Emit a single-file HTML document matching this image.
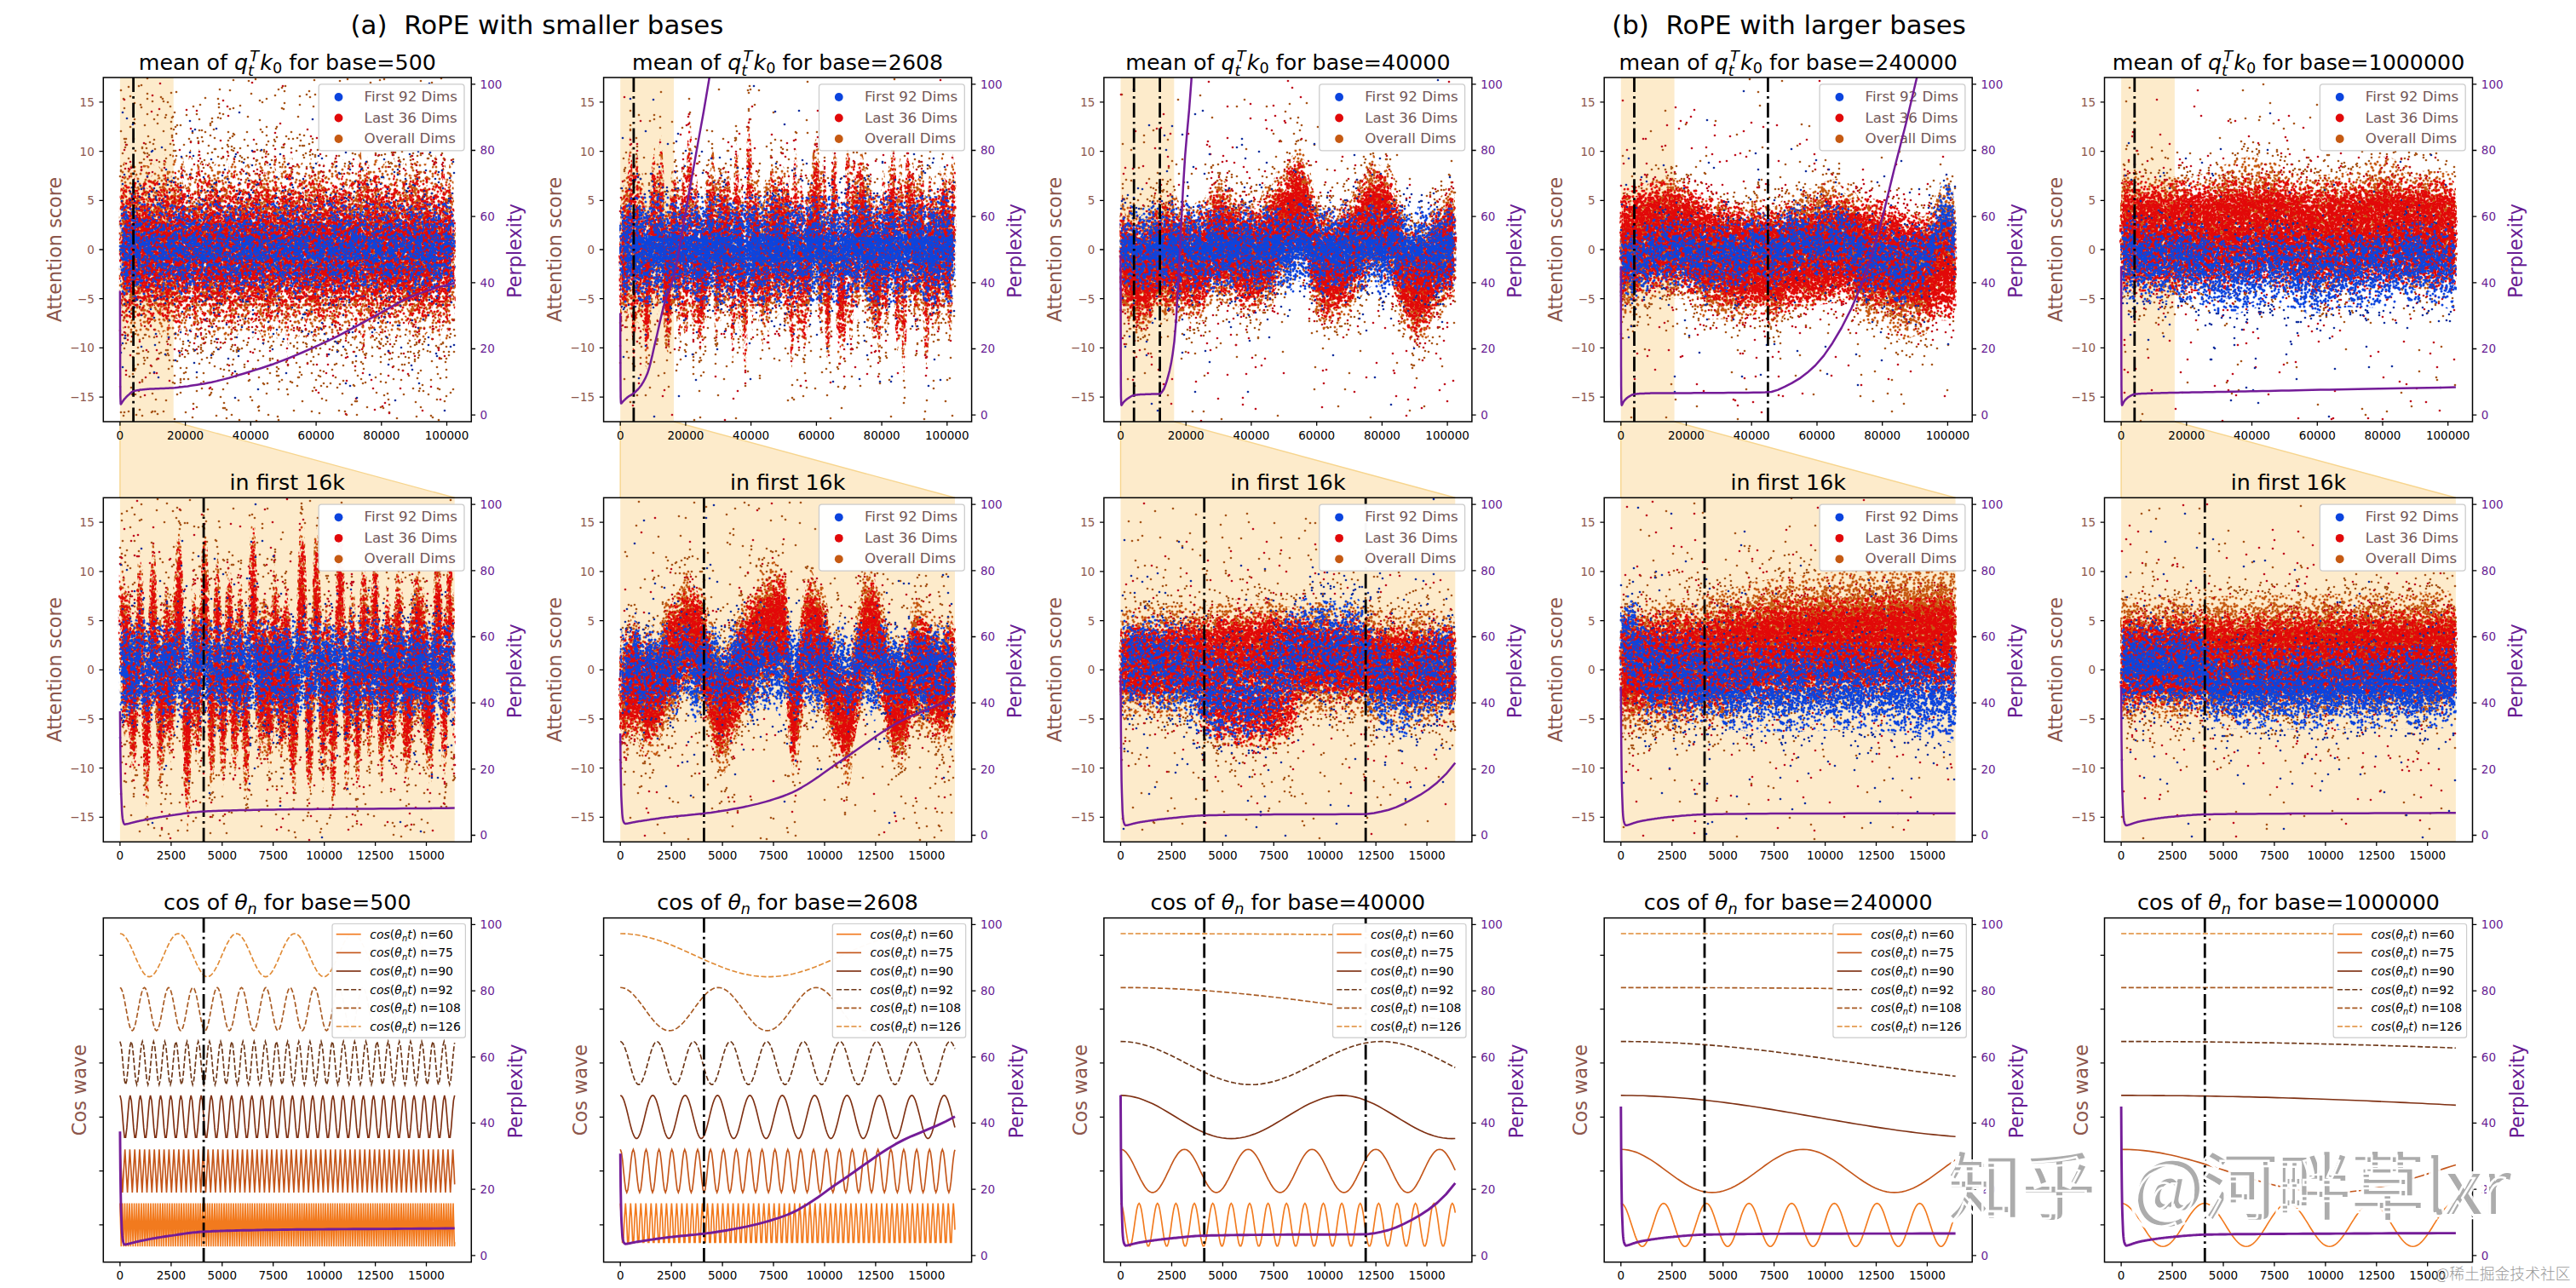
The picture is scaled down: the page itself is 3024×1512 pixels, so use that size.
<!DOCTYPE html><html><head><meta charset="utf-8"><style>html,body{margin:0;padding:0;background:#fff;}svg{display:block}</style></head><body><svg width="3024" height="1512" viewBox="0 0 3024 1512" font-family="'DejaVu Sans', 'Liberation Sans', sans-serif">
<rect width="3024" height="1512" fill="#fff"/>
<text x="630.5" y="40" font-size="30.85" fill="#000" text-anchor="middle" >(a)&#160; RoPE with smaller bases</text>
<text x="2100" y="40" font-size="30.85" fill="#000" text-anchor="middle" >(b)&#160; RoPE with larger bases</text>
<path d="M140.9 495L203.8 495L533.7 584.3L140.9 584.3Z" fill="#fdebcb"/>
<path d="M140.9 584.3L140.9 495M203.8 495L533.7 584.3" stroke="#f7d58e" stroke-width="1.4" fill="none"/>
<path d="M728.2 495L791.1 495L1121 584.3L728.2 584.3Z" fill="#fdebcb"/>
<path d="M728.2 584.3L728.2 495M791.1 495L1121 584.3" stroke="#f7d58e" stroke-width="1.4" fill="none"/>
<path d="M1315.5 495L1378.4 495L1708.3 584.3L1315.5 584.3Z" fill="#fdebcb"/>
<path d="M1315.5 584.3L1315.5 495M1378.4 495L1708.3 584.3" stroke="#f7d58e" stroke-width="1.4" fill="none"/>
<path d="M1902.8 495L1965.7 495L2295.6 584.3L1902.8 584.3Z" fill="#fdebcb"/>
<path d="M1902.8 584.3L1902.8 495M1965.7 495L2295.6 584.3" stroke="#f7d58e" stroke-width="1.4" fill="none"/>
<path d="M2490.1 495L2553 495L2882.9 584.3L2490.1 584.3Z" fill="#fdebcb"/>
<path d="M2490.1 584.3L2490.1 495M2553 495L2882.9 584.3" stroke="#f7d58e" stroke-width="1.4" fill="none"/>
<rect x="140.9" y="91" width="62.8" height="404" fill="#fdebcb"/>
<defs><pattern id="po0" patternUnits="userSpaceOnUse" width="59" height="61"><path d="M-2 29h0m0 20h0m2-40h0m1 29h0m0-7h0m1 22h0m1-21h0m1-2h0m1 21h0m0-41h0m0 40h0m0-29h0m0 8h0m0 14h0m1 4h0m1-5h0m1-43h0m0 61h0m1-37h0m0 10h0m1-32h0m0 61h0m0-53h0m0 17h0m0-26h0m0 61h0m1-62h0m0 61h0m0-23h0m0-24h0m0-10h0m0 55h0m1-44h0m0-12h0m0 61h0m0-8h0m1-8h0m0-5h0m0-13h0m0-12h0m1 20h0m1 1h0m0-15h0m0 14h0m0 3h0m0 14h0m0 0h0m0-21h0m0-24h0m1 1h0m0 36h0m0-23h0m0 4h0m1 31h0m0-5h0m0-14h0m1-10h0m0 4h0m0-26h0m1 34h0m0 6h0m1-28h0m0 31h0m0-51h0m0 61h0m0-1h0m0-58h0m0 61h0m0-36h0m0-5h0m1-10h0m1 40h0m0-32h0m0 11h0m1 11h0m1 9h0m1-3h0m0-18h0m1-10h0m0 34h0m0-53h0m0 61h0m1-23h0m0-28h0m1-3h0m0 39h0m0-40h0m0 35h0m0-15h0m1 21h0m0-16h0m0-6h0m1 15h0m0-36h0m2 23h0m0 30h0m1-39h0m2 35h0m0-9h0m0-12h0m1-19h0m0 8h0m0-19h0m0 22h0m1-14h0m0 0h0m2-3h0m0-4h0m1 15h0m0 29h0m0-34h0m1-13h0m0 61h0m1-39h0m1 32h0m0-1h0m1-26h0m0-24h0m1 36h0m1 16h0m0-22h0m1-12h0m1-5h0m1-13h0m1 42h0m1 9h0m0-42h0m0-14h0m0 61h0m1-17h0m0-11h0m0-19h0m0-6h0m1 22h0m0-24h0m1 16h0m1 23h0m0-32h0m0-12h0m0 61h0m1-7h0m0-40h0m0 8h0m1 25h0m0-17h0m0 20h0m2-40h0m1 29h0m0-7h0m1 22h0" stroke="#c65a12" stroke-width="3.0" stroke-linecap="round"/></pattern><pattern id="po1" patternUnits="userSpaceOnUse" width="53" height="59"><path d="M-1 52h0m0-34h0m0 11h0m3 1h0m0 26h0m1-13h0m1 11h0m0-38h0m2 6h0m0 19h0m1 3h0m0-34h0m1-2h0m1 35h0m0-33h0m1 37h0m1-19h0m0-18h0m2 47h0m0-26h0m1-28h0m1 22h0m2-5h0m0 5h0m1-18h0m1-3h0m0 13h0m1 4h0m0 27h0m0-31h0m1 29h0m2-23h0m0-16h0m0 22h0m1-20h0m0 40h0m0-25h0m2 8h0m0-28h0m1 9h0m2-10h0m3 39h0m2-3h0m2-32h0m0 33h0m2-17h0m1-19h0m0 17h0m1-8h0m2 28h0m1-38h0m0 14h0m3-13h0m0-5h0m0 59h0m1-60h0m0 59h0m1-47h0m0-10h0m0 59h0m1-60h0m0 59h0m1-5h0m0-10h0m0-4h0m1 7h0m1 6h0m0-34h0m0 11h0m3 1h0m0 26h0" stroke="#c65a12" stroke-width="3.0" stroke-linecap="round"/></pattern><pattern id="po2" patternUnits="userSpaceOnUse" width="47" height="53"><path d="M3 30h0m1-16h0m2 26h0m0-2h0m1-3h0m0-37h0m0 53h0m0-12h0m1 6h0m0-19h0m0-3h0m0 22h0m2-45h0m0 53h0m1-32h0m1-23h0m0 53h0m0-3h0m2-20h0m0-3h0m2 14h0m1-25h0m1 1h0m0 11h0m1-18h0m0 23h0m1-7h0m0 19h0m2-20h0m0-4h0m0 31h0m0-27h0m0-24h0m0 53h0m1-26h0m3-6h0m1-17h0m0 28h0m0-31h0m0 53h0m1-46h0m0 44h0m1-47h0m1 13h0m1-2h0m0 20h0m0-22h0m3 18h0m0-26h0m0 15h0m1-15h0m0 36h0m3 8h0m0-48h0m0 53h0m2-43h0m0 7h0m0 16h0m1 3h0m2 1h0m1-36h0m0 53h0m0-39h0m1 24h0" stroke="#c65a12" stroke-width="3.0" stroke-linecap="round"/></pattern><pattern id="po3" patternUnits="userSpaceOnUse" width="43" height="47"><path d="M0 35h0m0 0h0m0-9h0m1-12h0m0 13h0m2-15h0m3 8h0m1-6h0m2-1h0m2 14h0m0-17h0m0 14h0m1-10h0m1-11h0m0 5h0m1 0h0m2 2h0m0 34h0m0-18h0m1 9h0m0 0h0m0-13h0m1-11h0m0 24h0m1-21h0m0 13h0m0-24h0m1 5h0m1 27h0m3-18h0m0 9h0m1-21h0m0 14h0m0-4h0m1 6h0m0 15h0m1 7h0m0-29h0m1-1h0m0 13h0m0-6h0m1 11h0m2-24h0m0 37h0m1-41h0m0 39h0m1-40h0m0 3h0m2 24h0m1-30h0m0 47h0m1-40h0m0 7h0m2 28h0m0-13h0m0 1h0m4 6h0m0 0h0m0-9h0m1-12h0m0 13h0" stroke="#c65a12" stroke-width="3.0" stroke-linecap="round"/></pattern><pattern id="po4" patternUnits="userSpaceOnUse" width="41" height="43"><path d="M0 9h0m0 5h0m0 22h0m1-9h0m1-16h0m1 21h0m0-9h0m1 17h0m0-36h0m1 16h0m0-10h0m1 13h0m0 0h0m2-12h0m0-8h0m1 1h0m1-6h0m0 43h0m0-15h0m1-7h0m1 21h0m1-8h0m0-21h0m0 8h0m1 8h0m0-22h0m1-6h0m0 43h0m1-17h0m1-8h0m1 5h0m0 6h0m0-21h0m3 25h0m0-12h0m1-10h0m1 10h0m0 13h0m1-30h0m0 8h0m0 17h0m0-26h0m1 12h0m0-14h0m0 43h0m0-40h0m0 13h0m0-7h0m1 18h0m0-20h0m3 15h0m2 15h0m0-22h0m0 12h0m3-28h0m0 43h0m0-4h0m0-24h0m1 14h0m1-10h0m1 15h0m0 7h0m0-8h0m0-26h0m4 3h0m0 5h0m0 22h0m1-9h0m1-16h0" stroke="#c65a12" stroke-width="3.0" stroke-linecap="round"/></pattern><pattern id="po5" patternUnits="userSpaceOnUse" width="37" height="41"><path d="M-2 8h0m0 21h0m0-13h0m1 1h0m1 5h0m0-7h0m1-4h0m1-9h0m0 4h0m0 27h0m1-1h0m1-10h0m0 4h0m1-21h0m0 28h0m1-11h0m0 5h0m0-1h0m0 2h0m1-4h0m0 10h0m3-3h0m0-20h0m0 11h0m0-10h0m1 22h0m0-35h0m0 41h0m0-16h0m1 7h0m0-13h0m1 2h0m0 14h0m1-36h0m0 41h0m0-29h0m0 22h0m1-21h0m0 1h0m2 2h0m0 14h0m0-29h0m0 41h0m1-13h0m0-12h0m0-13h0m2 5h0m1 32h0m0-23h0m1-14h0m0 34h0m0-6h0m0 7h0m0-36h0m0 41h0m2-7h0m1-11h0m0 4h0m1-25h0m0 22h0m1-26h0m0 41h0m0-34h0m0 24h0m0-16h0m0-5h0m1 14h0m0-15h0m0 8h0m2 15h0m0-25h0m1 17h0m0 9h0m0-5h0m2-11h0m0 10h0m0 1h0m1-24h0m0 11h0m1-4h0m0-2h0m0 0h0m0 21h0m0-13h0m1 1h0m1 5h0m0-7h0m1-4h0m1-9h0m0 4h0" stroke="#c65a12" stroke-width="3.0" stroke-linecap="round"/></pattern><pattern id="po6" patternUnits="userSpaceOnUse" width="31" height="37"><path d="M-2 11h0m0 3h0m0 19h0m1-10h0m0-10h0m0-3h0m0-1h0m0-8h0m0 37h0m1-14h0m0-25h0m0 37h0m0-13h0m0 7h0m1 3h0m0-35h0m0 37h0m0-27h0m0 16h0m0 5h0m0-12h0m0 1h0m0-10h0m1 8h0m0 6h0m0-4h0m1 5h0m0-1h0m0 2h0m0-10h0m0-10h0m1 27h0m0 0h0m0-10h0m0-23h0m0 37h0m0-22h0m0 2h0m0 0h0m1-5h0m0 21h0m0-21h0m0 2h0m0 20h0m1-8h0m0-20h0m0 5h0m1 24h0m0-17h0m0-8h0m0 21h0m0-18h0m0 8h0m1-20h0m0 37h0m0-34h0m0 37h0m1-35h0m0 3h0m0 22h0m0-15h0m1 1h0m1-2h0m0-2h0m0 1h0m0-2h0m0 16h0m0-18h0m0 21h0m1-21h0m0-9h0m0 37h0m0-36h0m0 37h0m0-14h0m0-24h0m0 37h0m1-19h0m0 5h0m0-21h0m0 37h0m0-39h0m0 37h0m1-2h0m0-6h0m0-26h0m0 26h0m0-7h0m1-16h0m0 21h0m0-4h0m0 5h0m0-15h0m0-5h0m0 6h0m1 16h0m0-18h0m0 4h0m0 1h0m1-9h0m0 2h0m0 8h0m0 13h0m0-12h0m0-10h0m1 21h0m0-15h0m0 8h0m0-8h0m0-12h0m0 12h0m0 18h0m1-16h0m0-5h0m0-10h0m0 37h0m0-24h0m1-10h0m0 24h0m0-23h0m0 2h0m1 25h0m0-27h0m0 5h0m0 8h0m1 16h0m0-1h0m0 0h0m0-27h0m0 13h0m1-18h0m0 37h0m0-17h0m0-7h0m1-15h0m0 37h0m0-32h0m0 27h0m0-3h0m1-20h0m0 10h0m0-8h0m0 13h0m2-14h0m0 18h0m0-17h0m0-5h0m1 5h0m0 1h0m0 3h0m0 12h0m0-25h0m0 37h0m1-20h0m0 12h0m0-19h0m0 3h0m0 19h0m1-10h0m0-10h0m0-3h0m0-1h0m0-8h0m0 37h0m1-14h0m0-25h0m0 37h0m0-13h0m0 7h0m1 3h0m0-35h0m0 37h0m0-27h0m0 16h0m0 5h0m0-12h0m0 1h0m0-10h0m1 8h0m0 6h0m0-4h0" stroke="#c65a12" stroke-width="3.0" stroke-linecap="round"/></pattern><pattern id="pr0" patternUnits="userSpaceOnUse" width="61" height="67"><path d="M-1 60h0m0-45h0m0 1h0m1 42h0m0-52h0m0 37h0m1-30h0m0 45h0m1-47h0m0 0h0m0 4h0m1 9h0m1-21h0m0 29h0m0-25h0m0 55h0m1-5h0m0-8h0m0-47h0m0 67h0m1-47h0m0 25h0m1 2h0m1-14h0m0-2h0m1-11h0m0 14h0m0-21h0m1 8h0m0 32h0m0 5h0m0-33h0m1 22h0m0-14h0m0-30h0m1 3h0m0 28h0m1-26h0m0 2h0m0 27h0m0 14h0m1-47h0m0 2h0m0 28h0m0-4h0m0 18h0m1 1h0m0-45h0m0 59h0m1-44h0m0 34h0m0 8h0m0-16h0m1-41h0m1 24h0m0-17h0m0 46h0m2-38h0m1 31h0m0-16h0m1-5h0m1 11h0m0-40h0m1 41h0m1-26h0m1 13h0m0 28h0m0 4h0m0-64h0m0 67h0m0-23h0m0-18h0m1 11h0m0-16h0m0 42h0m0-7h0m1-2h0m0-9h0m0 0h0m1 18h0m0-42h0m0 29h0m0 8h0m1-33h0m0 13h0m0 22h0m0-51h0m1 37h0m0-7h0m0-32h0m0-4h0m0 67h0m2-19h0m0-22h0m0 6h0m0 30h0m0-56h0m1 51h0m0-31h0m0-23h0m1 1h0m0 46h0m0-42h0m1 28h0m0-21h0m0 42h0m0-52h0m1 8h0m0 9h0m2 31h0m0-31h0m1 12h0m0-28h0m4 51h0m0-13h0m1 1h0m1 15h0m0-35h0m1 7h0m0-18h0m0 2h0m0-17h0m0 67h0m1-65h0m1 62h0m0-49h0m0-12h0m1-2h0m0 67h0m0-15h0m1-49h0m0 36h0m1 5h0m0-35h0m0 29h0m1 25h0m0-10h0m0-42h0m0 39h0m1-8h0m0-20h0m0-5h0m0-17h0m0 67h0m0-13h0m1-22h0m0-28h0m0 7h0m1 48h0m0-20h0m0 21h0m1-12h0m0-14h0m0-35h0m0 67h0m0-45h0m1 11h0m0-20h0m2 47h0m0-45h0m0 1h0m1 42h0m0-52h0m0 37h0m1-30h0m0 45h0m1-47h0m0 0h0" stroke="#e20808" stroke-width="3.0" stroke-linecap="round"/></pattern><pattern id="pr1" patternUnits="userSpaceOnUse" width="59" height="61"><path d="M2 27h0m4-7h0m1-2h0m0 16h0m1-2h0m1 14h0m1 6h0m1-9h0m1 3h0m0-37h0m2 7h0m1 43h0m0-49h0m2 10h0m1 38h0m0-10h0m1-1h0m0-4h0m1 16h0m0-24h0m0 13h0m1 8h0m2-55h0m0 61h0m2-63h0m0 61h0m0-12h0m0-8h0m3 1h0m0-10h0m1 3h0m1-9h0m0-17h0m1 10h0m2 38h0m0-27h0m1 22h0m0-37h0m0 2h0m0-6h0m1-4h0m1 31h0m1 12h0m0 2h0m1-45h0m1 42h0m1-12h0m1 12h0m0-30h0m3 26h0m0-21h0m1-7h0m1-13h0m1 24h0m0 22h0m2 0h0m0-4h0m0 14h0m1-45h0m0-7h0m1 32h0m1 4h0m0-30h0m0-13h0m0 61h0m0-34h0m1-19h0m1 2h0m0 1h0m1 26h0m1-2h0m0 8h0m1-43h0m0 61h0m0-12h0m4-22h0" stroke="#e20808" stroke-width="3.0" stroke-linecap="round"/></pattern><pattern id="pr2" patternUnits="userSpaceOnUse" width="53" height="59"><path d="M-1 33h0m0-14h0m0 36h0m0-55h0m0 59h0m1-33h0m0-2h0m2 2h0m0 2h0m1 25h0m1-32h0m1 8h0m0 25h0m0-47h0m0 3h0m2 32h0m0-11h0m1-14h0m0 29h0m0-15h0m1-10h0m5 14h0m0 0h0m1-15h0m1 13h0m0-24h0m1 36h0m0-31h0m0 43h0m1-57h0m0 59h0m0-34h0m1 14h0m0 7h0m1-21h0m1-2h0m1 29h0m0-47h0m1 26h0m1-33h0m0 59h0m0-27h0m1-18h0m0 4h0m3 25h0m1-1h0m0 12h0m1 3h0m0-52h0m0 29h0m1 10h0m1-35h0m1 49h0m0-30h0m0-21h0m1 26h0m1 12h0m0-33h0m0 43h0m1 0h0m0-26h0m2 22h0m0 5h0m1-4h0m0-18h0m0-28h0m1 11h0m3 29h0m1-20h0m2-26h0m0 59h0m1-26h0m0-25h0m0 17h0m2 7h0m1 4h0m2-1h0m0-14h0m0 36h0m0-55h0m0 59h0m1-33h0m0-2h0m2 2h0" stroke="#e20808" stroke-width="3.0" stroke-linecap="round"/></pattern><pattern id="pr3" patternUnits="userSpaceOnUse" width="47" height="53"><path d="M-2 18h0m0-2h0m0 17h0m0-24h0m4 18h0m2-12h0m1-11h0m1-6h0m0 53h0m2-47h0m0 23h0m0-14h0m0 28h0m1-41h0m0 53h0m0-36h0m0 0h0m2 5h0m0 20h0m1-1h0m1-21h0m1 20h0m1-14h0m1-17h0m0-9h0m0 53h0m0-39h0m2-4h0m0 16h0m0-27h0m0 53h0m1-20h0m0-26h0m0 37h0m0-33h0m1 23h0m0-7h0m1 21h0m0-48h0m0 53h0m1-8h0m0-23h0m2 10h0m2-14h0m0-12h0m0 17h0m0-8h0m2 0h0m0-2h0m0 13h0m0-6h0m1 11h0m1 13h0m1-29h0m0-7h0m0 35h0m1-33h0m0 39h0m1-1h0m0-5h0m2-25h0m1-18h0m0 53h0m0-6h0m2-36h0m1 15h0m0-17h0m0-6h0m1 39h0m1-11h0m0-12h0m1-10h0m1 9h0m0 4h0m2-3h0m0-2h0m0 17h0m0-24h0" stroke="#e20808" stroke-width="3.0" stroke-linecap="round"/></pattern><pattern id="pr4" patternUnits="userSpaceOnUse" width="43" height="47"><path d="M-2 6h0m1 6h0m0-6h0m1 38h0m0-24h0m0 20h0m1-1h0m0-29h0m0-10h0m0 47h0m1-35h0m1 27h0m3-25h0m0 25h0m1-18h0m0 2h0m0 17h0m0-7h0m1-31h0m0 28h0m1-23h0m1 34h0m0-2h0m1-15h0m0 0h0m1-10h0m0 19h0m0-6h0m0 15h0m0-42h0m0 47h0m3-31h0m1 2h0m1 19h0m0-3h0m0-14h0m0-9h0m0 30h0m3-43h0m0 47h0m0-7h0m3-29h0m2 13h0m0 13h0m1 7h0m1-38h0m0-3h0m0 47h0m0-38h0m1 21h0m0-21h0m0 24h0m1-8h0m0-25h0m0 47h0m0-27h0m0 9h0m0-24h0m2 30h0m0-34h0m0 47h0m1-34h0m2 14h0m0-6h0m1-25h0m0 47h0m1-23h0m0 1h0m1 6h0m1 7h0m1-21h0m0 27h0m1 3h0m0-39h0m0 9h0m1-9h0m1 6h0m0-6h0m1 38h0m0-24h0m0 20h0m1-1h0m0-29h0m0-10h0m0 47h0m1-35h0" stroke="#e20808" stroke-width="3.0" stroke-linecap="round"/></pattern><pattern id="pr5" patternUnits="userSpaceOnUse" width="41" height="43"><path d="M-2 33h0m0-16h0m1-4h0m0 6h0m1 9h0m0 12h0m0-2h0m0-35h0m1 19h0m2-2h0m1 17h0m1-25h0m0 6h0m1-15h0m0 31h0m1 2h0m0-29h0m0-2h0m0 30h0m1-24h0m0 17h0m0-23h0m0 24h0m1 10h0m0-33h0m1 15h0m0-6h0m0 11h0m0 10h0m0-28h0m1 29h0m1-10h0m1-8h0m0-5h0m1 12h0m0 3h0m0 4h0m1-13h0m0 13h0m1 2h0m0 3h0m0-22h0m1-14h0m0 43h0m1-45h0m0 43h0m0-37h0m1 7h0m0 13h0m2 5h0m0-3h0m0-4h0m1 16h0m1-12h0m1-21h0m0 30h0m1-32h0m0-1h0m0 17h0m1-13h0m0-3h0m1 29h0m0-10h0m1 7h0m0-14h0m0 12h0m1 2h0m0-16h0m1-7h0m0 8h0m0 12h0m1-22h0m0 27h0m0-24h0m0-1h0m0-2h0m1 23h0m0 4h0m1-28h0m0 3h0m2 22h0m0-29h0m0 43h0m1-45h0m0 43h0m0-43h0m0 43h0m0-21h0m1 17h0m0-5h0m1-13h0m1 2h0m0 15h0m0-4h0m0-16h0m1-4h0m0 6h0m1 9h0m0 12h0m0-2h0m0-35h0m1 19h0" stroke="#e20808" stroke-width="3.0" stroke-linecap="round"/></pattern><pattern id="pr6" patternUnits="userSpaceOnUse" width="37" height="41"><path d="M-2 4h0m0-5h0m0 41h0m0-7h0m0-3h0m1-19h0m0 17h0m0-18h0m0 29h0m0-9h0m1-4h0m0-2h0m0 11h0m0-31h0m0 7h0m0-9h0m0 28h0m1 8h0m0-13h0m0-14h0m0-6h0m0 6h0m0 16h0m0-17h0m0 13h0m1 13h0m0-21h0m0-11h0m0-4h0m0 41h0m2-37h0m0 16h0m0-16h0m0 15h0m0-6h0m0 4h0m0 19h0m0-12h0m0-13h0m0 25h0m0-30h0m1 4h0m0 14h0m0-18h0m0 1h0m0-1h0m0-3h0m1 27h0m0 4h0m0-23h0m0-9h0m0 41h0m0-14h0m1-28h0m0 41h0m0-20h0m0 12h0m0-19h0m0-15h0m0 41h0m1-18h0m0 1h0m0-24h0m0 41h0m0-13h0m0 4h0m1-34h0m0 41h0m0-10h0m0-19h0m0-8h0m0 41h0m0-12h0m0-20h0m0 23h0m0-32h0m0 41h0m1-13h0m0-29h0m0 41h0m0-33h0m0 26h0m1-29h0m0 20h0m1-5h0m0 13h0m0-9h0m1-16h0m0-6h0m0 22h0m0 0h0m0 8h0m0-24h0m0 27h0m0-15h0m1 9h0m0-25h0m0 10h0m0-2h0m0 12h0m0-15h0m0 13h0m1 11h0m0-21h0m0 23h0m0-9h0m0 6h0m0 1h0m0 4h0m0-5h0m0 5h0m0-9h0m1-17h0m0 23h0m0-17h0m2 18h0m0-5h0m0-30h0m0 41h0m0-4h0m1-26h0m0-6h0m0 11h0m0-4h0m0 7h0m0 15h0m1-6h0m0-9h0m1-6h0m0-8h0m0 22h0m0 0h0m0-22h0m0 30h0m1-14h0m0 3h0m0-12h0m0-8h0m1 13h0m0 6h0m0-14h0m1-1h0m0 23h0m0 2h0m0-25h0m0 11h0m1 3h0m0 10h0m0-33h0m0 41h0m0-15h0m0-7h0m1-18h0m0 41h0m0-31h0m0 1h0m0 27h0m0-36h0m0 9h0m1 9h0m0-18h0m0 18h0m0-22h0m0 41h0m0-7h0m1 2h0m0-22h0m0 13h0m0 6h0m0-2h0m1-13h0m0-3h0m0 12h0m0 2h0m1 4h0m0-27h0m0 22h0m0-4h0m1-2h0m0-6h0m0 15h0m1 6h0m0-32h0m0 17h0m1-17h0m0-1h0m0 33h0m1-6h0m0-16h0m0-12h0m0 41h0m0-11h0m0-19h0m0-4h0m0 29h0m0-25h0m0-13h0m0 41h0m0-2h0m1-35h0m0 8h0m0-8h0m0-5h0m0 41h0m0-7h0m0-3h0m1-19h0m0 17h0m0-18h0m0 29h0m0-9h0m1-4h0m0-2h0m0 11h0m0-31h0m0 7h0m0-9h0m0 28h0m1 8h0m0-13h0m0-14h0m0-6h0m0 6h0m0 16h0m0-17h0m0 13h0m1 13h0m0-21h0" stroke="#e20808" stroke-width="3.0" stroke-linecap="round"/></pattern><pattern id="pb0" patternUnits="userSpaceOnUse" width="67" height="71"><path d="M-2 46h0m1-17h0m0 16h0m1-39h0m1 22h0m0 26h0m1 0h0m0-22h0m0 23h0m1-17h0m1-18h0m0 9h0m2-24h0m1 4h0m0 37h0m1 6h0m1-14h0m0-19h0m0 14h0m0-24h0m1 49h0m0-53h0m1 15h0m0-11h0m1-4h0m0 56h0m0-30h0m0 29h0m1-16h0m0-30h0m0 52h0m1-60h0m0 23h0m0 10h0m0-3h0m0 4h0m0-26h0m0 54h0m1-14h0m0 13h0m1-49h0m0-20h0m0 71h0m1-11h0m0 10h0m1-19h0m0 5h0m1-42h0m0 20h0m1-27h0m0 14h0m1-17h0m0 36h0m0-14h0m0 43h0m1-2h0m0-19h0m1 4h0m1-14h0m0-34h0m0 71h0m1-32h0m0 23h0m0 3h0m0-62h0m1 5h0m0 22h0m0-33h0m0 71h0m0-4h0m0-48h0m1-5h0m0 37h0m0-32h0m0 29h0m2-15h0m0-8h0m1 1h0m1 26h0m1-47h0m1 23h0m0 18h0m2-38h0m0 54h0m0-42h0m0 2h0m1 13h0m0-17h0m0 10h0m1-25h0m1 5h0m0 46h0m0-8h0m1-28h0m0 50h0m0-45h0m1 31h0m0-41h0m0-10h0m1 30h0m0-33h0m0 71h0m0-31h0m0-16h0m0-15h0m0 42h0m2-37h0m0-4h0m1 49h0m0 11h0m1-6h0m1-35h0m0 16h0m0-17h0m0-27h0m0 71h0m1-52h0m4 8h0m2-24h0m0 23h0m0 26h0m1-43h0m0 56h0m0-37h0m0 9h0m2-7h0m0 8h0m1-25h0m0 12h0m0 32h0m0 8h0m1-58h0m0 2h0m0 43h0m0-41h0m0 44h0m1 9h0m0-33h0m2 5h0m1 4h0m1 12h0m1-53h0m0 71h0m1-65h0m0 41h0m1-17h0m0 16h0m1-39h0m1 22h0m0 26h0m1 0h0m0-22h0" stroke="#0b44de" stroke-width="3.0" stroke-linecap="round"/></pattern><pattern id="pb1" patternUnits="userSpaceOnUse" width="61" height="67"><path d="M-2 51h0m1-44h0m1-7h0m0 67h0m0-4h0m1-5h0m1-48h0m0 25h0m2 19h0m1-52h0m2 35h0m1 14h0m1-53h0m0 67h0m1-31h0m2-15h0m1 0h0m1 13h0m0 30h0m0-41h0m1 2h0m0-20h0m3 6h0m1 22h0m0 14h0m1-24h0m0 8h0m1 26h0m1-35h0m0 16h0m1-22h0m0 34h0m1 6h0m1-46h0m0 57h0m2-13h0m0 1h0m1 2h0m1-29h0m1-4h0m1 5h0m0-12h0m1 28h0m1 4h0m2-29h0m1 13h0m0-31h0m0 67h0m0-22h0m1-21h0m0-10h0m2-16h0m0 67h0m1-25h0m0-3h0m1 26h0m2-2h0m1 1h0m0-44h0m0-11h0m2 9h0m0 3h0m1-7h0m2 15h0m0-9h0m1-8h0m2-5h0m2 43h0m2-24h0m1 30h0m0-40h0m1 20h0m1 17h0m1-44h0m1-7h0m0 67h0m0-4h0m1-5h0" stroke="#0b44de" stroke-width="3.0" stroke-linecap="round"/></pattern><pattern id="pb2" patternUnits="userSpaceOnUse" width="59" height="61"><path d="M-2 19h0m0 24h0m1-28h0m0 36h0m1-6h0m1-10h0m0 20h0m1-29h0m1 22h0m0-12h0m1-37h0m0 61h0m1-35h0m1 24h0m3-43h0m1 25h0m0-10h0m0 34h0m4-1h0m1 5h0m0-39h0m1 4h0m1-19h0m1 47h0m1 4h0m1-18h0m0-33h0m0 38h0m1 2h0m1-34h0m3 14h0m1 7h0m1-32h0m0 61h0m0-19h0m1-43h0m0 61h0m0-25h0m1-14h0m0 24h0m1-45h0m0 61h0m0-62h0m0 61h0m2-48h0m0-11h0m0 61h0m1-15h0m3-21h0m0 26h0m1-38h0m0 7h0m1-13h0m2 7h0m0 15h0m0-8h0m3-9h0m1 6h0m0 16h0m1-29h0m0 2h0m1 51h0m0-38h0m0-2h0m5 12h0m0 4h0m0-19h0m0 15h0m1 10h0m0-26h0m0 28h0m0-14h0m1 21h0m4-31h0m0 24h0m1-28h0m0 36h0m1-6h0m1-10h0m0 20h0" stroke="#0b44de" stroke-width="3.0" stroke-linecap="round"/></pattern><pattern id="pb3" patternUnits="userSpaceOnUse" width="53" height="59"><path d="M-1 19h0m1 8h0m3 17h0m0 5h0m1-5h0m0-32h0m0 31h0m1-37h0m0-2h0m3 42h0m1-25h0m0-4h0m2 32h0m0 4h0m2-6h0m1 0h0m0-22h0m0-13h0m1 41h0m0-33h0m1 29h0m1 7h0m1-52h0m0 41h0m1-10h0m1-33h0m1-4h0m0 59h0m0-7h0m1 5h0m3-46h0m1 9h0m0 28h0m0-29h0m0-5h0m0 19h0m1-23h0m2 19h0m0-19h0m0-4h0m1 48h0m1-34h0m0 15h0m1 17h0m1-42h0m0 2h0m0-9h0m0 59h0m0-44h0m1-1h0m0-13h0m0 59h0m1-5h0m0-39h0m1 3h0m0-13h0m1 9h0m1 7h0m2 24h0m0-38h0m0 44h0m2-30h0m0 3h0m1 27h0m1-14h0m1 8h0m2-8h0m1-33h0m0 35h0m1 2h0m0-24h0m3 0h0m1 8h0" stroke="#0b44de" stroke-width="3.0" stroke-linecap="round"/></pattern><pattern id="pb4" patternUnits="userSpaceOnUse" width="47" height="53"><path d="M-1 1h0m0 53h0m0-42h0m2 26h0m1-14h0m0 6h0m1 15h0m0-22h0m1 7h0m1-26h0m0 27h0m3 7h0m1-17h0m1-7h0m1 17h0m0-10h0m0 8h0m0-3h0m1-7h0m1-2h0m0-4h0m0 23h0m1-13h0m0-6h0m2 26h0m1-35h0m1 26h0m0-9h0m0 5h0m1-23h0m0-6h0m0 53h0m1-38h0m0 12h0m0 2h0m2 2h0m0-25h0m1 22h0m0-11h0m0 4h0m0 1h0m1 3h0m1-26h0m0 53h0m0-5h0m0-37h0m1 29h0m5-9h0m1-9h0m0 27h0m0-11h0m0 7h0m2-37h0m0 42h0m0-18h0m2-27h0m0 22h0m1-11h0m0-4h0m1 25h0m2-26h0m1 3h0m0 27h0m0-5h0m0-9h0m1-13h0m1 36h0m0-28h0m0 1h0m1 16h0m2-38h0m0 53h0m0-42h0m2 26h0m1-14h0" stroke="#0b44de" stroke-width="3.0" stroke-linecap="round"/></pattern><pattern id="pb5" patternUnits="userSpaceOnUse" width="43" height="47"><path d="M-2 12h0m1 29h0m0-6h0m1-37h0m0 47h0m0-19h0m0-27h0m0 47h0m1-8h0m0-22h0m1-3h0m0-2h0m1-2h0m0-8h0m0 47h0m1-17h0m0-7h0m0 13h0m1-16h0m1-4h0m0 8h0m0 13h0m0-2h0m1 7h0m2-6h0m0-19h0m0 9h0m0-25h0m0 47h0m1-20h0m0-29h0m0 47h0m2-5h0m0-23h0m3-6h0m0-12h0m0 47h0m0-38h0m0 18h0m1 3h0m0 5h0m1 0h0m0-18h0m0-7h0m1 21h0m0 1h0m1-3h0m0-10h0m1-3h0m0 10h0m3-9h0m0 3h0m0-6h0m2 24h0m0-12h0m0-4h0m0 21h0m1-23h0m0-18h0m0 18h0m0-17h0m1 37h0m1-33h0m0 9h0m3 19h0m0-35h0m0 47h0m0-46h0m0 47h0m0-33h0m0-17h0m0 47h0m1-1h0m0-31h0m0-2h0m0 6h0m1 9h0m0 0h0m1-9h0m0 11h0m1-22h0m0 12h0m0-7h0m1-3h0m1 26h0m1-11h0m2 19h0m0-6h0m1 5h0m0-30h0m1 29h0m0-6h0m1-37h0m0 47h0m0-19h0m0-27h0m0 47h0m1-8h0m0-22h0m1-3h0m0-2h0" stroke="#0b44de" stroke-width="3.0" stroke-linecap="round"/></pattern><pattern id="pb6" patternUnits="userSpaceOnUse" width="41" height="43"><path d="M-2 3h0m1 0h0m0 34h0m0-2h0m1-5h0m0-32h0m0 43h0m1-39h0m0 43h0m0-34h0m0 29h0m1-7h0m0-32h0m0 43h0m0-12h0m0-22h0m0 15h0m1-25h0m0 43h0m0-6h0m0-14h0m0-12h0m0-3h0m1 15h0m0 1h0m0-5h0m1 8h0m0 7h0m0-10h0m0 0h0m0 5h0m1-7h0m0-14h0m0 22h0m0 4h0m0-23h0m0 19h0m0-8h0m0-19h0m1 35h0m0-20h0m0 6h0m0-15h0m0-2h0m0 7h0m1 13h0m0 0h0m0-10h0m0 18h0m0-12h0m0-22h0m0 43h0m0-15h0m0-30h0m0 43h0m0-13h0m1 0h0m0-12h0m0 16h0m0-29h0m0 18h0m0 2h0m0-21h0m1 14h0m0 10h0m0 14h0m0-43h0m0 43h0m0-35h0m0 30h0m0-12h0m1 11h0m1 0h0m0 6h0m0-8h0m0-27h0m0 7h0m0 4h0m0 7h0m1 2h0m0-26h0m0 43h0m0-12h0m0-23h0m0 11h0m2 6h0m0-1h0m1-8h0m0 11h0m0-5h0m0 14h0m1-31h0m0 27h0m0 4h0m1-3h0m0-7h0m0-24h0m0 43h0m0-4h0m1-11h0m0 7h0m0-19h0m0 15h0m0-7h0m0-15h0m1 16h0m0 1h0m0-25h0m0 12h0m0 24h0m1-7h0m0-20h0m0 11h0m0 10h0m0 6h0m1-40h0m0 43h0m0-30h0m0 14h0m0-1h0m1-26h0m0 43h0m0-6h0m0-20h0m0-10h0m0 35h0m1-23h0m0-3h0m0-9h0m0 3h0m0 9h0m0 19h0m0-1h0m0-33h0m0 33h0m1-15h0m0 16h0m0-15h0m0-12h0m0-4h0m0 8h0m1 24h0m0-18h0m0 6h0m0-13h0m0-4h0m0 11h0m0 18h0m1-16h0m0 10h0m0 8h0m1-20h0m0 17h0m0-28h0m0 23h0m0-10h0m0 16h0m1-35h0m0 17h0m0-6h0m0-13h0m0 43h0m0-10h0m0-31h0m0 24h0m0-14h0m0-7h0m1-1h0m0 18h0m0-21h0m0 43h0m0-28h0m1 3h0m0-21h0m0 43h0m1-41h0m0 43h0m0-34h0m0-5h0m0 23h0m1-18h0m0 11h0m0 4h0m1-1h0m0-23h0m0 43h0m0-22h0m0 7h0m0 0h0m0-27h0m0 7h0m1 3h0m0-9h0m0-3h0m0 43h0m0-36h0m0 9h0m0 2h0m0-18h0m0 43h0m0-43h0m0 43h0m1-20h0m0 9h0m1-29h0m0 10h0m0-2h0m0 12h0m0-17h0m1 4h0m0-7h0m0 31h0m0-16h0m0-8h0m0 25h0m1-11h0m0 8h0m0-29h0m1 0h0m0 34h0m0-2h0m1-5h0m0-32h0m0 43h0m1-39h0m0 43h0m0-34h0m0 29h0m1-7h0m0-32h0m0 43h0m0-12h0" stroke="#0b44de" stroke-width="3.0" stroke-linecap="round"/></pattern></defs><path d="M529.8 179.5l-3 18-2 3-2-6-1-11-2-4-4 21-2-3-1-12-2-5-4 17-4-7-4 2-3-5-2 0-2 3-2-2-3 2-3-5-4 13-2-2-2-11-1 0-2 8-6 1-2-2-2-8-4 15-3-3-2-8-6 7-3-7-4-2-2 2-3 11-2-3-3-14-2 4-1 9-1 1-2-2-1-17-2-6-3 27-2 2-4-13-2 0-4 11-4-11-1 0-3 9-2-2-2-13-4 11-3-1-5 4-4-4-2 0-3-4-4 9-2-3-1-6-2-2-3 12-2 3-2-3-2-9-4 6-3-3-1 3-2 1-3-12-2-1-1 6-2 3-2-2-2-10-2 5-2 16-2 3-2-3-1-17-2-9-3 24-2 4-2-3-3-24-2 6-1 13-2 2-3-8-2 0-5 7-5-4-3 0-3 6-4-4-4 3-2-4-2-13-3 14-2-2-2-19-3 23-2 2-2-3-3-2-2 1-2-2-5 5-5-9-5 11-2-3-3-21-2 9-1 16-2 5-2-4-1-18-2-10-2 9-1 18-2 3-2-4-2-15-1-1-1 1-1 8-2 4-2-3-1-6-4-6-3 11 0 5-2 3-2-5-2-14-3 16-2 2-3-5-3 2-2-1-2-8-4 8-6-1-2-2-8-1-4 4-2-4-4 3-2-3-2 0-3 13-1 39-1 1 0 93 1 1 0 21 1 1 1 20 6 20 3-6 3 2 2-4 2-1 5 12 5-14 4 3 2 6 2-1 2-4 3 2 2-5 2-1 4 9 2-8 2-1 2 4 0 6 2 7 2-11 2-3 2 3 1 6 4 3 1 3 2-7 1-14 2-1 3 18 2 4 2-16 2-5 2 2 1 12 2 6 4-17 2 2 2 13 1 0 4-14 2-1 5 9 2-1 3-6 5 0 4 4 1 3 3-4 4 11 2-8 2-2 3 1 4-7 3 2 1 4 5-4 4 3 2 4 5-8 2-1 2 4 2 11 2 2 3-17 2 2 1 11 2 6 4-21 1-1 1 1 1 11 2 6 3-12 3-6 2 4 1 21 2 9 2-25 2-7 2 1 2 10 3-3 2 1 3-9 2-1 4 13 4-10 5 9 5-6 2 2 3-2 3 3 4-5 2 0 4 8 3-2 3 3 4-13 2 3 2 15 3-15 3-4 2 3 3 17 2-4 1-10 2-3 1 1 3 28 1 0 2-27 2-8 3 6 1 13 2 6 3-16 2-1 3 3 3 10 5-18 2 1 3 15 3-11 2-2 3 7 5 1 4-9 2 2 3 11 2-9 2-2 3 10 8-6 3 7 2-8 3-3 2 2 1 7 2 2 3-12 2 2 1 12 2 6 3-22 2-1 4 22 4-21 1-1 2 2 1-3 1-30 1-1 0-91-1-1-2-69z" fill="url(#po0)" fill-rule="evenodd"/><path d="M529.8 198.5l-2 6-1 11-2 3-2-5-1-13-2-4-2 17-2 6-2-3-1-14-2-5-2 14-2 4-2-2-2-7-4 3-4-5-3 4-2-2-3 3-3-7-4 13-2-1-2-11-2 2-2 6-3-1-2 2-4-11-4 15-2-1-3-11-2 1-2 6-2 1-3-7-4-2-2 2-1 8-2 3-2-3-2-13-2-2-2 17-2 1-4-27-2 21-2 7-2-1-3-13-2 1-4 11-2-3-2-9-1 0-2 9-1 1-2-1-2-11-2 7-2 2-1-2-4 0-4 4-3-4-3 0-2-4-2 7-2 2-2-2-1-6-2-3-2 4-1 8-2 2-2-3-2-9-4 7-3-3-1 3-2 1-4-14-4 12-2-2-2-12-2 5-3 18-2 1-2-7 0-10-2-11-3 24-2 4-2-3-3-25-4 22-2-1-3-9-6 7-8-4-3 6-4-4-4 3-2-2-2-10-2 13-2 1-3-19-2 15-2 4-5-5-4 0-2-2-4 6-5-9-5 11-3-6-2-16-2 8-1 17-2 4-2-4-3-27-3 27-2 2-5-22-2 11-2 4-2-2 0-3-5-10-1 1-2 15-2 2-2-4-2-14-4 17-2-1-2-6-4 4-3-8-4 7-6-3-8 0-2-2-4 5-3-5-3 4-4-4-2 6-1 26-1 1 0 98 1 1 1 25 5 16 2 2 2-5 4 2 1-4 2-1 5 10 2-7 3-4 4 3 2 5 4-5 3 3 2-5 2-1 4 8 2-8 2-2 2 4 2 13 2-11 2-4 2 2 1 7 3 2 2 5 2-9 0-8 2-6 2 3 3 21 2-3 1-15 2-5 2 4 3 19 4-19 2 1 1 11 2 4 3-11 3-4 5 10 5-8 5 1 4 4 1 3 3-5 2 2 2 9 4-11 4 2 3-6 2 1 2 5 5-5 4 3 2 4 4-6 3-2 3 6 2 10 4-20 2 3 3 19 3-21 2-2 1 1 3 18 5-18 2-1 4 30 2-24 2-5 2 2 2 11 3-3 3 1 1-6 3-4 4 13 4-11 2 2 3 9 4-7 3 2 3-2 3 4 3-5 3 0 4 7 3-3 3 4 4-13 2 2 2 14 4-15 2-2 2 2 3 18 2-4 1-12 2-5 2 5 2 26 2-8 1-21 2-5 2 3 2 15 2 5 2-13 2-2 4 3 2 9 1 1 1-1 1-8 3-8 2 1 3 15 3-11 2-2 4 8 4 0 4-8 2 2 3 10 2-9 2-3 4 11 7-7 3 7 2-7 3-3 2 3 2 9 4-15 2 2 1 13 2 7 4-25 2 2 3 21 2-6 1-12 2-4 2 2 1-4 0-13 1-1 0-95-1-1-1-42z" fill="url(#po1)" fill-rule="evenodd"/><path d="M529.8 212.5l-2 6-1 11-2 3-2-5-2-18-1 0-2 19-2 5-2-2-1-15-2-6-2 15-2 3-2-2-2-8-5 4-3-5-3 5-2-2-3 3-3-8-2 10-3 3-4-12-2 6-6 3-2-2-2-8-3 12-2 2-4-14-6 11-3-7-5-3-2 11-2 2-2-3-3-16-2 6-1 14-2 2-4-28-2 21-2 6-2-1-2-12-2-3-5 12-2-2-2-10-2 3-1 7-2 2-3-10-3 7-3-4-2 0-5 5-3-4-3 0-2-3-4 9-2-2-3-10-5 14-2-3-2-10-4 8-3-2-3 3-4-14-4 15-2-2-2-15-5 23-2 1-2-5-2-21-3 22-2 4-2-2-3-25-2 17-2 5-2-1-3-10-6 7-7-5-4 6-4-4-4 4-2-2-2-7-2 12-2 2-2-5-1-12-2 11-2 3-4-5-6-2-5 5-5-8-4 10-2 1-2-4-2-17-3 24-2 4-2-3-3-26-3 26-2 2-2-5 0-6-3-13-3 17-1 1-2-2-1-7-4-7-2 5-1 10-2 3-2-4-2-14-2 12-2 3-2-1-2-6-4 5-3-7-3 6-2 0-1-2-4-2-5 2-5-3-4 5-2-4-4 3-4-4-3 18-1 71 1 1 1 40 5 17 2 1 2-5 2 1 1 3 2-5 2-1 5 8 2-5 4-3 6 7 3-6 3 4 2-4 2-1 4 8 2-9 2-2 2 4 2 12 3-14 2-1 2 7 3 3 2 6 2-18 2-4 2 2 2 19 2 3 2-20 2-4 2 4 3 21 3-21 2-2 3 18 2-1 3-11 2-2 5 10 4-7 8 2 3 5 3-6 2 2 2 10 2-9 2-3 3 4 5-6 4 6 2-5 2-1 4 3 1 3 2 0 3-5 3-2 2 3 3 12 4-22 2 4 1 14 2 7 3-22 2-3 4 22 2-4 3-16 1-1 2 1 3 25 2-21 2-4 2 2 2 12 3-3 2 2 3-9 2-1 2 3 2 10 4-12 3 3 2 8 5-8 2 3 4-1 2 3 5-5 3 2 2 5 3-4 3 5 4-13 2 1 1 9 2 4 2-10 3-4 2 2 2 13 2 3 2-18 2-5 2 4 2 27 2-9 1-18 2-4 3 7 2 14 1 0 1-9 2-5 5 3 3 10 2-4 1-8 2-3 3 3 2 12 2-4 1-8 2-2 3 8 4 2 5-9 2 2 3 10 2-10 2-2 2 3 1 7 3-3 2 1 3-4 3 5 2-5 3-2 4 11 4-17 2 2 1 14 2 8 2-20 2-6 2 2 3 22 3-19 2-3 2 0 1-36 1-1-1-66-1-1 0-20z" fill="url(#po2)" fill-rule="evenodd"/><path d="M529.8 225.5l-2 6-1 11-2 2-2-4-2-19-1 0-2 20-2 5-2-2-2-21-2 4-1 11-2 2-2-3-1-6-2-2-4 6-3-6-3 6-2-1-3 3-3-10-2 10-2 3-2-1-3-11-4 8-1-1-4 1-3-9-3 12-2 1-2-3-2-11-1 0-3 10-2 2-2-2-1-5-5-3-2 11-2 2-2-4-3-16-2 8-1 16-2 2-2-7 0-11-2-11-2 20-2 5-2-1-1-8-3-8-5 13-2-1-1-8-2-4-1 7-3 6-3-7-4 4-3-5-3 1-2 4-4-4-3 1-3-2-3 8-2-2-3-10-3 11-2 2-2-3-2-10-3 8-2 1-2-2-3 3-4-14-4 19-2-3-1-13-2-4-3 18-3 5-2-4-2-21-3 22-2 3-2-2-3-23-2 18-2 4-2-2-3-11-6 7-5-5-3 0-3 5-3-2-1-3-4 5-4-6-2 11-2 3-2-5-1-10-2 8-2 2-4-6-2-1-2 1-2-2-5 6-5-9-6 12-2-3-2-16-2 8-1 14-2 4-2-3-3-24-2 20-2 6-2-1-2-17-2-6-2 16-2 4-2-2-1-7-4-8-2 5-1 10-2 2-2-3-2-14-2 11-2 3-4-8-4 5-3-6-2 5-2 1-5-5-3 0-2 3-2 0-5-4-3 6-2-4-4 4-4-6-2 9 0 17-1 1 0 62 1 1 1 23 5 12 3-5 2 1 1 3 4-6 5 6 5-5 6 6 3-6 2 1 2 4 2-4 2-1 4 8 2-11 2-2 2 4 2 13 2-12 2-4 2 1 6 14 2-17 2-3 2 3 2 18 2 3 2-22 2-3 2 4 1 14 2 8 3-23 2-2 4 20 3-9 3-4 2 1 3 9 4-7 3 1 2-1 4 3 2 4 2-7 2-2 3 14 2-10 2-3 3 6 4-5 5 5 3-6 2 0 5 6 6-8 3 3 3 11 2-19 2-4 2 4 1 15 2 8 3-24 2-2 2 5 2 19 2-4 2-14 2-5 2 1 3 21 1-12 3-8 2 2 2 12 3-3 3 2 2-8 2-1 2 3 2 10 4-13 3 2 2 9 5-9 2 4 3-1 3 4 3-4 3-1 4 6 3-5 3 6 2-9 2-3 2 1 3 12 3-12 2-2 2 2 2 12 2 4 2-20 2-6 2 3 2 28 3-25 2-3 2 3 3 17 4-14 6 5 2 8 3-10 3-4 2 4 2 11 1 0 2-11 2-3 4 10 4 0 3-7 2-1 4 12 2-11 2-2 2 3 1 6 3-3 2 2 2-4 5 4 1-3 3-2 2 2 2 8 4-18 2 2 3 22 2-20 2-5 2 2 3 21 3-19 4-6 0-12 1-1 0-52-1-1 0-25-1-1z" fill="url(#po3)" fill-rule="evenodd"/><path d="M529.8 239.5l-1 0-2 16-2 2-2-4-2-19-1 0-2 21-2 4-2-2-1-14-2-7-2 15-2 2-4-12-2 1-3 6-3-6-3 6-2-1-3 3-3-10-2 9-2 3-2-2-3-10-4 8-2-1-3 1-3-9-3 12-2 1-2-3-1-9-2-3-3 12-2 2-2-2-2-7-3-2-2 4-1 9-2 1-2-4-3-17-2 10-1 18-2 2-2-6-2-24-2 18-2 5-2-2-2-12-2-4-5 14-2-1-2-13-1 0-1 7-3 6-3-5-3 3-4-6-2 0-4 5-3-4-3 2-2-3-4 8-6-11-1 6-3 6-2-3-2-10-1 0-2 8-2 1-2-2-3 4-4-14-4 25-2-3-2-23-1 0-4 20-2 2-2-3-2-19-1 1-1 13-3 9-3-7-2-16-2 18-2 3-2-3-3-12-6 7-7-6-4 6-2-1-2-5-4 5-4-3-2 11-2 2-2-3-1-9-4 6-3-6-8-2-1 3-3 2-5-8-4 11-2 2-3-6-1-11-2 7-1 13-2 3-2-3-3-22-2 19-2 5-2-1-4-23-2 18-2 4-6-12-1-5-2 4-1 10-2 2-2-3-2-13-2 9-2 3-2-2-2-7-4 5-2-1-1-3-3 5-6-6-2 0-3 5-7-5-3 6-3-4-2 5-2-1-3-6-2 14 1 74 5 12 3-5 3 5 2-4 2-1 5 3 3-2 5 1 3 4 2-6 2-1 3 6 4-4 3 7 2-2 1-10 2-2 2 4 2 13 4-17 2 1 6 14 2-16 2-2 2 3 3 21 2-8 1-16 2-3 2 4 3 24 3-25 2-3 2 5 2 18 4-11 2-2 2 1 3 9 4-7 6 1 5 6 2-11 2-2 2 6 1 11 2-11 2-3 3 8 4-4 5 4 3-5 3 0 3 4 2 0 6-7 2 3 2 9 1 0 2-20 2-3 2 4 1 16 2 8 3-24 2-3 2 5 2 21 3-8 2-15 2-2 2 4 2 14 2-12 2-3 2 3 2 11 1 1 2-3 3 2 1-5 3-4 2 3 2 10 3-12 2-2 2 2 3 10 3-9 4 4 2-1 3 4 4-4 3 0 3 4 1-5 2-2 3 9 4-12 2 1 3 11 2-8 4-4 2 4 2 12 1 0 2-22 2-6 2 2 2 27 4-22 3 3 3 15 2-10 2-3 6 4 2 8 1 0 2-9 3-3 2 3 2 11 1 0 2-12 2-2 4 10 5-1 3-8 2 2 3 11 2-11 2-2 2 2 1 5 3-2 2 2 3-4 4 4 4-4 4 10 2-15 2-4 2 2 3 22 2-20 2-5 3 6 2 17 3-18 3-6 1-7 0-52-1-1z" fill="url(#po4)" fill-rule="evenodd"/><path d="M529.8 257.5l-1-2-2 16-2 2-2-4-1-14-2-6-2 22-2 4-2-2-3-21-2 14-2 1-2-3-2-9-5 10-3-7-1 3-4 2-2 3-2-1-2-10-2 8-3 3-4-12-4 8-5 0-3-8-3 11-2 1-2-3-1-9-2-3-3 14-2 3-2-2-2-9-2-1-2 1-1 10-2 5-2-2-4-23-3 35-2 2-2-5-2-27-2 15-2 4-3-5-1-10-2-5-5 17-2-1-1-3 0-6-2-6-2 11-2 3-3-3-3 1-5-8-5 6-3-4-2 2-4-1-1 4-3 2-5-11-1 6-3 6-2-3-2-11-1 0-2 9-2 2-2-2-3 3-2-3-2-10-2 16 0 14-2 8-2-4-1-25-2-10-3 15-3 6-2-1-2-18-2 7 0 6-3 7-2-2-3-17-1 14-2 6-2-1-4-17-2 1-4 7-7-7-5 5-4-6-4 6-3 0-2 10-2 3-2-1-2-9-3 1-2-5-3-3-5-1-3 6-2 1-5-9-4 11-3 4-2-3-2-12-1 12-3 7-2-2-3-19-2 18-2 4-3-6-1-13-2-6-2 20-2 3-3-6-3-2-2-8-2 12-2 3-1-1-3-16-2 8-2 2-2-2-2-7-4 6-3-3-3 5-2-1-2-5-4-2-2 7-2 2-4-7-2-1-1 4-2 2-3-3-3 6-4-8-1 6 1 57 4 6 4-3 2 5 3-5 3 1 4-1 10 5 2-6 2-1 3 8 4-4 4 7 2-14 2-3 2 4 2 13 3-16 2-2 2 1 5 14 1-10 3-6 3 8 2 16 3-27 2-3 2 4 3 27 3-27 2-4 2 4 2 21 1 0 5-11 2 1 3 9 4-7 2 2 4 0 5 4 2-17 2-5 2 5 1 18 2-11 2-4 4 14 3-4 5 4 3-6 8 4 6-7 3 5 1 5 2-7 1-16 2-2 2 5 3 26 3-26 2-3 2 3 1 19 2 7 4-24 2-3 2 2 2 8 1-4 2-2 2 1 3 14 3-3 3 3 4-8 2 3 2 9 2-9 3-6 2 1 3 11 2-8 2-2 2 4 3 1 3 4 6-4 3 2 4-11 2 5 1 9 2-7 3-4 2 3 2 9 3-10 2-2 3 4 2 11 2-7 2-24 2-2 2 6 1 21 1 0 1-11 2-4 3 4 3 14 2-11 2-2 6 4 2 7 4-8 2-1 3 6 1 7 2-4 1-8 2-3 4 11 2-2 2 2 3-8 2-1 4 12 2-10 2-3 3 6 2-2 3 2 3-3 2 1 1 3 5-2 4 8 2-16 2-4 3 6 2 17 2-19 2-4 3 6 2 17 6-31z" fill="url(#po5)" fill-rule="evenodd"/><path d="M141 207h0m0 247h0m1-348h0m0 48h0m0 41h0m0 5h0m0 1h0m0 204h0m0 79h0m1-91h0m1-213h0m1-64h0m0 372h0m1-361h0m0 36h0m0 234h0m0 12h0m0 75h0m1-317h0m0 6h0m1-10h0m0 240h0m1-233h0m2-68h0m0 84h0m0 297h0m1-41h0m1-329h0m0 36h0m1 252h0m0 54h0m1 8h0m1-44h0m0 20h0m1-276h0m0 266h0m1-308h0m0 19h0m0 5h0m0 290h0m1-258h0m0 215h0m0 41h0m0 30h0m1 24h0m1-72h0m1-7h0m0 20h0m1-327h0m0 314h0m0 44h0m1-268h0m0 290h0m1-358h0m0 343h0m1-366h0m0 26h0m0 65h0m1-18h0m0 1h0m0 272h0m0 2h0m0 40h0m1-91h0m0 15h0m1-233h0m0 8h0m0 233h0m0 7h0m1-280h0m0 33h0m0 213h0m0 30h0m1-254h0m0 224h0m1-219h0m1-82h0m0 18h0m0 6h0m0 18h0m0 46h0m0 240h0m1-260h0m0 253h0m1-231h0m1-15h0m0 21h0m0 250h0m2-8h0m0 54h0m1-365h0m0 343h0m0 21h0m1-314h0m1-29h0m0 24h0m0 232h0m1-221h0m0 308h0m1-14h0m1-47h0m1-287h0m0 10h0m0 341h0m2-296h0m0 212h0m0 13h0m2-301h0m0 300h0m2-298h0m1 3h0m0 35h0m0 329h0m2-345h0m0 38h0m1-41h0m0 51h0m0 225h0m0 6h0m0 53h0m1-69h0m1-281h0m0 291h0m0 4h0m1 2h0m0 16h0m1-10h0m1-298h0m0 44h0m0 13h0m0 223h0m1-296h0m0 34h0m0 8h0m1-13h0m0 21h0m0 2h0m0 269h0m1-293h0m0 312h0m1-297h0m0 18h0m0 7h0m0 246h0m1-291h0m0 309h0m0 9h0m0 42h0m1-343h0m0 28h0m1-69h0m0 49h0m0 26h0m1-36h0m0 277h0m0 39h0m3-46h0m0 1h0m0 36h0m1-307h0m0 285h0m0 13h0m0 1h0m0 3h0m0 12h0m1-49h0m1-3h0m1-8h0m0 3h0m1-234h0m0 268h0m0 7h0m1-26h0m1 18h0m0 47h0m1-349h0m0 48h0m0 249h0m1-20h0m1 3h0m0 30h0m1-282h0m0 243h0m1-4h0m1-236h0m2-10h0m0 334h0m1-365h0m0 285h0m0 64h0m1-62h0m3-278h0m0 309h0m0 16h0m0 19h0m1-316h0m0 253h0m1-249h0m0 241h0m1-267h0m0 13h0m0 274h0m1-304h0m1 282h0m0 3h0m0 2h0m0 4h0m0 36h0m1-297h0m0 8h0m0 29h0m0 232h0m0 34h0m1-290h0m0 246h0m1-215h0m0 206h0m0 35h0m0 10h0m1-260h0m1-73h0m0 40h0m0 247h0m1-10h0m0 4h0m1 24h0m1-240h0m1-9h0m1 255h0m0 38h0m1-319h0m0 2h0m0 12h0m0 304h0m1-63h0m0 3h0m0 17h0m0 41h0m1-322h0m0 4h0m0 36h0m0 236h0m0 42h0m1-266h0m0 225h0m1-264h0m0 261h0m1-251h0m0 13h0m0 226h0m0 29h0m1-255h0m1 233h0m0 80h0m2-372h0m0 22h0m0 46h0m1-62h0m0 4h0m0 284h0m1-305h0m0 28h0m1 6h0m0 294h0m0 33h0m1-280h0m1-12h0m1-40h0m0 51h0m0 218h0m0 39h0m0 15h0m0 22h0m1-285h0m0 240h0m0 39h0m1 6h0m1-81h0m1 83h0m0 10h0m1-321h0m0 258h0m0 22h0m1-295h0m0 10h0m0 7h0m1 263h0m1-329h0m0 22h0m0 34h0m1 248h0m1-238h0m0 4h0m0 231h0m0 33h0m0 47h0m1-327h0m0 245h0m0 23h0m1-334h0m0 33h0m0 30h0m0 20h0m0 235h0m0 10h0m1-264h0m0 16h0m1 222h0m1 46h0m1-31h0m0 2h0m0 26h0m1-31h0m0 2h0m1 60h0m1-281h0m0 221h0m0 83h0m1-369h0m0 50h0m0 9h0m2 2h0m0 5h0m0 219h0m2-9h0m1-236h0m0 23h0m0 241h0m0 3h0m3-276h0m0 250h0m1-268h0m0 34h0m0 14h0m0 217h0m1-307h0m0 352h0m1-1h0m1 20h0m1-356h0m1 360h0m1-37h0m0 1h0m2-24h0m1-317h0m0 340h0m1-264h0m0 19h0m0 1h0m0 305h0m1-318h0m0 12h0m1 235h0m0 55h0m1-35h0m0 34h0m0 5h0m1-364h0m0 23h0m0 271h0m1-260h0m0 25h0m2-57h0m0 35h0m0 30h0m1 233h0m0 32h0m1-274h0m0 2h0m0 273h0m3-335h0m0 33h0m0 10h0m0 11h0m0 292h0m1-29h0m0 17h0m1-284h0m0 15h0m0 220h0m0 86h0m2-79h0m0 13h0m0 2h0m0 15h0m1-241h0m1-9h0m0 218h0m1 15h0m1-250h0m0 230h0m1-237h0m1-52h0m0 54h0m1-15h0m1-2h0m0 12h0m0 265h0m0 5h0m0 5h0m0 5h0m1 48h0m1-384h0m0 328h0m0 8h0m0 16h0m0 36h0m1-302h0m0 257h0m1-252h0m1 209h0m1-302h0m0 24h0m0 46h0m0 273h0m1-45h0m1-273h0m0 45h0m1-66h0m0 14h0m0 48h0m1-68h0m1 59h0m0 265h0m1 32h0m1-28h0m0 34h0m1-300h0m2 240h0m0 45h0m1-293h0m0 19h0m1 275h0m1-286h0m1 243h0m0 1h0m0 75h0m3-305h0m0 249h0m1-264h0m0 240h0m0 7h0m0 5h0m0 39h0m1-316h0m0 306h0m1 0h0m1-330h0m0 10h0m0 35h0m0 13h0m0 260h0m0 6h0m1-272h0m1 223h0m0 2h0m0 50h0m1-269h0m0 300h0m1-289h0m0 220h0m1-243h0m0 12h0m0 14h0m0 210h0m2-215h0m0 223h0m1-292h0m0 85h0m0 208h0m0 3h0m0 9h0m1 10h0m2-319h0m0 62h0m1-55h0m0 64h0m0 4h0m1 242h0m1-17h0m0 4h0m0 2h0m0 25h0m0 45h0m1-320h0m0 4h0m0 14h0m0 278h0m1-334h0m0 274h0m0 20h0m0 9h0m1-334h0m0 361h0m1-344h0m0 71h0m0 2h0m0 216h0m1 9h0m0 37h0m2-270h0m1 240h0m0 25h0m1 44h0m1-86h0m0 10h0m0 26h0m0 7h0m1 11h0m1-50h0m0 65h0m2-68h0m0 36h0m0 14h0m2-46h0m1-221h0m0 287h0m1-16h0m4-4h0m2-39h0m0 23h0m1-27h0m2-6h0m0 27h0m1 15h0m1-16h0m1-25h0m0 9h0m0 44h0m1-54h0m0 11h0m1-229h0m0 299h0m1-387h0m0 306h0m0 50h0m1-52h0m1 18h0m1 45h0m1-33h0m0 18h0m2-255h0m0 218h0m0 73h0m1-72h0m1 4h0m0 72h0m1-394h0m1 309h0m1-212h0m2 215h0m1 70h0m1-295h0m0 216h0m0 29h0m0 1h0m1 26h0m1-39h0m0 40h0m1-272h0m0 254h0m0 36h0m1-47h0m1-16h0m0 63h0m0 16h0m1-46h0m2-30h0m1-9h0m1 23h0m0 20h0m2-18h0m0 23h0m1-17h0m1-17h0m1 1h0m0 32h0m1-34h0m1 63h0m4-381h0m2 311h0m0 10h0m3-19h0m1-219h0m0 263h0m1-46h0m0 64h0m1-54h0m1-224h0m1 218h0m0 8h0m1-315h0m0 309h0m1 0h0m0 1h0m0 15h0m0 6h0m0 14h0m0 9h0m0 30h0m1-296h0m2 224h0m0 73h0m1-386h0m0 371h0m1-283h0m0 235h0m1-21h0m0 9h0m0 45h0m2-52h0m0 4h0m0 61h0m1-272h0m0 279h0m1-277h0m0 222h0m0 8h0m0 53h0m0 9h0m1-288h0m1-5h0m1-12h0m0 13h0m0 229h0m1-240h0m0 226h0m0 7h0m1-232h0m0 248h0m0 15h0m1-41h0m1-225h0m1 221h0m1 91h0m2-306h0m0 4h0m0 230h0m0 15h0m1-246h0m1 2h0m1 225h0m0 31h0m1-268h0m0 250h0m1 7h0m1-248h0m0 276h0m1-35h0m1-35h0m0 26h0m3-16h0m0 10h0m1 7h0m0 6h0m0 15h0m1-41h0m1-216h0m0 4h0m0 219h0m0 6h0m1-230h0m2-3h0m0 276h0m1-41h0m1-10h0m0 17h0m0 2h0m1 48h0m1-70h0m0 2h0m0 85h0m1-306h0m0 261h0m1-30h0m0 6h0m0 18h0m1-36h0m0 10h0m0 5h0m0 42h0m1-60h0m0 57h0m1-361h0m0 85h0m0 2h0m0 253h0m0 43h0m2-74h0m0 48h0m1-42h0m0 49h0m1-58h0m1-3h0m3-212h0m0 226h0m1-226h0m0 277h0m1-282h0m1 232h0m1-230h0m0 263h0m0 42h0m1-391h0m0 327h0m1 66h0m4-84h0m1 25h0m0 38h0m1-61h0m0 31h0m0 17h0m1-48h0m0 85h0m1-73h0m0 37h0m1-13h0m1-352h0m0 312h0m0 17h0m1-241h0m1 222h0m0 1h0m1 10h0m1-225h0m0 283h0m1-46h0m1-18h0m0 14h0m0 13h0m0 9h0m0 22h0m3-52h0m0 4h0m1-21h0m1-4h0m0 69h0m3-274h0m0 270h0m1-82h0m0 1h0m0 11h0m0 26h0m1-19h0" stroke="#a8561a" stroke-width="2.7" stroke-linecap="round"/><path d="M142.8 210.5l-3 28 0 101 3 26 4 8 2 9 2-5 2-2 1 2 2 0 1-4 2-1 5 14 2-5 1-9 2-3 3 2 3 10 4-7 3 1 3-6 2 1 3 8 4-8 4 18 2-12 2-4 2 4 1 8 3 1 2 5 2-7 1-17 2-1 3 19 2 5 4-21 2 3 1 11 2 5 2-11 2-4 2 2 2 11 2-3 2-9 3-3 6 10 4-9 6 1 4 7 3-3 4 10 3-8 3-1 4-7 2-1 3 6 5-4 4 4 1 4 3-2 2-5 3-2 2 4 3 15 2-4 0-6 2-7 2 2 1 11 2 4 2-6 1-12 2-2 1 1 1 10 2 5 6-20 2 3 1 27 2 11 2-30 2-7 2 2 2 9 3-3 3 0 2-9 2-1 4 14 2-8 2-2 5 10 5-6 2 2 3-3 3 3 2-4 4-2 2 3 1 6 1 1 2-2 4 3 4-14 2 3 2 14 2-5 1-9 3-4 2 3 3 18 2-3 1-10 2-3 1 1 3 28 1 0 2-17 0-14 2-7 2 2 4 26 3-18 2-1 3 3 2 11 1 0 5-20 2 1 3 16 3-11 2-2 3 7 5 1 4-8 2 2 3 10 2-9 2-2 3 11 5-3 3-4 3 9 3-13 2-1 5 14 3-13 2 2 1 13 2 4 3-22 2-1 2 7 2 16 1-1 2-18 2-2 3 4 2-17 0-99-1-1-2-51-2-9-3 19-2 2-2-5-2-16-2 2-1 13-2 6-2-4-1-12-2-4-4 18-2-1-2-5-4 0-4-5-3 3-2-2-3 2-3-4-4 13-2-2-2-11-3 9-2 1-1-2-3 1-2-2-2-8-3 14-2 2-4-12-6 6-3-6-2 0-3-3-4 12-2-2-3-13-2 3-2 10-2-2-2-24-1 0-3 28-2 3-4-13-2 0-2 9-2 2-4-11-2 2-1 5-2 1-3-17-3 13-9 4-4-4-2 0-3-5-4 9-2-2-1-7-2-2-3 13-2 3-4-11-4 5-3-3-3 3-4-12-2 1-2 6-2-2-2-9-2 5-2 18-2 3-2-3-1-21-2-8-3 26-2 5-2-4-1-17-2-9-2 6-1 14-2 3-3-7-2-1-4 6-2 0-3-3-3 0-4 7-4-4-4 3-2-3-2-18-2 14-1 1-2-1-2-21-2 22-2 6-5-4-4 0-2-2-4 5-3-8-2-1-2 7-3 4-2-2-3-24-2 9-1 19-2 5-2-5-1-19-2-10-2 10-1 18-2 4-5-22-4 11-2-2-1-6-3-5-2 2-2 15-2 2-2-4-2-15-2 6-1 12-2 2-3-6-3 3-2-1-2-9-4 8-2-1-4 1-4-4-2 1-5-1-3 4-3-5-2 3-4-3z" fill="url(#pr0)" fill-rule="evenodd"/><path d="M529.8 207.5l-3 19-2 2-5-22-2 17-2 6-2-3-2-19-2 2-1 12-2 5-5-9-4 1-3-4-3 4-2-2-3 2-3-6-4 14-2-2-2-10-4 8-2-1-3 1-2-2-2-8-2 10-3 5-4-12-6 6-3-6-3 0-1-2-2 1-1 8-2 3-2-2-3-15-2 4-1 12-2 2-2-9-1-18-2 4-2 23-2 2-4-14-2 1-2 8-2 2-2-2-2-10-2 3-1 6-2 2-2-5-1-9-2 9-2 2-3-2-6 3-3-3-2 0-3-5-4 10-2-3-2-9-1 0-3 13-2 2-4-11-4 6-3-3-1 3-2 1-4-14-2 2-2 7-2-2-2-10-5 25-2 1-2-8 0-11-2-12-3 26-2 4-2-3-3-27-4 23-2-1-3-8-5 6-2 0-3-3-3 0-5 7-3-5-4 4-2-2-2-13-2 14-2 2-2-7-1-14-2 17-2 4-5-5-4 0-2-2-2 4-2 1-5-9-5 12-3-6-2-19-2 10-1 18-2 4-2-4-3-27-3 27-2 2-5-23-4 15-2-2-1-8-2-4-2-1-3 16-2 2-2-4-2-14-4 18-2-1-2-5-3 3-2-1-2-8-4 7-3-1-2 1-3-3-5 1-4-2-3 5-3-5-3 3-4-4-2 4-2 16-1 82 1 1 1 31 7 21 3-6 3 3 2-4 2-1 3 4 2 7 3-11 2-2 3 2 3 8 4-7 3 2 1-3 3-2 4 9 2-8 2-2 2 4 2 13 2-13 2-3 2 3 1 8 3 2 2 5 2-10 0-9 2-6 2 2 2 18 2 5 2-18 2-4 2 3 1 13 2 5 4-18 2 1 2 14 4-11 3-4 5 10 2-1 0-3 3-4 6 1 4 7 3-3 2 2 2 8 2-7 3-3 1 1 5-7 3 2 1 3 5-4 6 7 4-6 3-2 2 3 2 12 2 2 1-13 2-6 2 2 1 13 2 6 3-21 2-2 1 1 1 12 2 6 5-20 2-1 2 8 0 13 2 14 2-28 2-5 2 3 2 10 3-3 3 1 2-9 2-1 4 14 4-11 2 2 3 9 2-1 3-6 2 2 3-3 3 4 4-6 3 1 3 8 3-1 3 2 3-13 2-1 3 16 4-15 2-1 2 2 3 18 2-3 2-15 1-1 1 1 3 28 1 0 2-31 2-5 2 3 4 23 3-16 1-1 4 4 3 10 4-18 2-1 2 4 2 13 3-11 2-2 3 8 5 1 4-8 2 2 3 10 2-10 2-3 2 4 1 8 3-3 2 0 3-5 3 8 2-8 3-3 2 2 3 11 2-14 2-1 3 21 1 0 2-18 2-6 2 2 3 22 2-7 1-13 2-3 3 5 1-31 1-1-1-77-1-1-1-33z" fill="url(#pr1)" fill-rule="evenodd"/><path d="M529.8 216.5l-3 19-2 2-2-4-1-14-2-4-2 18-2 6-2-3-2-21-2 3-1 13-2 4-4-10-5 1-3-4-3 5-2-2-3 3-3-8-4 14-2-1-2-11-1 0-3 8-3-1-2 2-4-11-2 10-3 5-5-14-5 9-3-7-2 0-3-3-2 10-2 3-2-2-2-13-2-2-2 19-2 3-2-8 0-12-2-10-2 22-2 6-2-1-3-14-2 1-4 11-2-2-2-11-2 3-1 7-2 2-2-3-1-7-3 8-3-3-4 0-3 3-3-4-2 1-3-4-2 7-2 2-2-2-3-10-3 13-2 2-2-3-2-9-4 7-2-2-3 3-2-1-3-14-2 3-2 9-2-2-2-11-4 20-3 5-2-5-2-24-3 24-2 4-2-2-3-27-2 18-2 5-2-1-3-10-6 7-4-4-3 0-5 7-3-5-3 4-2 0-3-10-2 14-2 2-2-6-1-13-2 12-2 3-3-4-3-2-2 1-2-2-2 0 0 2-3 3-5-9-3 9-3 3-2-4-2-19-3 27-2 4-2-4-3-26-3 26-2 2-2-5-1-13-2-7-2 6-1 11-1 1-2-2-1-7-4-8-3 16-2 3-2-4-2-13-2 12-2 4-4-8-4 5-3-8-4 7-7-4-6 1-3-3-4 6-3-5-3 3-4-4-2 4-1 22-1 1 0 77 3 23 5 11 3-6 3 4 2-5 2-1 5 9 1 0 1-6 2-3 2 0 3 3 2 6 4-7 3 3 1-3 3-2 4 8 4-11 2 4 2 13 2-12 2-4 2 2 1 7 3 3 2 6 2-21 2-4 2 3 3 23 1 0 2-20 2-4 2 4 1 13 2 7 3-20 2-2 3 17 2-1 3-11 2-2 2 2 3 9 4-8 7 1 4 6 3-4 2 2 2 10 4-11 3 1 4-6 3 2 1 3 5-5 6 7 4-6 3-2 3 6 2 10 4-22 2 4 1 14 2 6 2-8 1-14 2-2 1 1 1 13 2 7 5-20 2-2 2 6 2 22 2-22 2-4 2 3 2 11 3-3 2 2 3-9 2-2 4 14 4-11 3 4 2 7 2-1 1-5 2-2 2 2 3-1 3 3 3-5 3 0 2 2 2 7 3-3 3 3 4-15 2 2 2 14 3-11 3-4 3 5 1 11 2 3 2-17 2-5 2 5 2 26 2-10 1-21 2-3 2 3 4 21 2-14 2-1 4 3 3 10 5-17 2 1 3 15 3-11 2-2 4 9 4 0 4-8 2 2 3 10 2-11 2-2 2 3 1 8 5-2 3-5 3 5 3-7 2-1 2 3 2 10 4-18 2 2 2 22 2-4 1-16 2-5 2 2 3 22 3-20 2-3 2 4 1-2 0-11 1-1 0-71-1-1 0-18-1-1 0-15z" fill="url(#pr2)" fill-rule="evenodd"/><path d="M529.8 225.5l-2 6-1 12-2 3-2-5-2-18-1 0-2 20-2 5-2-2-2-23-2 4-1 12-2 3-4-11-5 3-3-4-1 4-2 2-2-1-3 3-3-11-2 11-2 4-2-2-2-10-4 7-5 1-2-2-2-8-3 12-2 2-4-14-2 1-1 5-3 4-3-7-5-3-2 11-2 2-2-3-3-16-2 7-1 17-2 3-2-7 0-12-2-12-2 21-2 5-2-1-3-15-2 1-4 11-2-1-2-12-2 3-1 8-2 2-2-2-1-6-3 6-4-5-6 4-3-4-3 1-2-3-4 9-2-2-3-10-2 4-1 8-2 2-2-3-2-10-1 0-3 9-2-2-3 3-2-1-3-15-4 15-2-2-2-13-4 19-3 5-2-3-2-23-3 22-2 4-3-8-2-20-2 19-2 4-2-2-3-10-6 6-4-4-4 0-3 6-3-2-1-3-5 5-3-6-2 12-2 2-2-5-1-11-2 8-2 2-4-5-2-1-2 1-2-2-5 5-5-9-3 9-3 4-2-3-2-18-3 25-2 3-2-3-3-25-2 20-2 6-2-1-4-24-2 8 0 8-2 5-2-2-1-7-4-9-2 5-1 10-2 3-2-4-2-12-2 11-2 3-4-8-2 1-2 4-2-2-1-5-3 6-6-4-3 0-3 2-6-3-3 6-3-5-3 3-4-5-2 5-1 9 0 29-1 1 1 56 2 12 5 10 3-5 3 5 2-5 2-1 5 7 5-7 3 2 3 6 4-7 3 4 2-4 2-1 4 9 2-10 2-3 2 4 2 12 3-14 2-1 7 17 2-20 2-4 2 3 2 19 2 4 2-21 2-3 2 4 1 14 2 7 3-22 2-2 4 19 6-14 3 4 2 7 4-8 6 1 5 6 3-5 2 2 2 11 2-9 2-3 4 2 1-3 3-2 4 5 1-4 3-2 6 6 6-7 3 3 3 12 2-10 0-10 2-5 2 5 1 16 2 7 3-24 2-2 2 6 2 18 3-9 2-13 2-2 2 5 2 18 2-17 2-3 2 2 2 12 3-3 3 1 2-8 2-1 2 3 2 10 4-11 3 3 2 8 5-9 2 3 4-1 2 3 4-5 2 0 4 8 3-3 3 4 2-11 2-4 2 2 3 13 3-12 2-2 3 4 1 10 2 4 2-20 2-5 2 4 2 28 2-12 0-11 1-6 2-2 2 3 3 18 1 0 1-9 2-5 6 5 2 9 5-16 2 1 3 15 2-4 1-8 2-2 4 10 4 0 4-8 2 2 3 10 2-12 2-2 2 3 1 7 3-2 2 1 3-5 4 4 1-3 3-2 2 2 2 9 4-19 2 2 1 15 2 8 2-20 2-5 2 2 3 22 3-20 2-3 2 2 1-4 1-47-1-1 0-30-1-1 0-16z" fill="url(#pr3)" fill-rule="evenodd"/><path d="M529.8 234.5l-2 6-1 11-2 3-2-5-1-13-2-6-2 21-2 6-2-2-1-16-2-8-2 16-2 3-4-12-2 0-3 4-3-4-3 7-2-1-2 3-2-2-2-10-2 11-2 3-2-2-2-10-5 7-4 1-3-4-1-5-3 11-2 2-2-3-2-12-6 12-2-2-1-5-5-4-2 13-2 1-2-4-3-16-2 8-1 19-2 3-2-7-2-24-2 19-2 5-2-1-2-13-2-4-5 14-2-1-1-9-2-4-2 11-2 2-3-5-3 4-4-6-3 0-1 3-2 1-3-4-3 2-2-3-4 8-2-2-3-10-2 4-1 8-2 2-2-3-2-10-1 0-2 8-2 1-2-2-3 3-2-4-2-11-4 20-2-3-2-17-5 21-2 2-2-3-2-21-3 21-2 3-3-7-2-18-2 19-2 3-3-6-1-7-2-1-2 4-3 2-4-4-4 0-3 6-4-6-4 5-4-3-2 11-2 2-2-4-1-10-1 0-1 6-2 1-3-5-6-1-2-2-2 5-2 1-4-8-2 1-5 12-3-7-1-12-3 22-2 3-3-8-2-18-2 19-2 6-2-1-2-17-2-7-2 18-2 4-2-2-5-17-2 5-1 10-2 2-2-3-2-12-2 10-2 3-2-2-2-7-4 5-2-1-1-4-4 6-5-6-2 0-3 4-7-4-3 6-3-5-3 4-4-6-2 7 0 13-1 1 0 61 2 16 5 9 3-4 2 1 1 3 4-6 5 5 3-3 2 0 6 6 4-7 3 6 2-4 2-1 4 8 2-12 2-2 2 4 2 13 2-12 3-5 5 10 1 6 1 0 1-13 3-8 3 8 2 18 2-7 1-16 2-3 2 5 1 14 2 8 3-25 2-2 4 21 6-13 3 4 2 7 4-8 3 2 4 0 4 6 2-7 2-1 3 14 2-10 2-3 3 5 5-6 3 5 4-5 2 0 5 5 6-7 3 2 3 11 2-22 2-4 2 5 1 17 2 8 3-25 2-3 2 6 2 21 4-13 1-9 2-2 2 3 2 15 2-13 2-3 2 2 1 9 2 4 2-4 3 2 1-5 3-4 2 3 2 10 2-8 3-4 5 12 2-9 2-2 2 4 4 0 2 3 3-4 4 0 3 6 1-3 2-1 3 6 2-11 2-3 2 1 3 12 2-8 3-5 3 4 1 9 2 4 2-22 2-6 2 3 2 30 3-26 2-2 2 3 3 17 4-14 6 5 2 9 5-14 3 3 1 8 2 3 2-11 2-3 4 11 4 0 3-7 2-1 4 12 2-12 2-3 2 3 1 6 3-2 2 2 3-5 4 4 4-4 4 11 2-8 1-11 2-1 4 25 2-21 2-4 2 2 3 22 4-23 3-2 1-9 0-48-1-1 0-18z" fill="url(#pr4)" fill-rule="evenodd"/><path d="M529.8 244.5l-1 0-2 16-2 2-2-4-2-19-1 0-2 21-2 5-2-2-3-23-1 11-2 6-3-3-2-9-2 1-3 6-3-5-1 4-4 2-2 3-2-2-2-10-2 10-2 3-2-2-3-11-2 5-5 3-3-1-2-7-3 11-2 2-2-3-1-10-2-3-2 9-3 6-2-2-1-6-5-4-1 10-2 5-2-2-4-20-2 11-1 20-2 2-2-6-2-25-2 17-2 4-2-1-2-13-2-4-2 3-2 10-2 2-4-16-2 12-2 2-2-1-1-3-3 3-4-7-3 0-3 5-3-4-3 2-2-2-4 7-6-11-2 10-2 3-2-3-2-11-1 0-2 9-2 1-2-2-3 3-2-3-2-12-4 28-2-3-2-25-5 20-2 2-2-2-2-18-3 18-2 2-2-2-3-19-2 18-2 2-2-3-3-12-7 7-2-4-3-2-2 0-3 5-5-5-3 5-4-1-2 10-2 2-2-2-2-10-3 5-3-6-8-2-1 3-3 2-5-8-4 11-3 3-2-5-1-11-3 19-2 3-2-3-3-22-2 19-2 5-3-5-1-13-2-7-2 20-2 4-6-12-1-7-2 4-1 10-2 2-2-3-2-12-2 9-2 2-2-2-2-8-4 6-3-3-3 5-6-7-2 0-4 6-6-5-3 6-3-5-1 3-2 1-4-6-2 10 0 65 1 7 5 9 3-4 2 1 1 3 2-4 2-1 5 3 1-1 6 1 4 4 2-6 2-1 3 7 4-4 4 7 2-14 2-2 2 4 2 13 3-15 2-2 5 8 2 7 1-12 3-6 2 3 3 21 2-8 1-15 2-4 2 5 3 24 3-27 2-3 2 5 2 19 6-12 2 1 3 9 4-8 3 3 2-1 2 1 4 5 2-5 0-5 2-3 2 6 1 12 2-12 2-3 3 8 4-4 5 4 3-5 8 4 6-6 2 2 3 9 2-24 2-2 2 4 1 18 2 9 3-26 2-3 2 4 2 24 3-8 2-14 2-3 2 3 2 13 1-7 3-6 2 2 2 12 3-3 3 2 4-8 2 3 2 9 2-8 3-4 2 2 3 10 2-10 2-2 2 4 6 4 3-3 4-1 3 5 1-5 2-2 3 9 2-9 3-4 4 13 3-10 2-2 2 1 3 14 1 0 2-24 2-6 2 2 2 30 2-18 2-5 3 3 3 16 2-11 2-3 6 5 2 8 3-9 3-3 2 3 2 11 1 0 2-12 2-3 4 11 2-1 3 1 1-5 3-3 3 11 1 0 2-11 2-2 2 2 1 5 3-3 2 3 3-4 3 4 5-3 2 2 2 7 2-16 2-4 3 6 2 18 2-19 2-4 2 1 3 22 3-19 4-10 0-50-1-1z" fill="url(#pr5)" fill-rule="evenodd"/><path d="M529.8 259.5l-1-2-1 12-3 6-2-4-2-19-1 0-2 21-2 4-3-6-2-16-1 10-2 4-2-1-3-13-2 2-1 8-2 2-2-2-1-5-1 3-6 5-2-1-2-10-2 9-2 2-2-2-3-11-2 5-6 3-2-1-2-6-3 11-2 2-2-3-1-10-2-4-3 15-2 3-2-1-2-10-3-2-1 1-1 13-2 5-2-3-1-12-3-12-3 37-2 2-2-4-2-28-2 13-3 3-2-4-1-10-2-5-2 3-2 13-2 2-4-18-2 11-2 3-3-3-3 2-2-2-2-7-2 0-4 6-3-4-2 2-3-1-4 6-5-10-2 2-1 7-2 2-2-2-2-11-1 0-2 8-2 2-2-2-3 3-2-3-2-9-2 18 0 16-2 7-2-4-1-28-2-10-4 17-2 3-2-1-2-15-1 0-2 14-2 3-2-2-3-15-1 14-2 5-2-1-4-18-6 8-7-7-5 5-2-5-2-1-2 4-5 3-2 9-2 3-2-1-2-10-2 2-6-8-3 1-3-1-1 3-3 2-5-7-3 5-1 6-3 4-2-2-2-11-1 10-3 6-3-5-2-16-1 13-3 8-3-5-1-12-2-6-2 21-2 3-2-4-4-2-2-12-2 13-2 3-2-3-2-14-2 7-2 2-2-2-2-8-4 6-3-1-3 5-6-10-2 1-1 5-3 4-5-7-4 6-3-3-3 4-4-7-1 26-1 1 1 30 4 9 2 0 2-3 3 4 3-4 2 1 5-1 4 4 3 0 3 2 4-8 3 9 4-3 3 6 2-5 1-11 2-2 2 3 2 15 4-17 2-1 3 3 3 9 2-12 2-1 2 3 3 20 3-28 2-3 2 4 1 19 2 10 2-23 3-10 2 4 2 23 1 0 3-9 2-2 2 1 3 9 4-7 2 2 4 0 5 5 2-12 0-10 2-7 2 6 1 23 2-14 2-3 2 4 0 6 2 6 3-4 5 4 3-5 8 3 5-6 3 2 2 6 2-10 0-9 1-5 2-2 2 4 3 28 2-20 3-10 2 3 1 18 2 9 3-18 3-7 3 4 1 6 3-6 3 2 3 11 2-4 3 3 4-6 4 11 5-13 3 3 2 8 2-9 2-2 3 6 2 0 3 3 6-3 3 1 2-5 0-5 2-3 2 5 1 11 1 0 3-10 3 3 2 9 3-9 3-2 2 3 2 9 1 0 3-31 2-2 2 3 1 24 1 0 1-10 3-3 3 7 2 11 1-8 3-5 6 4 2 7 3-6 3-2 2 2 2 10 3-13 2-3 4 11 3-1 1 2 2-3 1-6 2-1 2 4 1 8 1 0 1-7 3-6 3 5 2-2 3 2 3-2 3 4 5-1 4 7 2-17 2-3 3 6 2 15 2-17 2-4 3 5 2 18 3-19 3-10z" fill="url(#pr6)" fill-rule="evenodd"/><path d="M141 388h0m2-18h0m1-162h0m0 185h0m2-276h0m0 59h0m0 197h0m0 17h0m1-192h0m0 186h0m1-214h0m0 22h0m0 243h0m0 5h0m2-46h0m0 5h0m1-201h0m1 1h0m0 8h0m1-17h0m0 227h0m1-220h0m1 198h0m1-199h0m8 205h0m0 48h0m2-253h0m0 4h0m3-32h0m1 215h0m0 81h0m1-21h0m1-32h0m1-227h0m0 24h0m2-5h0m2 179h0m0 1h0m0 46h0m1-298h0m0 57h0m1-76h0m0 90h0m2 185h0m0 51h0m3-250h0m0 207h0m0 16h0m0 27h0m1-17h0m1 0h0m1-293h0m1-30h0m5 91h0m0 8h0m4 207h0m1-6h0m1 49h0m4-282h0m2 245h0m5 2h0m1-236h0m2 22h0m1 218h0m1-216h0m3 192h0m0 19h0m1-282h0m4 55h0m1-33h0m0 16h0m0 222h0m2-180h0m1 271h0m1-287h0m0 210h0m2-11h0m1-262h0m0 77h0m0 203h0m1-29h0m1-213h0m0 21h0m1-11h0m0 4h0m1 4h0m0 200h0m1-1h0m0 6h0m0 2h0m1-192h0m1-8h0m1 205h0m1-188h0m0 193h0m1-27h0m2-2h0m0 3h0m1-183h0m1 189h0m1-6h0m0 6h0m0 7h0m0 66h0m1-1h0m4-75h0m3 3h0m1 19h0m1-4h0m3-233h0m0 237h0m0 6h0m2-31h0m1-259h0m0 66h0m0 19h0m2 199h0m2-23h0m1-254h0m0 53h0m1-42h0m0 47h0m1 246h0m2-37h0m1 6h0m1 40h0m1-53h0m1-198h0m1 200h0m0 18h0m3-226h0m0 198h0m1 4h0m2-179h0m0 174h0m1-165h0m1-12h0m2 2h0m1 179h0m4 44h0m1-50h0m0 10h0m0 13h0m0 42h0m1-233h0m1 207h0m2-316h0m0 287h0m1-206h0m0 212h0m0 24h0m1-250h0m0 22h0m0 15h0m1-23h0m1 213h0m1-17h0m0 9h0m1-184h0m0 5h0m0 180h0m1 14h0m1-26h0m0 4h0m1-171h0m1-4h0m1 187h0m1-185h0m1 196h0m3-215h0m0 6h0m1-12h0m1 13h0m3 221h0m6-256h0m0 19h0m0 9h0m0 4h0m3 235h0m3-278h0m2 224h0m1-268h0m1 69h0m0 13h0m4 226h0m0 14h0m1 5h0m1-236h0m1 5h0m1 180h0m1-198h0m0 18h0m1 5h0m1-7h0m1 190h0m0 3h0m0 32h0m4-227h0m0 191h0m2 4h0m1-3h0m6-178h0m0 175h0m1 4h0m0 1h0m1-189h0m1-46h0m0 242h0m0 33h0m4-267h0m0 16h0m2 26h0m1 0h0m1 191h0m1-188h0m0 182h0m1 71h0m1-296h0m0 222h0m0 44h0m2 33h0m1-267h0m1-13h0m1 20h0m1 186h0m1-185h0m0 5h0m0 173h0m1-185h0m0 11h0m0 177h0m2 0h0m1 55h0m1-22h0m0 2h0m1 10h0m2-228h0m0 210h0m3-218h0m1 203h0m0 46h0m2-59h0m1-196h0m0 197h0m1-200h0m0 7h0m2 201h0m0 12h0m1-200h0m1 178h0m0 4h0m0 2h0m5-183h0m2 188h0m0 8h0m0 20h0m0 66h0m1-39h0m1-28h0m1-221h0m0 193h0m1-9h0m4-187h0m0 8h0m1-16h0m0 226h0m2-24h0m0 41h0m1 38h0m4-78h0m3 20h0m1 28h0m1-33h0m0 1h0m2-214h0m0 228h0m3-223h0m4 249h0m1-52h0m1 62h0m1-79h0m1 104h0m1-299h0m4 0h0m0 16h0m1 211h0m1-19h0m2 87h0m3-105h0m0 17h0m0 84h0m4-277h0m0 216h0m0 1h0m0 28h0m1 44h0m1-81h0m0 11h0m3-233h0m0 249h0m1-252h0m1 193h0m2 24h0m3-207h0m1 5h0m0 7h0m1 255h0m3-21h0m1-237h0m0 181h0m0 36h0m2-215h0m3 239h0m3-63h0m2-193h0m0 10h0m1-6h0m0 196h0m0 11h0m1-13h0m1 37h0m1-34h0m1-190h0m0 6h0m1 2h0m0 3h0m0 185h0m2-1h0m0 11h0m0 1h0m4-221h0m0 302h0m2-96h0m1-183h0m7 251h0m2-265h0m0 194h0m0 3h0m0 12h0m1-12h0m1-195h0m0 2h0m2-6h0m0 4h0m3 218h0m0 2h0m1 10h0m1 48h0m1-287h0m1 11h0m1-2h0m0 4h0m0 183h0m1-1h0m1-190h0m0 231h0m5-31h0m1-1h0m2-198h0m2 188h0" stroke="#c0101e" stroke-width="2.7" stroke-linecap="round"/><path d="M142.8 241.5l-3 26 0 52 3 25 5 5 3-1 15 1 4-2 10 2 3-1 33 0 2 1 7-2 12 2 2-1 14 1 4-2 2 1 48 0 2-1 1 1 21 0 1 1 6-2 4 1 18-1 6 2 2-1 26 0 1-1 9 2 6-2 3 1 43 0 1 1 2-1 42 0 2 1 6-2 10 2 6-2 5 1 2-4 3-25 0-51-1-1-1-21-3-9-63 0-3 1-5-2-3 1-17-1-4 2-4-1-18 0-1 1-8-2-6 2-9-2-8 2-1-1-45 0-2-1-1 1-33 0-2 1-7-2-2 1-33 0-3-1-8 2-6-2-1 1-25 1-1-1-44 0-2-1-1 1-18 0z" fill="url(#pb0)" fill-rule="evenodd"/><path d="M142.8 251.5l-2 16 0 51 3 18 5 3 2-1 15 1 5-2 9 2 2-1 34 0 1 1 1-1 33 0 1 1 1-1 78 0 3 1 5-2 2 1 175 0 3 1 6-2 5 1 2-4 2-15 0-51-1-1 0-10-3-10-71 0-1-1-2 1-15 0-1-1-6 2-2-1-25 0-1-1-2 1-12 0-1-1-2 1-134 0-1-1-3 1-105 0z" fill="url(#pb1)" fill-rule="evenodd"/><path d="M142.8 260.5l-1 58 2 10 3 3 5-1 10 1 6-1 10 1 8-1 10 1 4-1 14 0 1 1 5-1 10 1 2-1 3 1 5-1 10 1 4-1 9 1 6-1 28 0 1 1 6-1 9 1 8-1 10 1 5-1 10 1 9-1 10 1 5-1 10 1 1-1 4 1 2-1 12 0 1 1 8-1 7 1 3-1 10 1 3-1 3 1 5-1 16 0 1 1 3-1 9 1 4-1 9 1 33-1 6 1 10-1 2-5 1-57-2-11-3-3-1 1-19 0-1-1-7 1-6-1-3 1-14 0-1-1-7 1-9-1-5 1-9-1-9 1-10-1-18 1-1-1-5 1-10-1-7 1-9-1-2 1-17 0-1-1-3 1-10-1-3 1-5-1-4 1-8-1-1 1-12 0-1-1-9 1-9-1-5 1-10-1-6 1-14 0-1-1-6 1-9-1-6 1-11 0-1-1-6 1-9-1-4 1-4-1-2 1-23 0-1-1-2 1-5-1-15 1-1-1-6 1z" fill="url(#pb2)" fill-rule="evenodd"/><path d="M142.8 269.5l0 11-1 1 1 35 1 5 4 3 3-1 10 0 1 1 16-1 1 1 6-1 11 0 1 1 3-1 14 0 1 1 4-1 10 0 1 1 2-1 18 0 1 1 1-1 10 0 1 1 5-1 29 0 1 1 4-1 10 0 1 1 17-1 1 1 4-1 10 0 1 1 19-1 1 1 3-1 10 0 1 1 3-1 15 0 1 1 5-1 10 0 1 1 2-1 11 0 1 1 2-1 1 1 5-1 11 0 1 1 2-1 16 0 1 1 3-1 10 0 1 1 32-1 5 1 1-1 10 0 2-6 1-35-1-1 0-12-4-8-3 1-16 0-1-1-3 1-10 0-1-1-3 1-14 0-1-1-16 1-1-1-3 1-10 0-1-1-17 1-1-1-5 1-28 0-1-1-5 1-29 0-1-1-3 1-11 0-1-1-2 1-30 0-1-1-18 1-1-1-4 1-10-1-5 1-15 0-1-1-4 1-10 0-1-1-3 1-10 0-1-1-2 1-1-1-48 1-4-1-1 1-25 0-2 2z" fill="url(#pb3)" fill-rule="evenodd"/><path d="M142.8 281.5l0 23 1 8 2 4 244 0 1-1 1 1 136 0 2-1 2-11 0-23-1-8-2-4-10 0-1 1-1-1-334 0-1 1-2-1-33 0-2 1z" fill="url(#pb4)" fill-rule="evenodd"/><path d="M144.8 283.5l0 19 1 2 16 1 1-1 5 1 10 0 1-1 3 1 14 0 1-1 5 1 3-1 3 1 9-1 18 1 1-1 6 1 9-1 5 1 14 0 1-1 7 1 10-1 5 1 9-1 5 1 10 0 1-1 1 1 12 0 1-1 5 1 6-1 2 1 9-1 3 1 8-1 5 1 6-1 2 1 7-1 8 1 10-1 16 1 1-1 9 1 9-1 79 1 4-1 6 1 2-1 1-3 0-17-2-4-7 1-7-1-10 1-5-1-10 0-1 1-8-1-8 1-4-1-8 1-5-1-13 0-1 1-5-1-7 1-2-1-5 1-3-1-2 1-3-1-7 1-7-1-10 1-7-1-13 0-1 1-5-1-10 1-10-1-8 1-6-1-10 1-8-1-8 1-5-1-8 1-4-1-15 0-1 1-3-1-2 1-4-1-8 1-5-1-9 1-6-1-4 1-1-1-8 1-69-1-6 1z" fill="url(#pb5)" fill-rule="evenodd"/><path d="M142 414h0m1-178h0m1-104h0m0 84h0m0 187h0m0 28h0m2-226h0m0 152h0m1 37h0m0 3h0m2-258h0m1 216h0m2 11h0m1-141h0m0 10h0m2-15h0m0 10h0m0 1h0m1-85h0m1 82h0m1 8h0m0 117h0m0 8h0m2-10h0m1 1h0m1-139h0m2 18h0m1-13h0m0 135h0m0 4h0m1-135h0m0 148h0m0 37h0m3-186h0m4-14h0m2 21h0m0 3h0m2 132h0m1-185h0m0 47h0m1-48h0m2 44h0m0 132h0m0 20h0m0 64h0m1-32h0m1-174h0m0 2h0m0 119h0m0 40h0m1-168h0m0 11h0m1 115h0m1 93h0m1-227h0m2 133h0m1-176h0m0 62h0m4-4h0m0 125h0m0 60h0m1-217h0m1 152h0m1-140h0m0 6h0m1 179h0m1-170h0m0 150h0m2-163h0m2 136h0m1-140h0m0 5h0m1 143h0m1 35h0m0 31h0m5-9h0m1-196h0m0 5h0m0 167h0m1-206h0m0 49h0m1-27h0m0 160h0m6-136h0m1 0h0m0 170h0m1-164h0m1-94h0m0 37h0m0 26h0m0 145h0m0 12h0m0 11h0m0 15h0m3-234h0m0 206h0m1-177h0m1 243h0m1-274h0m0 259h0m2 26h0m1-42h0m2-163h0m0 122h0m2-130h0m2 10h0m0 120h0m1-146h0m2 27h0m0 118h0m0 22h0m2-24h0m1-127h0m4-37h0m0 162h0m0 68h0m1-198h0m0 4h0m0 161h0m1-160h0m1 138h0m0 5h0m1-152h0m1 21h0m1-85h0m0 63h0m0 184h0m1-42h0m1-126h0m0 180h0m1-41h0m1-144h0m0 131h0m2 1h0m1-151h0m3-7h0m2 182h0m1-171h0m0 140h0m1 71h0m1-207h0m7-30h0m0 252h0m0 31h0m1-286h0m1 43h0m0 172h0m1-162h0m1-2h0m0 140h0m0 40h0m0 6h0m1-286h0m0 83h0m0 13h0m1-2h0m0 126h0m2-118h0m0 150h0m1-32h0m0 2h0m1-163h0m2 183h0m1-170h0m0 150h0m2 0h0m1-142h0m0 16h0m1 2h0m0 1h0m0 1h0m2-9h0m1-46h0m0 17h0m1 32h0m0 138h0m0 5h0m0 21h0m4-173h0m2-1h0m0 241h0m2-246h0m0 24h0m2-59h0m2 227h0m3-52h0m3 9h0m0 18h0m2-185h0m1 235h0m2-18h0m1-18h0m2-159h0m1-6h0m1-19h0m0 24h0m0 127h0m0 28h0m1-19h0m2-16h0m1-171h0m3 43h0m1 174h0m1-165h0m1-10h0m1 215h0m1-228h0m1-17h0m1 35h0m1 8h0m1-8h0m2-19h0m0 8h0m0 144h0m1-141h0m2 130h0m5 2h0m2-125h0m1 7h0m1 139h0m0 16h0m1-179h0m0 159h0m1-148h0m1 148h0m1-134h0m1 129h0m2 28h0m4-26h0m0 24h0m1-250h0m1 57h0m2 38h0m1-43h0m1 40h0m2-49h0m2 167h0m1 36h0m1-200h0m0 193h0m2-21h0m1 34h0m2-166h0m1 10h0m1 162h0m1-162h0m0 113h0m0 9h0m0 58h0m1-60h0m1-127h0m2 152h0m1-23h0m1-125h0m2-5h0m0 173h0m1-206h0m0 163h0m1 45h0m0 10h0m2-210h0m1 1h0m0 147h0m2-129h0m0 13h0m0 116h0m2-132h0m0 151h0m0 37h0m1-49h0m1-126h0m0 119h0m1-172h0m0 271h0m1-217h0m2 2h0m1-6h0m0 123h0m0 3h0m0 35h0m1-198h0m0 7h0m0 254h0m3-63h0m1-158h0m0 151h0m1-158h0m1-12h0m1 205h0m1 49h0m3-250h0m0 4h0m2-22h0m1-1h0m2 37h0m3-45h0m0 47h0m1-21h0m1 1h0m1 143h0m1 80h0m1-229h0m2 179h0m3-39h0m0 36h0m2-168h0m0 12h0m0 135h0m2-138h0m0 151h0m1-6h0m2-157h0m1-8h0m0 143h0m2-143h0m1-21h0m0 175h0m0 10h0m3-142h0m0 120h0m0 46h0m1-174h0m0 156h0m1-151h0m0 141h0m0 44h0m0 16h0m1-76h0m2-3h0m4-147h0m1 268h0m1-235h0m2-36h0m0 6h0m0 150h0m0 27h0m2-189h0m0 189h0m1-32h0m0 9h0m1 49h0m4-172h0m1-26h0m1 6h0m0 8h0m1 1h0m1-4h0m1 132h0m1-172h0m2 46h0m0 202h0m1-53h0m0 58h0m1-217h0m2 1h0m1 134h0m2-142h0m1-32h0m0 207h0m1-33h0m0 98h0m4-216h0m1 141h0m1-151h0m0 7h0m1-3h0m1-28h0m3 170h0m0 26h0m0 9h0m1-307h0m0 254h0m1-173h0m2 48h0m0 127h0m2-122h0m2-22h0m1 147h0m0 58h0m1-65h0m0 68h0m2-216h0m0 12h0m4-14h0m1 21h0m0 137h0m2 124h0m5-249h0m0 3h0m1-27h0m1 24h0m0 174h0m1-52h0m1-128h0m1-37h0m1 13h0m0 202h0" stroke="#12309e" stroke-width="2.7" stroke-linecap="round"/>
<path d="M156.6 91V495" stroke="#000" stroke-width="2.8" stroke-dasharray="17.1 5 2.7 5"/>
<rect x="374.2" y="98.8" width="170.8" height="78" rx="3.3" fill="#fff" fill-opacity="0.97" stroke="#ccc" stroke-width="1.3"/>
<circle cx="397.5" cy="114" r="4.9" fill="#0b44de"/>
<text x="427.6" y="119.1" font-size="16.7" fill="#725757" text-anchor="start" >First 92 Dims</text>
<circle cx="397.5" cy="138.5" r="4.9" fill="#e20808"/>
<text x="427.6" y="143.6" font-size="16.7" fill="#725757" text-anchor="start" >Last 36 Dims</text>
<circle cx="397.5" cy="163" r="4.9" fill="#c65a12"/>
<text x="427.6" y="168.1" font-size="16.7" fill="#725757" text-anchor="start" >Overall Dims</text>
<clipPath id="cp00"><rect x="121.3" y="91" width="432" height="404"/></clipPath>
<path d="M140.9 341.6 L141 385.9 L141.1 413.4 L141.1 430.4 L141.2 441.6 L141.2 451 L141.3 458.5 L141.3 463.8 L141.4 467.4 L141.5 469.8 L141.5 471.2 L141.6 472.4 L141.6 473.3 L141.7 474 L141.8 474.3 L141.8 474.4 L141.9 474.4 L141.9 474.3 L142 474.3 L142.1 474.2 L142.1 474.1 L142.2 474 L142.2 474 L142.3 473.9 L142.4 473.8 L142.4 473.7 L142.5 473.6 L142.5 473.6 L142.6 473.5 L142.6 473.4 L142.7 473.3 L142.8 473.2 L142.8 473.1 L142.9 473 L142.9 472.9 L143 472.8 L143.1 472.7 L143.1 472.6 L143.2 472.5 L143.2 472.4 L143.3 472.3 L143.4 472.1 L143.6 471.9 L143.7 471.7 L143.8 471.5 L143.9 471.3 L144.1 471.1 L144.2 470.9 L144.3 470.7 L144.5 470.5 L144.6 470.3 L144.8 470.1 L145 469.9 L145.1 469.7 L145.3 469.4 L145.5 469.2 L145.7 468.9 L145.9 468.7 L146.2 468.4 L146.4 468.1 L146.6 467.8 L146.9 467.6 L147.2 467.3 L147.4 467 L147.7 466.6 L148 466.3 L148.3 466 L148.6 465.7 L149 465.3 L149.3 465 L149.7 464.6 L150.1 464.3 L150.5 463.9 L150.9 463.6 L151.4 463.2 L151.8 462.7 L152.3 462.3 L152.8 461.8 L153.3 461.3 L153.9 460.9 L154.5 460.4 L155.1 460 L155.7 459.7 L156.3 459.4 L157 459.1 L157.7 458.9 L158.5 458.7 L159.2 458.6 L160 458.4 L160.9 458.2 L161.8 458.1 L162.7 457.9 L163.6 457.8 L164.6 457.6 L165.7 457.5 L166.8 457.4 L167.9 457.3 L169.1 457.2 L170.4 457 L171.7 456.9 L173 456.8 L174.4 456.7 L175.9 456.6 L177.4 456.5 L179.1 456.5 L180.7 456.4 L182.5 456.3 L184.3 456.2 L186.2 456.2 L188.2 456.1 L190.3 456 L192.5 455.9 L194.8 455.8 L197.2 455.7 L199.7 455.5 L202.2 455.4 L205 455.2 L207.8 454.9 L210.7 454.6 L213.8 454.2 L217 453.8 L220.4 453.4 L223.9 452.8 L227.5 452.3 L231.4 451.7 L235.4 451 L239.5 450.4 L243.9 449.6 L248.4 448.7 L253.2 447.6 L258.1 446.4 L263.3 445.1 L268.7 443.7 L274.3 442.1 L280.2 440.3 L286.4 438.5 L292.8 436.5 L299.5 434.4 L306.5 432.2 L313.8 429.8 L321.4 427.2 L329.4 424.2 L337.7 421 L346.4 417.4 L355.5 413.5 L364.9 409.3 L374.8 404.9 L385.1 400.1 L395.9 394.8 L407.2 388.9 L418.9 382.6 L431.2 375.9 L444 368.9 L457.4 361.3 L471.4 353.4 L485.9 347 L501.2 341.3 L517.1 336.4 L533.7 332.6" stroke="#741c98" stroke-width="2.5" fill="none" stroke-linejoin="round" clip-path="url(#cp00)"/>
<rect x="121.3" y="91" width="432" height="404" fill="none" stroke="#000" stroke-width="1.5"/>
<path d="M140.9 495v4.8M217.6 495v4.8M294.3 495v4.8M371.1 495v4.8M447.8 495v4.8M524.5 495v4.8M121.3 466.1h-4.8M121.3 408.4h-4.8M121.3 350.7h-4.8M121.3 293h-4.8M121.3 235.3h-4.8M121.3 177.6h-4.8M121.3 119.9h-4.8M553.3 487.2h4.8M553.3 409.5h4.8M553.3 331.8h4.8M553.3 254.2h4.8M553.3 176.5h4.8M553.3 98.8h4.8" stroke="#000" stroke-width="1.3" fill="none"/>
<text x="140.9" y="515.6" font-size="13.5" fill="#000" text-anchor="middle" >0</text>
<text x="217.6" y="515.6" font-size="13.5" fill="#000" text-anchor="middle" >20000</text>
<text x="294.3" y="515.6" font-size="13.5" fill="#000" text-anchor="middle" >40000</text>
<text x="371.1" y="515.6" font-size="13.5" fill="#000" text-anchor="middle" >60000</text>
<text x="447.8" y="515.6" font-size="13.5" fill="#000" text-anchor="middle" >80000</text>
<text x="524.5" y="515.6" font-size="13.5" fill="#000" text-anchor="middle" >100000</text>
<text x="110.8" y="471" font-size="13.5" fill="#8c564b" text-anchor="end" >−15</text>
<text x="110.8" y="413.3" font-size="13.5" fill="#8c564b" text-anchor="end" >−10</text>
<text x="110.8" y="355.6" font-size="13.5" fill="#8c564b" text-anchor="end" >−5</text>
<text x="110.8" y="297.9" font-size="13.5" fill="#8c564b" text-anchor="end" >0</text>
<text x="110.8" y="240.2" font-size="13.5" fill="#8c564b" text-anchor="end" >5</text>
<text x="110.8" y="182.5" font-size="13.5" fill="#8c564b" text-anchor="end" >10</text>
<text x="110.8" y="124.8" font-size="13.5" fill="#8c564b" text-anchor="end" >15</text>
<text x="563.6" y="492.1" font-size="13.5" fill="#681c94" text-anchor="start" >0</text>
<text x="563.6" y="414.4" font-size="13.5" fill="#681c94" text-anchor="start" >20</text>
<text x="563.6" y="336.7" font-size="13.5" fill="#681c94" text-anchor="start" >40</text>
<text x="563.6" y="259.1" font-size="13.5" fill="#681c94" text-anchor="start" >60</text>
<text x="563.6" y="181.4" font-size="13.5" fill="#681c94" text-anchor="start" >80</text>
<text x="563.6" y="103.7" font-size="13.5" fill="#681c94" text-anchor="start" >100</text>
<text x="337.3" y="81.6" font-size="25.3" fill="#000" text-anchor="middle" >mean of <tspan font-style="italic">q</tspan><tspan font-style="italic" font-size="17.7" dy="7.1">t</tspan><tspan font-style="italic" font-size="17.7" dx="-4.7" dy="-16.5">T</tspan><tspan font-style="italic" dy="9.4" dx="1.2">k</tspan><tspan font-size="17.7" dy="4.5">0</tspan><tspan dy="-4.5"> for base=500</tspan></text>
<text transform="translate(71.8,293) rotate(-90)" font-size="22.4" fill="#8c564b" text-anchor="middle">Attention score</text>
<text transform="translate(611.8,294.5) rotate(-90)" font-size="22.4" fill="#681c94" text-anchor="middle">Perplexity</text>
<rect x="140.9" y="584.3" width="392.8" height="404" fill="#fdebcb"/>
<path d="M528.8 615.8l-2 6 0 10-1 1-3 80-1 1-2-4-3-64-2-13-1 0-4 29-2 53-2 17-1 1-2-3-4-33-8-38-2 3-3 24-3 11-4 35-1 1-2-3-5-62-3-10-2 9-4 41-2 4-2-3-2-19-2-4-2 10-2 30-2 2-1-1-3-70-3-19-3 15-3 46-1 1-2-5-3-37-1-2-2 4-3 31-1 32-2 8-2-4-1-23-3-22-2 3-3 41-1 1-2-1-2-88-1-1-1-33-2-8-2 9-1 26-1 1-3 106-2 9-2-7-1-23-3-18-2 5-2 23-1 1-2-2-3-82-3-26-3 15-3 91-1 1 0 13-2 4-2-12-3-106-2-18-1-2-1 1-3 29 0 18-1 1-2 71-1 1 0 14-2 7-2-2-6-60-1-2-1 2-3 24-2 2-1-1-5-46-1-1-2 8-3 43-2 2-5-15-5 8-2-3-2-20-2-62-3-20-3 22-4 112-1 1-1-1-1-6-1-32-3-22-2 3-4 41-1 1-2-2-2-43-3-21-3 18-2 47-1 6-1 1-1-1-2-47-3-28-3 16-3 60-1 1-2-2-3-86-3-23-2 5-1 20-1 1-3 61-1 1-2-1-3-25-1-1-2 10-3 74-2 4-2-12-4-106-3-25-1-1-3 15-2 38-3 27-1 1-2-3-1-10-2-4-2 7-3 28-2 6-2-1-5-82-2-7-1 2-3 29-2 70-2 3-2-14-2-60-3-21-3 13-3 56-2 7-2-4-4-35-5-6-2-15-2-3-1 20-1 1 0 108 1 1 0 24 1 1 1 28 3 21 5 6 3 33 3 14 3-17 3-55 2-2 1 1 3 76 3 30 1 0 2-14 2-74 1-1 1-27 1-1 2 6 3 67 3 13 2-5 5-36 1-1 2 3 2 14 1 1 1-2 3-24 3-49 2-5 2 5 0 12 1 1 3 92 1 1 1 32 2 12 1 0 2-14 3-78 2-3 1 1 2 18 2 5 4-33 1-36 1-1 0-10 2-2 2 14 2 74 3 22 2-6 2-19 2-42 1-1 2 1 2 49 3 16 3-19 2-44 2-5 2 8 1 28 3 21 1 0 2-9 3-33 1-1 2 3 2 49 3 20 3-23 3-103 2-10 2 7 2 54 3 25 2 2 3-8 2-1 2 3 3 14 1 1 1-1 2-12 2-31 1-1 1 1 5 36 2 1 4-22 1-1 2 4 3 40 4 18 2-6 1-20 1-1 3-88 1-1 0-14 2-4 2 12 3 106 3 20 2-7 1-21 1-1 3-85 2-4 2 13 1 48 1 1 0 19 1 1 1 20 1 3 1-1 3-31 2-3 1 1 4 55 1 3 1-1 2-18 0-18 1-1 2-91 1-1 0-17 2-5 2 13 2 96 3 27 2-7 2-41 2-10 2 1 4 50 1 1 1-2 5-77 2-2 1 1 2 32 3 18 3-20 2-42 2-3 2 10 2 61 3 20 3-15 2-29 2-2 1 1 3 20 2-2 3-16 2-26 2-6 2 2 4 50 4 22 3-13 3-34 2-6 2-17 3-6 2 4 5 24 5 41 2 8 1 0 3-25 3-68 2-6 2 5 3 66 3 16 3-21 2-61 2-4 1 1 3 57 2-20-1-150-1-1-1-67z" fill="url(#po0)" fill-rule="evenodd"/><path d="M528.8 628.8l-2 8 0 13-1 1-2 71-2 8-2-4-3-66-3-15-3 19-3 69-2 12-1 1-2-3-4-34-8-38-2 3-3 24-3 11-3 33-2 4-1-1-3-19-4-52-2-4-6 51-2 3-2-3-2-18-2-5-4 42-2 3-2-8-2-62-3-23-3 17-3 47-1 1-2-5-3-40-2-2-3 24-3 54-1 1-2-4-2-36-2-13-1 0-3 24-1 26-2 3-2-13-2-99-3-26-3 23-3 107-1 1 0 18-2 6-2-7-1-26-3-20-2 6-2 25-1 1-2-1-3-80-3-31-3 19-3 93-1 1 0 10-2 4-2-8 0-19-1-1-2-89-1-1-1-21-1-3-1 2-2 17 0 16-1 1-3 91-1 1 0 10-2 5-2-2-6-61-1-2-1 2-3 24-2 2-1-1-2-9-2-30-2-8-2 11-1 26-2 15-1 1-2-1-4-14-2 1-1 5-2 2-2-2-2-16 0-17-1-1-1-44-3-24-3 27-2 84-1 1-1 27-1 1-2-6-1-34-3-27-1 0-2 12-3 34-1 1-2-2-2-41-3-24-3 22-2 46-2 6-1-1-2-20-1-41-2-16-3 19-3 59-1 1-2-1-3-84-3-29-3 16-2 53-2 20-1 1-2-2-3-26-1-1-1 4-1 23-1 1 0 23-1 1 0 25-1 1 0 13-2 2-2-10-3-90-1-1 0-18-3-29-1-1-1 2-2 15-4 60-2 4-2-2-1-10-2-5-2 7-3 29-3 6-2-5 0-11-1-1-3-66-2-8-1 2-2 18 0 18-1 1-1 56-1 1 0 13-2 2-2-12-2-65-3-25-3 15-3 58-2 5-2-4-3-33-2-6-4-4-3-17-2 10-1 59 1 1 0 52 1 1 2 44 3 15 4 3 4 40 2 7 3-20 3-55 2-2 1 1 1 23 1 1 2 67 2 17 1 0 2-18 2-80 2-20 1-1 2 5 3 68 3 16 3-11 4-30 1-1 2 2 2 15 1 1 4-29 3-48 2-4 2 3 5 121 3 31 1 0 2-18 3-77 1-1 2 1 2 20 2 5 1-3 2-34 1-1 2-46 2-2 2 10 2 76 3 27 3-15 3-57 1-1 2 1 2 51 3 19 3-21 2-45 2-5 2 6 1 31 3 24 2-3 4-41 1-1 2 2 2 47 3 24 3-29 3-104 2-8 2 6 2 57 3 29 2 3 3-8 2-1 3 6 2 10 1 1 1-1 4-45 1-1 1 1 4 34 2 6 2-3 2-19 2-3 2 4 3 40 2 14 2 5 2-7 1-23 1-1 3-91 1-1 0-11 2-4 2 8 0 18 1 1 2 90 3 25 2-8 1-26 1-1 3-86 2-3 2 11 1 46 1 1 0 23 1 1 1 25 2 3 3-33 2-2 1 1 2 16 1 29 2 13 1-2 1-20 1-1 0-25 1-1 2-89 1-1 0-13 2-5 2 8 2 98 1 1 0 19 2 15 2-9 2-42 2-9 2 2 3 45 2 8 1-3 5-78 2-2 2 6 3 44 1 2 1-3 4-61 2-3 2 7 2 62 3 24 2-7 3-38 1-1 2 1 2 18 2 4 4-20 2-26 2-6 2 1 5 60 3 14 3-15 2-27 3-11 2-17 3-6 2 4 1 10 4 14 5 41 2 8 1-1 3-29 2-55 1-1 0-10 2-5 2 4 3 65 3 19 3-25 2-65 2-4 1 1 3 54 1-7-1-150-1-1-1-57z" fill="url(#po1)" fill-rule="evenodd"/><path d="M528.8 640.8l-2 9 0 17-1 1-2 68-2 6-2-4-3-65-3-18-3 21-2 54-3 26-1 1-2-4-4-34-8-38-2 3-2 18-4 17-2 27-2 9-1 1-3-9-4-54-3-13-6 50-2 4-2-3-2-18-2-5-4 44-2 2-1-1-2-19-2-62-2-12-2 8-4 58-1 1-2-4-2-35-2-11-1 1-3 27-2 48-2 5-2-3-3-46-1-5-1 0-2 14-2 39-2 4-2-8-2-100-1-1 0-20-2-13-2 12-1 37-1 1-2 91-1 1 0 12-2 4-2-6-1-27-3-23-2 6-2 26-2 2-1-1-1-7-2-68-1-1 0-19-2-17-2 8 0 14-1 1-3 93-1 9-2 3-1-1-2-19-2-93-3-31-3 22-5 117-2 4-2-2-6-61-1-2-1 2-3 24-1 1-2-1-2-8-2-28-2-9-5 51-1 1-2-2-4-14-5 9-2-2-2-13-2-59-3-30-2 14 0 19-1 1-1 60-1 1 0 26-1 1-1 20-1 1-2-5-2-50-2-15-1 0-2 13-2 29-2 5-2-2-2-19-1-33-2-12-2 10-3 59-2 5-1-1-2-14-1-43-2-20-3 23-3 55-2 2-1-1-1-22-1-1-2-76-2-15-3 18-3 66-2 5-2-2-3-25-1-1-1 4-4 89-2 2-2-8 0-15-1-1-2-72-1-1 0-20-1-1 0-16-2-17-1-1-2 8-5 69-2 5-1-1-4-18-5 37-3 7-2-4-4-78-2-10-1 2-1 21-1 1 0 23-1 1-1 55-2 12-2-1-1-9-2-66-3-30-3 17-3 57-2 5-2-3-4-40-5-6-3-14-2 19 0 68 1 1 0 28 1 1 1 27 2 13 2 5 3 2 2 8 2 30 2 8 3-23 3-53 2-2 1 1 2 19 1 46 1 1 0 21 2 20 1 0 1-6 0-15 1-1 1-59 1-1 1-32 2-4 2 4 3 67 3 20 3-12 3-28 2-3 2 2 2 15 1 1 4-31 3-47 2-4 2 3 1 8 5 127 1 1 0 11 1 5 1 0 1-21 1-1 2-67 1-6 1-1 2 1 3 25 1 1 1-3 5-83 2-2 2 7 2 74 1 1 0 18 2 15 3-17 3-58 2-2 1 1 1 9 1 41 3 24 3-24 2-45 2-4 2 5 1 30 3 28 2-3 4-42 1-1 2 2 3 59 2 12 2-15 0-19 1-1 2-87 1-1 0-14 2-6 2 5 3 73 3 20 1 1 3-8 2-1 3 6 2 10 1 1 1-2 4-47 1-1 1 1 2 10 1 19 3 14 2-4 2-19 2-3 2 3 3 40 4 21 2-9 1-28 1-1 4-99 2-4 2 6 0 12 1 1 2 94 3 30 2-8 1-30 1-1 2-74 1-10 2-3 2 9 0 16 1 1 3 82 1 5 1-1 3-33 2-2 1 1 2 14 2 40 1 4 1-2 1-27 1-1 0-29 1-1 1-64 1-1 1-29 2-5 2 5 0 14 1 1 1 77 1 1 0 26 2 19 2-10 2-43 2-7 2 2 4 51 1 2 1-3 5-77 2-2 2 5 3 44 1 2 1-3 4-61 2-3 2 5 2 59 3 30 2-8 3-37 1-1 2 1 2 18 2 4 3-13 3-34 2-5 2 1 5 59 3 15 2-7 3-35 3-11 2-17 3-6 2 4 0 5 6 25 4 35 2 8 1-1 2-16 4-80 2-5 2 3 3 64 3 22 3-31 2-65 2-3 1 1 3 42 0-100-1-1-1-71-1-1z" fill="url(#po2)" fill-rule="evenodd"/><path d="M528.8 651.8l-2 11-2 73-1 1 0 11-2 4-2-3-3-63-1-1 0-13-2-8-3 24-1 37-1 1 0 18-2 20-2 2-2-4-4-34-8-38-2 3-2 18-3 11-4 40-2 3-1-1-3-16-4-54-2-5-6 50-2 3-2-2-3-22-1 0-4 44-2 2-1-1-2-14-2-65-2-14-2 9-3 54-2 4-2-3-3-44-2-3-3 31-2 46-2 4-2-3-4-51-1 0-2 15-2 40-2 4-2-5 0-11-1-1-1-81-1-1 0-27-2-17-3 31-3 116-1 9-2 2-2-6-1-26-3-26-2 8-2 26-2 2-2-6-3-87-1-1-1-20-2 10 0 18-1 1-3 89-2 9-1 1-2-4-1-29-1-1-1-71-1-1 0-22-2-16-3 26-3 93-2 19-2 4-2-2-2-12-4-48-1-3-4 25-2 2-3-8-2-28-2-9-2 14-1 26-2 10-1 1-2-2-4-15-2 2-1 5-2 2-2-2-3-22-2-62-2-15-2 17 0 23-1 1-2 86-2 15-1 1-2-4-2-49-2-18-2 4-4 41-1 1-2-1-5-64-2 12-3 58-2 4-1-1-2-11-3-65-2 10-3 61-1 6-2 3-1-1-2-17-2-79-1-1 0-13-1-5-1 0-5 84-2 5-2-2-3-26-1-1-1 6-2 64-1 1 0 17-2 9-2-1-2-19-3-94-1-1 0-18-2-19-1-2-2 10-5 68-2 4-2-2-3-17-5 37-3 7-2-3-4-77-2-11-1 2-1 26-1 1-2 80-2 8-2-1-1-7-2-65-1-1 0-18-2-16-3 19-3 55-2 4-2-3-4-40-5-6-3-12-1 6 0 83 1 1 0 19 1 1 1 22 2 9 5 6 5 43 3-26 2-45 1-6 2-2 2 5 5 103 2-9 2-81 1-1 1-23 2-4 1 1 2 11 2 55 3 25 3-12 3-28 2-3 2 2 2 15 1 1 1-3 6-76 2-3 2 2 2 19 4 113 1 1 0 13 1 6 1-1 4-90 2-6 2 2 3 26 1 1 1-4 5-84 2-2 2 6 0 11 1 1 2 80 2 18 3-19 3-58 2-2 1 1 1 7 2 58 2 11 3-27 2-43 2-4 2 5 2 44 2 16 1 0 2-11 2-30 2-5 2 1 2 18 1 38 2 14 2-18 0-23 1-1 2-86 1-1 0-10 2-4 2 4 0 10 1 1 2 62 3 23 1 1 2-6 3-3 6 17 2-10 2-36 2-5 1 1 2 9 2 28 2 7 2-4 1-14 3-9 2 4 4 48 3 13 3-24 3-93 1-1 1-21 2-3 2 4 1 9 4 127 1 4 2-10 4-108 1-8 2-2 2 7 0 12 1 1 3 88 1 6 1-1 3-32 2-3 1 1 5 57 2-14 0-22 1-1 2-94 1-1 1-23 2-4 2 3 1 9 2 106 1 1 1 24 2-11 2-42 2-5 2 1 4 51 1 3 1-4 3-62 2-15 2-1 2 4 2 34 2 12 2-13 3-51 2-3 2 4 0 10 1 1 2 64 2 15 2-8 3-37 1-1 2 1 2 18 2 5 3-13 3-35 2-5 3 6 6 68 1 2 2-8 2-27 4-18 3-21 2-1 2 3 1 10 5 20 6 43 3-21 1-39 1-1 0-17 2-20 2-4 2 2 4 76 2 10 2-16 3-83 2-3 1 1 2 21 0-84-1-1 0-35-1-1z" fill="url(#po3)" fill-rule="evenodd"/><path d="M528.8 663.8l-2 15-1 55-1 1-1 24-2 3-2-2-1-7-2-53-3-27-3 28-2 57-2 15-2 2-3-9-3-29-8-39-2 5-2 17-3 12-3 34-3 8-3-8-6-67-1 0-6 49-2 3-2-2-3-21-1 0-4 44-2 2-2-4-1-8-2-64-2-18-2 10-1 31-3 26-1 1-2-4-3-44-1-4-1 1-5 78-2 3-2-3-3-45-2-7-4 57-2 4-2-4 0 74 1 1 1 33 2-13 2-38 2-5 2 1 4 50 1 3 1-4 2-49 3-26 2-2 2 4 4 46 5-64 2-3 3 11 2 63 2 20 2-9 0-11 3-25 1-1 2 2 2 18 2 6 4-23 3-30 2-1 3 13 3 45 3 18 2-9 2-27 4-17 3-21 2-1 2 3 1 10 5 20 6 43 3-26 2-55 2-18 2-4 3 8 3 67 2 13 1-20 1-1 2-73 2-9 1-1 2 5 0-70-1-1zM399.8 640.8l-2 16 0 20-1 1-2 103-1 1 0 11-2 6-2-1-1-4-2-40-2-14-2 8-2 26-2 2-2-4-5-108-2 12-3 95-2 16-2 3-2-3-2-16-1-74-1-1 0-29-1-1-1-20-3 31-3 92-2 15-2 3-2-3-2-10-4-49-1-2-1 2-3 22-2 2-1-1-3-14-1-19-2-10-4 47-2 3-2-2-4-15-5 9-2-2-3-19-2-60-2-18-1 21-1 1-2 96-1 1-1 21-2 3-2-3-4-69-1-1-4 42-2 4-2-1-2-13-1-32-2-18-2 15 0 17-1 1 0 17-2 20-2 4-2-2-4-73-2 11-3 59-3 8-1-1-3-30-1-61-1-1-1-23-2 9-4 75-2 4-2-2-3-25-1 0-1 7-2 70-1 1 0 12-2 7-2-1-2-15-4-114-3-26-2 11-2 39-3 28-2 4-2-2-3-16-5 36-3 7-3-8-3-70-2-13-2 15 0 22-1 1-1 64-1 1 0 11-2 6-2-2-2-18-1-48-1-1 0-21-2-20-2 8-4 67-2 3-2-3-4-41-1-3-3-2-3-10-1 0-1 52 1 1 0 31 1 1 1 25 2 10 4 4 2 6 2 28 2 10 2-14 3-58 1-5 2-2 1 1 3 27 3 78 2-12 1-61 1-1 0-23 2-16 2-2 1 1 2 9 3 69 2 13 2-6 3-29 3-9 2 3 3 16 1-4 5-69 3-10 2 3 2 15 4 111 1 1 1 23 1-1 4-90 2-5 2 2 2 21 2 6 2-16 2-55 2-17 2-2 2 4 1 9 2 79 1 1 1 23 2-8 4-70 2-2 2 6 2 57 2 15 2-14 3-57 2-4 2 5 2 42 2 19 1 1 4-42 2-5 2 1 1 4 4 65 1-22 1-1 2-96 1-1 1-20 2-3 2 3 3 71 3 29 2-1 2-6 2-1 6 16 2-12 2-36 2-4 2 3 3 35 2 8 1 0 3-24 2-3 2 3 4 48 3 14 3-29 3-94 2-17 2-3 2 2 2 17 1 74 1 1 0 29 2 20 3-28 2-80 1-1 0-12 1-5 2-2 2 5 0 10 1 1 3 91 1 7 1-1 3-31 2-2 1 1 2 10 3 45 2-18 3-119 3-21 1-1 2 2 1 6-1-90-1-1z" fill="url(#po4)" fill-rule="evenodd"/><path d="M366.8 779.8l-2 19-2 2-2-1 0 56 1 1 1 28 2-14 0-20 1-1zM255.8 712.8l-2 12 0 17-1 1-2 38-3 7-2-2 0-3-1 2 3 87 2-9 3-64 1-5 2-2 2 4 1 9 1 45 2 20 2-17 2-48 1-6 2-3 3 11 3 55 1 1 4-41 3-6 2 4 4 63 1-30 1-1 0-51-1 2-2-1-2-9-3-63-1-1-4 41-2 4-2-1-2-10-3-50-5 69-2 3-2-2-2-14zM164.8 700.8l-2 9-1 33-3 31-2 3-2-2-4-42-1-3-4-4-2-6-1 53 1 1 0 20 3 25 5 5 5 41 6-77 2-2 2 4 2 15 0 18 1 1 2 65 2-17 1-59-1-2-1 1-2-2-2-12-2-72-1-1zM528.8 679.8l-2 20 0 34-1 1-1 33-3 6-3-8-3-68-2-14-2 16 0 15-1 1-2 56-3 13-3-3-5-41-7-33-2 5-1 12-4 17-4 40-2 2-2-2-6-66-2-7-6 49-2 3-2-2-3-21-1 1-3 38-3 8-2-3-2-17-1-49-1-1-1-24-2 13-2 44-2 10-1 1-2-3-4-49-1 1-5 78-2 3-2-2-4-52-1 0-3 51-1 7-3 7 1 73 2-13 1-27 2-10 2-1 3 13 1 25 2 14 3-56 3-21 2-2 2 4 4 44 3-49 2-14 2-3 2 3 2 16 1 48 1 1 1 25 2-10 2-30 2-4 2 1 4 25 3-15 3-35 1-3 2-1 3 12 3 44 3 20 3-29 5-24 1-13 2-8 2-1 2 3 1 10 5 20 6 42 2-13 3-71 2-14 2-4 2 2 2 12 2 56 2 15 1-27 1-1 1-65 2-9 3-4zM371.8 676.8l-2 17-2 83 0-10 2-9 2-1 2 4 2 16 1 61 1 1 1 32 2-8 2-22 2-2 1 1 3 19 2 33 1-26 1-1 0-52-3-3-1-4-4-55-2 9-2 25-2 3-3-8zM240.8 672.8l-2 11-1 38-1 1 0 16-2 17-2 3-2-2-3-24-1 1-3 86-3 11-2-1-3-21-2-79-1-1 0-24-1-1-1-27-1-3-1 3-3 49-3 26-2 3-2-2-3-16-5 36-3 7-2-2-2-13-2-58-2-16-1 5-2 86 3-5 3 8 4 80 1 4 1-1 6-41 1-1 2 2 2 15 1 1 1-4 5-69 3-9 2 2 4 36 1 54 1 1 0 27 1 1 1 29 2-17 2-69 3-8 2 3 3 26 1 0 5-83 1-5 2-2 2 4 1-1zM296.8 661.8l-1 28-1 1 0 54 1-3 2 1 2 8 2 61 1 1 0 17 2 17 1 1 2-6 3-2 2 2 2 10 2 3 2-15 2-35 2-3 2 3 2 26 3 18 1 0 3-24 2-3 2 3 4 47 3 14 2-15 0-20 1-1 2-82 3-23 2-3 2 2 0-56-1-1-1-28-2 15 0 20-1 1-2 79-2 17-3 6-3-6-5-55-1-3-4 24-1 1-2-1-3-12-1-18-2-10-2 31-3 16-1 1-2-3-4-15-5 9-3-3-3-24-1-44-1-1zM399.8 653.8l-2 19 0 27-1 1 0 43 5-16 0-38-1-1z" fill="url(#po5)" fill-rule="evenodd"/><path d="M219.8 851.8l-1 5 1 29 1-5zM171.8 835.8l0 22 1-6zM287.8 825.8l1 30 0-30zM363.8 818.8l-2 11 1 33 1-23 1-1zM249.8 801.8l-2 5 0 13-1 1 1 2 0 26 1 1 1-34 1-1 0-12zM263.8 799.8l-3 6 1 43 1-23 1-1zM520.8 791.8l-1 18 1 1 1 23 1-34zM384.8 769.8l-3 29-3 9-1 10 1 29 1 2 1-16 2-9 2-2 2 2 2 10 2 32 0-33-3-10zM412.8 754.8l-2 51-4 19 0 16 1 4 1-31 2-8 3-2 3 9 3 40 2-43-3-3-2-5-3-47zM227.8 752.8l-2 37 1 9 3 9 2 21 2-10 1-42-4-3zM281.8 748.8l-4 38-3 5-2-2 1 40 2 15 3-35 2-10 3-4 0-28zM254.8 739.8l0 17-1 1 0 12 1 1 1-3 0-27zM144.8 739.8l-1 23 1 1 1 33 1 6 6 8 4 35 3-56-3 5-2-3-4-42-2-6zM322.8 736.8l-2 34-2 8-2 2-6-18-5 9-3-2 0 34 1 1 1 25 1 2 3-7 2-1 3 5 1 7 2 2 3-48 3-6 3 8 2 30 2 11 4-25 2-3 2 3 3 21 2 33 2 7 1-26 1-1 0-27-4-4-2-9-5-51-3 19-2 4-2-1-3-10zM268.8 735.8l-2 41 4 0zM467.8 726.8l-3 31-3 16-2 3-3-4-2-17-1 1-2 32-2 11-3 7 1 42 1 0 1-22 3-17 1-1 2 1 3 23 1 2 1-2 4-43 3-9 3 4 5 61 2 10 3-29 4-17 3-24 3-3 2 3 2 15 5 20 5 35 1-21 1-1 0-30-3-3-2-8-4-35-6-30-2-3-6 34-2 29-2 10-2 2-2-2-2-10-4-53zM427.8 724.8l-2 12-1 45 3-3 3 6 3 37 3-51-3 6-2-2zM164.8 720.8l-2 13-1 40 1-4 3-3zM440.8 712.8l-2 15-1 38 1-5 3-4zM179.8 711.8l-1 44 2 4 1-1 0-22-1-1zM513.8 702.8l-1 20-1 1 0 35 1-3 3-2 0-28-1-1zM371.8 702.8l-1 5 0 25 1 2zM240.8 696.8l-1 0 0 14-1 1 0 28 2-3zM209.8 691.8l-7 77-2 2-2-1-3-16-5 35-2 7-3 4 2 51 2-4 4-34 2-3 2 2 2 14 1 1 5-68 2-11 2-3 2 0 0-32-1-1zM296.8 688.8l0 30 1-2zM354.8 681.8l-1 25-1 1 1 16 2-10zM399.8 680.8l-1 31 1-1z" fill="url(#po6)" fill-rule="evenodd"/><path d="M141 643h0m0 11h0m1 278h0m1-329h0m0 8h0m0 39h0m0 5h0m0 240h0m1-260h0m0 218h0m1 35h0m1-14h0m0 43h0m0 30h0m1-295h0m0 8h0m0 214h0m1 44h0m1-318h0m0 46h0m0 224h0m1-206h0m1 224h0m2-269h0m0 48h0m0 31h0m1 259h0m1-361h0m0 321h0m1-231h0m0 230h0m1 16h0m0 3h0m1-331h0m0 31h0m0 49h0m0 28h0m0 213h0m1-15h0m1-6h0m1 6h0m2-263h0m0 213h0m1-249h0m0 253h0m0 112h0m2-384h0m0 18h0m0 279h0m3 33h0m2 39h0m1 1h0m1-3h0m0 4h0m1 5h0m4-331h0m2 241h0m1 94h0m3-373h0m1-13h0m1 330h0m1 6h0m1-266h0m0 325h0m1-57h0m0 20h0m1-236h0m0 223h0m0 43h0m1-314h0m0 249h0m2-296h0m0 72h0m1 253h0m1-266h0m0 260h0m1-341h0m0 331h0m0 39h0m2-283h0m0 301h0m1-23h0m1-258h0m0 234h0m1-29h0m0 40h0m1-278h0m1-65h0m1 42h0m0 21h0m3-55h0m1-12h0m0 270h0m1 109h0m1-363h0m0 214h0m1-212h0m0 7h0m0 249h0m0 72h0m1-343h0m0 17h0m1 240h0m0 107h0m1-50h0m3-299h0m1 88h0m2-88h0m0 361h0m1-224h0m2-164h0m3 70h0m0 262h0m1-270h0m0 315h0m1-346h0m0 51h0m2 6h0m0 218h0m0 67h0m3-341h0m1 46h0m0 240h0m1-240h0m0 235h0m0 42h0m2-52h0m1-272h0m1-13h0m0 11h0m0 272h0m0 78h0m1-351h0m2-3h0m1 24h0m1-38h0m1 324h0m1-235h0m0 250h0m1-4h0m0 45h0m1-299h0m1 252h0m0 8h0m0 20h0m1-29h0m0 27h0m1-286h0m0 243h0m1 22h0m1-302h0m1 1h0m0 275h0m1-268h0m1 8h0m1-38h0m0 298h0m1-291h0m1 49h0m2 267h0m1-278h0m0 301h0m1-300h0m0 309h0m2-295h0m1 306h0m1-321h0m2-9h0m0 305h0m1-57h0m0 12h0m1-8h0m1-237h0m0 291h0m1-302h0m0 11h0m1-66h0m0 66h0m2 47h0m3-32h0m1-19h0m2 9h0m0 253h0m1-263h0m0 3h0m4 276h0m1-229h0m0 243h0m0 1h0m1-257h0m0 250h0m0 4h0m1-5h0m1-6h0m0 10h0m2-343h0m0 323h0m2 5h0m1-329h0m0 249h0m0 13h0m0 45h0m2-86h0m0 24h0m1-241h0m1 263h0m1-2h0m1-232h0m1 37h0m0 226h0m1 52h0m1-301h0m2 319h0m1-355h0m0 5h0m1 57h0m1-14h0m0 228h0m1-227h0m2 276h0m1-343h0m0 59h0m0 254h0m0 36h0m1-273h0m1 233h0m0 7h0m0 3h0m1-225h0m0 223h0m2-257h0m0 28h0m0 223h0m1 15h0m2-269h0m0 6h0m1-15h0m0 3h0m0 9h0m1 220h0m0 29h0m0 50h0m1-83h0m0 50h0m4 14h0m0 4h0m1-308h0m0 268h0m0 13h0m1-237h0m0 246h0m1-298h0m0 276h0m1 7h0m1-223h0m0 208h0m1-220h0m0 8h0m1-10h0m1 220h0m2 65h0m0 19h0m1-25h0m1-300h0m1-2h0m0 56h0m2 245h0m1-10h0m1 38h0m1-46h0m0 52h0m6-381h0m1-11h0m0 4h0m0 2h0m0 6h0m0 205h0m1-210h0m0 219h0m1 146h0m2-349h0m3 325h0m0 7h0m0 12h0m1-231h0m0 227h0m1-261h0m0 16h0m0 241h0m1-362h0m0 138h0m1 206h0m7-315h0m0 238h0m0 109h0m1-356h0m1 274h0m1 13h0m1 9h0m0 73h0m1-4h0m2-257h0m0 213h0m2-231h0m2-22h0m0 223h0m1-220h0m0 288h0m1-291h0m0 227h0m1-220h0m1 266h0m0 11h0m1-261h0m0 258h0m6-282h0m3 245h0m1-68h0m1 36h0m2-298h0m0 264h0m3 72h0m3 23h0m0 10h0m1-269h0m3 242h0m2-255h0m0 237h0m1 56h0m2-70h0m1 57h0m1-19h0m0 1h0m1 8h0m0 20h0m1-29h0m0 14h0m7-93h0m0 12h0m0 3h0m0 58h0m2-63h0m0 75h0m2-39h0m1 51h0m1-266h0m0 210h0m1-218h0m0 221h0m0 4h0m0 15h0m2-28h0m0 2h0m2-14h0m1-17h0m0 93h0m1-117h0m5 67h0m3 22h0m3-227h0m1 266h0m2-297h0m2 7h0m3 250h0m2 37h0m1-64h0m0 78h0m1-10h0m1-290h0m2 208h0m1-25h0m2-2h0m1 78h0m1-55h0m0 98h0m2-310h0m3 6h0m1 51h0m0 217h0m1-24h0m0 7h0m0 40h0m2-48h0m0 23h0m1-269h0m0 35h0m1 264h0m1-293h0m1 222h0m2-33h0m0 98h0m1-71h0m1-15h0m0 40h0m7-51h0m0 91h0m2-283h0m0 206h0m0 16h0m1 3h0m0 27h0m0 46h0m1-294h0m1 225h0m2-192h0m0 1h0m0 249h0m2-25h0m10-91h0m2 82h0m1-33h0m1 48h0m3-272h0m1 261h0m0 1h0m0 7h0m1-20h0m0 6h0m1-10h0m0 2h0m0 25h0m5-360h0m1 296h0m0 7h0m1 13h0m1-12h0m0 25h0m1-30h0m0 4h0m0 21h0m0 4h0m1-2h0" stroke="#a8561a" stroke-width="2.7" stroke-linecap="round"/><path d="M528.8 628.8l-3 14-2 65-2 14-2-3-3-66-2-10-1-1-1 2-3 27-2 57-2 16-1 1-2-2-7-51-5-14-3 4-2 8-7 55-1 1-3-9-3-51-2-13-2-3-3 14-3 39-1 1-2-2-3-18-2-1-2 9-2 25-1 1-2-2-3-66-3-18-1 0-2 9-2 41-2 10-2-3-3-41-1-4-2 2-3 30-1 39-2 9-2-6-1-28-3-17-1 0-2 9-2 35-1 1-2-2-3-110-1-1-1-20-2-3-3 26-3 124-2 6-5-45-1-1-2 6-2 21-1 1-2-3-3-85-3-21-2 4-2 19-3 94-2 2-1-1-3-97-1-1-1-25-2-8-2 4-2 17-3 91-1 1 0 19-2 10-2-3-2-35-3-21-1-2-2 3-3 18-1 1-2-1-2-22-3-14-2 1-5 42-1 1-2-1-3-15-2 1-3 9-2-3-3-73-1-1-1-22-2-5-2 6-1 24-1 1-3 98-1 1-2-5-2-45-3-12-3 14-2 33-1 1-1-1-3-49-3-14-3 13-3 53-1 1-1-1-2-45-3-23-2 2-2 16-2 51-1 1-2-2-3-89-2-17-2-2-3 23-2 59-1 6-1 1-1-1-3-19-1-1-2 4-2 17 0 16-1 1-1 36-2 8-2-9-4-117-3-19-1-1-3 15-4 65-2 4-2-2-2-9-2-1-1 2-5 35-2-1-4-78-2-11-1-1-1 1-3 29-2 68-2 6-2-13-1-49-1-1 0-16-3-20-1 1-2 9-3 64-2 7-2-5-3-31-1-3-5-5-2-21-2-7-2 10 0 24-1 1 0 49 1 1 0 37 1 1 2 48 3 17 5 4 3 35 3 13 2-4 2-18 2-48 1-1 2 1 3 81 3 18 2-5 1-20 1-1 3-81 1-1 2 5 3 64 2 12 2 2 3-16 2-25 2-3 5 13 3-8 4-60 2-8 2 5 0 15 1 1 3 103 1 1 1 20 2 6 2-6 1-20 1-1 2-55 1-6 1-1 1 1 3 19 2 1 3-22 0-15 1-1 1-36 2-3 2 16 2 75 3 21 2-3 2-19 2-51 1-1 2 4 2 48 3 15 3-12 2-48 2-8 2 8 3 51 2 4 3-15 2-32 1-1 1 1 3 55 2 12 1 1 1-2 2-15 0-16 1-1 2-86 2-11 2 7 2 56 3 23 1 2 1-1 2-9 2-3 2 2 2 13 2 3 1-1 3-17 2-24 1-1 2 2 2 22 3 12 2-2 3-18 1-1 2 2 3 45 2 15 2 4 2-6 2-20 3-91 1-1 0-14 2-2 2 14 3 102 3 21 2-4 2-18 2-76 1-1 0-17 2-2 2 16 1 48 1 1 0 15 3 19 2-3 2-23 2-4 1 1 3 45 2 8 2-3 1-20 1-1 0-22 1-1 2-93 2-3 1 1 0 19 1 1 2 83 3 21 3-11 2-38 2-3 2 11 2 35 2 5 2-5 4-73 1-1 2 1 2 34 3 11 3-16 1-29 2-13 2 1 3 64 3 16 1 0 2-9 3-31 1-1 2 3 3 18 1 1 4-22 1-23 2-7 2 2 3 47 4 22 2-2 2-8 5-47 4-14 3 2 6 33 2 22 2 11 2 3 2-4 2-14 3-65 2-9 2 5 3 70 3 12 3-19 3-64 1-1 1 1 2 62 1 6 1 0 1-8-1-168-1-1-1-60z" fill="url(#pr0)" fill-rule="evenodd"/><path d="M528.8 637.8l-2 6 0 10-1 1-3 81-1 1-2-3-3-71-3-13-3 19-2 56-3 28-1 1-2-2-7-52-2-9-3-6-3 4-2 9-6 52-2 4-2-2-2-15-2-41-3-18-2 2-5 52-1 1-2-2-3-20-1-1-1 1-2 10-2 26-2 1-2-9-4-76-2-3-2 11-3 52-1 1-2-3-3-45-1-4-2 3-2 18-2 57-2 6-2-5-1-29-3-21-1 0-2 11-2 39-1 1-2-1-3-109-1-1-1-27-2-3-2 14 0 20-1 1-2 106-1 1 0 16-2 3-2-9 0-14-3-28-1-1-2 6-2 24-1 1-2-1-3-84-3-27-2 4-1 9-3 99-1 1 0 12-2 1-2-13-3-104-3-22-2 4-1 21-1 1 0 21-1 1-2 74-1 1 0 14-2 7-2-2-2-35-3-24-1-2-2 2-2 16-2 4-2-1-3-29-2-8-2 2-5 43-1 1-2-2-2-13-2-3-4 11-2-2-1-20-1-1-2-64-3-17-3 19-2 85-1 1-1 31-1 1-2-4-2-50-3-16-3 18-1 28-2 7-2-4-2-47-3-17-3 16-1 37-2 18-1 1-1-1-1-7-3-61-2-5-3 23-2 53-1 1-2-1-3-92-3-24-2 5-4 81-2 5-1-1-3-21-1-1-2 5-4 76-2 5-2-6-4-119-3-24-1-1-1 2-2 15-4 64-2 3-2-2-3-11-2 3-3 30-2 7-2-1-1-6-4-81-2-6-3 20 0 19-1 1-2 67-2 4-2-10-2-70-3-25-2 4-3 62-1 1 0 12-2 4-2-5-4-37-5-4-2-19-2-7-2 16 0 75 1 1 0 26 1 1 2 41 3 12 3 1 2 5 2 29 3 16 3-14 3-63 1-1 2 1 3 82 3 23 3-15 4-97 1-1 2 4 3 68 3 17 3-10 3-32 2-3 5 14 2-4 3-27 2-42 2-6 2 3 0 10 1 1 3 105 1 1 1 26 2 7 3-17 3-69 2-5 1 1 3 21 1 2 2-5 1-22 1-1 0-19 1-1 0-21 1-1 0-12 2-2 2 11 2 80 3 27 1 0 2-12 3-67 1-1 2 3 2 51 3 19 3-15 2-52 2-5 2 6 1 33 3 27 1 1 2-8 2-38 2-6 2 5 2 51 3 17 3-22 2-86 1-1 0-21 2-8 2 6 2 59 3 28 2 2 2-10 2-3 2 2 1 9 3 8 3-12 3-32 1-1 2 2 2 22 3 14 1 0 2-7 2-14 1-1 2 1 4 54 3 11 2-7 1-24 1-1 3-94 1-1 0-11 2-2 2 11 0 21 1 1 2 83 3 26 2-3 1-9 3-97 1-1 0-13 2-2 2 13 1 49 1 1 0 21 2 20 2 3 4-32 1-1 1 1 4 53 2 3 2-14 0-17 1-1 2-103 1-1 0-16 2-2 2 16 2 93 3 27 3-13 2-41 2-2 2 9 2 40 2 7 1-2 2-16 3-66 1-1 2 2 2 36 3 13 3-19 2-42 2-2 2 10 2 57 3 19 2-3 4-38 1-1 2 3 2 17 2 3 1-2 3-23 1-22 2-7 2 2 3 46 3 23 2 3 2-6 6-53 2-9 3-3 2 2 3 12 7 53 2 4 2-5 2-16 3-69 2-7 2 3 4 83 2 5 3-24 1-48 1-1 1-21 1-1 1 1 0 10 1 1 2 61 1-1 0-23 1-1-2-148-1-1-1-49z" fill="url(#pr1)" fill-rule="evenodd"/><path d="M528.8 644.8l-2 8 0 13-1 1-1 53-1 1 0 18-2 8-2-2 0-10-1-1-1-43-1-1 0-17-2-16-1-1-2 10-3 71-2 20-2 3-3-6-7-53-4-10-2 1-3 12-6 53-2 3-2-2-2-12-3-52-2-10-1 0-2 9-3 42-2 4-2-1-3-21-1-1-1 1-4 38-1 1-2-1-2-20-2-57-2-12-2 5-4 60-1 1-2-2-3-47-2-5-3 27-2 55-2 5-2-5-2-41-2-12-2 5-3 49-2 2-2-9 0-23-1-1-2-95-1-1 0-11-1-5-1 0-2 19 0 27-1 1-2 104-1 1 0 10-2 2-2-8-1-30-2-16-1-2-1 2-3 30-1 1-2-1-1-7-2-71-1-1 0-18-2-15-1 0-1 5 0 10-1 1-3 103-1 9-2 2-2-10 0-20-1-1-3-101-1-8-2-3-2 15 0 16-1 1-3 96-1 1 0 11-2 5-2-2-2-33-3-28-1-2-2 2-3 20-1 1-2-1-5-38-2 2-3 34-2 9-1 1-2-2-3-16-2 1-2 9-1 1-2-1-2-16-2-64-3-23-3 26-2 91-1 1-1 22-1 1-2-4-2-50-2-18-1-1-2 9-2 40-2 6-2-3-2-46-3-22-3 21-2 50-2 4-2-6-2-54-1-1 0-10-1-5-1 0-3 28-1 42-1 9-2 2-1-1-5-117-2-3-2 17-3 71-2 3-1-1-3-21-1-2-1 1-3 31-2 53-2 4-2-4 0-12-1-1-3-105-3-30-1-1-2 9-2 42-3 30-2 3-2-2-2-9-2-2-3 16-2 24-2 2-2-6 0-11-1-1-3-70-1-6-1-1-1 2-1 22-1 1 0 22-1 1-1 51-1 1 0 11-2 3-2-7-2-70-3-31-1 0-2 15-3 65-2 4-2-4-3-36-2-6-2 0-3-5-3-21-1 6 0 90 1 1 2 48 2 11 6 7 3 38 2 7 3-16 3-63 2-2 1 1 1 27 1 1 1 52 3 28 3-19 2-75 1-1 1-20 1-1 2 4 3 68 3 21 3-12 3-31 2-2 5 14 2-5 5-71 2-5 2 2 1 9 4 123 3 21 3-21 3-68 2-3 1 1 3 21 1 2 1-1 2-15 0-16 1-1 2-52 2-3 2 9 2 78 1 1 0 19 2 15 1 0 2-15 1-42 1-1 1-23 1-1 2 2 2 50 3 24 3-20 2-51 2-4 2 5 2 48 2 16 1 1 2-10 2-40 2-5 2 4 2 51 3 20 3-28 2-91 1-1 0-15 2-6 2 5 0 12 1 1 1 44 1 1 0 17 2 17 2 2 2-10 2-3 2 2 2 13 2 4 3-13 2-28 2-4 2 1 2 22 3 15 1 0 2-7 2-15 1-1 2 1 3 27 1 26 3 13 3-20 5-121 2-2 2 8 0 16 1 1 2 85 1 1 0 19 2 15 1 0 1-5 0-10 1-1 3-102 1-10 2-1 2 9 2 72 1 1 1 25 2 3 4-33 1-1 1 1 2 14 2 40 2 3 2-17 0-24 1-1 2-105 2-13 2 1 1 10 2 95 1 1 0 21 2 14 2-5 0-10 1-1 2-40 2-2 2 8 3 48 1 2 1-2 5-84 1-1 2 2 2 37 2 14 1 0 3-23 2-40 2-2 2 8 2 57 3 24 2-4 2-28 2-9 1-1 2 2 2 17 2 4 1-2 4-47 2-6 2 2 1 5 2 39 3 26 2 3 2-6 6-53 2-9 3-3 3 5 3 14 5 43 3 9 2-5 2-20 3-69 2-6 1 1 2 12 2 62 1 1 0 11 2 6 3-30 2-66 2-4 2 7 1 43 1 1 0 12 1-7-1-120-1-1-1-63z" fill="url(#pr2)" fill-rule="evenodd"/><path d="M528.8 651.8l-2 10 0 18-1 1-2 68-2 6-2-2-1-8-2-62-2-20-1-1-2 12-4 83-1 6-2 3-3-6-8-58-3-6-2 1-3 13-6 52-2 3-2-1-3-22-2-41-3-12-2 10-3 42-2 4-2-2-4-22-3 15-2 26-1 1-2-1-2-16-2-59-2-15-2 6-2 45-2 15-1 1-2-2-3-47-2-6-2 14-3 70-2 4-2-4-2-40-2-15-2 6 0 11-1 1-2 38-2 2-2-6 0-15-1-1-2-101-1-1 0-16-1-6-1 0-1 25-1 1 0 33-1 1-1 79-1 1-1 23-2 2-2-7-3-49-1-2-1 2-3 31-2 2-1-1-1-6-3-89-2-18-1 0-1 6 0 14-1 1-3 102-1 7-1 1-2-1-1-21-1-1-2-87-1-1 0-19-2-15-1 0-2 18-5 123-2 4-2-2-5-61-2-3-3 19-2 4-2-1-5-37-1-1-2 9-2 29-3 8-2-2-2-12-2-4-3 11-2 1-2-4-4-89-2-10-2 12-3 113-2 16-1 1-2-3-3-63-2-9-2 11-2 40-2 5-2-3-3-58-2-11-2 10-3 63-2 4-2-5-2-52-1-1 0-13-2-7-2 15-2 59-1 8-1 1-2-1-1-23-1-1-2-82-2-16-2 7-4 82-2 3-1-1-4-25-1 2-2 18-3 68-2 4-2-4-1-9-3-104-1-1 0-19-2-17-1-1-2 11-2 44-3 26-2 3-4-12-1-2-1 1-3 17-2 23-2 2-2-5-4-81-2-9-1 3-1 27-1 1-2 74-1 9-2 2-2-5 0-13-1-1-1-52-1-1 0-21-2-17-2 6 0 11-1 1-2 56-1 7-2 3-2-3-4-42-6-6-3-18-1 69 1 1 0 28 1 1 2 38 2 7 3 1 2 4 3 36 2 9 3-20 2-55 1-7 2-2 1 1 1 21 1 1 2 73 2 15 2-9 0-15 1-1 2-76 2-15 1-1 2 3 3 67 3 24 2-5 2-27 2-10 2-2 5 14 2-5 5-73 2-5 2 2 2 20 3 107 3 27 2-11 4-79 2-3 1 1 4 25 1-2 2-18 2-60 1-8 2-3 2 7 0 13 1 1 1 58 1 1 0 24 2 20 2-6 2-58 2-19 1-1 2 2 3 64 2 12 2-9 3-64 2-4 2 4 2 47 3 21 2-12 2-40 2-4 2 3 3 63 2 10 2-14 0-22 1-1 2-91 1-1 0-10 2-4 2 4 0 10 1 1 1 42 1 1 0 20 1 1 1 20 1 3 1-1 1-6 3-6 3 5 1 9 2 5 3-15 2-27 2-4 2 1 5 38 2-3 3-19 2-1 2 4 4 57 2 5 3-24 4-112 1-7 2-2 2 6 0 12 1 1 2 84 1 1 0 23 2 19 1 0 1-6 0-13 1-1 3-102 1-8 2-1 2 8 0 15 1 1 0 26 1 1 2 58 2 4 3-31 2-4 1 1 2 11 1 32 2 15 2-7 0-16 1-1 2-112 1-1 0-18 2-9 2 1 1 7 3 119 2 18 1 0 1-6 2-44 1-6 2-2 2 6 3 51 1 2 1-2 3-67 2-18 1-1 2 2 4 52 1 0 2-12 2-46 1-6 2-2 2 7 2 54 3 29 2-4 2-30 3-8 2 3 3 20 1 1 1-3 3-40 3-13 3 6 3 50 3 19 1 1 3-13 5-47 2-8 3-3 3 5 3 13 5 43 3 10 3-15 3-71 1-1 0-10 2-5 2 2 1 8 2 61 1 1 0 14 2 8 2-16 3-84 2-4 2 5 2 36-1-114-1-1 0-31z" fill="url(#pr3)" fill-rule="evenodd"/><path d="M528.8 658.8l-2 14-2 74-1 1 0 10-2 4-2-2-1-6-2-60-3-26-2 15-3 72-3 15-1 1-2-2-7-52-2-10-3-7-3 5-2 11-5 47-3 8-2-2-3-19-2-41-2-14-2 3-4 49-2 4-2-2-3-21-1-1-1 1-4 40-1 1-2-1-3-29-2-55-1-5-1 0-4 62-2 4-2-2-1-5-3-47-1 0-2 17 0 21-1 1 0 21-1 1-1 23-2 4-2-4-4-55-1 0-4 57-2 1-2-4-1-9-2-102-1-1 0-21-1-8-1 0-1 34-1 1 0 37-1 1 0 56-1 1-1 28-1 5-2 1-2-6 0-10-1-1-2-40-1-2-1 2-3 32-2 1-2-5-1-30-1-1 0-27-1-1 0-26-1-1-1-22-1 0-1 8 0 18-1 1-2 86-2 17-2 1-2-5 0-11-1-1-2-85-1-1 0-24-2-19-2 8 0 14-1 1-3 98-1 1-1 20-2 3-2-2-3-41-3-24-2 3-2 17-3 4-1-1-5-38-2 3-2 27-3 15-1 1-2-2-2-13-2-4-3 11-2 2-2-4-2-20 0-20-1-1-1-44-2-14-2 17-2 96-1 1-1 26-2 3-1-1-2-9-2-54-2-12-2 13-2 39-2 4-2-2-2-19-1-37-2-13-2 12-1 39-1 1-1 21-2 3-2-4-3-64-2-10-2 20-2 57-1 6-1 1-2-1-2-16-2-85-1-1-1-20-2 9-3 73-1 6-2 2-1-1-4-24-1 2-5 87-2 3-2-3-1-20-1-1-2-85-1-1 0-23-1-1-1-20-1-1-2 13-4 63-3 7-2-3-3-11-1 1-2 10-2 27-3 6-2-4-4-80-2-11-2 17-3 92-1 6-2 3-2-5-1-10-2-74-1-1 0-15-1-6-1 0-5 81-2 2-2-3-4-42-1-3-2 0-3-4-2-13-1 1 0 74 1 1 2 45 1 6 5 5 2 6 4 40 3-25 2-53 1-5 2-2 1 1 2 16 2 75 2 19 2-11 2-75 1-1 1-26 2-4 1 1 2 9 4 82 2 3 5-41 2-2 5 14 2-6 5-74 2-4 2 2 2 15 3 105 1 1 0 19 2 13 2-13 3-70 1-6 2-2 1 1 4 24 1-2 5-88 2-2 2 5 1 10 2 83 1 1 1 25 1 0 1-8 2-60 2-15 1-1 2 2 1 6 2 55 2 15 2-11 3-62 2-3 2 3 4 67 1 1 1-3 3-49 2-4 2 3 1 21 1 1 1 39 2 12 2-19 3-114 1-7 2-3 2 3 5 97 2 3 2-10 2-2 3 5 1 9 2 5 2-8 3-35 2-3 2 1 5 38 2-3 3-20 2-1 2 4 4 56 2 7 3-31 3-97 2-16 2-2 2 5 1 26 1 1 1 61 1 1 0 27 1 1 1 23 1 0 1-7 0-17 1-1 2-88 2-17 2-1 2 6 0 11 1 1 3 90 1 6 1 0 3-32 2-3 2 3 4 55 2-10 0-21 1-1 2-118 1-10 3-6 2 6 0 10 1 1 1 73 1 1 0 31 1 1 1 25 2-8 2-44 2-6 2 1 1 4 3 51 1 3 1-3 3-70 2-14 1-1 2 1 3 45 2 8 2-15 1-34 1-1 0-10 2-6 2 1 2 14 2 59 2 16 1 0 2-25 3-16 1-1 2 3 3 21 2-2 3-42 2-10 2-1 3 13 2 40 3 22 1 1 2-8 3-32 4-25 2-4 2-1 4 7 4 22 3 30 3 11 3-19 3-71 2-12 1-1 2 2 2 19 2 62 2 10 1-20 1-1 2-73 1-8 2-3 3 8 0-51-1-1 0-38-1-1z" fill="url(#pr4)" fill-rule="evenodd"/><path d="M528.8 668.8l-2 17-1 54-1 1-1 25-2 3-2-2-1-5-3-74-2-13-2 19-3 69-2 11-2 2-2-2-2-8-4-37-5-23-2-1-3 11-5 47-3 12-1 1-2-2-2-8-5-65-2 4-4 48-2 3-2-2-4-22-2 9-2 29-3 5-3-11-4-78-1 0-3 54-3 11-3-6-2-38-2-9-5 84-2 3-3-9-3-49-1 0-3 52-3 6-3-7 1 69 1 1 1 33 1 0 3-50 3-6 3 13 2 42 1 4 1-4 2-57 3-26 1-1 2 2 1 4 2 39 2 10 3-52 2-13 2-2 3 13 2 57 1 1 1 20 1 0 1-16 3-23 2-2 2 2 2 17 2 5 2-12 2-34 2-9 2-1 3 11 2 39 3 26 2-2 6-53 2-9 3-5 3 2 3 9 7 53 2 5 3-22 3-71 2-9 1-1 2 1 2 15 0 17 1 1 1 44 2 13 4-96 1-6 4-3 0-53-1-1zM354.8 651.8l-2 10 0 19-1 1-3 96-2 15-2 3-2-2-2-12-1-26-3-27-2 3-3 19-1 1-2-1-3-15-2-22-1-1-3 32-3 13-1 1-2-2-4-17-3 11-2 2-2-3-2-16-2-63-2-18-1 22-1 1 0 30-1 1-1 73-2 13-2 2-2-2-1-7-2-52-2-15-4 52-2 3-3-6-2-47-2-17-2 16-1 40-2 17-2 3-1-1-2-10-2-54-2-12-4 78-2 5-2-1-2-10 0-17-1-1 0-34-1-1 0-30-1-1-1-27-2 12-3 70-1 4-2 2-3-8-1-14-1-3-1 3-3 68-2 19-2 3-2-3-2-14-3-110-3-29-6 76-3 6-2-2-3-12-1 1-3 31-3 12-3-3-1-6-3-69-2-14-1 20-1 1-2 78-1 1 0 10-3 6-2-3-1-7-4-100-2 10-2 55-2 15-2 2-2-3-4-43-1-3-2 0-3-3-2-10-1 47 1 1 0 27 1 1 0 17 3 22 4 2 2 6 4 39 2-12 2-57 2-14 1-1 2 1 3 28 1 55 1 1 1 24 2-15 2-79 2-18 2-3 2 2 1 6 3 71 2 16 2-6 1-19 3-16 1-1 2 1 4 12 1-1 2-16 3-57 3-10 3 5 2 19 2 88 1 1 0 24 2 17 2-16 3-67 1-5 2-2 3 8 1 14 1 3 1-3 3-72 2-16 2-2 3 10 0 14 1 1 0 33 1 1 0 30 1 1 1 32 1 0 4-77 1-3 2-1 2 6 4 71 2-15 2-52 1-6 2-3 2 3 3 56 2 12 4-52 2-3 2 2 5 72 1-25 1-1 0-31 1-1 0-53 1-1 1-23 1-5 2-2 2 3 1 6 3 79 2 17 1 0 2-10 2-2 3 4 1 9 2 5 2-9 3-34 2-3 2 1 5 38 2-3 2-17 2-3 3 3 3 28 1 26 2 8 2-16 0-20 1-1 3-95 2-12 2-2 2 4 2 17 2 92 1 1 1 30 1 0 1-10 0-22 1-1 2-85 2-11 2-1 2 4 1 9 2 74 1 1 1 26 1 0 3-31 2-3 1 1 3 18 2 37 1-1 1-41 1-1 0-58-2 5-2-1-1-4-2-41-2-14-4 34-2 1-2-4-1-21-1-1-1-55-1-1-1-29-1 0 0 10-1 1-3 108-2 10-2 1-2-4-2-20-1-68-1-1 0-27-1-1zM399.8 641.8l-2 15-1 81 3-3 2 3 0 3 0-58-1-1z" fill="url(#pr5)" fill-rule="evenodd"/><path d="M360.8 804.8l1 61 1 1 0 13 1 0 2-74-3 1zM174.8 804.8l-2 4-3-2 0-2-1 1 3 78 1-21 1-1zM384.8 754.8l-3 28-3 5-2-5-1 1 2 70 1 1 0 12 1 0 2-24 3-7 2 3 2 12 2 36 1-23 1-1 0-49-3-3-2-9zM254.8 715.8l-3 68-2 10-2 2-2-1 2 73 1 0 0-12 1-1 1-43 2-17 2-3 3 5 4 69 3-56 2-14 2-2 3 7 4 61 3-44 3-8 3 6 4 63 1-37 1-1 0-36-4-3-1-5-3-62-1-4-1 5-1 29-2 15-2 3-2-2-2-11-3-54-3 57-2 13-2 2-3-7-2-49zM164.8 702.8l-2 13-2 52-2 10-2 2-3-7-4-42-5-4-1-4-1 3 0 39 1 1 1 38 2 14 5 4 5 41 2-19 2-53 2-10 2-2 2 5 0-42-1-1zM513.8 686.8l-4 77-2 14-3 5-2-2-2-7-5-43-3-15-2-4-3 6-5 46-4 18-1 1-2-1-2-7-5-65-1 0-3 40-2 11-2 2-2-1-4-22-3 32-2 9-2 2-2-3-2-14-3-69-2 12-2 42-3 8-2-1-2-11-1-26-2-12-4 78-3 6-2-2-4-53-2 13-2 38-2 5-2 1-1 6 1 50 2 17 2-39 2-11 2-1 3 10 3 45 3-65 3-18 1-1 3 5 4 47 3-53 2-10 2-1 2 4 2 16 3 69 1 0 2-27 2-9 2-2 2 2 3 20 1 0 4-47 2-6 2-1 2 3 2 14 4 58 1 1 7-56 4-12 2-1 3 4 2 7 5 30 2 22 2 6 3-31 2-57 2-14 2-3 2 2 2 9 2 58 2 18 1-37 1-1 0-40-2 3-2-2-2-10-2-62zM528.8 685.8l-1 22-1 1-1 46 4-6zM371.8 681.8l-2 17-1 56 1 1 2-1 2 4 0-37-1-1zM240.8 676.8l-2 17-1 42-2 20-2 4-3-3-3-20-2 18 0 20-1 1 0 21-1 1-1 23-3 7-3-4 1 57 1 1 1 24 5-81 3-5 2 3 3 20 2-19 2-60 2-11 1-1 3 1 0-36-1-1zM209.8 673.8l-5 69-2 8-2 2-2-2-2-10-1-1-1 1-3 33-2 8-2 2-2-3-2-11-3-70-1-4-1 8-2 74 1-3 2-2 1 1 3 13 4 81 2-7 1-18 3-14 2-1 2 2 2 10 1 1 1-3 5-73 3-8 2 1 1 4 0-47-1-1 0-24zM296.8 665.8l-1 34-1 1 0 40 2 0 2 3 2 12 2 66 1 1 1 23 1 1 2-9 3-2 5 17 4-38 3-7 2 1 3 15 2 22 2-4 2-15 3-4 2 3 3 23 1 27 2 11 1-24 1-1 2-67-1-1 0 4-3 6-3-5-5-62-2 4-2 15-2 3-2-1-2-6-3-30-1 0-5 42-2 2-3-4-3-15-3 12-2 2-3-6-2-19-1-46-1-1zM354.8 663.8l-2 15-2 71 3-8 3 3 0-45-1-1zM399.8 659.8l-1 1 0 21-1 1 0 39 1 2 2 0z" fill="url(#pr6)" fill-rule="evenodd"/><path d="M141 662h0m1-8h0m0 191h0m0 27h0m1-217h0m0 221h0m2-198h0m0 173h0m1-230h0m0 65h0m1 222h0m1-11h0m3-202h0m2 5h0m0 184h0m0 16h0m1-265h0m1 59h0m0 6h0m1 11h0m0 9h0m1-91h0m0 287h0m1-264h0m0 52h0m3-116h0m0 65h0m1-25h0m1 25h0m0 245h0m1-58h0m5 93h0m3-192h0m4-80h0m2 213h0m2-255h0m0 19h0m0 10h0m1 1h0m6-1h0m1 271h0m1-209h0m0 6h0m1 202h0m0 35h0m0 19h0m2-262h0m3-20h0m0 5h0m4-38h0m0 220h0m1-221h0m0 328h0m1-279h0m0 176h0m2-1h0m1 9h0m6-55h0m1-236h0m0 214h0m1 16h0m2 105h0m3-241h0m4 57h0m0 209h0m1-230h0m5-58h0m0 10h0m0 6h0m0 188h0m0 67h0m1-313h0m1 53h0m0 4h0m1 255h0m2-261h0m3 202h0m1 12h0m1-289h0m2 304h0m1-293h0m1 221h0m5-156h0m1 279h0m1-17h0m4-262h0m3-15h0m3 298h0m4-49h0m1-4h0m0 4h0m1 42h0m3-296h0m1 7h0m3-52h0m1 65h0m1 21h0m1-1h0m0 214h0m0 1h0m2-5h0m4-235h0m0 9h0m1 218h0m1-284h0m0 60h0m0 247h0m1-249h0m9-11h0m0 246h0m0 16h0m10-37h0m1-201h0m1 196h0m3 11h0m3-189h0m1-109h0m0 99h0m0 194h0m2-228h0m1 51h0m0 177h0m0 36h0m2-207h0m1 195h0m1-272h0m0 27h0m2-57h0m1 63h0m1-24h0m0 6h0m0 18h0m1 6h0m1 173h0m1 72h0m0 47h0m1-293h0m2 19h0m1 241h0m1-224h0m0 171h0m0 83h0m2-288h0m0 278h0m3-271h0m1 7h0m0 1h0m0 166h0m1-278h0m0 345h0m1-239h0m3-33h0m4 271h0m0 1h0m7-316h0m0 7h0m0 270h0m1-3h0m3-279h0m1 236h0m6 97h0m0 43h0m2-28h0m4-36h0m4 27h0m2-57h0m0 10h0m4 12h0m4-202h0m2-9h0m0 198h0m1-207h0m0 12h0m1 5h0m1 9h0m0 1h0m2-4h0m0 232h0m1-215h0m0 211h0m14-20h0m2-240h0m0 236h0m2 53h0m3-289h0m1-11h0m0 9h0m0 4h0m1-3h0m0 272h0m1-273h0m0 238h0m4-3h0m0 46h0m2-252h0m1 211h0m2-31h0m0 76h0m3-44h0m7-37h0m10 11h0m2-181h0m2 192h0m0 1h0m1 5h0m6-224h0m0 8h0m0 266h0m4-39h0m1-29h0m1-8h0m2 10h0m0 28h0m2-26h0m0 7h0m6-16h0m1-209h0m3 30h0m0 205h0m1-5h0m0 57h0m2-229h0m3 153h0m0 61h0m2 13h0m1-294h0m0 10h0m3-2h0m0 168h0m0 14h0m1 84h0m2-105h0m1 5h0m0 10h0m1 1h0m0 39h0m1 10h0m1-40h0m7-186h0m0 23h0m0 8h0m1-16h0m0 230h0m2-206h0m0 9h0m1 201h0m1-220h0m0 238h0m1-38h0m1-12h0m0 76h0m7-126h0m2 12h0m3 53h0m1-10h0m0 39h0m1-25h0m0 2h0m1-220h0m4 129h0m6 59h0m0 1h0m0 9h0m0 10h0m1-10h0" stroke="#c0101e" stroke-width="2.7" stroke-linecap="round"/><path d="M142.8 732.8l-3 25 0 64 3 20 6 3 3-1 4 1 4-2 4 4 5-5 4 7 5-7 6 4 6-3 3 5 2-4 2-1 4 5 4-6 5 5 2 0 2-4 3-2 5 10 4-11 4 8 2 0 4-6 4 3 6 0 3-2 3 5 2-1 2-4 3 3 4-2 6 0 3 3 5-5 4 7 4-7 4 4 7-3 4 3 2 0 2-3 6 3 4-4 5 9 4-10 4 7 8-6 4 7 2-1 2-6 2-1 4 5 3 0 3-4 2 0 3 6 2-1 2-4 4 3 5-3 6 3 4-4 4 4 4 0 3-4 5 8 4-8 4 6 3-5 4 2 9-2 2 4 2 1 3-6 5 5 8-5 5 6 3-6 2-1 5 9 4-8 4 4 9-3 3 4 5-4 3 5 2-1 2-5 2 1 2 5 6-6 4 3 1 3 5-6 4 4 5-3 2 0 3 3 4-3 3 1 1-2 3-23 0-64-2-18-5-10-4 3-2-2-4 0-4 2-4-5-2 4-3 2-4-5-6 5-5-7-4 7-3-6-4 5-4-4-5 4-3 0-5-6-4 8-5-8-3 6-3 2-4-7-6 6-3-1-2-5-2 0-3 6-4-4-7 3-6-3-3 4-3-6-2-1-2 6-2 1-4-7-5 7-6-5-4 4-4-2-7 2-4-4-2 4-2 1-4-6-5 6-2 0-5-6-3 6-2 1-3-7-2 0-5 6-2 0-4-9-4 9-2-1-2-5-6 6-3-4-2 0-3 3-4-3-5 3-3 0-4-5-4 7-5-7-3 5-4-2-6 0-3 2-3-4-4 4-2-1-1-3-2 0-3 4-4 0-5-4-5 6-5-10-4 10-3-2-1-5-2-1-4 7-2 0-4-5-2 0-3 5-4-6-4 5-3-4-4 4-5-1-4-3-2 4-2 1-5-6-4 6-4-4-4 2-11-1z" fill="url(#pb0)" fill-rule="evenodd"/><path d="M142.8 741.8l-2 16 0 63 2 12 5 3 9 0 2-2 4 4 2 0 2-4 2-1 3 6 2 1 3-6 2 0 3 3 4 0 3-3 4 5 2-4 2-1 2 4 2 1 4-6 6 6 6-7 5 10 2-8 2-2 2 1 1 5 2 2 5-7 4 4 5 0 4-3 3 5 5-5 3 4 4-3 4 0 3 3 2 0 1-3 3-2 3 7 2-1 3-6 5 5 7-4 4 4 4-4 5 4 4-5 5 9 2-8 2-2 4 7 8-6 4 7 2-1 3-6 5 5 2 0 5-5 4 6 2-1 2-4 5 4 3-3 3 0 4 3 3-4 8 4 4-5 5 8 3-8 2 1 2 5 5-5 3 3 8-3 5 5 4-6 4 5 4-1 4-4 3 6 2 1 2-5 3-3 5 9 4-8 4 4 5 0 4-3 3 4 5-4 3 6 4-7 2 1 2 5 5-5 3 0 4 6 4-7 5 5 4-3 6 2 2-2 4 0 3-16 0-63-2-14-3-6-4 2-6-2-5 3-4-5-4 6-4-5-2 0-5 5-4-7-4 6-3-2-1-3-5 5-3-4-4 3-5 0-4-5-4 8-4-8-2 0-3 7-2 1-4-7-5 5-3 0-4-6-5 7-3-4-9 2-3-3-5 4-3-7-4 8-2-1-2-6-5 6-4-1-2-3-2 0-3 4-4-3-3 0-3 3-4-5-4 6-4-6-5 5-3 0-5-6-4 8-3-3-2-5-4 5-4 2-4-9-4 10-5-8-4 6-5-4-4 4-3-3-3 0-5 3-5-5-2 4-3 2-4-7-4 6-7-3-5 2-3-4-5 5-3-5-4 4-5 0-3-3-2 0-4 6-5-10-4 10-3-2-1-5-2-1-4 7-7-6-4 5-2-1-2-4-4 5-3-4-2 0-2 3-4 0-5-4-2 5-2 1-3-6-2 0-4 6-5-5-4 3-1-1-4 1-4-2z" fill="url(#pb1)" fill-rule="evenodd"/><path d="M142.8 749.8l-1 23-1 1 1 46 2 7 6 3 1-1 5 1 4-2 4 4 5-6 4 7 4-6 8 4 4-4 4 5 2-4 2-1 4 5 2-4 3-1 6 5 3-6 2-1 4 10 5-11 5 9 4-6 2 0 3 3 6 0 3-3 4 5 3-5 4 4 4-3 9 3 1-3 3-2 4 7 4-7 5 5 5-3 3 0 3 3 3-3 2 0 4 3 4-5 5 8 2-7 2-2 4 7 8-6 4 7 2-1 3-6 5 5 3 0 4-5 4 6 2-1 2-4 4 4 4-3 3 0 4 3 3-4 8 4 5-5 4 8 3-8 3 2 1 4 5-5 3 3 9-2 4 4 3-6 6 6 7-6 3 6 2 1 2-5 3-3 5 9 4-8 4 4 5 0 4-3 4 5 1-3 3-2 3 6 4-7 2 1 2 5 2 0 4-5 2 0 4 6 4-7 5 5 4-3 4 2 4-2 4 0 1-3 1-21 1-1 0-32-1-1-1-20-3-7-4 2-6-2-4 3-5-5-4 6-4-5-3 0-4 5-5-7-2 6-2 1-3-6-5 5-3-4-4 3-5 0-4-5-4 8-4-8-2 0-4 7-3-2-2-4-6 5-2 0-4-6-5 7-4-5-6 3-6-3-4 4-2-5-2-1-2 7-2 1-3-8-5 6-2 0-4-4-2 0-3 4-4-3-7 2-3-4-4 6-2-1-2-5-6 5-2 0-5-6-3 7-2 1-4-8-8 7-4-9-4 10-2-1-3-7-4 6-5-4-3 3-6-3-6 4-5-5-4 6-2-1-3-6-4 6-4-3-5 0-3 2-3-4-4 5-2-1-2-4-4 4-4 0-5-4-5 7-5-10-2 7-3 4-3-8-2-1-5 7-6-6-4 5-3-2-1-3-4 5-3-4-2 0-2 3-4 0-5-4-3 6-3-2-1-4-2 0-3 5-2 0-3-4-3 2-11-1z" fill="url(#pb2)" fill-rule="evenodd"/><path d="M142.8 756.8l-1 53 1 8 5 5 9 0 3-2 3 4 2 0 1-3 3-2 5 6 2-5 2-1 4 4 4 0 4-3 3 4 4-5 4 6 4-6 6 6 3-5 3-2 5 9 2-8 2-2 5 9 5-7 5 4 4 0 4-4 4 6 3-5 4 3 3-2 5 0 4 3 5-5 4 7 4-7 5 5 6-4 5 4 4-4 5 4 2-4 3-1 4 8 2-8 2-2 4 8 8-7 4 8 5-8 5 6 2 0 6-5 3 6 5-6 3 4 7-2 4 3 3-4 2 0 6 4 4-6 5 8 3-8 2 1 3 6 4-5 3 3 8-3 5 5 4-7 4 6 2 0 6-5 4 7 4-7 3-1 4 8 4-8 4 5 5 0 4-3 3 4 5-5 3 6 4-7 2 1 3 6 6-6 5 6 4-6 5 5 4-3 4 2 7-2 2-4 1-52-1-9-3-8-4 2-6-2-5 3-4-5-2 4-3 2-2-4-3-1-6 5-4-6-2 5-2 1-3-5-5 4-3-4-4 3-5 0-4-4-4 8-5-9-5 8-3-2-2-5-7 6-5-6-4 6-4-4-9 2-3-3-4 5-3-3-1-4-4 9-4-8-5 5-4-1-3-3-4 4-4-3-3 0-4 3-4-4-3 5-5-6-4 5-3 0-5-5-2 5-3 2-4-7-8 6-4-8-4 10-2-1-2-7-5 5-4-3-2 0-3 3-3-3-3 0-5 3-5-5-4 7-4-7-2 1-2 4-8-3-5 3-4-4-3 5-4-5-3 3-6 0-3-3-2 0-4 6-5-9-4 10-3-2-2-7-5 7-6-5-2 0-3 5-2-1-2-4-3 4-2 0-2-4-5 4-8-4-4 6-3-6-2-1-4 6-4-4-4 2-2-1-4 1-4-2z" fill="url(#pb3)" fill-rule="evenodd"/><path d="M142.8 765.8l0 43 2 6 4 2 4-1 3 1 4-2 4 4 5-6 4 7 4-6 7 4 5-4 4 4 4-4 3 5 2-1 2-4 2 0 4 5 2 0 3-6 2-1 5 9 2-8 2-2 5 9 5-6 6 4 8-4 3 5 3-5 4 4 3-2 6 0 4 2 3-5 2 1 3 6 4-7 4 5 9-3 2 3 4-3 6 3 5-5 4 7 2-8 2-1 4 8 2 0 6-6 4 7 2-1 3-6 6 6 6-6 5 6 3-5 4 4 5-3 6 3 4-4 4 4 3 0 4-6 4 8 4-8 2 1 3 6 3-4 2 0 3 3 8-3 4 4 3-6 6 6 7-6 3 6 2 1 2-5 3-3 5 9 4-8 5 5 3 0 4-4 5 4 4-4 4 5 3-7 2 1 2 6 2 0 4-5 2 0 4 5 4-6 4 5 6-3 4 3 7-4 1-5 0-43-1-6-3-5-3 3-5-3-6 3-4-4-2 4-3 2-2-4-3-2-6 6-2-5-2-1-2 5-2 1-4-6-1 3-3 2-3-4-2 0-3 3-4 0-4-5-4 9-3-4-1-5-2 0-4 7-3-2-2-4-6 5-2 0-4-6-4 7-5-5-7 3-5-3-3 5-4-7-3 8-2 1-4-9-3 5-4 0-3-3-2 0-2 3-3 0-3-3-6 3-3-4-4 6-2-1-2-5-7 5-6-6-2 6-3 2-4-8-8 7-4-8-2 7-3 3-3-8-2 0-4 5-4-4-3 3-2 0-3-3-5 3-3 0-4-4-4 7-4-7-5 5-3-3-6 0-4 2-3-3-3 5-4-6-4 4-4 0-5-4-3 5-3 1-4-8-2 7-3 3-2-2-2-7-5 6-2 0-5-5-4 6-4-5-4 4-3-4-6 3-6-4-5 6-4-7-4 6-2 0-3-4-4 2-10-1z" fill="url(#pb4)" fill-rule="evenodd"/><path d="M143.8 769.8l0 33 1 3 5 3 1-1 4 1 4-3 4 4 2 0 4-6 4 7 4-6 5 4 4 0 3-4 4 4 4-4 3 5 5-5 6 6 6-8 5 9 1-6 3-4 5 10 4-6 2 0 3 3 5 0 4-4 4 5 2-4 2-1 3 4 3-2 3 0 6 3 4-6 2 1 2 6 5-6 5 5 7-4 3 3 2 0 3-3 5 4 4-6 2 1 3 6 2-8 2-2 5 10 7-7 4 7 2-1 3-6 5 6 3 0 4-5 3 2 1 3 2-1 2-4 4 4 7-2 4 3 3-4 2 0 4 4 2 0 2-4 3-2 4 7 3-8 2 1 3 6 3-4 4 3 3 0 5-3 5 4 3-6 3 2 2 4 3 0 5-5 5 6 4-7 3 1 3 7 4-8 2 1 2 4 5 0 4-3 4 4 1-3 3-2 4 5 1-4 3-2 4 7 5-5 2 0 4 5 3-6 2 0 4 5 4-3 6 2 4-2 2-4 0-32-3-7-3 2-6-2-5 3-4-4-4 6-4-6-3 0-3 5-2 0-2-4-2-1-2 5-2 1-3-6-5 5-3-5-4 3-5 0-4-4-4 9-5-10-5 8-3-2-2-5-6 5-2 0-4-5-4 6-5-5-6 3-2 0-3-3-5 5-3-6-3 8-2 1-4-9-4 5-2 0-4-4-2 0-3 4-4-3-3 0-4 3-3-4-4 6-2-1-3-6-5 5-2 0-5-5-4 8-2-1-3-7-7 6-3-1-2-5-2 7-3 2-4-9-4 5-5-4-4 4-3-3-3 0-5 3-5-5-4 7-2-1-3-6-3 5-2 0-3-3-4 0-4 3-4-3-3 5-4-6-4 3-5 0-3-3-2 0-1 3-4 3-4-8-2 7-3 3-5-10-4 7-7-6-4 6-3-2-1-3-4 5-4-5-2 3-5 0-5-3-2 5-2 1-3-6-2-1-4 6-5-5-2 2-11-1z" fill="url(#pb5)" fill-rule="evenodd"/><path d="M141 733h0m0 133h0m1-203h0m1 180h0m1-128h0m0 133h0m1-2h0m4-177h0m4 57h0m2-15h0m0 138h0m1-3h0m1 7h0m1-159h0m0 14h0m3 143h0m3-134h0m0 3h0m2-76h0m0 50h0m2 10h0m0 11h0m1-13h0m6 145h0m2-128h0m1 126h0m1 121h0m6-240h0m1 122h0m1 11h0m1-177h0m0 18h0m0 147h0m2 31h0m2-26h0m0 7h0m1 44h0m2-4h0m1-193h0m0 2h0m0 6h0m9 149h0m3-10h0m1-147h0m0 13h0m0 128h0m4-183h0m1-29h0m2 59h0m1 19h0m2-25h0m0 37h0m1 124h0m0 1h0m2 67h0m1-200h0m1 136h0m4-134h0m0 132h0m2 28h0m3-226h0m2 193h0m0 7h0m2-158h0m3 164h0m1-11h0m1-138h0m4 221h0m2-228h0m4-47h0m0 60h0m0 138h0m0 9h0m5-168h0m0 19h0m0 144h0m1-142h0m0 141h0m4-183h0m0 48h0m0 135h0m3-12h0m1 5h0m1-148h0m0 178h0m1-155h0m3 0h0m2 135h0m2-174h0m2 30h0m5 142h0m1-134h0m0 131h0m1-137h0m0 5h0m5-12h0m0 142h0m1-174h0m2 168h0m1-168h0m0 32h0m0 138h0m0 71h0m1-54h0m0 7h0m0 2h0m1-239h0m0 216h0m1-151h0m2 17h0m1-30h0m0 214h0m1-310h0m0 62h0m0 201h0m2-170h0m1 195h0m2-162h0m3-83h0m1 216h0m0 7h0m2-11h0m0 5h0m1-140h0m1 148h0m2-9h0m1 10h0m3-2h0m2-206h0m0 65h0m0 154h0m4-9h0m1 9h0m1-22h0m1 15h0m1-140h0m0 221h0m1-249h0m0 169h0m1 48h0m1-67h0m2 12h0m3-11h0m2 5h0m1 10h0m1 40h0m1-182h0m2 3h0m0 127h0m1-6h0m3 16h0m3-131h0m5-6h0m1-13h0m0 12h0m1-9h0m0 7h0m1 135h0m1 25h0m1-2h0m1-31h0m0 10h0m2-149h0m5 7h0m0 130h0m2-122h0m0 134h0m1-133h0m2 141h0m3-142h0m0 149h0m0 16h0m1 8h0m0 86h0m1-134h0m1 24h0m2-164h0m6 17h0m1-17h0m0 150h0m1-146h0m0 138h0m0 42h0m1-46h0m5-150h0m0 154h0m0 36h0m1-27h0m0 4h0m2-2h0m6 0h0m1-2h0m0 7h0m1-14h0m1 8h0m0 65h0m4-234h0m0 22h0m0 9h0m0 123h0m2 5h0m0 19h0m1-151h0m2 130h0m1 3h0m3-129h0m0 126h0m0 7h0m6 1h0m4-141h0m1-2h0m0 5h0m1-26h0m0 160h0m6-125h0m2-39h0m0 30h0m1 124h0m1-132h0m2 16h0m3 126h0m2-145h0m0 20h0m0 118h0m1-126h0m6 133h0m0 10h0m0 30h0m3-41h0m1-129h0m1 133h0m7-137h0m1 246h0m1-246h0m2 4h0m2 3h0m4-1h0m3-4h0m1-17h0m1 10h0m0 139h0m0 15h0m2 16h0m1-186h0m0 12h0m0 176h0m2-167h0m0 175h0m5 82h0m2-127h0m5-138h0m1 146h0m4 17h0m1 35h0m0 4h0m2-193h0m2 134h0m1-134h0m0 3h0m1-11h0m1 201h0m1-196h0m1 164h0m2-161h0m1-22h0m3 25h0m0 158h0m1-186h0m0 169h0m3 13h0m3-31h0m1 1h0m0 28h0m1-24h0m1-119h0m0 112h0m0 1h0" stroke="#12309e" stroke-width="2.7" stroke-linecap="round"/>
<path d="M239.1 584.3V988.3" stroke="#000" stroke-width="2.8" stroke-dasharray="17.1 5 2.7 5"/>
<rect x="374.2" y="592.1" width="170.8" height="78" rx="3.3" fill="#fff" fill-opacity="0.97" stroke="#ccc" stroke-width="1.3"/>
<circle cx="397.5" cy="607.3" r="4.9" fill="#0b44de"/>
<text x="427.6" y="612.4" font-size="16.7" fill="#725757" text-anchor="start" >First 92 Dims</text>
<circle cx="397.5" cy="631.8" r="4.9" fill="#e20808"/>
<text x="427.6" y="636.9" font-size="16.7" fill="#725757" text-anchor="start" >Last 36 Dims</text>
<circle cx="397.5" cy="656.3" r="4.9" fill="#c65a12"/>
<text x="427.6" y="661.4" font-size="16.7" fill="#725757" text-anchor="start" >Overall Dims</text>
<path d="M140.9 834.9 L141.3 879.2 L141.7 906.7 L142 923.7 L142.4 934.9 L142.8 944.3 L143.1 951.8 L143.5 957.1 L143.9 960.7 L144.3 963.1 L144.6 964.5 L145 965.7 L145.4 966.6 L145.7 967.3 L146.1 967.6 L146.5 967.7 L146.8 967.7 L147.2 967.6 L147.6 967.6 L147.9 967.5 L148.3 967.4 L148.7 967.3 L149 967.3 L149.4 967.2 L149.8 967.1 L150.2 967 L150.5 966.9 L150.9 966.9 L151.3 966.8 L151.6 966.7 L152 966.6 L152.4 966.5 L152.7 966.4 L153.1 966.3 L153.5 966.2 L153.8 966.1 L154.2 966 L154.6 965.9 L155 965.8 L155.3 965.7 L155.7 965.6 L156.1 965.5 L156.6 965.4 L157 965.3 L157.5 965.2 L157.9 965.1 L158.4 964.9 L158.9 964.8 L159.4 964.7 L159.9 964.6 L160.5 964.4 L161 964.3 L161.6 964.2 L162.2 964 L162.8 963.9 L163.4 963.8 L164 963.6 L164.7 963.5 L165.3 963.4 L166 963.2 L166.7 963.1 L167.4 962.9 L168.2 962.8 L169 962.6 L169.7 962.5 L170.6 962.3 L171.4 962.1 L172.3 962 L173.1 961.8 L174 961.6 L175 961.4 L175.9 961.3 L176.9 961.1 L177.9 960.9 L179 960.7 L180.1 960.5 L181.2 960.3 L182.3 960.1 L183.5 959.9 L184.7 959.7 L185.9 959.5 L187.1 959.3 L188.5 959.1 L189.8 958.9 L191.2 958.6 L192.6 958.4 L194 958.2 L195.5 958 L197.1 957.8 L198.7 957.5 L200.3 957.3 L202 957.1 L203.7 956.8 L205.4 956.6 L207.3 956.3 L209.1 956 L211.1 955.7 L213 955.4 L215.1 955.1 L217.1 954.8 L219.3 954.5 L221.5 954.2 L223.8 953.9 L226.1 953.6 L228.5 953.4 L231 953.2 L233.5 952.9 L236.1 952.7 L238.8 952.6 L241.6 952.4 L244.4 952.3 L247.3 952.2 L250.3 952 L253.4 951.9 L256.6 951.8 L259.8 951.7 L263.2 951.6 L266.6 951.5 L270.2 951.4 L273.8 951.3 L277.5 951.2 L281.4 951.1 L285.4 951 L289.4 950.9 L293.6 950.9 L297.9 950.8 L302.3 950.7 L306.9 950.6 L311.6 950.5 L316.4 950.5 L321.3 950.4 L326.4 950.3 L331.6 950.2 L337 950.2 L342.5 950.1 L348.2 950 L354 950 L360 949.9 L366.2 949.9 L372.6 949.8 L379.1 949.8 L385.8 949.7 L392.7 949.7 L399.8 949.6 L407.1 949.6 L414.6 949.5 L422.3 949.5 L430.2 949.4 L438.4 949.4 L446.8 949.3 L455.4 949.3 L464.3 949.2 L473.4 949.1 L482.7 949.1 L492.4 949 L502.3 948.9 L512.5 948.8 L522.9 948.7 L533.7 948.6" stroke="#741c98" stroke-width="2.5" fill="none" stroke-linejoin="round"/>
<rect x="121.3" y="584.3" width="432" height="404" fill="none" stroke="#000" stroke-width="1.5"/>
<path d="M140.9 988.3v4.8M200.9 988.3v4.8M260.8 988.3v4.8M320.7 988.3v4.8M380.7 988.3v4.8M440.6 988.3v4.8M500.5 988.3v4.8M121.3 959.4h-4.8M121.3 901.7h-4.8M121.3 844h-4.8M121.3 786.3h-4.8M121.3 728.6h-4.8M121.3 670.9h-4.8M121.3 613.2h-4.8M553.3 980.5h4.8M553.3 902.8h4.8M553.3 825.1h4.8M553.3 747.5h4.8M553.3 669.8h4.8M553.3 592.1h4.8" stroke="#000" stroke-width="1.3" fill="none"/>
<text x="140.9" y="1008.9" font-size="13.5" fill="#000" text-anchor="middle" >0</text>
<text x="200.9" y="1008.9" font-size="13.5" fill="#000" text-anchor="middle" >2500</text>
<text x="260.8" y="1008.9" font-size="13.5" fill="#000" text-anchor="middle" >5000</text>
<text x="320.7" y="1008.9" font-size="13.5" fill="#000" text-anchor="middle" >7500</text>
<text x="380.7" y="1008.9" font-size="13.5" fill="#000" text-anchor="middle" >10000</text>
<text x="440.6" y="1008.9" font-size="13.5" fill="#000" text-anchor="middle" >12500</text>
<text x="500.5" y="1008.9" font-size="13.5" fill="#000" text-anchor="middle" >15000</text>
<text x="110.8" y="964.3" font-size="13.5" fill="#8c564b" text-anchor="end" >−15</text>
<text x="110.8" y="906.6" font-size="13.5" fill="#8c564b" text-anchor="end" >−10</text>
<text x="110.8" y="848.9" font-size="13.5" fill="#8c564b" text-anchor="end" >−5</text>
<text x="110.8" y="791.2" font-size="13.5" fill="#8c564b" text-anchor="end" >0</text>
<text x="110.8" y="733.5" font-size="13.5" fill="#8c564b" text-anchor="end" >5</text>
<text x="110.8" y="675.8" font-size="13.5" fill="#8c564b" text-anchor="end" >10</text>
<text x="110.8" y="618.1" font-size="13.5" fill="#8c564b" text-anchor="end" >15</text>
<text x="563.6" y="985.4" font-size="13.5" fill="#681c94" text-anchor="start" >0</text>
<text x="563.6" y="907.7" font-size="13.5" fill="#681c94" text-anchor="start" >20</text>
<text x="563.6" y="830" font-size="13.5" fill="#681c94" text-anchor="start" >40</text>
<text x="563.6" y="752.4" font-size="13.5" fill="#681c94" text-anchor="start" >60</text>
<text x="563.6" y="674.7" font-size="13.5" fill="#681c94" text-anchor="start" >80</text>
<text x="563.6" y="597" font-size="13.5" fill="#681c94" text-anchor="start" >100</text>
<text x="337.3" y="575" font-size="25.3" fill="#000" text-anchor="middle" >in first 16k</text>
<text transform="translate(71.8,786.3) rotate(-90)" font-size="22.4" fill="#8c564b" text-anchor="middle">Attention score</text>
<text transform="translate(611.8,787.8) rotate(-90)" font-size="22.4" fill="#681c94" text-anchor="middle">Perplexity</text>
<path d="M140.9 1412.6l.7 25.3 .7 25.3 .7-25.3 .7-25.3 .7 25.3 .7 25.3 .7-25.3 .7-25.3 .7 25.3 .7 25.3 .7-25.3 .7-25.3 .7 25.3 .6 25.3 .7-25.3 .7-25.3 .7 25.3 .7 25.3 .7-25.3 .7-25.3 .7 25.3 .7 25.3 .7-25.3 .7-25.3 .7 25.3 .7 25.3 .7-25.3 .7-25.3 .6 25.3 .7 25.3 .7-25.3 .7-25.3 .7 25.3 .7 25.3 .7-25.3 .7-25.3 .7 25.3 .7 25.3 .7-25.3 .7-25.3 .7 25.3 .7 25.3 .7-25.3 .6-25.3 .7 25.3 .7 25.3 .7-25.3 .7-25.3 .7 25.3 .7 25.3 .7-25.3 .7-25.3 .7 25.3 .7 25.3 .7-25.3 .7-25.3 .7 25.3 .7 25.3 .6-25.3 .7-25.3 .7 25.3 .7 25.3 .7-25.3 .7-25.3 .7 25.3 .7 25.3 .7-25.3 .7-25.3 .7 25.3 .7 25.3 .7-25.3 .7-25.3 .7 25.3 .6 25.3 .7-25.3 .7-25.3 .7 25.3 .7 25.3 .7-25.3 .7-25.3 .7 25.3 .7 25.3 .7-25.3 .7-25.3 .7 25.3 .7 25.3 .7-25.3 .7-25.3 .6 25.3 .7 25.3 .7-25.3 .7-25.3 .7 25.3 .7 25.3 .7-25.3 .7-25.3 .7 25.3 .7 25.3 .7-25.3 .7-25.3 .7 25.3 .7 25.3 .7-25.3 .6-25.3 .7 25.3 .7 25.3 .7-25.3 .7-25.3 .7 25.3 .7 25.3 .7-25.3 .7-25.3 .7 25.3 .7 25.3 .7-25.3 .7-25.3 .7 25.3 .7 25.3 .6-25.3 .7-25.3 .7 25.3 .7 25.3 .7-25.3 .7-25.3 .7 25.3 .7 25.3 .7-25.3 .7-25.3 .7 25.3 .7 25.3 .7-25.3 .7-25.3 .7 25.3 .6 25.3 .7-25.3 .7-25.3 .7 25.3 .7 25.3 .7-25.3 .7-25.3 .7 25.3 .7 25.3 .7-25.3 .7-25.3 .7 25.3 .7 25.3 .7-25.3 .7-25.3 .6 25.3 .7 25.3 .7-25.3 .7-25.3 .7 25.3 .7 25.3 .7-25.3 .7-25.3 .7 25.3 .7 25.3 .7-25.3 .7-25.3 .7 25.3 .7 25.3 .7-25.3 .6-25.3 .7 25.3 .7 25.3 .7-25.3 .7-25.3 .7 25.3 .7 25.3 .7-25.3 .7-25.3 .7 25.3 .7 25.3 .7-25.3 .7-25.3 .7 25.3 .7 25.3 .6-25.3 .7-25.3 .7 25.3 .7 25.3 .7-25.3 .7-25.3 .7 25.3 .7 25.3 .7-25.3 .7-25.3 .7 25.3 .7 25.3 .7-25.3 .7-25.3 .7 25.3 .6 25.3 .7-25.3 .7-25.3 .7 25.3 .7 25.3 .7-25.3 .7-25.3 .7 25.3 .7 25.3 .7-25.3 .7-25.3 .7 25.3 .7 25.3 .7-25.3 .7-25.3 .6 25.3 .7 25.3 .7-25.3 .7-25.3 .7 25.3 .7 25.3 .7-25.3 .7-25.3 .7 25.3 .7 25.3 .7-25.3 .7-25.3 .7 25.3 .7 25.3 .7-25.3 .6-25.3 .7 25.3 .7 25.3 .7-25.3 .7-25.3 .7 25.3 .7 25.3 .7-25.3 .7-25.3 .7 25.3 .7 25.3 .7-25.3 .7-25.3 .7 25.3 .7 25.3 .6-25.3 .7-25.3 .7 25.3 .7 25.3 .7-25.3 .7-25.3 .7 25.3 .7 25.3 .7-25.3 .7-25.3 .7 25.3 .7 25.3 .7-25.3 .7-25.3 .7 25.3 .7 25.3 .6-25.3 .7-25.3 .7 25.3 .7 25.3 .7-25.3 .7-25.3 .7 25.3 .7 25.3 .7-25.3 .7-25.3 .7 25.3 .7 25.3 .7-25.3 .7-25.3 .7 25.3 .6 25.3 .7-25.3 .7-25.3 .7 25.3 .7 25.3 .7-25.3 .7-25.3 .7 25.3 .7 25.3 .7-25.3 .7-25.3 .7 25.3 .7 25.3 .7-25.3 .7-25.3 .6 25.3 .7 25.3 .7-25.3 .7-25.3 .7 25.3 .7 25.3 .7-25.3 .7-25.3 .7 25.3 .7 25.3 .7-25.3 .7-25.3 .7 25.3 .7 25.3 .7-25.3 .6-25.3 .7 25.3 .7 25.3 .7-25.3 .7-25.3 .7 25.3 .7 25.3 .7-25.3 .7-25.3 .7 25.3 .7 25.3 .7-25.3 .7-25.3 .7 25.3 .7 25.3 .6-25.3 .7-25.3 .7 25.3 .7 25.3 .7-25.3 .7-25.3 .7 25.3 .7 25.3 .7-25.3 .7-25.3 .7 25.3 .7 25.3 .7-25.3 .7-25.3 .7 25.3 .6 25.3 .7-25.3 .7-25.3 .7 25.3 .7 25.3 .7-25.3 .7-25.3 .7 25.3 .7 25.3 .7-25.3 .7-25.3 .7 25.3 .7 25.3 .7-25.3 .7-25.3 .6 25.3 .7 25.3 .7-25.3 .7-25.3 .7 25.3 .7 25.3 .7-25.3 .7-25.3 .7 25.3 .7 25.3 .7-25.3 .7-25.3 .7 25.3 .7 25.3 .7-25.3 .6-25.3 .7 25.3 .7 25.3 .7-25.3 .7-25.3 .7 25.3 .7 25.3 .7-25.3 .7-25.3 .7 25.3 .7 25.3 .7-25.3 .7-25.3 .7 25.3 .7 25.3 .6-25.3 .7-25.3 .7 25.3 .7 25.3 .7-25.3 .7-25.3 .7 25.3 .7 25.3 .7-25.3 .7-25.3 .7 25.3 .7 25.3 .7-25.3 .7-25.3 .7 25.3 .6 25.3 .7-25.3 .7-25.3 .7 25.3 .7 25.3 .7-25.3 .7-25.3 .7 25.3 .7 25.3 .7-25.3 .7-25.3 .7 25.3 .7 25.3 .7-25.3 .7-25.3 .6 25.3 .7 25.3 .7-25.3 .7-25.3 .7 25.3 .7 25.3 .7-25.3 .7-25.3 .7 25.3 .7 25.3 .7-25.3 .7-25.3 .7 25.3 .7 25.3 .7-25.3 .6-25.3 .7 25.3 .7 25.3 .7-25.3 .7-25.3 .7 25.3 .7 25.3 .7-25.3 .7-25.3 .7 25.3 .7 25.3 .7-25.3 .7-25.3 .7 25.3 .7 25.3 .6-25.3 .7-25.3 .7 25.3 .7 25.3 .7-25.3 .7-25.3 .7 25.3 .7 25.3 .7-25.3 .7-25.3 .7 25.3 .7 25.3 .7-25.3 .7-25.3 .7 25.3 .6 25.3 .7-25.3 .7-25.3 .7 25.3 .7 25.3 .7-25.3 .7-25.3 .7 25.3 .7 25.3 .7-25.3 .7-25.3 .7 25.3 .7 25.3 .7-25.3 .7-25.3 .6 25.3 .7 25.3 .7-25.3 .7-25.3 .7 25.3 .7 25.3 .7-25.3 .7-25.3 .7 25.3 .7 25.3 .7-25.3 .7-25.3 .7 25.3 .7 25.3 .7-25.3 .6-25.3 .7 25.3 .7 25.3 .7-25.3 .7-25.3 .7 25.3 .7 25.3 .7-25.3 .7-25.3 .7 25.3 .7 25.3 .7-25.3 .7-25.3 .7 25.3 .7 25.3 .7-25.3 .6-25.3 .7 25.3 .7 25.3 .7-25.3 .7-25.3 .7 25.3 .7 25.3 .7-25.3 .7-25.3 .7 25.3 .7 25.3 .7-25.3 .7-25.3 .7 25.3 .7 25.3 .6-25.3 .7-25.3 .7 25.3 .7 25.3 .7-25.3 .7-25.3 .7 25.3 .7 25.3 .7-25.3 .7-25.3 .7 25.3 .7 25.3 .7-25.3 .7-25.3 .7 25.3 .6 25.3 .7-25.3 .7-25.3 .7 25.3 .7 25.3 .7-25.3 .7-25.3 .7 25.3 .7 25.3 .7-25.3 .7-25.3 .7 25.3 .7 25.3 .7-25.3 .7-25.3 .6 25.3 .7 25.3 .7-25.3 .7-25.3 .7 25.3 .7 25.3 .7-25.3 .7-25.3 .7 25.3 .7 25.3 .7-25.3 .7-25.3 .7 25.3 .7 25.3 .7-25.3 .6-25.3 .7 25.3 .7 25.3 .7-25.3 .7-25.3 .7 25.3 .7 25.3 .7-25.3 .7-25.3 .7 25.3 .7 25.3 .3-5.1" stroke="#f27a1e" stroke-width="1.65" fill="none"/>
<path d="M140.9 1349.3l1.5 25.3 1.4 25.3 1.4-25.3 1.5-25.3 1.4 25.3 1.5 25.3 1.4-25.3 1.4-25.3 1.5 25.3 1.4 25.3 1.4-25.3 1.5-25.3 1.4 25.3 1.4 25.3 1.5-25.3 1.4-25.3 1.5 25.3 1.4 25.3 1.4-25.3 1.5-25.3 1.4 25.3 1.4 25.3 1.5-25.3 1.4-25.3 1.4 25.3 1.5 25.3 1.4-25.3 1.5-25.3 1.4 25.3 1.4 25.3 1.5-25.3 1.4-25.3 1.4 25.3 1.5 25.3 1.4-25.3 1.4-25.3 1.5 25.3 1.4 25.3 1.5-25.3 1.4-25.3 1.4 25.3 1.5 25.3 1.4-25.3 1.4-25.3 1.5 25.3 1.4 25.3 1.4-25.3 1.5-25.3 1.4 25.3 1.5 25.3 1.4-25.3 1.4-25.3 1.5 25.3 1.4 25.3 1.4-25.3 1.5-25.3 1.4 25.3 1.4 25.3 1.5-25.3 1.4-25.3 1.5 25.3 1.4 25.3 1.4-25.3 1.5-25.3 1.4 25.3 1.4 25.3 1.5-25.3 1.4-25.3 1.4 25.3 1.5 25.3 1.4-25.3 1.4-25.3 1.5 25.3 1.4 25.3 1.5-25.3 1.4-25.3 1.4 25.3 1.5 25.3 1.4-25.3 1.4-25.3 1.5 25.3 1.4 25.3 1.4-25.3 1.5-25.3 1.4 25.3 1.5 25.3 1.4-25.3 1.4-25.3 1.5 25.3 1.4 25.3 1.4-25.3 1.5-25.3 1.4 25.3 1.4 25.3 1.5-25.3 1.4-25.3 1.5 25.3 1.4 25.3 1.4-25.3 1.5-25.3 1.4 25.3 1.4 25.3 1.5-25.3 1.4-25.3 1.4 25.3 1.5 25.3 1.4-25.3 1.5-25.3 1.4 25.3 1.4 25.3 1.5-25.3 1.4-25.3 1.4 25.3 1.5 25.3 1.4-25.3 1.4-25.3 1.5 25.3 1.4 25.3 1.5-25.3 1.4-25.3 1.4 25.3 1.5 25.3 1.4-25.3 1.4-25.3 1.5 25.3 1.4 25.3 1.4-25.3 1.5-25.3 1.4 25.3 1.5 25.3 1.4-25.3 1.4-25.3 1.5 25.3 1.4 25.3 1.4-25.3 1.5-25.3 1.4 25.3 1.4 25.3 1.5-25.3 1.4-25.3 1.5 25.3 1.4 25.3 1.4-25.3 1.5-25.3 1.4 25.3 1.4 25.3 1.5-25.3 1.4-25.3 1.4 25.3 1.5 25.3 1.4-25.3 1.5-25.3 1.4 25.3 1.4 25.3 1.5-25.3 1.4-25.3 1.4 25.3 1.5 25.3 1.4-25.3 1.4-25.3 1.5 25.3 1.4 25.3 1.5-25.3 1.4-25.3 1.4 25.3 1.5 25.3 1.4-25.3 1.4-25.3 1.5 25.3 1.4 25.3 1.4-25.3 1.5-25.3 1.4 25.3 1.5 25.3 1.4-25.3 1.4-25.3 1.5 25.3 1.4 25.3 1.4-25.3 1.5-25.3 1.4 25.3 1.4 25.3 1.5-25.3 1.4-25.3 1.5 25.3 1.4 25.3 1.4-25.3 1.5-25.3 1.4 25.3 1.4 25.3 1.5-25.3 1.4-25.3 1.4 25.3 1.5 25.3 1.4-25.3 1.5-25.3 1.4 25.3 1.4 25.3 1.5-25.3 1.4-25.3 1.4 25.3 1.5 25.3 1.4-25.3 1.4-25.3 1.5 25.3 1.4 25.3 1.5-25.3 1.4-25.3 1.4 25.3 1.5 25.3 1.4-25.3 1.4-25.3 1.5 25.3 1.4 25.3 1.4-25.3 1.5-25.3 1.4 25.3 1.4 25.3 1.5-25.3 1.4-25.3 1.5 25.3 1.4 25.3 1.4-25.3 1.5-25.3 1.4 25.3 1.4 25.3 1.5-25.3 1.4-25.3 1.4 25.3 1.5 25.3 1.4-25.3 1.5-25.3 1.4 25.3 1.4 25.3 1.5-25.3 1.4-25.3 1.4 25.3 1.5 25.3 1.4-25.3 1.4-25.3 1.5 25.3 1.4 25.3 1.5-25.3 1.4-25.3 1.4 25.3 1.5 25.3 1.4-25.3 1.4-25.3 1.5 25.3 1.4 25.3 1.4-25.3 1.5-25.3 1.4 25.3 1.5 25.3 1.4-25.3 1.4-25.3 1.5 25.3 1.4 25.3 1.4-25.3 1.5-25.3 1.4 25.3 1.4 25.3 1.5-25.3 1.4-25.3 1.5 25.3 1.4 25.3 1.4-25.3 1.5-25.3 1.4 25.3 1.4 25.3 1.5-25.3 1.4-25.3 1.4 25.3 .7 15.8" stroke="#c4561a" stroke-width="1.65" fill="none"/>
<path d="M140.9 1285.9l1.4 6 1.3 15 1.3 17 1.3 11.2 1.3 0 1.4-11.2 1.3-17 1.3-15 1.3-6 1.4 6 1.3 15 1.3 17 1.3 11.2 1.3 0 1.4-11.2 1.3-17 1.3-15 1.3-6 1.4 6 1.3 15 1.3 17 1.3 11.2 1.4 0 1.3-11.2 1.3-17 1.3-15 1.3-6 1.4 6 1.3 15 1.3 17 1.3 11.2 1.4 0 1.3-11.2 1.3-17 1.3-15 1.3-6 1.4 6 1.3 15 1.3 17 1.3 11.2 1.4 0 1.3-11.2 1.3-17 1.3-15 1.3-6 1.4 6 1.3 15 1.3 17 1.3 11.2 1.4 0 1.3-11.2 1.3-17 1.3-15 1.3-6 1.4 6 1.3 15 1.3 17 1.3 11.2 1.4 0 1.3-11.2 1.3-17 1.3-15 1.3-6 1.4 6 1.3 15 1.3 17 1.3 11.2 1.4 0 1.3-11.2 1.3-17 1.3-15 1.3-6 1.4 6 1.3 15 1.3 17 1.3 11.2 1.4 0 1.3-11.2 1.3-17 1.3-15 1.3-6 1.4 6 1.3 15 1.3 17 1.3 11.2 1.4 0 1.3-11.2 1.3-17 1.3-15 1.3-6 1.4 6 1.3 15 1.3 17 1.3 11.2 1.4 0 1.3-11.2 1.3-17 1.3-15 1.3-6 1.4 6 1.3 15 1.3 17 1.3 11.2 1.4 0 1.3-11.2 1.3-17 1.3-15 1.4-6 1.3 6 1.3 15 1.3 17 1.3 11.2 1.4 0 1.3-11.2 1.3-17 1.3-15 1.4-6 1.3 6 1.3 15 1.3 17 1.3 11.2 1.4 0 1.3-11.2 1.3-17 1.3-15 1.4-6 1.3 6 1.3 15 1.3 17 1.3 11.2 1.4 0 1.3-11.2 1.3-17 1.3-15 1.4-6 1.3 6 1.3 15 1.3 17 1.3 11.2 1.4 0 1.3-11.2 1.3-17 1.3-15 1.4-6 1.3 6 1.3 15 1.3 17 1.3 11.2 1.4 0 1.3-11.2 1.3-17 1.3-15 1.4-6 1.3 6 1.3 15 1.3 17 1.3 11.2 1.4 0 1.3-11.2 1.3-17 1.3-15 1.4-6 1.3 6 1.3 15 1.3 17 1.3 11.2 1.4 0 1.3-11.2 1.3-17 1.3-15 1.4-6 1.3 6 1.3 15 1.3 17 1.3 11.2 1.4 0 1.3-11.2 1.3-17 1.3-15 1.4-6 1.3 6 1.3 15 1.3 17 1.3 11.2 1.4 0 1.3-11.2 1.3-17 1.3-15 1.4-6 1.3 6 1.3 15 1.3 17 1.4 11.2 1.3 0 1.3-11.2 1.3-17 1.3-15 1.4-6 1.3 6 1.3 15 1.3 17 1.4 11.2 1.3 0 1.3-11.2 1.3-17 1.3-15 1.4-6 1.3 6 1.3 15 1.3 17 1.4 11.2 1.3 0 1.3-11.2 1.3-17 1.3-15 1.4-6 1.3 6 1.3 15 1.3 17 1.4 11.2 1.3 0 1.3-11.2 1.3-17 1.3-15 1.4-6 1.3 6 1.3 15 1.3 17 1.4 11.2 1.3 0 1.3-11.2 1.3-17 1.3-15 1.4-6 1.3 6 1.3 15 1.3 17 1.4 11.2 1.3 0 1.3-11.2 1.3-17 1.3-15 1.4-6 1.3 6 1.3 15 1.3 17 1.4 11.2 1.3 0 1.3-11.2 1.3-17 1.3-15 1.4-6 1.3 6 1.3 15 1.3 17 1.4 11.2 1.3 0 1.3-11.2 1.3-17 1.3-15 1.4-6 1.3 6 1.3 15 1.3 17 1.4 11.2 1.3 0 1.3-11.2 1.3-17 1.4-15 1.3-6 1.3 6 1.3 15 1.3 17 1.4 11.2 1.3 0 1.3-11.2 1.3-17 1.4-15 1.3-6 1.3 6 1.3 15 1.3 17 1.4 11.2 1.3 0 1.3-11.2 1.3-17 1.4-15 1.3-6 1.3 6 1.3 15 1.3 17 1.4 11.2 1.3 0 1.3-11.2 1.3-17 1.4-15 1.3-6" stroke="#7f3012" stroke-width="1.65" fill="none"/>
<path d="M140.9 1222.6l1.3 4.8 1.4 12.7 1.3 15.7 1.3 12.6 1.3 4.9 1.3-4.9 1.3-12.6 1.3-15.7 1.3-12.7 1.4-4.8 1.3 4.8 1.3 12.7 1.3 15.7 1.3 12.6 1.3 4.9 1.3-4.9 1.3-12.6 1.3-15.7 1.4-12.7 1.3-4.8 1.3 4.8 1.3 12.7 1.3 15.7 1.3 12.6 1.3 4.9 1.3-4.9 1.3-12.6 1.4-15.7 1.3-12.7 1.3-4.8 1.3 4.8 1.3 12.7 1.3 15.7 1.3 12.6 1.3 4.9 1.3-4.9 1.4-12.6 1.3-15.7 1.3-12.7 1.3-4.8 1.3 4.8 1.3 12.7 1.3 15.7 1.3 12.6 1.4 4.9 1.3-4.9 1.3-12.6 1.3-15.7 1.3-12.7 1.3-4.8 1.3 4.8 1.3 12.7 1.3 15.7 1.4 12.6 1.3 4.9 1.3-4.9 1.3-12.6 1.3-15.7 1.3-12.7 1.3-4.8 1.3 4.8 1.3 12.7 1.4 15.7 1.3 12.6 1.3 4.9 1.3-4.9 1.3-12.6 1.3-15.7 1.3-12.7 1.3-4.8 1.4 4.8 1.3 12.7 1.3 15.7 1.3 12.6 1.3 4.9 1.3-4.9 1.3-12.6 1.3-15.7 1.3-12.7 1.4-4.8 1.3 4.8 1.3 12.7 1.3 15.7 1.3 12.6 1.3 4.9 1.3-4.9 1.3-12.6 1.3-15.7 1.4-12.7 1.3-4.8 1.3 4.8 1.3 12.7 1.3 15.7 1.3 12.6 1.3 4.9 1.3-4.9 1.4-12.6 1.3-15.7 1.3-12.7 1.3-4.8 1.3 4.8 1.3 12.7 1.3 15.7 1.3 12.6 1.3 4.9 1.4-4.9 1.3-12.6 1.3-15.7 1.3-12.7 1.3-4.8 1.3 4.8 1.3 12.7 1.3 15.7 1.3 12.6 1.4 4.9 1.3-4.9 1.3-12.6 1.3-15.7 1.3-12.7 1.3-4.8 1.3 4.8 1.3 12.7 1.3 15.7 1.4 12.6 1.3 4.9 1.3-4.9 1.3-12.6 1.3-15.7 1.3-12.7 1.3-4.8 1.3 4.8 1.4 12.7 1.3 15.7 1.3 12.6 1.3 4.9 1.3-4.9 1.3-12.6 1.3-15.7 1.3-12.7 1.3-4.8 1.4 4.8 1.3 12.7 1.3 15.7 1.3 12.6 1.3 4.9 1.3-4.9 1.3-12.6 1.3-15.7 1.3-12.7 1.4-4.8 1.3 4.8 1.3 12.7 1.3 15.7 1.3 12.6 1.3 4.9 1.3-4.9 1.3-12.6 1.4-15.7 1.3-12.7 1.3-4.8 1.3 4.8 1.3 12.7 1.3 15.7 1.3 12.6 1.3 4.9 1.3-4.9 1.4-12.6 1.3-15.7 1.3-12.7 1.3-4.8 1.3 4.8 1.3 12.7 1.3 15.7 1.3 12.6 1.3 4.9 1.4-4.9 1.3-12.6 1.3-15.7 1.3-12.7 1.3-4.8 1.3 4.8 1.3 12.7 1.3 15.7 1.3 12.6 1.4 4.9 1.3-4.9 1.3-12.6 1.3-15.7 1.3-12.7 1.3-4.8 1.3 4.8 1.3 12.7 1.4 15.7 1.3 12.6 1.3 4.9 1.3-4.9 1.3-12.6 1.3-15.7 1.3-12.7 1.3-4.8 1.3 4.8 1.4 12.7 1.3 15.7 1.3 12.6 1.3 4.9 1.3-4.9 1.3-12.6 1.3-15.7 1.3-12.7 1.3-4.8 1.4 4.8 1.3 12.7 1.3 15.7 1.3 12.6 1.3 4.9 1.3-4.9 1.3-12.6 1.3-15.7 1.4-12.7 1.3-4.8 1.3 4.8 1.3 12.7 1.3 15.7 1.3 12.6 1.3 4.9 1.3-4.9 1.3-12.6 1.4-15.7 1.3-12.7 1.3-4.8 1.3 4.8 1.3 12.7 1.3 15.7 1.3 12.6 1.3 4.9 1.3-4.9 1.4-12.6 1.3-15.7 1.3-12.7 1.3-4.8 1.3 4.8 1.3 12.7 1.3 15.7 1.3 12.6 1.3 4.9 1.4-4.9 1.3-12.6 1.3-15.7 1.3-12.7 1.3-4.8 1.3 4.8 1.3 12.7 1.3 15.7 1.4 12.6 1.3 4.9 1.3-4.9 1.3-12.6 1.3-15.7 1.3-12.7 1.3-4.8 1.3 4.8 1.3 12.7 1.4 15.7 1.3 12.6 1.3 4.9 1.3-4.9 1.3-12.6 1.3-15.7 1.3-12.7 1.3-4.8 1.3 4.8 1.4 12.7 1.3 15.7 1.3 12.6 1.3 4.9 1.3-4.9 1.3-12.6 1.3-15.7 1.3-12.7 1.4-4.8 1.3 4.8 1.3 12.7 1.3 15.7 1.3 12.6 1.3 4.9 1.3-4.9 1.3-12.6 1.3-15.7 1.4-12.7 1.3-4.8 1.3 4.8 1.3 12.7 1.3 15.7 1.3 12.6 1.3 4.9 1.3-4.9 1.3-12.6 1.4-15.7 1.3-12.7 .6-3.3" stroke="#6e3616" stroke-width="1.65" fill="none" stroke-dasharray="6.1 2.6"/>
<path d="M140.9 1159.3l1.3 1 1.3 3 1.3 4.7 1.3 6.1 1.3 6.9 1.3 7.2 1.3 6.9 1.3 6.1 1.3 4.7 1.3 3 1.3 1 1.3-1 1.3-3 1.3-4.7 1.3-6.1 1.3-6.9 1.3-7.2 1.3-6.9 1.3-6.1 1.3-4.7 1.3-3 1.3-1 1.3 1 1.2 3 1.3 4.7 1.3 6.1 1.3 6.9 1.3 7.2 1.3 6.9 1.3 6.1 1.3 4.7 1.3 3 1.3 1 1.3-1 1.3-3 1.3-4.7 1.3-6.1 1.3-6.9 1.3-7.2 1.3-6.9 1.3-6.1 1.3-4.7 1.3-3 1.3-1 1.3 1 1.3 3 1.3 4.7 1.3 6.1 1.3 6.9 1.3 7.2 1.2 6.9 1.3 6.1 1.3 4.7 1.3 3 1.3 1 1.3-1 1.3-3 1.3-4.7 1.3-6.1 1.3-6.9 1.3-7.2 1.3-6.9 1.3-6.1 1.3-4.7 1.3-3 1.3-1 1.3 1 1.3 3 1.3 4.7 1.3 6.1 1.3 6.9 1.3 7.2 1.3 6.9 1.3 6.1 1.3 4.7 1.3 3 1.3 1 1.2-1 1.3-3 1.3-4.7 1.3-6.1 1.3-6.9 1.3-7.2 1.3-6.9 1.3-6.1 1.3-4.7 1.3-3 1.3-1 1.3 1 1.3 3 1.3 4.7 1.3 6.1 1.3 6.9 1.3 7.2 1.3 6.9 1.3 6.1 1.3 4.7 1.3 3 1.3 1 1.3-1 1.3-3 1.3-4.7 1.3-6.1 1.3-6.9 1.2-7.2 1.3-6.9 1.3-6.1 1.3-4.7 1.3-3 1.3-1 1.3 1 1.3 3 1.3 4.7 1.3 6.1 1.3 6.9 1.3 7.2 1.3 6.9 1.3 6.1 1.3 4.7 1.3 3 1.3 1 1.3-1 1.3-3 1.3-4.7 1.3-6.1 1.3-6.9 1.3-7.2 1.3-6.9 1.3-6.1 1.3-4.7 1.3-3 1.3-1 1.2 1 1.3 3 1.3 4.7 1.3 6.1 1.3 6.9 1.3 7.2 1.3 6.9 1.3 6.1 1.3 4.7 1.3 3 1.3 1 1.3-1 1.3-3 1.3-4.7 1.3-6.1 1.3-6.9 1.3-7.2 1.3-6.9 1.3-6.1 1.3-4.7 1.3-3 1.3-1 1.3 1 1.3 3 1.3 4.7 1.3 6.1 1.3 6.9 1.2 7.2 1.3 6.9 1.3 6.1 1.3 4.7 1.3 3 1.3 1 1.3-1 1.3-3 1.3-4.7 1.3-6.1 1.3-6.9 1.3-7.2 1.3-6.9 1.3-6.1 1.3-4.7 1.3-3 1.3-1 1.3 1 1.3 3 1.3 4.7 1.3 6.1 1.3 6.9 1.3 7.2 1.3 6.9 1.3 6.1 1.3 4.7 1.3 3 1.2 1 1.3-1 1.3-3 1.3-4.7 1.3-6.1 1.3-6.9 1.3-7.2 1.3-6.9 1.3-6.1 1.3-4.7 1.3-3 1.3-1 1.3 1 1.3 3 1.3 4.7 1.3 6.1 1.3 6.9 1.3 7.2 1.3 6.9 1.3 6.1 1.3 4.7 1.3 3 1.3 1 1.3-1 1.3-3 1.3-4.7 1.3-6.1 1.2-6.9 1.3-7.2 1.3-6.9 1.3-6.1 1.3-4.7 1.3-3 1.3-1 1.3 1 1.3 3 1.3 4.7 1.3 6.1 1.3 6.9 1.3 7.2 1.3 6.9 1.3 6.1 1.3 4.7 1.3 3 1.3 1 1.3-1 1.3-3 1.3-4.7 1.3-6.1 1.3-6.9 1.3-7.2 1.3-6.9 1.3-6.1 1.3-4.7 1.2-3 1.3-1 1.3 1 1.3 3 1.3 4.7 1.3 6.1 1.3 6.9 1.3 7.2 1.3 6.9 1.3 6.1 1.3 4.7 1.3 3 1.3 1 1.3-1 1.3-3 1.3-4.7 1.3-6.1 1.3-6.9 1.3-7.2 1.3-6.9 1.3-6.1 1.3-4.7 1.3-3 1.3-1 1.3 1 1.3 3 1.3 4.7 1.2 6.1 1.3 6.9 1.3 7.2 1.3 6.9 1.3 6.1 1.3 4.7 1.3 3 1.3 1 1.3-1 1.3-3 1.3-4.7 1.3-6.1 1.3-6.9 1.3-7.2 1.3-6.9 1.3-6.1 1.3-4.7 1.3-3 1.3-1 1.3 1 1.3 3 1.3 4.7 1.3 6.1 1.3 6.9 1.3 7.2 1.3 6.9 1.3 6.1 1.2 4.7 1.3 3 1.3 1 1.3-1 1.3-3 1.3-4.7 1.3-6.1 1.3-6.9 1.3-6.9" stroke="#a85a22" stroke-width="1.65" fill="none" stroke-dasharray="6.1 2.6"/>
<path d="M140.9 1096l1.5 .2 1.4 .6 1.4 1.1 1.4 1.5 1.5 1.8 1.4 2.2 1.4 2.5 1.4 2.7 1.5 3 1.4 3.1 1.4 3.3 1.4 3.3 1.4 3.3 1.5 3.2 1.4 3.2 1.4 3 1.4 2.7 1.5 2.5 1.4 2.2 1.4 1.8 1.4 1.5 1.5 1.1 1.4 .6 1.4 .2 1.4-.2 1.5-.6 1.4-1.1 1.4-1.5 1.4-1.8 1.4-2.2 1.5-2.5 1.4-2.7 1.4-3 1.4-3.2 1.5-3.2 1.4-3.3 1.4-3.3 1.4-3.3 1.5-3.1 1.4-3 1.4-2.7 1.4-2.5 1.5-2.2 1.4-1.8 1.4-1.5 1.4-1.1 1.5-.6 1.4-.2 1.4 .2 1.4 .6 1.4 1.1 1.5 1.5 1.4 1.8 1.4 2.2 1.4 2.5 1.5 2.7 1.4 3 1.4 3.1 1.4 3.3 1.5 3.3 1.4 3.3 1.4 3.2 1.4 3.2 1.5 3 1.4 2.7 1.4 2.5 1.4 2.2 1.5 1.8 1.4 1.5 1.4 1.1 1.4 .6 1.4 .2 1.5-.2 1.4-.6 1.4-1.1 1.4-1.5 1.5-1.8 1.4-2.2 1.4-2.5 1.4-2.7 1.5-3 1.4-3.2 1.4-3.2 1.4-3.3 1.5-3.3 1.4-3.3 1.4-3.1 1.4-3 1.5-2.7 1.4-2.5 1.4-2.2 1.4-1.8 1.4-1.5 1.5-1.1 1.4-.6 1.4-.2 1.4 .2 1.5 .6 1.4 1.1 1.4 1.5 1.4 1.8 1.5 2.2 1.4 2.5 1.4 2.7 1.4 3 1.5 3.1 1.4 3.3 1.4 3.3 1.4 3.3 1.4 3.2 1.5 3.2 1.4 3 1.4 2.7 1.4 2.5 1.5 2.2 1.4 1.8 1.4 1.5 1.4 1.1 1.5 .6 1.4 .2 1.4-.2 1.4-.6 1.5-1.1 1.4-1.5 1.4-1.8 1.4-2.2 1.5-2.5 1.4-2.7 1.4-3 1.4-3.2 1.4-3.2 1.5-3.3 1.4-3.3 1.4-3.3 1.4-3.1 1.5-3 1.4-2.7 1.4-2.5 1.4-2.2 1.5-1.8 1.4-1.5 1.4-1.1 1.4-.6 1.5-.2 1.4 .2 1.4 .6 1.4 1.1 1.5 1.5 1.4 1.8 1.4 2.2 1.4 2.5 1.4 2.7 1.5 3 1.4 3.1 1.4 3.3 1.4 3.3 1.5 3.3 1.4 3.2 1.4 3.2 1.4 3 1.5 2.7 1.4 2.5 1.4 2.2 1.4 1.8 1.5 1.5 1.4 1.1 1.4 .6 1.4 .2 1.5-.2 1.4-.6 1.4-1.1 1.4-1.5 1.4-1.8 1.5-2.2 1.4-2.5 1.4-2.7 1.4-3 1.5-3.2 1.4-3.2 1.4-3.3 1.4-3.3 1.5-3.3 1.4-3.1 1.4-3 1.4-2.7 1.5-2.5 1.4-2.2 1.4-1.8 1.4-1.5 1.4-1.1 1.5-.6 1.4-.2 1.4 .2 1.4 .6 1.5 1.1 1.4 1.5 1.4 1.8 1.4 2.2 1.5 2.5 1.4 2.7 1.4 3 1.4 3.1 1.5 3.3 1.4 3.3 1.4 3.3 1.4 3.2 1.5 3.2 1.4 3 1.4 2.7 1.4 2.5 1.4 2.2 1.5 1.8 1.4 1.5 1.4 1.1 1.4 .6 1.5 .2 1.4-.2 1.4-.6 1.4-1.1 1.5-1.5 1.4-1.8 1.4-2.2 1.4-2.5 1.5-2.7 1.4-3 1.4-3.2 1.4-3.2 1.5-3.3 1.4-3.3 1.4-3.3 1.4-3.1 1.4-3 1.5-2.7 1.4-2.5 1.4-2.2 1.4-1.8 1.5-1.5 1.4-1.1 1.4-.6 1.4-.2 1.5 .2 1.4 .6 1.4 1.1 1.4 1.5 1.5 1.8 1.4 2.2 1.4 2.5 1.4 2.7 1.5 3 1.4 3.1 1.4 3.3 1.4 3.3 1.4 3.3 1.5 3.2 1.4 3.2 1.4 3 1.4 2.7 1.5 2.5 1.4 2.2 1.4 1.8 1.4 1.5 1.5 1.1 1.4 .6 1.4 .2 1.4-.2 1.5-.6 1.4-1.1 1.4-1.5 1.4-1.8 1.4-2.2 1.5-2.5 1.4-2.7 1.4-3 1.4-3.2 1.5-3.2 1.2-2.8" stroke="#e08a34" stroke-width="1.65" fill="none" stroke-dasharray="6.1 2.6"/>
<path d="M239.1 1077.6V1481.6" stroke="#000" stroke-width="2.8" stroke-dasharray="17.1 5 2.7 5"/>
<rect x="390" y="1084.5" width="156.4" height="133.7" rx="2.7" fill="#fff" fill-opacity="0.97" stroke="#ccc" stroke-width="1.2"/>
<path d="M394.7 1096.7h29" stroke="#f27a1e" stroke-width="1.65"/>
<text x="434.3" y="1101.7" font-size="14.0" fill="#000" text-anchor="start" ><tspan font-style="italic">cos</tspan>(<tspan font-style="italic">θ</tspan><tspan font-style="italic" font-size="9.8" dy="3.1">n</tspan><tspan font-style="italic" dy="-3.1">t</tspan>) n=60</text>
<path d="M394.7 1118.4h29" stroke="#c4561a" stroke-width="1.65"/>
<text x="434.3" y="1123.4" font-size="14.0" fill="#000" text-anchor="start" ><tspan font-style="italic">cos</tspan>(<tspan font-style="italic">θ</tspan><tspan font-style="italic" font-size="9.8" dy="3.1">n</tspan><tspan font-style="italic" dy="-3.1">t</tspan>) n=75</text>
<path d="M394.7 1140h29" stroke="#7f3012" stroke-width="1.65"/>
<text x="434.3" y="1145" font-size="14.0" fill="#000" text-anchor="start" ><tspan font-style="italic">cos</tspan>(<tspan font-style="italic">θ</tspan><tspan font-style="italic" font-size="9.8" dy="3.1">n</tspan><tspan font-style="italic" dy="-3.1">t</tspan>) n=90</text>
<path d="M394.7 1161.7h29" stroke="#6e3616" stroke-width="1.65" stroke-dasharray="6.1 2.6"/>
<text x="434.3" y="1166.7" font-size="14.0" fill="#000" text-anchor="start" ><tspan font-style="italic">cos</tspan>(<tspan font-style="italic">θ</tspan><tspan font-style="italic" font-size="9.8" dy="3.1">n</tspan><tspan font-style="italic" dy="-3.1">t</tspan>) n=92</text>
<path d="M394.7 1183.3h29" stroke="#a85a22" stroke-width="1.65" stroke-dasharray="6.1 2.6"/>
<text x="434.3" y="1188.3" font-size="14.0" fill="#000" text-anchor="start" ><tspan font-style="italic">cos</tspan>(<tspan font-style="italic">θ</tspan><tspan font-style="italic" font-size="9.8" dy="3.1">n</tspan><tspan font-style="italic" dy="-3.1">t</tspan>) n=108</text>
<path d="M394.7 1205h29" stroke="#e08a34" stroke-width="1.65" stroke-dasharray="6.1 2.6"/>
<text x="434.3" y="1210" font-size="14.0" fill="#000" text-anchor="start" ><tspan font-style="italic">cos</tspan>(<tspan font-style="italic">θ</tspan><tspan font-style="italic" font-size="9.8" dy="3.1">n</tspan><tspan font-style="italic" dy="-3.1">t</tspan>) n=126</text>
<path d="M140.9 1328.2 L141.3 1372.5 L141.7 1400 L142 1417 L142.4 1428.2 L142.8 1437.6 L143.1 1445.1 L143.5 1450.4 L143.9 1454 L144.3 1456.4 L144.6 1457.8 L145 1459 L145.4 1459.9 L145.7 1460.6 L146.1 1460.9 L146.5 1461 L146.8 1461 L147.2 1460.9 L147.6 1460.9 L147.9 1460.8 L148.3 1460.7 L148.7 1460.6 L149 1460.6 L149.4 1460.5 L149.8 1460.4 L150.2 1460.3 L150.5 1460.2 L150.9 1460.2 L151.3 1460.1 L151.6 1460 L152 1459.9 L152.4 1459.8 L152.7 1459.7 L153.1 1459.6 L153.5 1459.5 L153.8 1459.4 L154.2 1459.3 L154.6 1459.2 L155 1459.1 L155.3 1459 L155.7 1458.9 L156.1 1458.8 L156.6 1458.7 L157 1458.6 L157.5 1458.5 L157.9 1458.4 L158.4 1458.2 L158.9 1458.1 L159.4 1458 L159.9 1457.9 L160.5 1457.7 L161 1457.6 L161.6 1457.5 L162.2 1457.3 L162.8 1457.2 L163.4 1457.1 L164 1456.9 L164.7 1456.8 L165.3 1456.7 L166 1456.5 L166.7 1456.4 L167.4 1456.2 L168.2 1456.1 L169 1455.9 L169.7 1455.8 L170.6 1455.6 L171.4 1455.4 L172.3 1455.3 L173.1 1455.1 L174 1454.9 L175 1454.7 L175.9 1454.6 L176.9 1454.4 L177.9 1454.2 L179 1454 L180.1 1453.8 L181.2 1453.6 L182.3 1453.4 L183.5 1453.2 L184.7 1453 L185.9 1452.8 L187.1 1452.6 L188.5 1452.4 L189.8 1452.2 L191.2 1451.9 L192.6 1451.7 L194 1451.5 L195.5 1451.3 L197.1 1451.1 L198.7 1450.8 L200.3 1450.6 L202 1450.4 L203.7 1450.1 L205.4 1449.9 L207.3 1449.6 L209.1 1449.3 L211.1 1449 L213 1448.7 L215.1 1448.4 L217.1 1448.1 L219.3 1447.8 L221.5 1447.5 L223.8 1447.2 L226.1 1446.9 L228.5 1446.7 L231 1446.5 L233.5 1446.2 L236.1 1446 L238.8 1445.9 L241.6 1445.7 L244.4 1445.6 L247.3 1445.5 L250.3 1445.3 L253.4 1445.2 L256.6 1445.1 L259.8 1445 L263.2 1444.9 L266.6 1444.8 L270.2 1444.7 L273.8 1444.6 L277.5 1444.5 L281.4 1444.4 L285.4 1444.3 L289.4 1444.2 L293.6 1444.2 L297.9 1444.1 L302.3 1444 L306.9 1443.9 L311.6 1443.8 L316.4 1443.8 L321.3 1443.7 L326.4 1443.6 L331.6 1443.5 L337 1443.5 L342.5 1443.4 L348.2 1443.3 L354 1443.3 L360 1443.2 L366.2 1443.2 L372.6 1443.1 L379.1 1443.1 L385.8 1443 L392.7 1443 L399.8 1442.9 L407.1 1442.9 L414.6 1442.8 L422.3 1442.8 L430.2 1442.7 L438.4 1442.7 L446.8 1442.6 L455.4 1442.6 L464.3 1442.5 L473.4 1442.4 L482.7 1442.4 L492.4 1442.3 L502.3 1442.2 L512.5 1442.1 L522.9 1442 L533.7 1441.9" stroke="#741c98" stroke-width="2.9" fill="none" stroke-linejoin="round"/>
<rect x="121.3" y="1077.6" width="432" height="404" fill="none" stroke="#000" stroke-width="1.5"/>
<path d="M140.9 1481.6v4.8M200.9 1481.6v4.8M260.8 1481.6v4.8M320.7 1481.6v4.8M380.7 1481.6v4.8M440.6 1481.6v4.8M500.5 1481.6v4.8M121.3 1437.9h-4.8M121.3 1374.6h-4.8M121.3 1311.3h-4.8M121.3 1247.9h-4.8M121.3 1184.6h-4.8M121.3 1121.3h-4.8M553.3 1473.8h4.8M553.3 1396.1h4.8M553.3 1318.4h4.8M553.3 1240.8h4.8M553.3 1163.1h4.8M553.3 1085.4h4.8" stroke="#000" stroke-width="1.3" fill="none"/>
<text x="140.9" y="1502.2" font-size="13.5" fill="#000" text-anchor="middle" >0</text>
<text x="200.9" y="1502.2" font-size="13.5" fill="#000" text-anchor="middle" >2500</text>
<text x="260.8" y="1502.2" font-size="13.5" fill="#000" text-anchor="middle" >5000</text>
<text x="320.7" y="1502.2" font-size="13.5" fill="#000" text-anchor="middle" >7500</text>
<text x="380.7" y="1502.2" font-size="13.5" fill="#000" text-anchor="middle" >10000</text>
<text x="440.6" y="1502.2" font-size="13.5" fill="#000" text-anchor="middle" >12500</text>
<text x="500.5" y="1502.2" font-size="13.5" fill="#000" text-anchor="middle" >15000</text>
<text x="563.6" y="1478.7" font-size="13.5" fill="#681c94" text-anchor="start" >0</text>
<text x="563.6" y="1401" font-size="13.5" fill="#681c94" text-anchor="start" >20</text>
<text x="563.6" y="1323.3" font-size="13.5" fill="#681c94" text-anchor="start" >40</text>
<text x="563.6" y="1245.7" font-size="13.5" fill="#681c94" text-anchor="start" >60</text>
<text x="563.6" y="1168" font-size="13.5" fill="#681c94" text-anchor="start" >80</text>
<text x="563.6" y="1090.3" font-size="13.5" fill="#681c94" text-anchor="start" >100</text>
<text x="337.3" y="1068.4" font-size="25.3" fill="#000" text-anchor="middle" >cos of <tspan font-style="italic">θ</tspan><tspan font-style="italic" font-size="17.7" dy="4.5">n</tspan><tspan dy="-4.5"> for base=500</tspan></text>
<text transform="translate(101.4,1279.6) rotate(-90)" font-size="22.4" fill="#8c564b" text-anchor="middle">Cos wave</text>
<text transform="translate(613.3,1281.1) rotate(-90)" font-size="22.4" fill="#681c94" text-anchor="middle">Perplexity</text>
<rect x="728.2" y="91" width="62.8" height="404" fill="#fdebcb"/>
<path d="M740.1 156.5l-2 10-1 30-1 6-3 1-2 4-2 17 0 14-1 1 0 26-1 1 1 109 1 5 4-4 3 6 2-13 1-1 1 1 2 37 2 10 3-38 1-1 2 3 1 8 2-2 2 1 2 40 2 7 7-77 1-1 2 3 1 17 2 4 2-25 2-2 2 13 2 36 4 13 3-12 2-32 2-6 2 1 4 33 1 2 2-15 2-2 3 19 2-10 1-26 2-2 1 1 2 36 1 1 2-15 1-1 1 1 2 20 2 4 5-12 3-30 4-12 2-2 1 1 1 6 1 29 2 9 3-23 4-4 3-9 3-2 3 16 2 41 1 2 2-11 1-32 2-5 1 1 1 9 4 9 3 43 2-7 0-12 1-1 1-51 2-2 1 1 2 25 2-4 1-11 2-2 2 2 5 34 3-21 2-1 2 4 1-1 3-24 1-1 2 6 2 2 4-4 1-4 2-1 2 5 1 12 1 2 2-2 2 3 3 49 2-8 2-34 1-1 1 1 2 16 2-9 1-1 2 2 1 14 2 3 3-30 4-12 2-28 3-11 2 2 3 50 1 5 1 0 1-7 2-3 1 1 2 35 2 7 3-23 2-48 2-6 1 1 3 73 2 12 2-13 2-2 2 1 1-4 2-35 1-1 2 6 0 11 2 12 2-11 1-24 2-1 3 6 2-25 2-6 3 7 3 23 1 2 2-2 2 1 3 24 1 2 2-2 2 1 2 12 2-6 2-24 1-1 1 1 2 9 1-1 5-46 1-1 2 1 3 61 2 4 1-11 1-1 2 1 1 31 2 10 2-18 1-59 1-1 0-10 2-2 5 10 2 19 2 5 4-22 1-1 2 3 2 49 2 14 2-8 2-32 2-1 2 2 3-7 4 13 3-27 3-2 4 6 1 18 2 9 2-11 1-38 1-1 0-16 1-1 1-30 1-1 0-95-1-1 0-19-2-11-4 29-2-1-1-9-4-4-2-12-2 8-2 26-1 1-3-9-3 7-1-1-1-8-2-4-2 29-2 4-2-11-1-26-2-8-3 10-1 12-2 3-2-4-2-18-4-6-2-11-1 1-4 38-2-7 0-11-2-12-2 11 0 10-2 2-1-1-1-26-2-12-3 10-5 34-1 1-1-1-1-8-2-3-2 24-2 7-3-5-2 4-2-1-3-24-1-2-3 2-2-3-5-31-1-1-3 20-1 1-1-1-2-11-2 8 0 7-2 2-1-1-1-24-2-9-2 14-2 60-2 3-1-1-2 1-2-5-2-51-2-14-1 0-3 20-2 42-2 7-2-10 0-19-1-1-1-22-1-2-2 16-1 1-1-1-2-24-3-13-3 6-3 31-4 13-2 18-1 1-2-4-2-24-1-1-2 5-1-1-3-38-2 9-2 43-1 1-1-1-3-23-3 4-4-11-3 8-3 1-3-4-1-8-2-4-3 27-2 2-2-2-1 1-3 16-2-3-1-12-3-11-2-2-2 3-2-1-2-49-2-15-2 13-2 79-1 1-1-1-2-15-3-4-2-35-2-9-2 17-1 36-1 1-2-1-1-16-3-10-6 10-3-3-2 10-1 1-2-1-2-31-2-4-2 12-3 5-2 10-2 28-4 9-2-2-3-33-1-4-2 0-2-3-2-53-1-7-1 0-1 20-1 1-1 39-1 1-1-1-2-11-1 1-2 25-2 3-4-20-3-2-2 9-2 33-2 5-2-2-2-11-3-66-1-3-1 1-3 27-2-1-2-18-1 1-6 72-2 3-2-10-1-24-2-7-2 2-1-1-3-24-2 7-1 14-1 1-1-1-1-28z" fill="url(#po0)" fill-rule="evenodd"/><path d="M740.1 171.5l-2 14-1 27-2 3-2-1-1 1-3 23-1 119 1 9 1 1 2-3 4 6 2-18 1-1 2 1 1 36 2 14 3-42 1-1 1 1 2 15 3-4 1 1 2 38 2 10 7-78 1-1 2 2 2 24 2-7 1-23 2-3 2 12 2 44 4 13 3-13 2-32 2-4 3 3 3 30 1 1 1-3 1-16 2-2 2 9 0 9 1 4 1-2 2-46 2-2 1 1 2 46 1 1 1-12 2-3 1 1 2 23 2 5 5-12 3-32 6-15 2 4 1 30 2 12 3-22 2-3 2 0 5-11 2 1 2 11 1 30 2 15 2-16 1-35 1-1 2 2 1 13 3 5 2 10 2 35 2-9 0-19 1-1 1-56 1-1 2 5 2 34 1 1 2-14 2-1 2 2 5 33 3-21 2-1 2 4 1-2 2-24 2-2 1 1 2 9 5-3 3-6 1 1 3 18 2-4 2 2 3 49 2-11 1-37 2-3 3 27 2-11 1-1 2 2 2 20 1 0 2-24 5-18 2-29 3-10 2 2 4 55 2-4 1-10 1-1 1 1 2 37 2 10 3-27 2-46 2-6 1 1 2 18 1 49 2 17 2-12 1-1 3 2 1-6 2-47 1-1 1 1 1 6 0 17 2 17 3-38 1-1 1 1 2 10 1-1 2-26 2-4 2 3 5 30 2-3 2 1 3 25 1 2 2-3 2 1 1 8 2 3 2-28 2-5 3 13 1-2 4-41 3-7 1 1 3 61 1 5 1-1 2-20 1-1 1 1 1 32 2 16 1-26 1-1 1-53 2-6 6 10 2 19 2 6 4-23 1-1 2 1 2 46 2 17 2-10 2-30 1-1 3 5 3-8 4 13 3-29 2-1 5 6 3 27 2-14 1-40 3-30 0-98-2-16-4 34-2-3-1-13-4-4-2-10-2 10-1 23-2 2-1-1-2-10-3 8-1-1-2-11-1 0-2 34-2 4-2-11-2-39-2-2-3 22-2 3-2-3-2-19-4-7-2-10-2 7-2 43-1 1-1-1-1-6 0-16-2-16-2 15 0 13-2 3-1-1-1-33-1-1 0-10-1-5-1 0-5 27-1 15-2 4-1-1-1-8-2-4-2 28-2 5-3-7-2 4-2-1-4-27-3 2-2-3-4-27-2-4-2 21-2 3-1-1-2-13-2 10 0 10-2 5-1-1-1-28-2-12-2 20-1 49-1 6-1 1-2-2-2 2-2-2-2-51-3-19-3 23-2 45-2 6-2-6-2-48-1-2-2 19-1 1-2-3-1-26-3-15-3 6-3 32-4 13-2 20-1 1-2-2-2-26-1-1-2 9-2-4-2-38-2 12-2 45-1 1-1-1-1-20-2-11-1 3-2 2-1-1-3-12-2 6-2 2-3 0-2-2-2-12-2 4-2 24-2 1-2-3-3 18-1 1-1-1-5-27-2-2-3 6-2-6-1-38-2-19-2 20 0 41-1 1 0 33-2 4-1-1-1-19-2-8-3-5-1-25-2-13-3 57-1 1-2-3-1-21-3-12-6 11-3-2-2 13-2 2-1-1-3-39-1 0-2 11-4 9-3 34-3 8-2 1-2-4-2-29-2-5-1 3-2-1-3-61-1 0-3 65-1 1-1-1-2-19-1 1-2 28-2 1-5-25-2 1-2 11-1 25-3 11-4-11-3-67-1-4-1 2-2 29-2 2-2-9 0-9-1-5-1 1-6 74-2 4-2-8-2-35-1-2-2 3-2-3-2-22-2 10-1 22-1 1-1-1z" fill="url(#po1)" fill-rule="evenodd"/><path d="M740.1 186.5l-3 38-2 2-2-3-1 1-3 28 0 31-1 1 1 69 1 3 3-1 3 5 2-25 2-4 1 1 1 37 2 19 2-38 2-6 1 1 2 19 3-4 2 4 1 31 2 14 7-79 1-1 2 1 2 25 1 0 2-32 2-4 1 1 3 59 4 15 2-6 2-34 3-10 3 4 3 28 1 1 1-4 1-19 2-2 2 9 0 10 1 5 1-3 2-56 2-2 2 18 1 38 1 2 1-11 2-3 1 1 3 30 1 1 4-8 4-36 3-5 3-11 2 3 3 43 3-21 4-2 3-8 3-3 1 1 2 9 3 43 1-21 1-1 0-22 2-13 2 4 1 18 5 13 2 35 2-12 1-75 2-11 2 9 2 43 1 1 2-11 2-2 4 11 1 15 2 8 3-21 1-1 3 5 1-3 2-24 2-2 1 1 2 11 5-3 3-6 2 3 2 14 2-4 2 1 3 47 2-15 1-41 2-2 1 1 2 35 2-12 1-1 2 1 2 23 1 0 2-24 4-12 3-34 3-9 2 1 1 4 3 49 1 1 2-17 1-1 2 6 1 33 2 12 2-14 2-49 3-16 2 3 1 10 1 48 1 1 1 20 2-9 1-1 2 3 2-9 2-56 1-1 1 1 1 6 0 19 1 1 1 22 3-38 1-1 1 1 2 13 1-1 2-27 2-3 3 9 3 23 1 2 2-3 2 1 3 25 1 2 3-3 1 1 2 11 2-9 1-22 2-3 1 1 2 12 1-2 3-34 2-10 2-3 1 1 2 13 1 44 1 7 1-1 2-29 1-1 1 1 3 53 2-67 1-1 0-10 2-3 6 12 4 25 4-24 1-1 2 1 4 61 2-12 1-25 2-4 3 7 3-8 2 3 0 5 2 5 2-26 2-6 6 8 3 26 2-20 1-37 2-14 0-20 1-1 0-57-1-1-1-25-2 15 0 14-2 7-2-3-1-16-1-3-4-4-1-6-3 33-1 1-2-1-2-11-3 8-2-2-1-8-1 1-2 36-2 3-2-9-1-35-2-13-2 4-1 13-3 9-2-3-2-20-4-7-2-8-1 1-1 23-1 1 0 24-2 14-2-7 0-19-1-1-1-21-2 33-2 3-1-1-2-51-2-7-4 20-2 24-2 3-1-1-2-12-1 1-2 30-2 3-3-9-3 4-2-4-3-24-3 2-2-3-5-31-2 6-1 19-2 2-1-1-2-15-2 14 0 13-1 6-1 1-1-1-1-30-2-17-3 71-2 3-2-3-3 5-2-9-2-58-2-8-3 25-2 46-2 6-2-5-2-48-1-3-2 20-1 1-2-2-1-28-3-19-2 2-4 38-3 7-2 21-2 7-2-1-2-27-1 0-1 10-2 2-1-1-2-42-1 2-2 56-2 3-4-39-1 3-2 2-1-1-3-14-2 6-5 3-2-2-2-12-1 0-3 28-2 1-2-3-3 19-1 1-1-1-5-29-2-2-3 9-2-3-3-57-1 33-1 1 0 57-2 14-2-4-2-32-4-7-3-34-3 59-1 1-2-6-1-23-3-15-4 8-2 2-3-1-2 16-2 3-1-1-2-35-2-7-2 11-4 9-3 34-4 8-2-1-2-9-2-26-1 0-2 7-2-5-1-44-1-1 0-12-1 0-3 67-1 1-1-1-2-23-2 9-1 19-1 1-2-1-2-21-2-6-2 1-4 45-2 2-3-5-2-13-1-41-2-20-2 11-1 22-2 2-1-1-2-24-1 0-4 52-1 1-1 22-2 5-2-6-2-39-1-2-2 4-2-3-2-22-2 14-1 26-1 1-1-1z" fill="url(#po2)" fill-rule="evenodd"/><path d="M879.1 185.5l-1 97 3 18 1 40 2 13 2-9 2-1 2 2 5 30 3-20 1-1 2 4 2-3 2-25 1-1 2 1 2 12 5-2 1-5 2-2 2 3 2 13 3-5 2 5 2 39 2-20 1-41 2-1 2 14 1 28 2-12 1-1 2 2 2 25 1 0 2-23 5-19 2-27 3-8 3 3 3 48 1 1 2-20 1-1 2 4 1 35 2 16 2-17 3-57 2-5 2 2 4 77 3-7 2 3 1-3 2-63 2-9 2 6 2 47 2-32 2-5 1 1 2 15 3-27 2-2 2 4 5 30 3-3 2 4 2 22 1 2 3-3 1 1 2 9 2-11 1-21 2-2 1 1 2 12 1-2 3-32 4-14 2 1 3 61 2-13 1-24 1-1 2 5 2 50 2-65 2-7 2 1 2 8 3 4 4 25 4-24 1-1 2 1 2 15 2 43 3-38 2-2 3 9 1-6 2-3 2 3 0 5 2 5 2-29 2-4 3 7 3 2 3 24 2-43 3-30-1-77-2 30-2 6-2-4-2-22-3-2-2-6-3 33-1 1-2-2-2-11-3 8-2-2-1-6-2 12-1 26-2 3-2-8-1-35-2-18-2 4-1 13-3 9-2-3-2-20-5-10-1-5-2 13-1 52-2 13-2-5-2-51-2 32-2 3-1-1-3-62-1-1-4 19-2 26-2 3-1-1-2-13-1 2-2 31-2 2-3-11-3 4-2-4-3-25-3 3-2-3-5-30-2 8-1 19-2 2-1-1-2-15-3 39-1 1-1-1-3-51-2 62-1 7-2 2-2-4-3 8-2-6-2-61-2-11-3 28-1 34-1 1 0 10-2 5-2-3 0-10-1-1-1-36-1-4-2 19-1 1-2-2-3-48-2-3-3 15-2 26-4 12-2 24-1 1-2-1-2-25-1-1-1 12-2 3-1-1-2-41-1 3-2 58-2 1-2-11-1-30-1-5-1 3-2 2-1-1-3-16-2 6-3 3-3 0-2-4-1-8-1 0-2 25-2 4-3-4-3 20-1 1-3-9-1-15-3-9-2 3-1 8-1 1-2-2zM740.1 202.5l-3 32-2 2-2-4-1 1-2 16-1 89 1 8 1 1 2-1 3 4 3-36 1-1 1 1 3 59 2-39 2-4 1 1 2 21 1 2 2-5 2 3 3 45 7-79 1-1 2 1 2 25 1 0 2-33 2-4 1 1 3 62 2 12 2 4 2-7 1-24 3-17 2-1 2 3 4 28 2-27 2-2 1 1 2 24 1-21 1-1 1-47 2-2 2 15 1 47 1 4 1-8 2-2 1 1 2 25 2 9 4-8 3-32 7-22 2 2 3 43 3-20 1-1 3 1 5-11 3 3 4 45 2-51 2-10 2 5 2 29 3 3 1 4 2 32 2-18 0-83-3-10-2-36-5-13-2-24-3 59-1 1-2-6-1-27-3-18-5 10-4 1-3 20-1 1-1-1-2-19 0-16-2-10-1 8-5 13-2 28-2 7-4 6-3-8-2-26-2 11-1 1-2-2-1-43-1-1 0-15-1 0-2 65-1 1-2-1-2-26-3 28-1 1-3-9-1-16-2-7-1 0-2 8-3 39-2 2-2-2-3-13-3-62-3 35-1 1-2-1-2-25-1 0-2 30-2 11 0 12-1 1-1 21-2 5-2-4-2-41-1-3-2 4-2-2-2-20-3 45-1 1-2-3z" fill="url(#po3)" fill-rule="evenodd"/><path d="M810.1 207.5l-1 2-1 58 4 2 1 67 1 7 2-6 2 1 4 36 4-8 3-33 7-22 2 1 3 41 3-16 1-1 3 1 4-9 2-1 3 6 3 35 2-59 2-4 2 6 2 34 4 7 2 27 1-3 0-33 1-1-1-34-3-20-1-29-1-5-4-7-1-17-1-2 0 14-1 1-1 41-1 1-2-1-4-53-2-2-3 8-3 3-1-1-1 1-2 19-2 4-2-4-1-28-2-14-1 6-4 9-3 32-6 13-2-2-3-30-3 20-2 2-1-1zM776.1 206.5l-3 34-2 2-1-1-2-26-1 0-4 41 0 12-1 1-1 21-2 5-2-2 0-10-1-1-1-32-1-4-2 4-2-1-2-18-2 41-2 9-1 1-1-1-1-6-1-54-3 24-2 1-2-5-2 8-1 85 1 3 2 0 2 3 1-1 3-45 1-1 2 1 2 61 2-36 2-2 1 1 2 23 1 2 2-4 2 2 3 44 7-78 2-2 1 1 2 24 1-1 2-32 2-3 2 5 2 58 3 18 1 1 2-9 1-25 2-13 2-2 3 4 4 24 2-28 2-2 1 1 2 21 1-6 1-72-2-1-1-3-2-26-2 20-2 5-2-3-2-23-2-8-1 0-2 10-2 33-3 6-2-2-4-20zM879.1 206.5l0 60 2 13 2 59 1 4 1-5 3-3 3 5 4 26 2-17 2-3 3 3 3-28 2-1 4 14 3 0 4-9 2 3 2 12 3-6 1 1 2 11 1 25 1-28 1-1 0-30 2-7 2 2 0 10 1 1 1 36 1 0 1-10 1-1 2 2 1 18 2 9 2-22 4-12 3-33 4-8 3 8 2 39 1 1 2-21 1-1 2 3 3 54 5-72 2-4 2 1 1 3 0 10 1 1 2 59 3-3 2 2 1-20 1-1 1-57 2-4 2 4 0 12 1 1 1 36 2-28 2-4 1 1 2 16 3-25 2-1 3 9 3 22 1 2 3-2 2 4 3 24 3-4 3 9 3-33 1-1 2 1 2 12 4-32 3-14 2-2 2 5 0 13 1 1 1 39 3-40 2-4 2 4 1 46 1-54 3-4 8 20 3 21 4-24 2-2 2 4 3 52 3-38 1-1 2 1 2 10 1-6 2-3 1 1 2 11 1 0 2-31 2-3 2 7 4 4 3 21 2-44 2-15 0-61-2 28-2 4-2-4-2-25-5-6-3 31-1 1-2-2-2-11-3 8-2-2-1-5-3 40-2 3-2-6-3-58-2 4-2 18-2 3-3-8-2-18-5-11-2 20-1 72-3 5-2-16-1-50-2 28-2 3-1-1-1-23-1-1 0-28-2-16-4 19-2 27-2 3-1-1-2-12-1 2-2 30-2 2-3-12-3 3-2-3-3-25-3 2-2-3-5-30-3 29-2 2-1-1-2-13-3 43-1 1-1-1-3-49-2 61-2 3-3-5-3 12-2-4 0-12-1-1-2-64-1-2-1 4-4 70-2 5-2-2-3-49-2 17-1 1-2-2-3-50-2-4-2 8-2 28-5 18-2 24-2 2-1-1-2-23-1 0-2 14-1 1-1-1-2-17 0-16-1 2-1 52-2 6-2-4-3-51-3 4-1-1-3-17-3 7-5 2-2-3-1-8-1 1-2 24-2 4-3-5-2 18-2 4-2-3-4-30-2-1-2 13-2 2-1-1z" fill="url(#po4)" fill-rule="evenodd"/><path d="M988.1 292.5l-4 23 0 28 2 20 1-1 3 1 1-8 0-55zM1056.1 281.5l0 8-4 11 1 36 2-35 1-1zM865.1 250.5l-1 3 0 28 3 23 0 17 2 16 3 2 2 19 0-39-2-12-1-33-2-11-3-3zM739.1 246.5l-1 10-2 2-3-6-2 10-1 52 1 1 0 10 4 4 2-16 1-34 1-1zM918.1 238.5l-2 4-6 5-2-3-1-7-1 1-2 24-2 3-3-5-2 19-2 3-2-2-4-32-1-1-2 5 0 6-4 15 1 48 1 8 3-5 2 1 2 4 4 24 2-16 2-2 2 3 1-1 2-25 2-4 2 1 1 9 2 5 4-1 3-8 2 2 2 11 3-6 2 1 2 24 0-31-2-9-2-51-1-2 0 2-2 2-1-1zM836.1 229.5l-5 14-2 26-3 11-4 7-2-1-3-27-2 12-1 53 1 2 1-2 2 2 1 4 2 30 2 4 2-4 2-11 2-28 4-8 1-9 2-5 2 1 1 3 2 36 3-13 1-1 3 2 3-7 3-3 2 2 2 8 2 21 0-45-3-19-2-42-2-4-4 10-4 3-2 21-2 4-2-2-1-8 0-17zM1066.1 227.5l-1 44-1 1 1 1 0 20 4 17 4 6 3 22 4-24 2-3 2 2 2 16 1 32 3-36 1-1 2 2 2 12 1-5 2-2 2 2 1 8 2-13 0-13 2-9 2 1 2 10 4 4 2 13 2-47 1-1 0-25-1 14-2 2-1-1-4-33-3-2-4 30-1 1-2-2-2-12-3 7-3-3-3 42-2 2-2-4 0-10-1-1-2-52-1-2-2 17-3 8-3-7-2-19zM776.1 223.5l-2 26-2 6-2-1-3-25-5 65-3 15-2-1-3-49-2 3-2-1-2-12-2 50 2 1 2 8 2 22 3-4 2 5 2 40 7-77 2-2 1 1 2 21 1-1 1-23 3-10 2 2 1 7 1 52 3 23 1 1 1-3 2-33 2-10 2-2 3 4 3 21 3-30 2-2 1 1 2 16 1-26-1-1 0-16-2-8-1-20-2 17-2 3-3-9-2-24-2-3-4 45-1 3-2 2-6-15zM1048.1 219.5l-3 11-3 36-2 2-1-1-2-10-2 27-2 6-2-1-2-12-3 2-2-3-3-25-3 3-2-3-5-30-3 31-1 1-2-1-2-8-2 43-2 8 0 24 2-17 1-1 2 1 2 15 2-18 2-4 2 1 6 33 3-2 2 3 3 25 3-5 2 2 1 5 3-33 1-1 2 2 2 12 6-41 4-12 0-34-1-1zM957.1 209.5l-2 9-2 29-4 11-3 31-2 2-1-1-2-19-1-1-1 11-2 7 0 43 1 5 1-7 1-1 2 1 3 29 2-20 4-12 2-27 2-9 3-4 3 6 3 37 2-21 2-2 2 6 2 53 4-63 2-9 3-3-1-65-1-4-2 17-2 51-2 11-2 2-2-4-2-44-2 12-1 1-2-1-1-5-2-46-1-6z" fill="url(#po5)" fill-rule="evenodd"/><path d="M989.1 316.5l-1 1 0 22 1 2zM782.1 305.5l-1 23 1 1 0 12 1 5 1 0 2-35zM869.1 285.5l-1 16 1 1 0 12 1 0zM753.1 283.5l-1 3 0 19 1 1 1-7zM1098.1 278.5l-5 10 0 15 2 14 3-6 3 5 0-24zM733.1 271.5l-1 35 2 3 1-3 0-28zM888.1 265.5l-3 18 0 22 4 3 3 6 3 16 1-11 2-3 3 2 1-3 1-27-3-9-1 1-2 21-2 2-2-2-3-31zM1108.1 262.5l-1 22 3 15 2-7 0-7-1-1-1-21zM792.1 257.5l-2 8-1 32 6 9 2 10 0-18-2-8zM918.1 256.5l-8 9-2-1-1-5-1 5 0 21 3 8 1 10 3 4 5-10 3 3 1 6 2-6 0-23-2 1-2-4zM853.1 255.5l-4 10-3 3-2 12-2 25 1 2 1-2 4 5 4-8 3-3 1-4-1-32zM835.1 252.5l-4 11-2 28-9 17 1 30 2 8 2-3 3-39 5-10 3-17 0-23zM1067.1 247.5l-1 6 1 29 2 10 4 5 3 22 3-20 3-9 0-28-1-5-2 16-2 5-2 1-3-10-2-19zM979.1 246.5l-1 24 1-1zM1011.1 242.5l-1 29 4 15 3 22 1 2 3-1 2 2 3 25 1 0 2-5 2 1 1-3 0-14-2-7 0-6-2-7-1 2-3-2-3-24-1-1-2 3-2-3-4-28zM1047.1 240.5l-3 21-1 26-1 3-2 1-3-6 0 13 3 15 2-17 2-4 4-24zM957.1 227.5l-2 13-1 24-5 14-1 21-3 15 0 17 1-10 4-10 3-33 6-13 0-23z" fill="url(#po6)" fill-rule="evenodd"/><path d="M728 379h0m0 27h0m0 20h0m1-205h0m0 161h0m0 1h0m0 3h0m3-200h0m1 13h0m0 2h0m0 244h0m1-248h0m1-18h0m1 205h0m0 15h0m0 14h0m2 7h0m2-290h0m0 17h0m0 5h0m0 1h0m0 319h0m1-8h0m2-37h0m2 3h0m2-268h0m0 19h0m1-9h0m0 292h0m2-329h0m1 262h0m0 6h0m1 17h0m1-13h0m3-222h0m2 19h0m0 260h0m3-37h0m1-212h0m0 2h0m0 200h0m1-275h0m0 313h0m1-66h0m0 10h0m4-264h0m0 5h0m0 285h0m1-44h0m2 23h0m1-6h0m0 2h0m1 41h0m2-304h0m0 13h0m0 205h0m1-247h0m4 330h0m1-213h0m2 198h0m1-198h0m1 229h0m2-40h0m2-271h0m2 25h0m0 10h0m1 12h0m1-2h0m0 209h0m1-202h0m0 240h0m1-234h0m0 227h0m2-17h0m2-10h0m0 21h0m2-272h0m1 30h0m2 231h0m1-7h0m0 9h0m1-8h0m3-289h0m0 18h0m1-2h0m1 250h0m3 34h0m0 3h0m0 4h0m0 8h0m0 8h0m1 54h0m1-321h0m1-9h0m0 10h0m0 241h0m1-222h0m1 205h0m2-214h0m0 7h0m0 234h0m0 1h0m0 34h0m1-39h0m0 70h0m1-270h0m0 203h0m0 18h0m1-210h0m0 1h0m2-32h0m0 216h0m0 21h0m2-41h0m0 11h0m0 5h0m2-259h0m0 41h0m1 178h0m0 13h0m1-219h0m0 22h0m1 176h0m1 9h0m2-219h0m0 15h0m0 5h0m3 223h0m1 3h0m0 4h0m0 12h0m0 11h0m1-21h0m1-3h0m0 1h0m1 60h0m1-359h0m0 93h0m1 3h0m1-2h0m3-36h0m1 34h0m0 248h0m1-75h0m0 26h0m1-204h0m0 194h0m1 44h0m1-253h0m0 189h0m0 14h0m1-203h0m0 206h0m3-189h0m2 231h0m3-263h0m0 3h0m1-17h0m0 14h0m0 2h0m0 327h0m1-337h0m1 260h0m1-16h0m0 4h0m1 6h0m1-233h0m0 220h0m1-184h0m2-13h0m3 255h0m2-304h0m1-43h0m0 330h0m1-327h0m0 19h0m0 2h0m1-29h0m1 4h0m0 35h0m1 258h0m2-206h0m2-69h0m1 252h0m2 12h0m0 6h0m1-191h0m1-96h0m0 94h0m0 7h0m1-15h0m0 249h0m0 3h0m1-23h0m2-10h0m5-239h0m3 237h0m2-241h0m0 15h0m0 2h0m1-9h0m2-44h0m1 289h0m1-257h0m1 32h0m0 177h0m1-183h0m1 8h0m2 188h0m0 37h0m2-258h0m0 8h0m0 6h0m2-4h0m2 202h0m0 10h0m1 1h0m0 21h0m2-233h0m1 21h0m0 218h0m0 55h0m1-283h0m4 265h0m0 15h0m2 2h0m2-314h0m0 261h0m1-260h0m1 261h0m0 29h0m2-35h0m2 42h0m1-253h0m2-7h0m0 228h0m0 44h0m1-43h0m0 3h0m1-8h0m0 21h0m2-297h0m0 68h0m0 246h0m1-359h0m0 60h0m2 227h0m0 19h0m2-7h0m0 17h0m4-68h0m1 112h0m1-110h0m0 19h0m1-210h0m4 264h0m1-9h0m1-20h0m0 47h0m3-252h0m2 248h0m1 31h0m1-255h0m2 217h0m1 11h0m0 54h0m1-102h0m7 42h0m1 2h0m0 21h0m4-245h0m0 270h0m3-58h0m0 35h0m1-32h0m0 30h0m7-44h0m0 5h0m1-6h0m0 33h0m2-263h0m4 0h0m0 229h0m1-26h0m0 2h0m0 4h0m0 14h0m1-23h0m0 15h0m0 9h0m2 50h0m3-88h0m1 29h0m2-214h0m1 17h0m0 204h0m1-203h0m0 186h0m1 38h0m2-37h0m1 45h0m5-216h0m2-27h0m1 23h0m2 209h0m0 20h0m1-19h0m0 1h0m0 3h0m0 26h0m2-42h0m5 6h0m0 4h0m1 2h0m1-27h0m1-13h0m1 66h0m2 43h0m3-119h0m1-277h0m1 317h0m10 37h0m0 26h0m1-290h0m0 272h0m0 12h0m5-107h0m0 4h0m2-6h0m0 28h0m1-18h0m4-181h0m1 230h0m1-2h0m1-12h0m0 1h0m1-208h0m0 190h0m1-197h0m0 6h0m1-5h0m0 5h0m0 175h0m0 6h0m2-193h0m0 217h0m3 92h0m1-9h0m2-13h0m1-272h0m2-12h0m0 9h0m1-17h0m0 19h0m2 196h0m2 8h0m0 46h0m0 9h0m1-63h0m4 6h0m1-195h0m0 195h0m0 18h0m3-38h0m2-198h0m0 193h0m1 1h0m2 4h0m0 92h0m1-80h0m1 55h0m2-47h0m1 45h0m1-24h0m2 68h0m2-117h0m1-42h0m0 7h0" stroke="#a8561a" stroke-width="2.7" stroke-linecap="round"/><path d="M739.1 173.5l-3 43-2 2-1-1-2 4-3 29-1 45-1 1 1 66 2 8 4-8 3 6 2-9 1-1 1 1 2 38 2 8 2-9 1-25 2-1 2 5 4 2 2 38 2 5 2-9 1-30 4-36 1-1 2 3 0 10 2 12 2-3 1-15 2-3 1 1 2 30 5 18 1 0 2-7 2-37 1-5 2-2 2 5 1 22 2 12 1 1 2-10 2-1 2 15 2 3 2-15 0-13 2-2 3 24 2-2 0-4 2-2 1 1 1 11 2 6 7-15 3-33 3-6 2-1 2 10 1 28 2 6 2-7 2-21 3-1 5-12 2 2 1 20 1 1 0 22 3 19 2-7 1-32 2-5 1 1 1 7 4 8 1 34 2 14 2-4 0-10 1-1 1-56 1-1 2 2 2 14 2-5 2-14 1-1 3 7 1 18 3 14 2-6 1-12 2-1 2 3 1-2 3-25 1-1 3 6 8-6 2 6 1 11 1 2 3 1 1 3 2 49 2 3 3-41 1-1 1 1 2 10 1 0 1-6 1-1 1 1 2 15 2 3 2-12 1-24 5-17 2-30 2-5 2 2 1 10 0 21 1 1 1 24 2 4 1-6 2-2 1 1 1 29 2 14 2-2 1-6 2-53 1-1 0-11 2-6 2 9 1 55 3 16 2-9 2-1 2 2 1-3 2-28 1-1 1 1 2 18 1 2 1-2 2-31 2-3 1 3 2 1 2-12 0-12 2-8 2 3 4 23 2 2 1-1 2 3 2 25 2 4 2-3 2 2 1 8 2 3 3-27 1-1 3 7 1-2 5-47 1-1 2 1 2 62 2 10 2-4 0-5 1-1 2 1 1 25 2 8 3-27 1-57 2-3 4 3 4 27 3-6 2-16 1-1 2 2 1 44 3 24 1 0 2-15 1-26 2-1 2 2 3-5 2 9 2 3 4-35 1-1 4 4 3 32 1 2 1-1 2-17 1-45 3-20 0-19 1-1-1-79-3-19-2 8-1 24-1 1-2-1-1-5-4-4-2-9-2 4-2 20-1 1-3-6-3 6-3-10-1 0-2 10 0 9-2 4-4-32-1-1-1 1-4 22-1 1-1-1-2-18-5-10-1-11-2-4-2 9 0 12-2 13-4-22-2 6 0 6-2 2-1-1-1-21-2-8-2 5-5 35-2 3-1-1-1-8-2-3-4 32-3-4-2 3-2-1-1-14-2-8-4 4-1-1-6-37-2 3-2 12-1 1-1-1-2-9-2 5 0 5-1 1-2-1-1-24-2-7-3 27-1 51-1 3-4 3-2-4-1-49-3-21-3 11-3 46-2 6-2-14-1-27-2-5-2 13-1 1-1-1-2-21-3-10-2 2-2 8-3 33-3 6-3 12-2-5-2-18-3 2-1-1-3-37-2 4-2 37-1 1-1-1-2-13-4 6-4-10-3 10-4 2-2-4 0-5-3-10-2 8-1 17-2 2-2-2-4 17-2-2-1-10-3-9-2-1-2 2-2-2-1-45-3-24-2 9 0 15-1 1-1 58-1 1-2-2 0-3-4-6-3-40-1-1-2 10-1 36-1 1-2-1-1-11-3-6-6 10-3-3-3 8-2-2-2-31-2-3-2 14-4 9-2 10-2 28-4 4-2-7 0-16-2-18-1-2-2 2-2-3-1-47-1-1 0-11-2-4-2 14-1 42-2 1-2-5-1 1-2 24-2 4-3-13-2-4-2 0-3 15-2 31-2 1-3-13-1-51-3-26-2 4-2 21-1 1-1-1-2-11-2 4-3 48-2 16-2 4-1-1-2-35-1-4-2 1-2-1-3-25-2 5-1 11-1 1-1-1-2-30-1-3z" fill="url(#pr0)" fill-rule="evenodd"/><path d="M740.1 180.5l-2 9-1 32-2 5-3-2-3 23-1 34-1 1 0 67 2 14 3-8 2 1 1 5 1 0 2-16 1-1 2 2 1 40 2 10 2-13 1-27 1-1 1 1 2 12 3-3 1 1 2 40 2 7 2-12 1-31 4-36 1-1 2 1 2 27 1 0 2-13 0-13 2-4 2 14 1 26 5 20 2-3 2-34 1-10 2-4 2 1 1 3 3 34 1 1 2-16 2-2 3 24 1-1 2-40 2-1 1 1 2 34 1 1 1-9 2-3 1 1 2 21 2 1 5-11 3-34 6-13 2 6 1 32 2 8 2-8 1-17 2-3 2 1 4-11 2-1 2 4 3 56 1 2 2-11 1-37 1-1 2 1 1 12 4 6 1 7 0 20 1 1 1 21 1 0 1-6 0-17 1-1 1-60 1-1 1 1 1 19 2 10 1 0 2-15 2-3 2 2 2 10 1 19 2 7 3-19 2-1 2 4 1-2 2-25 2-2 3 8 8-7 2 4 1 13 1 2 2-2 2 2 1 36 2 19 2-8 2-42 1-1 1 1 2 19 2-9 1-1 2 2 1 17 2 3 2-15 0-14 2-11 3-7 2-28 3-12 2 2 1 5 1 37 2 17 2-3 1-10 1-1 1 1 2 43 2 7 2-12 2-54 1-1 0-10 2-6 2 4 1 56 1 1 0 15 2 7 2-10 1-1 3 3 1-3 2-42 1-1 1 1 2 31 1 3 1-3 2-35 1-1 2 2 1 6 1-1 2-28 2-5 2 4 4 25 4 1 2 5 2 25 1 2 1-3 2-2 1 1 2 13 2-5 2-26 1-1 1 1 1 8 1 1 1-1 3-38 2-9 2-3 1 1 3 69 1 4 1-1 1-15 2-4 1 1 1 32 2 10 2-14 1-65 2-8 6 7 2 22 2 4 4-24 1-1 2 1 2 56 2 14 2-8 2-37 1-1 2 6 1 0 3-7 1 1 1 9 2 4 3-35 2-2 5 8 1 20 2 11 2-9 1-45 4-35 0-65-1-1 0-22-2-9-2 11-1 25-1 1-2-3-1-8-4-4-2-9-2 5-2 22-1 1-3-9-3 8-1-1-2-11-1 0-2 14 0 14-2 6-1-1-1-29-2-14-1-1-2 5-2 17-2 3-1-1-2-18-5-10-1-10-2-5-2 14-1 36-1 1-1-1-1-25-2-12-2 9 0 11-2 4-1-1-1-30-2-10-2 5-6 40-1 1-1-1-1-10-2-3-2 15 0 13-2 6-3-7-2 4-2-1-3-23-1-1-2 4-3-3-5-34-2 3-1 14-2 3-1-1-2-13-2 8 0 9-2 5-1-1-1-30-2-10-2 14-1 59-1 7-3 1-2 3-2-1 0-10-1-1 0-31-1-1 0-20-2-12-3 13-3 51-2 8-2-10 0-22-1-1-1-20-1-1-2 17-1 1-2-3-1-23-3-12-2 2-2 9-2 28-5 14-1 12-1 1-2-3-2-24-1 0-2 7-2-4-2-37-1 0-1 5-2 46-1 1-1-1-2-24-1-1-1 6-2 2-2-9-2-3-3 9-4 2-2-3-1-10-2-5-3 27-2 1-2-3-1 2-1 12-2 6-2-3-1-12-3-10-2-1-3 5-1-1-1-29-1-1 0-28-2-12-2 12-2 80-1 1-1-1-2-17-3-2-1-5-1-29-2-8-2 15-1 39-1 1-2-4 0-9-3-15-3 2-4 8-3-3-2 10-2 3-1-1-2-35-2-4-2 15-4 7-3 36-2 5-3 2-2-4-2-35-1-3-3 6-1-1-2-61-1-7-1 0-1 22-1 1-1 40-1 1-1-1-2-12-1 1-2 28-2 2-4-20-2-2-1 1-3 18-1 26-2 4-2-1-3-22-2-63-1-4-2 7-1 23-2 2-1-1-1-14-1-3-1 1-6 71-2 6-2-8-1-32-2-6-2 4-1-1-3-27-2 8-1 20-1 1-1-1-1-31z" fill="url(#pr1)" fill-rule="evenodd"/><path d="M739.1 190.5l-2 41-2 2-3-3-3 26-1 95 1 5 2-7 2-1 2 7 1 0 2-13 0-12 2-3 1 1 2 57 1 3 1-4 1-35 1-6 1-1 1 1 2 18 3-6 2 5 1 36 2 10 7-82 2-2 1 1 1 23 2 8 2-35 2-3 2 14 1 35 5 21 2-4 2-37 1-7 2-3 3 3 3 33 1 1 1-3 1-18 2-3 2 11 0 12 1 5 1-1 2-60 1-1 2 2 0 26 1 1 1 27 1 1 2-14 1-1 1 1 1 18 2 10 6-11 2-30 7-19 2 3 1 32 2 12 3-25 2-2 2 1 5-12 3 3 1 21 1 1 0 21 2 14 2-17 1-41 1-1 2 3 1 20 1 3 3 2 1 4 2 44 1 0 1-10 1-76 2-13 2 12 1 31 1 4 1-1 2-14 2-2 2 2 5 35 3-21 1-1 2 2 1 4 1-2 2-27 1-1 2 1 2 9 8-8 1 1 3 18 3-4 2 6 2 50 2-13 1-49 1-1 2 1 0 16 2 17 2-7 0-6 1-1 2 1 2 25 1 0 2-30 5-15 2-30 3-10 2 1 1 4 3 54 2-4 1-14 1-1 2 5 1 41 2 10 2-16 2-52 3-17 2 2 0 13 1 1 1 58 2 11 2-10 1-1 3 3 1-4 2-52 1-1 1 1 1 6 0 20 2 18 3-41 1-1 1 1 2 11 1-1 2-30 2-3 2 5 5 28 3-2 2 4 2 26 1 2 1-4 2-2 1 1 1 9 2 4 2-32 2-3 1 1 1 11 1 2 1-2 3-37 3-12 1-1 1 1 2 16 1 50 1 6 1-2 2-26 1-1 1 1 1 33 2 18 1-25 1-1 1-59 2-3 3 8 3 2 2 22 2 5 4-25 2-2 1 1 4 69 2-10 1-34 2-3 3 9 1-6 2-3 2 4 1 11 1 0 3-36 1-1 6 8 3 31 2-14 1-44 3-20 0-79-2-15-3 40-1 1-1-1-2-15-5-7-1-6-2 7-1 22-2 2-1-1-2-11-2 9-1 1-1-1-2-12-1 0-2 20 0 17-2 4-2-12 0-20-2-20-1-2-1 1-4 25-1 1-1-1-3-24-4-5-3-14-1 20-1 1-1 40-1 1-1-1-1-6 0-21-2-20-2 15 0 15-2 4-1-1-1-36-2-16-5 22-3 26-1 1-1-1-1-11-2-4-2 32-2 4-3-10-3 6-1-1-3-26-3 3-3-3-5-34-2 5-2 20-1 1-1-1-2-16-1 2-2 27-1 1-1-1-1-31-2-17-1 25-1 1-1 52-2 3-2-2-3 7-2-7-1-56-2-17-3 15-3 55-2 8-2-6-2-51-1-2-2 22-1 1-2-2-1-28-3-15-3 6-2 27-2 11-4 11-1 15-1 1-2-1-2-28-2 4 0 5-1 1-2-1-2-42-1 0-3 61-1 1-1-1-2-35-1-2-1 6-2 3-4-15-3 9-4 2-2-2-3-15-3 29-1 1-3-5-3 21-1 1-1-1-3-22-3-7-2 2-2 6-2-2-1-46-1-1-1-21-1 23-1 1-1 83-1 1-2-5 0-14-2-15-4-4-1-28-2-11-3 61-1 1-2-6-1-24-2-8-2 0-5 10-3-2-2 7 0 6-2 4-1-1-2-37-1-5-1 0-2 14-3 4-2 9-2 30-5 7-2-2-2-36-1-3-1 1-2 10-2-6-1-54-1-1 0-10-1 0-3 69-1 1-1-1-2-21-2 10 0 14-2 9-2-2-2-19-2-5-2 1-2 10-2 36-2 3-3-5-2-14-1-47-1-1-1-21-2 8-1 29-1 1-2-1-1-20-1-4-1 1-6 74-2 7-2-5-2-44-1-1-2 6-2-3-2-26-2 12-1 24-1 1-1-1-2-48-1-5z" fill="url(#pr2)" fill-rule="evenodd"/><path d="M740.1 197.5l-3 42-2 1-3-5-2 15-1 35-1 1 0 53 1 9 1 0 1-5 2-1 2 7 1 0 2-33 2-5 1 1 3 67 2-44 2-6 1 1 2 23 1 1 2-7 2 3 1 35 2 14 7-84 2-2 1 1 1 22 2 10 2-39 2-3 2 11 1 42 4 23 2 1 1-5 2-38 3-8 4 8 1 18 2 10 2-27 2-3 1 1 2 30 2-18 0-35 2-19 2 3 2 63 1 1 2-16 1-1 1 1 3 33 4-5 2-6 2-31 4-8 3-11 2 2 1 9 0 20 2 16 3-24 5-1 1-5 3-5 3 2 4 54 1-24 1-1 0-27 2-14 2 4 2 31 1 1 1-1 2 3 1 31 1 1 0 10 1 0 1-64 1-1-1-39-3-12-2-37-1-2-1 1-2-2-3-38-3 66-1 1-2-6-1-31-3-11-6 11-3-2-1 2-2 18-1 1-1-1-3-45-2 4-1 9-4 7-3 36-3 5-3 2-2-6-2-33-2 15-1 1-2-3-1-54-2-15-2 72-2 2-1-1-2-28-2 13 0 14-2 7-2-2-3-27-1-2-2 1-2 13-1 28-1 6-2 2-2-2-3-13-3-69-2 12-1 29-1 1-2-2-2-29-1 2-2 33-4 32 0 12-2 7-2-4-2-47-1-1-2 7-2-2-2-27-2 17-1 30-1 1-1-1zM879.1 176.5l-1 35-1 1 0 58 3 17 2 59 1 6 1 0 2-13 2-1 2 2 2 7 3 26 3-22 1-1 3 7 1-3 2-27 1-1 2 1 2 11 5-3 3-6 2 3 2 16 3-7 2 5 2 50 2-18 0-34 2-18 2 3 2 39 2-15 1-1 2 1 2 29 1 0 2-29 5-15 3-35 3-4 2 4 3 52 1 1 2-22 1-1 2 4 1 41 2 15 4-69 2-15 2-2 2 8 1 62 2 16 2-11 1-1 3 4 1-7 2-63 1-1 1 1 3 55 3-43 1-1 1 1 2 16 1-1 2-30 2-2 2 5 4 27 1 2 3-2 2 3 2 26 1 2 3-7 1 1 2 13 2-9 1-26 2-2 1 1 2 16 4-38 3-13 1-1 2 1 2 60 1 8 1-2 2-36 1-1 1 1 3 61 1-36 1-1 0-41 2-8 2 2 2 9 3 2 2 21 2 6 4-26 2-2 2 4 3 64 2-14 1-32 2-2 1 1 2 11 2-10 1-1 1 1 2 15 1 0 3-35 1-1 2 2 1 4 3 3 3 28 2-19 0-26 4-35 0-51-1-1-1-24-3 43-1 1-2-6-1-16-4-5-2-7-2 10-1 23-1 1-2-1-2-13-2 9-1 1-1-1-2-11-1 0-2 42-2 4-2-10-2-50-1-2-1 1-2 17-3 9-2-2-2-22-5-8 0-5-2-5-1 33-1 1 0 28-2 17-2-12-2-50-2 35-2 4-1-1-3-61-5 21-3 29-1 1-1-1-2-16-1 0-2 35-2 2-3-12-3 7-2-4-2-24-1-2-3 3-2-3-5-32-1 0-2 27-2 2-1-1-2-18-2 17 0 15-1 8-1 1-1-1-3-56-1 36-1 1 0 33-1 8-2 1-2-4-3 10-2-4-1-54-1-1-1-24-3 16-3 59-2 8-2-5-2-55-1-2-2 24-1 1-2-2-2-42-1-5-2-2-3 14-2 28-4 9-3 26-2-1-2-30-1 0-1 12-2 2-1-1-1-31-2-13-2 66-2 3-2-14-1-31-1-3-1 7-2 2-1-1-3-16-2 7-5 4-3-5-2-11-2 26-2 5-3-6-2 18-2 5-2-3-1-16-4-14-2 3-1 7-2 2-1-1z" fill="url(#pr3)" fill-rule="evenodd"/><path d="M776.1 201.5l-1 1-2 40-1 1-2-2-2-31-1 2-7 83-1 1-2-3-2-47-1-2-2 7-2-2-2-24-1 20-1 1 0 22-1 8-1 1-2-3-2-65-3 37-1 1-2-2-1-5-1 1-2 17-1 81 1 2 1-4 2-1 3 6 2-39 2-5 1 1 3 65 2-43 2-4 1 1 2 27 1 1 2-7 2 2 3 49 7-83 2-2 1 1 3 30 2-40 2-2 2 8 2 59 4 16 2-7 1-29 3-14 1-1 3 3 3 28 1 1 2-29 2-3 2 6 1 23 1-4 1-78-3-8-2-33-2 26-2 6-2-3-2-25-2-7-2 2-3 43-1 4-2 2-4-9-2-15zM879.1 192.5l-1 71 3 19 1 53 1 10 1 0 1-8 2-3 4 4 4 29 2-20 2-3 3 6 3-30 1-1 2 2 1 9 2 4 4-3 3-7 2 2 2 15 3-8 2 3 2 47 1-26 1-1 0-44 2-6 2 8 2 44 2-14 1-1 2 1 2 30 1-1 2-26 4-9 2-28 2-11 2-4 3 3 3 49 1 1 2-24 1-1 2 3 1 37 1 1 1 20 4-67 2-15 2-2 2 3 2 78 1 4 2-9 1-1 2 3 1-1 1-38 1-1 0-36 2-6 2 7 2 54 2-36 2-5 1 1 2 18 2-12 0-11 1-6 2-2 2 5 4 29 1 2 3-3 2 2 2 25 1 3 1-5 2-2 1 1 2 12 2-13 1-23 2-2 1 1 2 17 3-30 4-20 2-3 2 5 2 60 2-18 0-17 2-7 2 5 0 28 1 1 1 27 1-53 1-1 0-24 1-1 3 3 1 10 4 4 1 3 1 16 2 8 4-26 2-2 2 3 3 61 3-46 1-1 2 1 2 12 1-8 2-3 1 1 2 14 1-1 1-23 2-10 1-1 2 6 4 4 3 25 1-24 1-1 0-21 3-20-1-69-2 37-2 5-2-6-1-19-1-4-4-4-1-5-3 35-1 1-2-1-2-14-3 10-2-2-1-10-1 1-2 45-2 3-2-8-2-56-1-3-1 1-3 23-2 3-2-2-2-22-5-8-1-7-1 1-1 43-1 1 0 42-2 2-2-5 0-28-1-1-1-32-2 35-2 4-1-1-3-68-1 0-4 19-3 32-1 1-1-1-2-16-1 1-2 34-2 2-3-14-3 7-2-3-2-26-1-2-3 3-2-3-5-32-4 32-1 1-1-1-2-17-3 44-1 1-1-1-3-55-2 70-2 3-3-6-3 12-2-1 0-12-1-1-1-62-1-9-1 0-3 29-2 49-2 7-2-3 0-12-1-1-1-43-1-2-2 23-1 1-2-2-3-51-2-3-3 17-1 21-5 14-2 28-2 2-1-1-2-30-1 0-1 13-2 3-1-1-2-42-1 0-1 60-2 17-2-6 0-11-1-1-1-39-1-4-1 6-2 2-1-1-3-18-2 6-6 4-2-4-1-9-1 0-2 27-2 4-3-7-2 20-2 4-2-4-1-16-3-14-2-1-2 12-2 2-1-1zM809.1 190.5l-1 76 3 4 2 79 1 3 1-13 2-3 1 1 3 37 5-7 3-35 4-7 2-13 2-1 2 8 2 38 3-21 1-1 2 2 2-1 1-5 3-5 3 2 2 10 2 37 1-31 1-1 0-28 2-7 2 4 2 36 3 1 2 8 1 31 1-1 0-26 1-1 0-40-3-21-2-45-1-2-1 1-2-2-1-5-1-26-1-3 0 13-1 1 0 26-1 1-1 26-1 1-2-6-1-34-2-15-2-1-3 9-2 2-2-2-1 1-2 20-2 4-2-4-1-32-2-12-1 9-5 11-2 31-1 4-6 8-2-5-2-31-3 21-1 1-2-5 0-42-1-1 0-25z" fill="url(#pr4)" fill-rule="evenodd"/><path d="M1060.1 318.5l1 48 1-40-1-8zM988.1 286.5l-2 13-3 5 0 35 1 1 1 36 3-8 2 2 1-3 0-16 1-1 0-53zM740.1 224.5l-2 25-1 3-2 1-2-6-1 1-2 19 0 21-1 1 0 37 1 7 2-3 3 5 2-13 1-30 3-10zM836.1 223.5l-2 9-3 4-2 29-2 9-5 9-3-3-2-27-5 32 1 50 1 5 1-10 2-2 2 4 2 36 1 1 4-7 3-36 4-7 1-10 2-5 2 1 1 5 2 38 3-17 1-1 3 2 4-9 3-1 3 9 2 31 1-46 1-1 0-19 1-1 3 6 2 38 1 3 1-1 2 2 1 4 1 23 1-4 0-43-3-24-1-35-1-4-3-2-1-3-1-21-1-1 0 15-1 1 0 44-2 2-3-6-3-54-2-2-3 9-2 2-2-1-1 1-2 23-2 3-2-3-1-9 0-18zM1066.1 221.5l-1 23-1 1 0 45 3 10 2 15 3 2 4 26 4-25 2-2 2 2 2 19 1 35 3-41 1-1 2 1 2 12 1-7 2-3 1 1 2 12 3-30 2-2 3 9 4 4 2 17 2-44 3-23-1-42-2 32-2 3-2-5-2-26-3-3-2-5-3 36-1 1-2-1-2-14-1 6-2 3-2-2-1-7-1 2-2 44-2 2-2-5-3-66-2 6-2 18-3 3-2-5-2-22-4-4zM809.1 214.5l0 37 1 0 0-36zM776.1 214.5l-2 31-2 7-2-2-2-30-1 1-7 82-1 1-2-2-1-8-1-37-1-4-2 5-2-1-2-19-1 6-1 39-3 10 0 46 1 9 2-40 1-1 2 1 2 27 1 2 2-7 2 2 3 48 7-81 2-2 1 1 2 25 1 0 2-37 2-2 2 7 0 14 1 1 1 48 3 17 1 1 1-2 2-36 2-10 2-2 3 3 4 24 2-30 2-2 1 1 2 22 1-6 0-50-3-16-1-23-3 25-1 1-3-9-2-26-2-3-2 10-2 37-2 4-3-2-4-17zM1048.1 213.5l-4 18-2 30-2 3-1-1-2-13-1 2-1 26-2 7-2-1-2-13-3 6-2-2-2-27-1-3-3 2-2-3-5-29-3 31-2 2-1-1-2-12-2 39-1 5-2 2-1-1-2-50-1 45 1 6 2 3 1 10 1 47 2-31 2-3 1 1 2 17 3-25 2-1 2 4 4 30 1 2 3-3 2 2 3 26 3-6 2 3 1 7 3-35 1-1 2 1 2 15 3-27 2-5 1-11 3-8 2 2 1 7 0 31 1 1 0 15 1-3 1-29 3-10 0-43-1-1 0-10-2 31-2 3-2-5-1-54zM879.1 211.5l-1 33 3 21 2 71 1 2 1-6 2-2 3 2 2 5 3 23 2-19 2-3 3 5 3-29 1-1 2 2 1 10 2 5 4-3 1-5 3-3 2 5 1 10 3-9 2 1 2 39 1-4 0-46-2-6 0-10-1-1-2-51-1 3-2 2-1-1-3-18-1 3-4 4-3 1-2-3-1-7-1 0-2 27-2 3-3-6-2 20-2 3-2-3-2-25-3-9-1 1-3 16-1 1-2-2zM957.1 203.5l-2 9-2 30-5 14-2 30-1 1-2-1-2-26-1 0-1 12-2 3-1-1-2-17 0-16-1 1-1 34 1 1 0 13 2 7 2 48 1 0 1-10 1-1 2 1 2 28 1 0 1-16 5-14 3-35 2-6 2-1 3 6 2 39 1 1 2-22 1-1 2 1 3 58 4-64 2-13 4-6-2-75-1-1-2 29-1 1-2 50-1 4-2 1-2-9-1-44-1-5-2 19-1 1-2-1-1-21-1-1 0-21-1-1 0-10z" fill="url(#pr5)" fill-rule="evenodd"/><path d="M989.1 297.5l-2 3 0 5-3 10 0 31 2 17 4-4 1-8 0-45zM865.1 254.5l-1 1 0 25 3 15 1 31 1 5 4 3 1 7-2-19-1-43-1-9-4-5zM740.1 247.5l-1 0-1 12-2 3-3-6-2 10-1 54 1 3 2 0 2 3 2-39 3-17zM918.1 241.5l-8 7-3-7-3 26-2 2-3-4-1 13-3 8-3-8-3-30-1-1-1 2-1 11-3 10 0 51 1 7 3-5 4 5 4 21 2-17 2-2 2 3 1-1 1-18 3-9 2 2 3 16 3-1 4-10 2 1 2 10 4-12-1-52-1-1-2 2-2-3zM792.1 240.5l-2 4-1 27-3 19-1 1-2-1-5-15 3 80 3 10 4-45 3-4 3 3 3 17 1 0 2-28 2-2 1 1 2 10 0-24-2-10-1-20-2 13-2 3-2-2zM776.1 235.5l-2 25-2 3-2-2-2-26-1 0-4 36-2 39-3 5-2-4-2-45-2 2-2-1-2-10-1 33 3 11 2 23 2-4 3 3 2 42 4-33 2-38 2-5 2 1 2 8 0 7 1-1 1-26 1-4 2-2 1 1zM836.1 233.5l-5 11-3 35-7 12-3-8-1-15-4 25 1 30 2-4 3 3 3 39 2-1 2-6 2-31 5-11 1-12 3-5 2 4 2 35 2-9 2-2 3 3 3-7 4-3 3 6 2 20 0-35-3-14-2-51-2-3-5 12-2-1-1 2-2 24-2 3-2-2-1-5zM1066.1 232.5l-1 51 3 13 1 11 4 5 3 23 4-23 2-3 3 2 2 40 3-31 1-1 2 3 2 10 1-5 2-2 2 2 1 6 2-22 2-5 3 3 1 7 4 3 2 9 3-60-1 10-2 2-1-1-2-10-1-22-1-3-4-3-1 23-2 12-1 1-2-1-2-12-3 7-3-5-2 40-1 5-2 2-2-2-1-7-2-65-1 0-3 22-3 3-2-4-2-22zM979.1 225.5l-2 17 0 17-1 1-1 38-1 7-3 7 1 44 4-58 5-22zM1048.1 222.5l-3 10-3 38-2 3-3-9-2 25-2 5-2-1-2-12-3 4-2-2-3-30-2 1-3-3-5-27-3 32-1 1-2-1-2-6-1 31-3 19 0 15 2-18 1-1 2 2 2 13 2-16 2-4 2 1 6 37 3-4 2 2 3 23 3-4 3 6 3-33 1-1 2 1 2 13 6-39 4-15zM957.1 209.5l-3 34-5 16-2 33-2 5-2-1-3-21-4 22 1 29 1 4 2-6 2 1 3 24 1-10 4-9 2-26 3-16 3-3 3 5 3 31 1-13 3-8-1-41-2 11-1 1-2-2-1-4-2-49z" fill="url(#pr6)" fill-rule="evenodd"/><path d="M728 248h0m1-16h0m0 140h0m0 2h0m0 2h0m0 12h0m2-175h0m0 169h0m2-268h0m1 270h0m3-12h0m3-208h0m0 6h0m1-1h0m2 307h0m1-65h0m0 3h0m0 5h0m1-224h0m3-26h0m0 8h0m0 9h0m0 215h0m2-16h0m0 65h0m2-308h0m0 247h0m0 7h0m0 31h0m0 13h0m20-63h0m3-210h0m3 298h0m2-7h0m2-64h0m0 14h0m3-7h0m0 3h0m4-37h0m0 120h0m3-286h0m0 150h0m0 59h0m5-23h0m1 4h0m0 17h0m1-250h0m2 39h0m0 1h0m1-11h0m0 11h0m4-51h0m2-10h0m0 9h0m1-12h0m0 11h0m5 246h0m0 8h0m0 2h0m3-195h0m2-14h0m3 210h0m0 5h0m3-8h0m4-197h0m2 1h0m1 4h0m1 140h0m1-2h0m2-160h0m4 257h0m1-54h0m0 8h0m2-182h0m2-5h0m2 183h0m2-194h0m0 169h0m1 25h0m1 101h0m1-105h0m2-28h0m1-193h0m0 35h0m4-30h0m1 239h0m1-2h0m0 59h0m3-290h0m0 3h0m2 278h0m2-302h0m3 63h0m1-2h0m3 217h0m0 2h0m0 13h0m3-301h0m1-5h0m1-4h0m3-15h0m0 253h0m1 18h0m2-222h0m2 27h0m5 29h0m4 168h0m4 4h0m1-24h0m0 16h0m0 8h0m4-244h0m0 27h0m4 174h0m0 33h0m1-31h0m1 28h0m2 3h0m1-183h0m0 185h0m1-200h0m2-14h0m1 0h0m2 194h0m1-190h0m0 185h0m2-201h0m2 39h0m3 217h0m3-259h0m1 10h0m1-11h0m2 232h0m1 5h0m1 7h0m2-201h0m0 246h0m1-246h0m3 201h0m2-202h0m0 241h0m1-212h0m4 136h0m5-193h0m1-8h0m2-1h0m0 3h0m1-42h0m0 31h0m1 210h0m3 16h0m4-198h0m0 7h0m0 2h0m5 219h0m2 32h0m1-54h0m1-204h0m3-11h0m6 247h0m2-189h0m0 6h0m1 7h0m2 159h0m0 11h0m0 21h0m8-44h0m0 6h0m0 6h0m2 0h0m1-221h0m1 1h0m0 1h0m1 240h0m9-78h0m3 14h0m2-174h0m0 246h0m1-245h0m1 169h0m2-158h0m0 8h0m1 193h0m0 8h0m3-181h0m1 163h0m0 17h0m1-224h0m0 223h0m1-182h0m2 196h0m0 16h0m1-30h0m5-230h0m2 9h0m1 209h0m5-54h0m4-166h0m0 168h0m5 90h0m7-7h0m4-251h0m1 0h0m2 185h0m2-21h0m2-140h0m1 167h0m2 6h0m1-178h0m0 188h0m0 25h0m1-37h0m2-185h0m3 0h0m0 8h0m4 219h0m1 3h0m0 21h0m1-22h0m0 13h0m4-218h0m3 166h0m6 9h0m1-3h0m2-292h0m2 265h0m2-1h0m4-164h0m3 22h0m1 184h0m2-215h0" stroke="#c0101e" stroke-width="2.7" stroke-linecap="round"/><path d="M1119.1 233.5l-2-3-4-1-4 1-3-3-7 3-4-1-6 1-11-1-1 1-7-2-3 1-4-1-8 2-2-1-3 1-3-1-20 1-2-1-2 1-3-3-13 3-16 0-3-2-6 0-2 2-2-1-2 1-4-1-2 1-3-1-26 1-5-2-9 2-2-1-11 1-2-2-7 2-2-1-7 1-22-1-3 1-3-2-6 2-7 0-5-2-9 2-2-1-17 1-5-2-7 2-3-1-11 1-7-2-1 1-6-1-7 2-2-1-7 1-5-2-6 2-13 0-10-2-3 6-1 20-1 1 0 75 3 23 2 5 3-2 6-1 1 1 12-1 6 2 6-2 8 1 4-1 3 2 13-2 10 1 6-1 5 2 3 0 2-2 3 1 3-1 1 1 4-1 11 1 1-1 8 2 4-2 8 0 3 2 7-2 3 1 10-1 2 1 4-1 1 1 3-1 3 1 6-1 22 1 3-1 2 2 7-2 10 0 1 1 28-1 7 3 6-3 17 0 8 1 2 2 7-3 3 1 2-1 9 1 19-1 8 2 1-1 3 1 3-2 3 1 24-1 2 2 6 0 3-2 4 1 4-3 3-22 0-75z" fill="url(#pb0)" fill-rule="evenodd"/><path d="M1119.1 242.5l-2-4-5-1-4 1-2-2-6 2-29 0-1-1-4 1-2-1-3 1-3-1-1 1-35 0-2-2-7 2-4-1-1 1-19 0-1-1-7 1-19 0-1-1-3 1-4-1-1 1-16 0-1-1-4 1-8-1-2 1-10-1-3 1-16 0-1-1-2 1-4-1-1 1-4-1-2 1-10-1-3 1-2-1-1 1-11 0-1-1-4 1-3-1-1 1-15 0-1-1-2 1-5-1-2 1-1-1-4 1-22 0-1-1-26 1-6-1-9 2-8-2-3 1-6-1-3 7-1 38-1 1 1 46 3 18 1 1 14-2 13 2 5-1 10 0 1 1 1-1 4 1 3-1 2 1 3-1 3 1 2-1 19 0 1 1 6-1 9 1 2-1 15 0 1 1 2-1 2 1 3-1 11 0 1 1 3-1 9 1 2-1 4 1 2-1 4 1 2-1 17 0 1 1 2-1 2 1 2-1 10 0 1 1 1-1 4 1 48-1 2 1 1-1 3 2 4-2 21 0 1 1 4-1 3 2 3-2 1 1 2-1 17 0 1 1 1-1 16 0 1 1 2-1 3 1 3-1 1 1 3-1 29 0 1 1 11-1 1 1 4-2 3-15 1-50-1-1 0-24z" fill="url(#pb1)" fill-rule="evenodd"/><path d="M730.1 248.5l-1 20-1 1 0 46 2 20 2 6 2-1 2 1 3-1 3 1 2-1 11 0 1 1 1-1 2 1 5-1 10 1 2-1 3 1 4-1 1 1 4-1 3 1 2-1 10 0 1 1 1-1 7 1 7-1 4 1 2-1 3 1 2-1 4 1 2-1 4 1 2-1 3 1 4-1 1 1 3-1 11 0 1 1 3-1 3 1 2-1 4 1 2-1 4 1 2-1 3 1 3-1 3 1 1-1 8 1 1-1 4 1 3-1 2 1 3-1 4 1 1-1 4 1 3-1 3 1 19-1 1 1 2-1 3 1 3-1 3 1 2-1 5 1 1-1 4 1 2-1 4 1 2-1 2 1 5-1 21 0 1 1 2-1 3 1 4-1 2 1 3-1 3 1 2-1 10 0 1 1 3-1 10 1 2-1 4 1 2-1 3 1 3-1 2 1 3-1 4 1 2-1 22 0 4 1 1-1 3 1 4-1 2 1 4-5 2-19 0-47-1-1 0-13-3-11-5-1-2 1-3-1-4 1-1-1-3 1-5-1-1 1-18 0-1-1-1 1-3-1-4 1-2-1-3 1-3-1-2 1-4-1-1 1-5-1-4 1-3-1-1 1-11 0-1-1-2 1-3-1-8 1-3-1-3 1-17 0-1-1-8 1-3-1-2 1-4-1-2 1-4-1-1 1-4-1-3 1-3-1-3 1-11 0-1-1-1 1-3-1-4 1-2-1-3 1-3-1-2 1-5-1-1 1-4-1-3 1-3-1-1 1-4-1-1 1-8-1-2 1-3-1-3 1-2-1-4 1-3-1-2 1-4-1-3 1-2-1-2 1-9-1-1 1-1-1-4 1-3-1-2 1-4-1-2 1-4-1-2 1-3-1-3 1-3-1-3 1-1-1-4 1-18 0-1-1-1 1-3-1-3 1-3-1-3 1-3-1-2 1-4-1-1 1-7-1-22 1-3-1-2 1-4-1z" fill="url(#pb2)" fill-rule="evenodd"/><path d="M730.1 256.5l-1 63 3 15 5 1 2-1 4 1 1-1 16 0 1 1 1-1 12 0 1 1 1-1 4 1 2-1 3 1 2-1 4 1 2-1 23 0 1 1 2-1 4 1 1-1 4 1 2-1 10 0 1 1 1-1 4 1 1-1 18 0 1 1 1-1 4 1 2-1 4 1 1-1 5 1 2-1 4 1 1-1 18 0 1 1 1-1 4 1 1-1 10 0 1 1 1-1 5 1 2-1 3 1 1-1 18 0 1 1 1-1 5 1 1-1 5 1 1-1 4 1 2-1 4 1 2-1 3 1 2-1 23 0 1 1 2-1 4 1 2-1 3 1 2-1 30 0 1 1 1-1 4 1 2-1 3 1 2-1 4 1 1-1 30 0 1 1 10-1 1 1 4-3 1-3 1-63-3-15-5-1-2 1-4-1-2 1-3-1-2 1-29 0-1-1-2 1-4-1-1 1-4-1-2 1-29 0-1-1-1 1-4-1-3 1-3-1-2 1-4-1-1 1-23 0-1-1-2 1-4-1-2 1-4-1-1 1-5-1-1 1-5-1-1 1-5-1-1 1-17 0-1-1-2 1-4-1-1 1-4-1-2 1-10-1-2 1-17 0-1-1-1 1-4-1-2 1-4-1-2 1-4-1-2 1-4-1-2 1-3-1-2 1-12 0-1-1-1 1-4-1-2 1-4-1-1 1-5-1-2 1-4-1-1 1-5-1-1 1-4-1-1 1-24 0-1-1-1 1-4-1-2 1-4-1-2 1-34 0-1-1-5 1-2-1z" fill="url(#pb3)" fill-rule="evenodd"/><path d="M1119.1 265.5l-3-8-12 0-1 1-1-1-35 0-1 1-1-1-41 0-1 1-4-1-1 1-1-1-39 0-1-1-1 1-4-1-1 1-41 0-1-1-1 1-147 0-1 1-1-1-45 0-3 3-2 20 1 39 3 9 2-1 8 2 1-1 35 0 1 1 1-1 41 0 1 1 1-1 150 0 1 1 4-1 1 1 3-2 1 1 35 0 1-1 3 2 1-1 38 0 1-1 3 2 1-1 37 0 1-1 11 1 3-7 0-13 1-1z" fill="url(#pb4)" fill-rule="evenodd"/><path d="M730.1 279.5l1 36 1 3 5 3 2-1 3 1 14 0 1-1 8 1 7-1 2 1 3-1 2 1 3-1 3 1 3-1 3 1 3-1 1 1 10 0 1-1 1 1 6-1 9 1 3-1 3 1 3-1 2 1 4-1 2 1 4-1 3 1 1-1 7 1 9-1 7 1 4-1 2 1 3-1 4 1 2-1 3 1 3-1 2 1 8-1 2 1 3-1 1 1 3-1 4 1 3-1 1 1 5-1 2 1 3-1 3 1 2-1 4 1 3-1 1 1 8-1 2 1 2-1 3 1 3-1 3 1 4-1 2 1 3-1 2 1 4-1 2 1 3-1 25 1 3-1 3 1 7-2 2 2 3-1 2 1 11 0 1-1 2 1 2-1 4 1 4-1 2 1 4-1 3 1 2-1 3 1 2-1 32 1 6-2 3 2 3-1 4 1 3-5 1-8-1-39-1-4-5-1-9 2-2-2-9 1-2-1-11 0-1 1-2-1-4 1-8-1-2 1-4-1-3 1-2-1-9 1-14-1-2 1-3-1-7 2-3-2-2 1-23-1-5 2-6-2-4 1-2-1-3 1-3-1-3 1-4-1-1 1-4-1-3 1-2-1-11 0-1 1-8-1-3 1-3-1-3 1-2-1-4 1-8-1-4 1-5-1-4 1-1-1-3 1-3-1-3 1-3-1-3 1-3-1-3 1-2-1-3 1-3-1-10 0-1 1-9-1-3 1-2-1-4 1-2-1-4 1-3-1-2 1-2-1-3 1-75-1-2 1-2-1-4 1-1-1-3 3z" fill="url(#pb5)" fill-rule="evenodd"/><path d="M732.1 284.5l1 21 4 3 4-1 2 2 2-1 6 1 7-2 6 0 6 2 7-2 3 1 3-2 3 2 4-1 7 2 15-1 3-2 8 3 3-2 8 2 10-2 1 1 7-1 4 2 1-1 4 1 3-2 5 0 2 2 9-2 2 1 10-1 3 2 1-1 13 0 2-2 8 3 5-2 8 1 2-2 3 2 6 1 10-2 22 2 6-1 3-3 9 4 2-1 11 1 3-2 4 1 7-3 3 3 10 1 28-1 1-1 4 1 2-2 3 2 12 0 1 1 12-1 2 1 7-4 3 3 3-1 4 1 2-3 0-25-2-3-12 2-2-2-13 0-1-1-15 2-8-1-2 1-3-1-18 1-8-2-2 1-5-1-8 4-3-3-4 1-7-2-4 1-4-1-7 1-4 3-7-4-2 1-10-1-4 2-24-1-5 2-4-3-3 2-8-2-4 2-6-1-17 0-1 1-11-1-2 1-3-2-8 3-2-2-5-1-7 2-20-2-3 2-9-1-2 2-6-2-10 0-1-1-2 1-4-1-3 2-3-1-9 1-8-2-8 1-3 2-8-3-4 1-4-1-10 2z" fill="url(#pb6)" fill-rule="evenodd"/><path d="M730 221h0m0 139h0m1-198h0m1 201h0m0 56h0m1-58h0m5-3h0m1-136h0m1-106h0m3 96h0m1 4h0m2-5h0m0 149h0m2-156h0m1 4h0m1 236h0m2-234h0m2 149h0m3-131h0m1-74h0m0 239h0m0 13h0m4-182h0m2-20h0m0 164h0m1-164h0m1 9h0m0 144h0m1-240h0m0 102h0m0 142h0m1-134h0m0 262h0m5-273h0m0 12h0m1-32h0m4 24h0m4 8h0m1-8h0m0 4h0m0 142h0m1-197h0m0 206h0m3-15h0m0 2h0m1 0h0m4-133h0m1-27h0m0 20h0m1-56h0m0 198h0m2-207h0m0 64h0m1 136h0m0 108h0m1-253h0m5 164h0m1-181h0m1-18h0m0 197h0m0 44h0m7-238h0m0 41h0m0 7h0m1 188h0m4 30h0m1-56h0m2-162h0m3 133h0m1-183h0m1 25h0m5 25h0m1 137h0m2-7h0m2-172h0m2 179h0m1-151h0m4 196h0m1-182h0m0 133h0m2-176h0m1 172h0m1-151h0m0 157h0m2-144h0m1-5h0m1-3h0m0 178h0m1-172h0m4 147h0m2-177h0m1 174h0m2-1h0m0 20h0m2-22h0m1 34h0m2-195h0m5 175h0m1-12h0m2-134h0m1-18h0m0 157h0m3-167h0m2 205h0m1 42h0m2-216h0m2-128h0m3 266h0m1-9h0m5 18h0m2-19h0m2 9h0m3-140h0m0 2h0m3 139h0m2 10h0m1-150h0m0 135h0m1-133h0m1 154h0m1-252h0m0 85h0m1-24h0m3 36h0m1-5h0m0 136h0m1 22h0m1-157h0m4-78h0m0 236h0m1-14h0m2-151h0m1 11h0m1 138h0m1-9h0m3-157h0m2 192h0m1-194h0m0 162h0m0 4h0m1-158h0m4-76h0m2 80h0m2-22h0m0 24h0m5-20h0m0 166h0m2-142h0m2 165h0m1-23h0m0 10h0m1-153h0m6 178h0m4-15h0m4-172h0m4 203h0m2-194h0m1 3h0m0 148h0m3-155h0m0 9h0m0 145h0m1 83h0m4-222h0m4-12h0m1-4h0m1 16h0m3-19h0m1 20h0m1-4h0m2 181h0m1-183h0m1-5h0m0 3h0m5-6h0m3 145h0m1 2h0m1-141h0m0 8h0m2 218h0m6-236h0m0 169h0m0 22h0m1-189h0m0 14h0m2 192h0m1-198h0m1-12h0m1 154h0m5-134h0m0 147h0m2-10h0m0 5h0m1 14h0m1-156h0m2 131h0m1 90h0m3-258h0m0 1h0m0 168h0m3-132h0m1 162h0m1-25h0m2-150h0m1 143h0m0 3h0m2 88h0m1-6h0m4-231h0m1 163h0m2-153h0m5 141h0m6-135h0m3-16h0m3 172h0m2-202h0m2 194h0m2 8h0m3-175h0m3 22h0m1-29h0m2 2h0m3-9h0m1 259h0m2-229h0m0 145h0m3-178h0m1-5h0m0 173h0m0 8h0m1 55h0m1-66h0m2 8h0m1-142h0m3 224h0m3-234h0m2-16h0m0 29h0m2-2h0m4 2h0m1 142h0m2-141h0m2-12h0m0 151h0" stroke="#12309e" stroke-width="2.7" stroke-linecap="round"/>
<path d="M743.9 91V495" stroke="#000" stroke-width="2.8" stroke-dasharray="17.1 5 2.7 5"/>
<rect x="961.5" y="98.8" width="170.8" height="78" rx="3.3" fill="#fff" fill-opacity="0.97" stroke="#ccc" stroke-width="1.3"/>
<circle cx="984.8" cy="114" r="4.9" fill="#0b44de"/>
<text x="1014.9" y="119.1" font-size="16.7" fill="#725757" text-anchor="start" >First 92 Dims</text>
<circle cx="984.8" cy="138.5" r="4.9" fill="#e20808"/>
<text x="1014.9" y="143.6" font-size="16.7" fill="#725757" text-anchor="start" >Last 36 Dims</text>
<circle cx="984.8" cy="163" r="4.9" fill="#c65a12"/>
<text x="1014.9" y="168.1" font-size="16.7" fill="#725757" text-anchor="start" >Overall Dims</text>
<clipPath id="cp10"><rect x="708.6" y="91" width="432" height="404"/></clipPath>
<path d="M728.2 367.6 L728.3 406.9 L728.4 427.9 L728.4 440.7 L728.5 449.1 L728.5 456.1 L728.6 461.7 L728.6 465.7 L728.7 468.4 L728.8 470.1 L728.8 471.1 L728.9 471.9 L728.9 472.5 L729 473 L729.1 473.3 L729.1 473.5 L729.2 473.6 L729.2 473.6 L729.3 473.6 L729.4 473.6 L729.4 473.5 L729.5 473.5 L729.5 473.4 L729.6 473.4 L729.7 473.3 L729.7 473.2 L729.8 473.2 L729.8 473.1 L729.9 473 L729.9 473 L730 472.9 L730.1 472.8 L730.1 472.7 L730.2 472.7 L730.2 472.6 L730.3 472.5 L730.4 472.4 L730.4 472.3 L730.5 472.3 L730.5 472.2 L730.6 472.1 L730.7 472 L730.8 471.9 L730.9 471.8 L730.9 471.7 L731 471.6 L731.1 471.5 L731.2 471.4 L731.3 471.3 L731.4 471.1 L731.5 471 L731.7 470.9 L731.8 470.8 L731.9 470.7 L732 470.6 L732.1 470.5 L732.3 470.4 L732.4 470.2 L732.5 470.1 L732.7 470 L732.8 469.8 L733 469.7 L733.1 469.5 L733.3 469.4 L733.5 469.2 L733.6 469 L733.8 468.9 L734 468.7 L734.2 468.5 L734.4 468.3 L734.6 468.1 L734.8 467.9 L735 467.7 L735.3 467.5 L735.5 467.3 L735.8 467.1 L736 466.9 L736.3 466.7 L736.5 466.5 L736.8 466.2 L737.1 466 L737.4 465.8 L737.7 465.6 L738 465.3 L738.3 465.1 L738.7 464.9 L739 464.7 L739.4 464.5 L739.8 464.3 L740.1 464 L740.5 463.8 L741 463.6 L741.4 463.3 L741.8 463 L742.3 462.7 L742.7 462.4 L743.2 462.1 L743.7 461.8 L744.2 461.4 L744.8 460.9 L745.3 460.5 L745.9 460 L746.5 459.4 L747.1 458.8 L747.7 458.2 L748.4 457.5 L749.1 456.8 L749.8 456 L750.5 455.2 L751.2 454.3 L752 453.3 L752.8 452.2 L753.6 451 L754.4 449.6 L755.3 448.2 L756.2 446.5 L757.2 444.7 L758.1 442.7 L759.1 440.5 L760.2 438 L761.2 434.8 L762.3 431.1 L763.5 426.7 L764.6 421.9 L765.9 416.6 L767.1 411 L768.4 405.2 L769.8 399.4 L771.2 393.5 L772.6 387.2 L774.1 380.6 L775.6 373.9 L777.2 367.1 L778.8 360.5 L780.5 354.4 L782.3 349.1 L784.1 344.2 L785.9 339.5 L787.9 334.3 L789.8 328.4 L791.9 320.8 L794 311 L796.2 299.2 L798.5 285.7 L800.9 271.4 L803.3 257 L805.8 243.1 L808.4 228.8 L811.1 214.1 L813.8 198.9 L816.7 182.9 L819.6 166.4 L822.7 149.4 L825.9 131.7 L829.1 112.9 L832.5 92.6 L836 70.5" stroke="#741c98" stroke-width="2.5" fill="none" stroke-linejoin="round" clip-path="url(#cp10)"/>
<rect x="708.6" y="91" width="432" height="404" fill="none" stroke="#000" stroke-width="1.5"/>
<path d="M728.2 495v4.8M804.9 495v4.8M881.6 495v4.8M958.4 495v4.8M1035.1 495v4.8M1111.8 495v4.8M708.6 466.1h-4.8M708.6 408.4h-4.8M708.6 350.7h-4.8M708.6 293h-4.8M708.6 235.3h-4.8M708.6 177.6h-4.8M708.6 119.9h-4.8M1140.6 487.2h4.8M1140.6 409.5h4.8M1140.6 331.8h4.8M1140.6 254.2h4.8M1140.6 176.5h4.8M1140.6 98.8h4.8" stroke="#000" stroke-width="1.3" fill="none"/>
<text x="728.2" y="515.6" font-size="13.5" fill="#000" text-anchor="middle" >0</text>
<text x="804.9" y="515.6" font-size="13.5" fill="#000" text-anchor="middle" >20000</text>
<text x="881.6" y="515.6" font-size="13.5" fill="#000" text-anchor="middle" >40000</text>
<text x="958.4" y="515.6" font-size="13.5" fill="#000" text-anchor="middle" >60000</text>
<text x="1035.1" y="515.6" font-size="13.5" fill="#000" text-anchor="middle" >80000</text>
<text x="1111.8" y="515.6" font-size="13.5" fill="#000" text-anchor="middle" >100000</text>
<text x="698.1" y="471" font-size="13.5" fill="#8c564b" text-anchor="end" >−15</text>
<text x="698.1" y="413.3" font-size="13.5" fill="#8c564b" text-anchor="end" >−10</text>
<text x="698.1" y="355.6" font-size="13.5" fill="#8c564b" text-anchor="end" >−5</text>
<text x="698.1" y="297.9" font-size="13.5" fill="#8c564b" text-anchor="end" >0</text>
<text x="698.1" y="240.2" font-size="13.5" fill="#8c564b" text-anchor="end" >5</text>
<text x="698.1" y="182.5" font-size="13.5" fill="#8c564b" text-anchor="end" >10</text>
<text x="698.1" y="124.8" font-size="13.5" fill="#8c564b" text-anchor="end" >15</text>
<text x="1150.9" y="492.1" font-size="13.5" fill="#681c94" text-anchor="start" >0</text>
<text x="1150.9" y="414.4" font-size="13.5" fill="#681c94" text-anchor="start" >20</text>
<text x="1150.9" y="336.7" font-size="13.5" fill="#681c94" text-anchor="start" >40</text>
<text x="1150.9" y="259.1" font-size="13.5" fill="#681c94" text-anchor="start" >60</text>
<text x="1150.9" y="181.4" font-size="13.5" fill="#681c94" text-anchor="start" >80</text>
<text x="1150.9" y="103.7" font-size="13.5" fill="#681c94" text-anchor="start" >100</text>
<text x="924.6" y="81.6" font-size="25.3" fill="#000" text-anchor="middle" >mean of <tspan font-style="italic">q</tspan><tspan font-style="italic" font-size="17.7" dy="7.1">t</tspan><tspan font-style="italic" font-size="17.7" dx="-4.7" dy="-16.5">T</tspan><tspan font-style="italic" dy="9.4" dx="1.2">k</tspan><tspan font-size="17.7" dy="4.5">0</tspan><tspan dy="-4.5"> for base=2608</tspan></text>
<text transform="translate(659.1,293) rotate(-90)" font-size="22.4" fill="#8c564b" text-anchor="middle">Attention score</text>
<text transform="translate(1199.1,294.5) rotate(-90)" font-size="22.4" fill="#681c94" text-anchor="middle">Perplexity</text>
<rect x="728.2" y="584.3" width="392.8" height="404" fill="#fdebcb"/>
<path d="M730.1 740.8l-3 25 0 89 1 1 1 21 2 7 3 3 4-4 4-15 3-4 3 4 3 15 5 10 6-10 3 0 4 5 3-2 7-27 5-8 4 0 3-2 10-31 3-4 2 0 4 6 5 15 3 3 5-2 4 5 7 33 12 33 2 3 2 0 3-7 6-25 7-13 6-17 2-2 2 0 3 3 3-1 8-30 3-2 3 5 4 2 5-13 3-3 3 2 4 7 4 0 2 2 1 4 6 78 2 13 2 3 4-16 9-74 2-8 3-3 3 3 6 13 8 8 9 47 4 7 3-1 4 4 7 30 2-1 2-6 5-41 11-57 4-8 2 0 3 3 5 15 6 6 2 4 8 53 3 6 7-2 3 3 3 0 4-11 5-30 4-8 2 0 9 11 3 2 6 1 6 6 2 5 3 3 2 0 5-8 6-4 2-3 3-27 0-89-3-25-2-3-3 0-6 9-4 2-9-13-8-2-12-13-2 0-3 5-6 33-3 9-3 2-5-4-5 3-3-3-2-8-7-48-3-6-5-4-5-15-4-4-3 3-4 14-10 54-4 35-3 7-3-4-5-25-3-4-3 1-2-1-3-6-7-40-3-9-9-9-4-10-3-3-3 3-3 12-9 75-3 7-1-1-2-9-3-49-4-33-2-5-5 1-6-9-3 1-4 12-3 3-3-2-3-5-2 0-3 7-5 23-3 3-5-4-2 1-6 17-9 18-4 19-5 10-4-5-4-14-7-17-8-35-2-3-7 1-2-2-5-15-4-6-2 0-3 4-9 29-4 4-4 0-4 6-5 21-5 10-7-6-4 7-4 3-4-9-4-18-3-1-7 21-2 2-3-1z" fill="url(#po0)" fill-rule="evenodd"/><path d="M730.1 749.8l-2 15 0 28-1 1 0 34 1 1 1 38 3 10 4 1 3-6 3-13 3-4 3 4 4 18 3 7 3-2 2-5 3-3 6 5 2 0 4-10 5-21 5-6 4 0 5-8 6-22 5-7 5 6 5 15 3 3 6-1 2 2 8 35 14 36 2 0 2-4 6-25 9-18 5-15 2-2 2 0 3 3 3-1 8-30 2-2 7 8 9-17 4 4 1 3 3 3 3-1 3 5 4 38 2 39 2 14 2 4 4-17 9-74 2-7 2-2 3 1 5 11 8 8 3 6 8 44 2 5 2 2 4 0 4 6 4 22 3 6 4-14 3-29 10-55 3-11 3-5 4 2 7 18 5 4 2 4 8 53 3 6 7-2 4 4 3-2 4-15 4-25 2-5 3-3 12 13 8 2 4 4 5 9 2 1 2-1 5-9 6-4 3-18 1-64-1-1 0-27-3-17-2-2-3 1-5 9-3 2-3-2-4-8-4-4-8-2-12-13-4 6-6 33-3 9-2 2-5-4-7 2-3-5-8-53-2-5-5-4-5-14-4-6-3 1-4 12-11 59-3 29-2 9-2 3-3-4-5-25-3-4-4 0-4-6-9-47-2-4-7-6-7-14-3 1-3 9-10 80-3 8-2-2-8-91-2-5-4 1-4-4-2-5-2-1-9 17-7-8-2 2-7 29-2 2-2 0-3-3-4 2-6 18-7 13-5 22-4 9-4-2-5-16-4-8-4-12-3-18-4-14-2-3-6 1-4-4-4-13-3-6-2-1-4 5-9 29-3 3-3 0-5 4-9 32-3 1-6-5-7 10-3-3-4-18-4-8-3 5-4 15-3 3-3 0z" fill="url(#po1)" fill-rule="evenodd"/><path d="M730.1 757.8l-1 20-1 1 0 64 1 1 1 20 2 6 4 1 6-19 3-4 3 4 4 18 3 7 3-2 2-5 3-3 6 5 2 0 4-10 4-19 5-7 5-1 2-2 5-13 5-18 4-4 5 6 5 15 3 3 6-1 3 4 7 33 14 36 2 0 2-4 7-28 7-13 6-17 2-2 2 0 3 3 3-1 8-30 2-2 7 8 3-4 3-10 3-3 8 10 3-1 3 4 4 36 2 39 3 20 2-1 3-16 8-68 3-12 2-2 3 1 5 11 8 8 3 6 8 44 4 7 4 0 3 3 7 30 2-1 2-7 4-35 11-59 5-11 4 2 7 18 5 4 2 4 3 14 3 28 3 14 3 4 4-3 2 0 4 4 3-2 8-40 2-5 3-3 12 13 8 2 4 4 5 9 2 1 2-1 5-9 6-4 1-3 1-21 1-1 0-64-3-24-2-2-3 1-3 6-5 5-3-2-4-8-4-4-8-2-12-13-4 6-5 29-4 13-2 2-5-4-7 2-2-2-3-12-4-34-3-13-6-6-6-16-3-4-2 0-2 3-4 15-9 49-4 35-2 9-2 2-3-4-6-27-2-2-4 0-3-3-2-6-5-32-4-14-8-8-7-14-3 1-3 10-10 80-3 7-2-2-8-90-2-6-4 1-4-4-2-5-2-1-9 17-7-8-3 5-6 26-2 2-2 0-3-3-3 1-6 17-7 13-6 24-4 9-4-2-5-16-4-8-4-12-7-32-2-3-6 1-4-4-4-13-3-6-2-1-4 5-9 29-3 3-6 1-2 3-9 32-3 1-6-5-7 10-4-5-3-16-4-8-7 20-3 3-3 0z" fill="url(#po2)" fill-rule="evenodd"/><path d="M730.1 764.8l-1 83 3 15 2 2 3-2 4-15 2-4 3-2 3 6 5 21 3 1 5-9 3 0 5 5 3-4 7-28 4-5 4 0 3-2 11-33 4-2 5 8 5 14 2 2 5-2 4 5 7 32 14 37 3-2 8-30 6-11 6-18 3-3 7 3 3-7 5-23 4-3 3 5 4 2 4-11 4-5 3 2 4 7 4-1 3 4 4 33 3 50 3 13 6-33 6-53 3-12 2-2 4 3 5 11 9 10 5 20 4 26 2 6 2 2 5 0 3 5 3 17 4 11 3-9 5-42 9-47 3-11 3-4 2 0 3 3 6 16 7 8 3 14 4 33 4 13 7-2 3 3 3 0 3-8 6-34 4-7 2 0 10 12 9 3 5 5 5 8 2 0 5-8 6-4 2-6 1-83-1-9-2-5-3 0-5 8-3 3-2 0-9-13-9-3-11-12-2 0-5 14-3 21-3 11-3 3-6-4-5 3-3-3-2-6-7-49-3-7-5-4-7-18-2-1-3 4-3 10-10 54-4 35-4 11-3-4-5-25-3-5-3 1-3-2-3-7-8-44-2-4-8-8-7-13-2 1-3 11-10 80-3 7-2-1-3-23-1-27-4-41-3-7-4 1-6-9-2 0-4 11-4 5-3-2-3-5-2 0-8 30-3 3-5-4-2 1-5 15-9 18-7 28-3 3-4-5-12-33-6-30-3-6-7 1-2-2-6-17-3-4-2 0-3 5-9 28-4 4-4 0-4 6-7 28-3 3-7-6-4 7-4 3-4-8-5-20-2 0-7 21-2 2-2-1z" fill="url(#po3)" fill-rule="evenodd"/><path d="M730.1 773.8l-1 60 1 1 0 13 3 10 3 0 6-19 2-3 2 0 3 5 4 19 2 4 3-2 2-5 3-3 7 6 4-8 5-22 5-7 3 0 4-3 8-26 3-6 4-2 5 7 6 16 7-1 3 4 8 36 8 19 3 11 3 4 3-5 7-28 7-13 6-17 2-2 6 4 2-2 8-30 3-1 6 7 8-16 2 0 7 9 4-1 3 7 3 26 3 51 3 15 4-19 8-68 2-8 3-4 5 4 4 10 7 6 3 6 9 47 2 4 5 0 3 3 7 30 2-1 2-9 4-35 12-61 5-7 3 2 7 18 5 4 3 7 6 43 3 12 2 2 4-3 6 4 2-1 3-8 5-30 5-10 2 0 11 12 9 3 9 13 2 0 4-7 7-6 2-7 1-61-1-1 0-13-2-7-3-1-5 8-3 3-2 0-10-13-9-3-11-12-4 7-5 29-4 12-2 2-5-4-7 2-2-2-3-11-6-44-2-6-5-4-6-16-3-4-3 1-4 13-9 48-5 41-2 8-2 2-3-3-6-28-2-2-4 0-3-3-2-6-9-46-8-8-8-15-3 4-3 16-9 73-3 7-2-1-3-20 0-13-1-1 0-13-1-1-3-42-3-9-4 1-6-9-3 2-2 7-4 7-2 0-5-7-2 1-8 30-2 2-2 0-3-3-4 2-5 16-7 13-7 28-3 5-2 0-3-4-4-14-6-13-9-39-3-4-5 2-4-4-4-13-4-7-2 0-3 5-4 16-5 13-3 3-6 1-2 3-8 30-4 3-6-5-7 10-4-5-4-19-3-5-2 3-4 15-4 5-3 0z" fill="url(#po4)" fill-rule="evenodd"/><path d="M731.1 776.8l-1 60 1 9 2 5 3 0 3-7 2-10 4-6 3 3 7 26 3-2 2-5 3-3 5 5 3 0 8-29 5-7 3 0 4-3 9-29 4-5 2 0 5 7 2 8 4 8 7-1 3 4 7 32 14 37 2 0 9-32 7-13 6-17 2-2 6 4 2-2 6-26 2-4 3-1 6 7 8-16 2 0 7 9 4-1 3 6 4 35 2 40 3 17 5-27 6-54 3-13 3-4 3 1 7 14 8 8 5 19 4 27 2 6 2 2 4 0 3 3 6 27 2 3 2-5 4-35 11-59 3-10 4-4 5 5 5 15 6 5 2 5 7 49 2 7 2 2 4-3 6 4 2-1 3-9 6-33 4-6 2 0 11 12 9 3 9 13 3-1 3-6 7-6 1-3 1-61-2-11-3-1-4 7-4 4-2 0-10-13-9-3-11-12-4 7-6 34-3 7-2 2-5-4-7 2-3-4-2-8-7-48-2-4-6-6-4-13-3-4-2 0-5 15-9 48-4 36-2 10-3 4-2-1-2-5-5-25-2-2-4 0-3-3-2-5-5-31-4-16-8-8-8-15-2 2-3 13-11 83-2 2-2-1-3-17-2-39-4-38-2-4-4 0-3-3-3-6-3 2-3 10-3 4-2 0-6-7-1 1-8 30-2 2-2 0-3-3-3 1-6 17-7 13-6 25-4 8-2 0-3-4-6-19-4-8-9-39-3-4-5 2-4-4-4-13-4-7-4 3-10 31-3 3-6 1-3 6-4 19-4 10-3 1-6-5-7 10-4-5-4-18-3-6-7 20-3 3-2 0z" fill="url(#po5)" fill-rule="evenodd"/><path d="M731.1 792.8l1 44 2 3 3-2 5-18 4-3 4 8 4 19 2 2 3-6 4-4 6 5 3-2 7-28 4-6 6-1 2-2 8-27 6-8 2 1 3 4 6 17 2 2 6-1 4 6 7 33 8 19 3 11 3 4 3-5 6-25 7-13 6-18 3-3 7 3 2-4 6-26 3-3 7 8 6-14 4-3 7 10 3-2 3 3 2 7 4 34 2 44 2 10 4-21 7-61 4-14 4-1 8 15 7 6 2 4 9 46 2 5 5 1 4 5 6 27 3-6 4-35 13-65 4-6 2 0 3 3 7 18 6 6 5 23 3 27 3 10 7-2 4 4 2-1 3-10 5-29 2-6 4-4 4 3 8 10 8 2 11 14 7-10 4-3 2-8-1-44-2-2-4 4-3 6-3 2-3-2-8-12-8-2-12-13-4 8-4 25-4 14-4 3-4-4-6 3-3-3-4-14-6-43-2-5-5-4-7-18-2-1-3 4-3 12 0 5-9 44-4 36-3 11-2 2-3-3-7-30-6-1-4-7-9-47-2-4-7-6-6-13-2 0-2 5-11 85-2 8-3 2-2-2-3-17-1-30-1-1 0-14-3-30-2-6-3 1-8-10-6 14-3 3-3-2-3-5-2 0-6 26-4 6-2 0-3-3-3 1-5 15-7 13-7 28-4 7-2 0-4-6-4-14-6-13-8-36-2-4-7 1-2-2-6-17-4-5-4 6-4 16-5 12-3 3-4 0-4 5-8 30-4 2-6-5-4 7-4 3-3-4-5-22-2-2-2 3-4 15-3 4-4 2z" fill="url(#po6)" fill-rule="evenodd"/><path d="M728 871h0m0 21h0m1 3h0m1 7h0m1-165h0m2 184h0m1-273h0m0 258h0m2-253h0m0 84h0m1-3h0m0 152h0m1-176h0m0 19h0m1-6h0m1 237h0m1-249h0m3 163h0m0 32h0m1-196h0m2-93h0m0 98h0m1 169h0m1 47h0m1-342h0m1 298h0m0 37h0m1-234h0m1 221h0m0 12h0m2-27h0m1-157h0m1-59h0m0 214h0m0 2h0m1-159h0m0 171h0m1-174h0m3-5h0m0 161h0m1 7h0m0 16h0m3-6h0m1-258h0m0 31h0m0 45h0m0 9h0m0 170h0m1-226h0m4 45h0m0 245h0m1-338h0m0 46h0m0 211h0m1 0h0m3-198h0m0 185h0m1-167h0m0 2h0m0 165h0m2 104h0m1-97h0m1-227h0m1 13h0m0 196h0m1-205h0m0 197h0m1 21h0m1 61h0m1-48h0m2-226h0m0 201h0m0 14h0m1 63h0m1-254h0m1 172h0m1-198h0m0 12h0m0 200h0m1-213h0m1 184h0m0 115h0m1-113h0m0 96h0m1-336h0m1 60h0m0 7h0m1-44h0m0 202h0m1-173h0m1 166h0m0 62h0m3-231h0m0 8h0m1-55h0m0 238h0m1-24h0m0 16h0m1-182h0m1 329h0m1-331h0m1-9h0m2 26h0m0 240h0m1-258h0m1 283h0m1-346h0m1 318h0m1-231h0m0 184h0m2-205h0m0 216h0m0 25h0m2-37h0m1-189h0m0 166h0m1 5h0m0 114h0m1-285h0m1-4h0m1 13h0m0 3h0m0 160h0m1-162h0m2-86h0m1 263h0m0 4h0m0 13h0m1-226h0m0 272h0m4-220h0m0 190h0m1 3h0m0 55h0m1-279h0m2 61h0m1 182h0m1-186h0m2 179h0m1-2h0m0 48h0m1-9h0m1-226h0m0 29h0m0 164h0m1-171h0m0 190h0m0 12h0m2-228h0m0 40h0m1-12h0m1 8h0m0 180h0m1-176h0m0 174h0m1-323h0m0 321h0m1-288h0m0 72h0m0 245h0m2-220h0m0 3h0m0 161h0m0 43h0m1-315h0m0 13h0m0 47h0m2 42h0m0 161h0m1 2h0m0 45h0m0 34h0m1-349h0m0 7h0m1 94h0m0 211h0m1-336h0m1 275h0m2 80h0m1-89h0m1-164h0m1-33h0m1 30h0m0 3h0m1-1h0m0 161h0m0 5h0m1-223h0m0 210h0m2-261h0m1 86h0m0 177h0m3-180h0m1-80h0m0 265h0m1-206h0m1 9h0m1-20h0m0 4h0m0 294h0m3-73h0m3-202h0m0 1h0m2 186h0m1-254h0m0 59h0m0 1h0m2 7h0m0 320h0m1-319h0m1-8h0m2-2h0m0 178h0m0 47h0m3-236h0m0 27h0m0 198h0m0 116h0m1-321h0m1-3h0m1 163h0m2-213h0m0 36h0m0 313h0m2-312h0m1 169h0m0 144h0m3-314h0m2 17h0m1-12h0m3 177h0m1-223h0m1 33h0m0 10h0m2 223h0m1-262h0m0 300h0m1-64h0m0 17h0m1 2h0m0 107h0m1-61h0m0 66h0m1-66h0m1-321h0m2 81h0m2 89h0m0 158h0m2 4h0m0 19h0m0 24h0m1-325h0m0 341h0m2-289h0m1 216h0m2-294h0m0 305h0m1-329h0m0 304h0m3-213h0m2 170h0m1-185h0m0 163h0m1-162h0m0 182h0m0 4h0m1-188h0m0 191h0m2-19h0m1-17h0m1 0h0m0 25h0m1-178h0m1 0h0m1 166h0m0 43h0m2-255h0m2 219h0m0 36h0m1-42h0m0 6h0m0 50h0m1-54h0m1 57h0m3-49h0m2 12h0m0 10h0m1 73h0m2-77h0m4 26h0m1-203h0m1 28h0m1 188h0m1-168h0m1 161h0m1-215h0m1 217h0m1-156h0m0 3h0m0 155h0m0 2h0m1-204h0m0 8h0m0 197h0m1-202h0m0 4h0m0 221h0m1-183h0m1-18h0m1-3h0m1 182h0m0 36h0m1-18h0m2-173h0m1 8h0m0 199h0m0 2h0m1-184h0m1-5h0m0 169h0m0 3h0m2-209h0m1-18h0m7-5h0m0 179h0m0 59h0m1-267h0m5-1h0m0 5h0m2-11h0m0 165h0m1 77h0m2-80h0m1 19h0m1-34h0m10-144h0m0 278h0m1-86h0m2-193h0m2 307h0m4-80h0m1-226h0m0 182h0m1-161h0m4-15h0m1 241h0m1-190h0m3-27h0m0 211h0m1-230h0m0 64h0m2 153h0m2-155h0m0 164h0m1-176h0m2 13h0m0 152h0m0 9h0m2-227h0m0 225h0m1-5h0m0 33h0m1-222h0m0 193h0m2-195h0m0 250h0m1-57h0m1-2h0m0 41h0m2-229h0m2 175h0m1-11h0m3-175h0m1 162h0m0 81h0m2-258h0m0 266h0m1-259h0m1 163h0m0 83h0m0 25h0m1-288h0m0 180h0m1 9h0m1-192h0m0 28h0m0 155h0m0 114h0m1-109h0m0 38h0m0 85h0m1-298h0m1 17h0m4 160h0m1-189h0m0 12h0m0 261h0m1-263h0m0 15h0m0 269h0m2-88h0m1-175h0m1 218h0m1-58h0m1 4h0m1-155h0m2 155h0m0 112h0m1-97h0m0 34h0m1-43h0m0 8h0m0 1h0m0 26h0m1 41h0m1-71h0m1-187h0m0 185h0m0 55h0m0 34h0m1-269h0m0 198h0m0 72h0m1-261h0m0 20h0m1 246h0m1-298h0m0 33h0m0 13h0m0 163h0m0 6h0m0 62h0m1-65h0m1-201h0m0 207h0m0 1h0m1 22h0m2-244h0m2 232h0m1-29h0m0 39h0m1-198h0m1 1h0m0 214h0m1-60h0m0 81h0m1-66h0m1 5h0m0 20h0" stroke="#a8561a" stroke-width="2.7" stroke-linecap="round"/><path d="M1120.1 727.8l-1-1-2 1-7 16-6 5-5-3-12-22-4-4-4 0-4 4-4 8-10 26-6 7-5 2-5-7-18-80-2-4-2-1-9 18-14 68-1 10-2 8-4 4-4-5-10-23-16-56-6-11-4-4-3-1-3 4-3 11-9 70-2 9-2 1-2-7-6-83-3-12-3-2-27 19-10 10-5 10-5 15-17 35-4 4-4 0-6-8-9-34-8-24-6-12-3-3-2 0-16 16-6 4-3 6-8 27-5 9-6 6-3 1-4-1-12-12-6-1-6 5-6 10-3 17 0 22-1 1 0 40 1 1 0 20 2 12 2 2 11-12 4 0 12 12 4 2 3 0 5-3 7-10 11-34 3-4 7-4 14-14 4 3 7 15 15 53 4 8 5 3 8-8 26-58 12-11 22-16 4 1 2 6 6 84 2 14 2 4 3-6 11-81 2-9 3-4 6 3 6 10 15 53 7 18 6 12 3 3 3-1 3-9 15-79 4-11 5-7 2 1 2 5 16 72 3 9 3 4 5-1 6-6 5-10 7-20 7-10 4 0 4 4 11 21 6 4 6-5 8-17 3-13 1-32 1-1 0-40-1-1 0-20z" fill="url(#pr0)" fill-rule="evenodd"/><path d="M1120.1 733.8l-2-2-8 17-4 4-3 1-7-7-9-18-4-4-4 0-7 10-6 18-6 12-6 6-5 1-3-4-3-9-16-73-2-5-3 0-8 18-15 78-3 9-3 2-3-3-7-14-6-16-15-53-6-10-3-3-4 0-3 6-3 16-8 64-2 9-2 1-2-5-6-84-2-12-3-5-5 2-19 14-13 12-26 58-8 8-4-2-5-9-15-53-7-15-4-3-13 13-10 7-5 12-6 22-4 7-9 8-5-1-14-13-4 0-3 2-8 11-3 13 0 12-1 1 0 61 2 17 1 2 2 0 8-10 6-1 14 13 3 1 4-1 6-6 6-11 4-16 6-15 11-8 12-12 6 6 7 17 14 50 4 7 6 1 4-4 7-14 20-46 10-10 27-19 3 3 2 9 5 75 3 21 2 1 2-6 11-82 2-8 4-4 6 5 6 11 9 35 10 29 9 18 4 2 4-11 14-75 8-20 3-1 2 2 18 79 4 9 4 1 9-9 10-26 4-8 4-4 4 0 4 4 8 16 6 8 5 0 4-4 5-10 5-16 1-20 1-1 0-60z" fill="url(#pr1)" fill-rule="evenodd"/><path d="M1119.1 736.8l-2 1-6 14-6 6-2 0-7-7-10-19-3-3-4 0-6 8-11 29-8 9-5 1-5-9-16-73-3-8-3-1-7 15-3 11-14 75-2 5-3 1-3-3-11-24-7-21-10-38-6-10-4-3-3 0-3 7-12 86-1 3-2 1-2-4-7-92-3-10-2-1-11 7-25 21-26 58-8 8-5-3-4-8-11-41-7-19-5-9-5-1-12 13-7 4-3 4-10 32-4 7-7 7-5 1-4-2-12-12-4 0-3 2-6 8-3 7-2 12 0 72 1 7 3 3 8-10 7-1 13 13 3 1 4-1 6-6 5-9 6-22 5-11 7-5 15-15 2 0 4 4 7 16 16 55 5 6 4 0 5-6 26-58 10-10 26-19 2 0 2 2 2 8 6 85 3 14 2-3 11-81 3-12 3-4 3 1 4 4 5 8 5 15 6 26 8 23 10 21 4 2 4-12 15-78 7-16 3-1 3 4 16 73 4 11 3 3 2 0 9-9 9-24 5-10 4-4 4 0 5 5 9 18 5 5 4 0 8-12 4-10 3-18 0-72z" fill="url(#pr2)" fill-rule="evenodd"/><path d="M729.1 775.8l-1 65 1 1 0 11 2 4 12-11 5 1 10 11 4 2 3 0 5-3 8-13 6-22 4-9 6-6 4-2 12-13 4 0 4 5 6 14 14 50 3 7 5 5 3-1 4-4 16-33 11-27 8-8 27-20 3 0 3 4 2 11 5 76 3 17 4-14 10-76 2-6 3-3 6 3 7 12 15 53 7 18 8 13 2 0 4-12 14-75 4-11 6-9 4 4 16 73 6 14 5-1 6-6 15-36 4-4 3 0 5 4 11 21 3 3 4 1 5-5 5-10 5-19 1-65-2-14-2 1-7 15-4 4-4 0-6-6-9-18-4-4-4 0-4 4-3 6-4 13-8 17-5 5-5 2-4-4-4-12-13-61-5-15-3 2-8 21-16 82-3 3-4-3-12-27-16-56-5-9-6-5-3 2-3 11-11 81-2 4-2-1-3-19-5-74-2-10-2-3-2 0-26 19-10 10-25 57-6 7-4 0-4-4-3-6-14-50-8-18-3-3-2 0-15 15-7 5-11 34-4 7-7 7-3 1-4-1-13-13-5 0-5 4-5 7z" fill="url(#pr3)" fill-rule="evenodd"/><path d="M730.1 774.8l-1 7 0 65 2 6 9-9 7-1 14 13 7-1 9-12 11-34 8-6 13-14 4-1 4 4 5 10 6 17 11 41 6 9 5-1 5-7 6-15 9-17 9-23 12-12 20-15 7-3 3 4 2 9 5 74 3 20 2-3 11-81 3-11 3-3 2 0 6 6 5 9 16 56 5 13 9 16 2-1 3-8 15-79 4-11 6-9 4 4 18 80 2 5 3 3 6-3 4-5 14-34 7-6 7 6 9 18 5 5 4 0 6-8 5-12 3-16 0-64-1-5-2 1-8 16-6 3-8-8-9-18-4-3-4 1-6 10-11 28-7 7-5 1-5-8-15-68-3-12-2-3-3 2-6 14-17 86-4 6-6-7-10-23-16-56-4-8-6-6-4 2-2 7-11 81-2 7-2 2-1-1-3-17-5-76-2-11-2-3-3 0-33 26-28 61-6 6-4-1-6-9-15-53-6-14-4-4-3 0-13 14-8 6-10 31-4 8-6 7-3 2-5 0-15-14-3 0-8 7z" fill="url(#pr4)" fill-rule="evenodd"/><path d="M730.1 779.8l-1 57 1 10 2 3 7-9 3-2 4 0 16 14 5-1 6-6 4-7 10-32 4-5 8-5 13-13 5 4 4 8 7 19 11 41 3 6 5 4 7-7 26-58 14-13 16-12 8-4 4 7 2 13 5 75 2 12 2-4 11-81 3-10 2-2 4 0 4 4 6 10 16 56 5 13 9 16 3-2 17-86 5-13 4-6 2 0 4 6 17 77 4 8 5-1 7-8 11-29 7-9 4 0 5 5 9 18 4 5 3 1 7-7 5-11 3-12 0-13 1-1-1-53-1-1-2 2-5 12-7 6-6-4-12-22-3-3-4 0-3 3-4 8-10 26-7 8-3 2-3 0-6-11-8-39-6-21-1-9-4-11-2 0-7 16-14 69 0 5-3 12-3 5-2 0-3-3-5-9-13-35-10-38-6-11-5-4-2 1-3 9-11 82-2 6-2 2-1-1-3-13-5-77-2-14-2-4-5 2-19 14-13 12-20 46-7 14-5 5-6-1-4-6-16-55-6-14-5-5-13 13-9 6-3 6-8 27-5 9-7 7-3 1-4-1-12-12-6-1-4 3-5 7z" fill="url(#pr5)" fill-rule="evenodd"/><path d="M731.1 781.8l-1 56 2 6 8-9 6-1 16 14 5-1 6-6 5-10 4-16 6-15 4-4 3-1 16-16 2 0 6 7 8 20 13 47 5 7 4 0 6-8 24-55 11-11 17-13 11-6 3 3 3 13 5 73 1 1 0 10 1 5 1 0 11-79 3-12 5-5 7 6 6 11 9 35 8 24 12 24 2-1 2-5 15-79 4-12 4-8 3-3 3 2 3 8 16 73 5 9 5-2 5-6 6-13 4-13 4-8 5-5 4 0 5 5 12 22 4 2 5-4 6-12 4-20 0-46-1-5-7 13-5 5-3 1-6-5-9-18-5-6-4 0-4 5-14 34-9 8-3 0-2-2-5-12-7-35-6-21-3-17-2-4-3 2-6 15-15 79-3 9-2 2-2 0-4-4-6-12-10-27-11-42-4-8-5-6-3 0-3 6-11 81-3 11-2 2-2-2-3-18-5-77-2-11-2-2-24 17-11 10-25 56-3 5-7 6-6-4-3-6-16-55-7-15-3-2-23 21-11 34-8 11-5 3-3 0-4-2-10-11-6-1-7 7z" fill="url(#pr6)" fill-rule="evenodd"/><path d="M729 748h0m1 123h0m1 1h0m1-121h0m1-34h0m0 155h0m0 17h0m1-197h0m1 48h0m0 5h0m0 145h0m0 2h0m1-153h0m0 136h0m3-142h0m1 8h0m1 126h0m1-4h0m3-131h0m0 136h0m0 2h0m5-133h0m3-112h0m1 253h0m2-159h0m1 262h0m1-94h0m1-141h0m0 203h0m2 5h0m1-202h0m0 177h0m1-184h0m1-50h0m2-25h0m3-62h0m2 322h0m10-213h0m4 161h0m2-206h0m1-4h0m1 30h0m0 134h0m1-129h0m6 126h0m0 70h0m1-202h0m0 129h0m7-148h0m2 197h0m1-197h0m3-42h0m0 47h0m1-6h0m1 188h0m1-185h0m5 10h0m3 218h0m3-210h0m2 9h0m0 136h0m0 2h0m2-128h0m0 125h0m4 22h0m3 6h0m1-125h0m1-28h0m0 162h0m1 7h0m3-168h0m3 170h0m6-123h0m1-31h0m3 27h0m1 175h0m1-205h0m2 9h0m1 132h0m2 16h0m1 2h0m0 51h0m3-210h0m1 223h0m2-264h0m0 163h0m2-159h0m1 180h0m5-166h0m2-36h0m0 34h0m1-5h0m2-3h0m0 237h0m1-115h0m2-186h0m0 246h0m1-190h0m4-91h0m0 94h0m0 125h0m0 6h0m1-11h0m3-123h0m1 128h0m1-156h0m0 25h0m2 128h0m0 29h0m3-163h0m0 181h0m2-43h0m1-14h0m1-127h0m2-87h0m0 213h0m1-149h0m1 262h0m2-242h0m0 188h0m7-194h0m3-36h0m1 41h0m1 0h0m0 3h0m6 69h0m2 207h0m4-19h0m2-40h0m2 9h0m6-220h0m0 169h0m1-24h0m4-145h0m2 123h0m1 6h0m1-133h0m1 125h0m3-121h0m0 124h0m2-128h0m5 7h0m3 150h0m2-124h0m1 9h0m1-5h0m3 152h0m7 31h0m1-13h0m0 1h0m6-176h0m1 27h0m1 36h0m1-18h0m0 143h0m0 41h0m2-21h0m4-150h0m2-56h0m1 13h0m0 26h0m1-2h0m2-15h0m4-50h0m1-9h0m4 23h0m2 146h0m1-168h0m1 7h0m0 178h0m3-61h0m4 0h0m1-5h0m2 29h0m0 107h0m1-256h0m3 141h0m6-130h0m0 24h0m2 266h0m1-248h0m0 129h0m2-120h0m1-5h0m2-24h0m0 10h0m2 14h0m5 225h0m1-71h0m0 1h0m0 76h0m3-201h0m1-6h0m3-4h0m0 130h0m0 2h0m0 5h0m1-137h0m1-6h0m1 4h0m1-13h0m0 138h0m1-178h0m3 166h0m1 11h0m3-21h0m4-7h0m0 90h0m1-234h0m4 159h0m3 16h0m1-172h0m1 138h0m4 21h0m2-166h0m1-1h0m0 21h0m3 142h0m0 3h0m2-1h0m1-120h0m0 206h0m1-207h0m1 160h0m3-177h0m2 5h0m1 184h0m2-172h0m1-2h0m0 196h0m1-68h0m5-157h0m0 189h0m2-53h0" stroke="#c0101e" stroke-width="2.7" stroke-linecap="round"/><path d="M728.1 744.8l-1 64 3 21 6 11 2-1 3-9 4-6 3 2 3 12 3 5 2 0 4-11 3-3 3 1 2 5 3 3 3-3 3-7 4-2 7 17 3 2 4-7 3-10 5-7 3 2 2 4 4 15 3 5 2 0 5-14 5-7 6 5 7-2 3 3 6 12 3-2 7-13 6 1 6-4 4 5 3 11 3 5 2-1 2-4 3-13 3-4 3 2 5 10 4-3 2-5 3-1 8 14 2 0 5-11 3-3 9 8 9-5 5 0 8 8 3 0 4-8 5-4 6 12 3 1 8-16 4 6 2 9 3 5 3-1 7-14 12-1 4 7 3 10 3 1 3-6 3-13 3-4 2 1 6 13 2 0 5-5 2 0 7 10 3-2 3-10 4-7 4 2 6 14 3 3 3 0 7-11 4-4 3 1 4 4 7-1 4 4 3 6 3-6 1-63-2-18-4-13-3-5-2-1-7 1-5-5-4 1-7 12-5 2-3-3-6-14-4-2-2 2-5 14-3 3-8-11-7 6-3-3-3-9-3-3-2 2-4 16-4 6-9-18-12 1-6 12-3 3-4-5-1-6-4-9-2 0-4 11-4 5-3-3-5-10-3 1-2 5-5 6-2 0-8-8-6 0-8 5-9-8-2 1-4 10-3 3-3-2-6-13-3 2-2 5-4 3-6-12-2-1-2 2-4 16-3 4-3-2-4-13-3-5-2 0-5 4-6-1-9 15-4-4-3-8-3-3-7 2-4-4-3-1-4 7-2 8-4 6-4-5-4-15-4-6-4 3-4 12-6 9-10-20-2 1-6 11-2 0-4-7-3-2-8 15-3-3-4-14-3-3-2 2-4 12-3 3-5-7z" fill="url(#pb0)" fill-rule="evenodd"/><path d="M729.1 748.8l-1 60 2 13 6 12 2-1 3-9 4-6 3 2 6 17 3-2 5-12 3 0 6 9 3-3 2-6 3-3 2 0 7 17 3 2 4-7 3-10 5-7 3 2 9 24 2 0 5-14 5-7 6 5 7-2 3 3 6 12 3-2 7-13 6 1 6-4 5 7 2 9 3 5 3-3 4-15 3-4 3 2 5 10 3-2 3-6 3-1 3 3 2 7 3 4 2 0 5-11 3-3 9 8 9-5 5 0 8 8 3 0 4-8 5-4 6 12 3 1 5-13 3-3 3 3 6 17 2 0 8-15 12-1 8 18 2 0 6-19 3-4 3 2 5 12 2 0 5-5 2 0 7 10 2-1 5-14 3-4 4 2 6 14 3 3 3 0 7-11 4-4 9 6 5-2 4 4 3 6 2-3 1-59-2-14-6-15-2-1-7 1-5-5-4 1-7 12-5 2-5-6-4-11-4-2-4 7-2 8-4 4-8-11-7 6-3-3-6-12-3 5-4 16-3 3-3-3-5-14-3-2-4 2-6 0-6 12-4 3-3-5-2-9-3-6-2 0-4 11-4 5-3-3-5-10-3 1-3 7-4 4-2 0-8-8-6 0-8 5-8-8-2 0-5 11-3 3-3-2-6-13-3 2-2 5-4 3-6-12-2-1-3 5-2 10-4 8-4-5-3-11-3-5-2 0-5 4-6-1-9 15-4-4-3-8-3-3-7 2-5-5-2 0-5 10-2 8-3 3-4-5-4-15-4-6-4 3-6 17-4 4-10-20-2 1-6 11-2 0-4-7-3-2-8 15-2-1-2-4-1-6-4-9-2 1-3 9-5 7-5-7z" fill="url(#pb1)" fill-rule="evenodd"/><path d="M729.1 756.8l-1 39 1 1 0 13 3 12 3 6 2 0 6-14 3-2 2 2 4 14 3 4 5-12 3-3 4 3 3 6 2 0 5-10 3-2 4 5 5 14 2 0 2-2 5-15 4-6 2 0 3 3 8 22 3-1 4-13 4-6 2 0 6 5 7-2 8 14 2 0 5-11 4-4 6 1 6-3 4 6 2 9 3 5 3-3 4-15 3-4 3 2 5 10 2 0 3-6 4-3 8 15 3-2 6-12 3 0 6 7 3 0 8-5 3 0 8 8 3 1 9-13 4 4 5 10 3-4 4-11 3-1 3 5 3 11 3 4 6-12 4-4 10-1 3 3 4 12 3 4 3-4 4-16 3-4 2 1 7 14 6-6 2 0 6 10 4-2 3-10 5-7 4 4 4 11 5 5 5-4 4-8 3-3 3 0 6 5 7-1 6 9 2-5 0-11 1-1-1-40-2-11-4-10-2-2-7 1-6-5-3 0-6 10-6 5-4-3-6-14-3-3-3 3-3 10-4 6-3-1-5-9-2 0-6 6-3-3-4-11-2-1-2 2-5 19-3 3-10-19-10 1-3 3-4 10-3 3-4-5-2-9-3-6-3 1-3 10-4 5-3-3-3-8-3-3-9 13-3-1-8-8-3 0-8 5-3 0-6-7-3 0-8 14-3-2-4-11-2-2-2 0-4 8-3 1-3-3-3-8-2-1-2 2-4 16-3 4-3-2-4-13-3-5-6 3-6-1-3 3-6 12-2 0-3-3-5-11-4 0-3 2-6-5-2 0-4 7-4 12-3 1-3-4-4-15-4-6-3 1-5 14-5 8-3-1-5-14-3-4-3 2-5 10-9-9-3 4-3 9-3 1-3-4-3-12-3-3-2 2-4 12-4 2-4-6z" fill="url(#pb2)" fill-rule="evenodd"/><path d="M729.1 764.8l0 36 3 16 2 4 3 2 5-13 4-3 3 4 2 9 3 6 2 0 6-14 2 0 7 9 3-3 2-6 3-3 2 0 7 17 3 2 4-7 2-8 5-8 4 1 9 24 2 0 6-17 3-3 2 0 4 4 9-1 8 14 3-2 4-9 4-4 6 1 3-3 3 0 4 6 5 14 3-3 4-16 3-3 3 2 5 10 2 0 4-8 3-1 3 3 3 9 4 2 5-11 3-3 8 8 3 0 7-5 4 0 10 9 3-2 3-7 4-4 4 4 3 8 3 1 5-13 3-3 3 3 6 17 2 0 5-11 4-4 10-1 3 3 6 15 2 0 2-4 4-16 3-3 3 2 5 12 2 0 5-5 2 0 7 10 2-1 5-14 3-4 4 2 6 14 3 3 3 0 7-11 5-4 7 6 7-1 3 3 2 5 2-1 1-6-1-44-7-18-7 1-6-5-3 0-6 10-6 5-6-6-7-14-4 6-3 10-3 3-3-1-5-9-2 0-6 6-3-3-6-12-4 9-2 10-4 5-3-3-3-10-4-6-11 2-6 12-3 3-4-5-5-15-2 0-4 11-4 5-3-3-5-10-3 1-3 7-4 4-2 0-6-7-4-2-10 5-3 0-7-7-2 0-5 11-3 3-3-2-6-13-3 2-2 5-3 3-3-2-4-10-2-1-2 3-4 15-3 4-3-2-4-13-3-5-6 3-7 0-8 14-2 0-3-3-3-8-3-3-6 2-6-5-2 0-3 5-3 11-4 5-4-5-5-17-3-4-2 0-2 3-5 15-4 5-4-2-4-13-3-4-2 1-6 11-2 0-4-7-3-2-8 15-4-5-5-15-2 1-5 13-4 2-4-5z" fill="url(#pb3)" fill-rule="evenodd"/><path d="M730.1 765.8l0 36 3 12 4 4 4-11 4-6 5 7 4 13 2-1 7-14 3 2 3 6 3 1 5-10 3-2 3 3 5 15 3 2 3-5 4-13 5-6 4 3 6 19 3 4 3-4 5-15 3-2 6 5 7-2 3 3 6 12 3-2 4-10 3-3 6 1 6-4 5 6 2 9 3 6 2-1 5-18 3-4 3 2 5 11 3-2 2-5 4-3 8 15 3-2 3-8 4-4 9 8 9-5 5 0 8 8 3 0 5-10 4-2 7 13 2 0 4-11 4-5 2 1 7 19 3-2 4-10 3-3 12-1 4 6 3 10 3 2 5-18 3-5 4 2 5 12 2 0 6-6 8 11 2-1 4-12 4-6 4 2 6 14 3 3 5-2 4-8 5-5 3 1 4 4 7-1 6 8 2-3 0-35-2-10-3-7-3-3-7 1-5-5-2 0-4 4-4 8-6 3-4-4-7-15-3 1-4 12-4 6-4-3-2-5-3-3-6 6-2 0-3-4-3-9-3-1-5 18-3 5-3-1-5-14-4-4-4 2-6 0-7 14-3 1-3-4-4-14-2-2-8 16-3-1-6-12-2 0-7 12-3 0-8-8-6 0-8 5-9-8-6 11-3 3-4-3-4-11-2-1-4 7-4 3-8-13-3 6-3 13-3 4-3-2-5-16-3-3-6 4-6-1-6 12-3 3-3-2-7-13-7 2-6-5-3 3-5 15-4 3-3-4-4-15-4-7-3 2-5 14-5 8-4-3-7-17-8 12-2 0-5-8-2-1-5 12-3 3-3-2-4-14-3-4-6 15-3 2-4-5z" fill="url(#pb4)" fill-rule="evenodd"/><path d="M731.1 771.8l0 27 3 10 3 2 4-11 4-6 4 4 5 16 2-1 7-14 3 2 3 6 3 1 5-10 3-2 4 5 4 13 3 2 7-18 5-6 4 3 8 23 3-2 6-17 3-2 6 5 3 0 3-2 2 1 4 5 4 9 3-2 4-10 3-3 6 1 6-4 4 4 4 13 3 4 3-7 2-10 4-6 3 2 5 11 3-2 2-5 3-3 2 1 7 14 3-2 3-8 4-4 9 8 2 0 7-5 4 0 9 8 3 0 5-10 4-2 7 13 2 0 5-13 4-3 4 7 4 13 3-2 4-10 3-3 12-1 4 6 3 10 3 2 5-18 3-5 4 2 5 12 2 0 5-5 2 0 7 10 2-1 3-10 5-8 4 2 6 14 3 3 3 0 2-2 4-8 5-5 9 6 6-1 6 6 0-27-4-13-3-3-7 1-5-5-4 1-6 11-6 3-4-4-7-15-3 1-3 10-5 8-4-3-2-5-3-3-6 6-2 0-4-6-2-7-2-1-4 9-1 7-4 7-3-1-7-17-2-1-4 2-6 0-5 11-3 4-2 0-3-4-4-14-2-2-8 16-4-2-5-11-3 1-3 7-4 4-2 0-8-8-3-1-8 5-4 0-8-7-6 11-3 3-4-3-5-12-3 2-2 5-4 3-8-13-3 7-2 10-4 6-3-2-4-13-4-6-4 3-8 0-6 12-3 3-3-2-7-13-7 2-6-5-3 3-5 15-4 3-3-4-5-17-3-5-3 2-8 20-3 2-3-3-7-17-8 12-2 0-5-8-2-1-5 12-3 3-3-2-5-16-2-2-6 15-3 2-4-4z" fill="url(#pb5)" fill-rule="evenodd"/><path d="M729 739h0m2 98h0m3-107h0m0 130h0m1-122h0m1-23h0m1 27h0m3-5h0m5-99h0m1 82h0m4 11h0m4 114h0m0 23h0m1-129h0m1-128h0m0 249h0m1-117h0m1 101h0m1-110h0m2 1h0m1-15h0m2 125h0m1-2h0m2-140h0m1 24h0m1-42h0m1 159h0m2 23h0m3-17h0m2-20h0m3-140h0m2 233h0m1-191h0m2 111h0m2-103h0m0 108h0m0 4h0m3 2h0m2-146h0m0 35h0m2 0h0m2-37h0m1 27h0m2-8h0m1-7h0m1 177h0m5-174h0m1 173h0m1-54h0m0 31h0m1-137h0m1 3h0m1 197h0m4-245h0m0 197h0m1-168h0m7 121h0m1-114h0m5-117h0m0 226h0m1-167h0m2 55h0m1-43h0m1-16h0m4-70h0m4 90h0m0 161h0m1-129h0m1 146h0m3-126h0m1 116h0m0 12h0m3-127h0m4-8h0m2 109h0m1-119h0m0 152h0m2-142h0m3 2h0m0 1h0m0 178h0m2-198h0m2 4h0m4 5h0m2 7h0m0 153h0m1-173h0m4 143h0m4-109h0m2-9h0m0 114h0m1 4h0m3-120h0m0 1h0m1 114h0m1-12h0m1-114h0m2-12h0m0 158h0m1-140h0m3-13h0m10 141h0m7 6h0m3-1h0m2-117h0m1 110h0m1-136h0m0 226h0m1-85h0m2 17h0m1-149h0m1-22h0m2 28h0m1-12h0m0 154h0m3-35h0m1 8h0m1 48h0m1-185h0m0 32h0m0 104h0m2-6h0m1-133h0m7 29h0m7-8h0m2 128h0m3-131h0m1 124h0m2 56h0m3-168h0m1 168h0m4-172h0m1-8h0m0 6h0m8 126h0m7-17h0m1-11h0m2 68h0m2-63h0m3-107h0m0 7h0m4 127h0m9-127h0m2 108h0m4-109h0m6 108h0m1 11h0m6-104h0m2-21h0m1 134h0m1 9h0m2-157h0m2 168h0m1-8h0m1-42h0m1 9h0m2-1h0m1 30h0m1-29h0m1-111h0m0 110h0m1-141h0m1 174h0m1-151h0m0 14h0m1 233h0m1-128h0m5 7h0m0 109h0m1-223h0m0 2h0m2 3h0m2-54h0m6 3h0m1 53h0m5-53h0m0 39h0m0 2h0m9 105h0m0 4h0m0 2h0m4-112h0m4 119h0m5-102h0m0 103h0m3-109h0m1-2h0m3 96h0m10 4h0m1-159h0m1 238h0m4-181h0m0 111h0m1-166h0m0 19h0m0 28h0m0 11h0m1 103h0m2 42h0m1-171h0m3 132h0m1-2h0" stroke="#12309e" stroke-width="2.7" stroke-linecap="round"/>
<path d="M826.4 584.3V988.3" stroke="#000" stroke-width="2.8" stroke-dasharray="17.1 5 2.7 5"/>
<rect x="961.5" y="592.1" width="170.8" height="78" rx="3.3" fill="#fff" fill-opacity="0.97" stroke="#ccc" stroke-width="1.3"/>
<circle cx="984.8" cy="607.3" r="4.9" fill="#0b44de"/>
<text x="1014.9" y="612.4" font-size="16.7" fill="#725757" text-anchor="start" >First 92 Dims</text>
<circle cx="984.8" cy="631.8" r="4.9" fill="#e20808"/>
<text x="1014.9" y="636.9" font-size="16.7" fill="#725757" text-anchor="start" >Last 36 Dims</text>
<circle cx="984.8" cy="656.3" r="4.9" fill="#c65a12"/>
<text x="1014.9" y="661.4" font-size="16.7" fill="#725757" text-anchor="start" >Overall Dims</text>
<path d="M728.2 860.9 L728.6 900.2 L729 921.2 L729.3 934 L729.7 942.4 L730.1 949.4 L730.4 955 L730.8 959 L731.2 961.7 L731.6 963.4 L731.9 964.4 L732.3 965.2 L732.7 965.8 L733 966.3 L733.4 966.6 L733.8 966.8 L734.1 966.9 L734.5 966.9 L734.9 966.9 L735.2 966.9 L735.6 966.8 L736 966.8 L736.3 966.7 L736.7 966.7 L737.1 966.6 L737.5 966.5 L737.8 966.5 L738.2 966.4 L738.6 966.3 L738.9 966.3 L739.3 966.2 L739.7 966.1 L740 966 L740.4 966 L740.8 965.9 L741.1 965.8 L741.5 965.7 L741.9 965.6 L742.3 965.6 L742.6 965.5 L743 965.4 L743.4 965.3 L743.9 965.2 L744.3 965.2 L744.8 965.1 L745.2 965 L745.7 964.9 L746.2 964.8 L746.7 964.7 L747.2 964.6 L747.8 964.5 L748.3 964.4 L748.9 964.3 L749.5 964.2 L750.1 964.1 L750.7 964.1 L751.3 964 L752 963.9 L752.6 963.8 L753.3 963.7 L754 963.6 L754.7 963.5 L755.5 963.3 L756.3 963.2 L757 963.1 L757.9 963 L758.7 962.9 L759.6 962.7 L760.4 962.6 L761.3 962.4 L762.3 962.3 L763.2 962.1 L764.2 962 L765.2 961.8 L766.3 961.7 L767.4 961.5 L768.5 961.4 L769.6 961.2 L770.8 961 L772 960.9 L773.2 960.7 L774.4 960.5 L775.8 960.3 L777.1 960.1 L778.5 960 L779.9 959.8 L781.3 959.6 L782.8 959.4 L784.4 959.2 L786 959 L787.6 958.8 L789.3 958.7 L791 958.5 L792.7 958.3 L794.6 958.1 L796.4 957.9 L798.4 957.7 L800.3 957.5 L802.4 957.4 L804.4 957.2 L806.6 957 L808.8 956.7 L811.1 956.5 L813.4 956.3 L815.8 956.1 L818.3 955.8 L820.8 955.5 L823.4 955.2 L826.1 954.9 L828.9 954.6 L831.7 954.2 L834.6 953.9 L837.6 953.4 L840.7 953 L843.9 952.5 L847.1 952 L850.5 951.4 L853.9 950.9 L857.5 950.2 L861.1 949.6 L864.8 948.9 L868.7 948.2 L872.7 947.4 L876.7 946.6 L880.9 945.6 L885.2 944.6 L889.6 943.6 L894.2 942.4 L898.9 941.1 L903.7 939.7 L908.6 938.1 L913.7 936.5 L918.9 934.7 L924.3 932.7 L929.8 930.3 L935.5 927.6 L941.3 924.3 L947.3 920.7 L953.5 916.7 L959.9 912.4 L966.4 907.8 L973.1 902.9 L980 898 L987.1 893.2 L994.4 888.2 L1001.9 883 L1009.6 877.5 L1017.5 871.9 L1025.7 866.2 L1034.1 860.5 L1042.7 854.9 L1051.6 849.6 L1060.7 844.8 L1070 840.5 L1079.7 836.5 L1089.6 832.4 L1099.8 828.1 L1110.2 823.2 L1121 817.4" stroke="#741c98" stroke-width="2.5" fill="none" stroke-linejoin="round"/>
<rect x="708.6" y="584.3" width="432" height="404" fill="none" stroke="#000" stroke-width="1.5"/>
<path d="M728.2 988.3v4.8M788.2 988.3v4.8M848.1 988.3v4.8M908 988.3v4.8M968 988.3v4.8M1027.9 988.3v4.8M1087.8 988.3v4.8M708.6 959.4h-4.8M708.6 901.7h-4.8M708.6 844h-4.8M708.6 786.3h-4.8M708.6 728.6h-4.8M708.6 670.9h-4.8M708.6 613.2h-4.8M1140.6 980.5h4.8M1140.6 902.8h4.8M1140.6 825.1h4.8M1140.6 747.5h4.8M1140.6 669.8h4.8M1140.6 592.1h4.8" stroke="#000" stroke-width="1.3" fill="none"/>
<text x="728.2" y="1008.9" font-size="13.5" fill="#000" text-anchor="middle" >0</text>
<text x="788.2" y="1008.9" font-size="13.5" fill="#000" text-anchor="middle" >2500</text>
<text x="848.1" y="1008.9" font-size="13.5" fill="#000" text-anchor="middle" >5000</text>
<text x="908" y="1008.9" font-size="13.5" fill="#000" text-anchor="middle" >7500</text>
<text x="968" y="1008.9" font-size="13.5" fill="#000" text-anchor="middle" >10000</text>
<text x="1027.9" y="1008.9" font-size="13.5" fill="#000" text-anchor="middle" >12500</text>
<text x="1087.8" y="1008.9" font-size="13.5" fill="#000" text-anchor="middle" >15000</text>
<text x="698.1" y="964.3" font-size="13.5" fill="#8c564b" text-anchor="end" >−15</text>
<text x="698.1" y="906.6" font-size="13.5" fill="#8c564b" text-anchor="end" >−10</text>
<text x="698.1" y="848.9" font-size="13.5" fill="#8c564b" text-anchor="end" >−5</text>
<text x="698.1" y="791.2" font-size="13.5" fill="#8c564b" text-anchor="end" >0</text>
<text x="698.1" y="733.5" font-size="13.5" fill="#8c564b" text-anchor="end" >5</text>
<text x="698.1" y="675.8" font-size="13.5" fill="#8c564b" text-anchor="end" >10</text>
<text x="698.1" y="618.1" font-size="13.5" fill="#8c564b" text-anchor="end" >15</text>
<text x="1150.9" y="985.4" font-size="13.5" fill="#681c94" text-anchor="start" >0</text>
<text x="1150.9" y="907.7" font-size="13.5" fill="#681c94" text-anchor="start" >20</text>
<text x="1150.9" y="830" font-size="13.5" fill="#681c94" text-anchor="start" >40</text>
<text x="1150.9" y="752.4" font-size="13.5" fill="#681c94" text-anchor="start" >60</text>
<text x="1150.9" y="674.7" font-size="13.5" fill="#681c94" text-anchor="start" >80</text>
<text x="1150.9" y="597" font-size="13.5" fill="#681c94" text-anchor="start" >100</text>
<text x="924.6" y="575" font-size="25.3" fill="#000" text-anchor="middle" >in first 16k</text>
<text transform="translate(659.1,786.3) rotate(-90)" font-size="22.4" fill="#8c564b" text-anchor="middle">Attention score</text>
<text transform="translate(1199.1,787.8) rotate(-90)" font-size="22.4" fill="#681c94" text-anchor="middle">Perplexity</text>
<path d="M728.2 1412.6l1.2 17.5 1.2 28.3 1.2 0 1.2-28.3 1.3-17.5 1.2 17.5 1.2 28.3 1.2 0 1.2-28.3 1.2-17.5 1.2 17.5 1.2 28.3 1.2 0 1.2-28.3 1.2-17.5 1.2 17.5 1.2 28.3 1.2 0 1.2-28.3 1.2-17.5 1.2 17.5 1.2 28.3 1.2 0 1.2-28.3 1.2-17.5 1.2 17.5 1.2 28.3 1.2 0 1.2-28.3 1.2-17.5 1.2 17.5 1.2 28.3 1.2 0 1.2-28.3 1.2-17.5 1.2 17.5 1.3 28.3 1.2 0 1.2-28.3 1.2-17.5 1.2 17.5 1.2 28.3 1.2 0 1.2-28.3 1.2-17.5 1.2 17.5 1.2 28.3 1.2 0 1.2-28.3 1.2-17.5 1.2 17.5 1.2 28.3 1.2 0 1.2-28.3 1.2-17.5 1.2 17.5 1.2 28.3 1.2 0 1.2-28.3 1.2-17.5 1.2 17.5 1.2 28.3 1.2 0 1.2-28.3 1.2-17.5 1.2 17.5 1.2 28.3 1.2 0 1.3-28.3 1.2-17.5 1.2 17.5 1.2 28.3 1.2 0 1.2-28.3 1.2-17.5 1.2 17.5 1.2 28.3 1.2 0 1.2-28.3 1.2-17.5 1.2 17.5 1.2 28.3 1.2 0 1.2-28.3 1.2-17.5 1.2 17.5 1.2 28.3 1.2 0 1.2-28.3 1.2-17.5 1.2 17.5 1.2 28.3 1.2 0 1.2-28.3 1.2-17.5 1.2 17.5 1.2 28.3 1.2 0 1.2-28.3 1.2-17.5 1.2 17.5 1.3 28.3 1.2 0 1.2-28.3 1.2-17.5 1.2 17.5 1.2 28.3 1.2 0 1.2-28.3 1.2-17.5 1.2 17.5 1.2 28.3 1.2 0 1.2-28.3 1.2-17.5 1.2 17.5 1.2 28.3 1.2 0 1.2-28.3 1.2-17.5 1.2 17.5 1.2 28.3 1.2 0 1.2-28.3 1.2-17.5 1.2 17.5 1.2 28.3 1.2 0 1.2-28.3 1.2-17.5 1.2 17.5 1.2 28.3 1.2 0 1.3-28.3 1.2-17.5 1.2 17.5 1.2 28.3 1.2 0 1.2-28.3 1.2-17.5 1.2 17.5 1.2 28.3 1.2 0 1.2-28.3 1.2-17.5 1.2 17.5 1.2 28.3 1.2 0 1.2-28.3 1.2-17.5 1.2 17.5 1.2 28.3 1.2 0 1.2-28.3 1.2-17.5 1.2 17.5 1.2 28.3 1.2 0 1.2-28.3 1.2-17.5 1.2 17.5 1.2 28.3 1.2 0 1.2-28.3 1.2-17.5 1.3 17.5 1.2 28.3 1.2 0 1.2-28.3 1.2-17.5 1.2 17.5 1.2 28.3 1.2 0 1.2-28.3 1.2-17.5 1.2 17.5 1.2 28.3 1.2 0 1.2-28.3 1.2-17.5 1.2 17.5 1.2 28.3 1.2 0 1.2-28.3 1.2-17.5 1.2 17.5 1.2 28.3 1.2 0 1.2-28.3 1.2-17.5 1.2 17.5 1.2 28.3 1.2 0 1.2-28.3 1.2-17.5 1.2 17.5 1.2 28.3 1.3 0 1.2-28.3 1.2-17.5 1.2 17.5 1.2 28.3 1.2 0 1.2-28.3 1.2-17.5 1.2 17.5 1.2 28.3 1.2 0 1.2-28.3 1.2-17.5 1.2 17.5 1.2 28.3 1.2 0 1.2-28.3 1.2-17.5 1.2 17.5 1.2 28.3 1.2 0 1.2-28.3 1.2-17.5 1.2 17.5 1.2 28.3 1.2 0 1.2-28.3 1.2-17.5 1.2 17.5 1.2 28.3 1.2 0 1.2-28.3 1.2-17.5 1.3 17.5 1.2 28.3 1.2 0 1.2-28.3 1.2-17.5 1.2 17.5 1.2 28.3 1.2 0 1.2-28.3 1.2-17.5 1.2 17.5 1.2 28.3 1.2 0 1.2-28.3 1.2-17.5 1.2 17.5 1.2 28.3 1.2 0 1.2-28.3 1.2-17.5 1.2 17.5 1.2 28.3 1.2 0 1.2-28.3 1.2-17.5 1.2 17.5 1.2 28.3 1.2 0 1.2-28.3 1.2-17.5 1.2 17.5 1.2 28.3 1.3 0 1.2-28.3 1.2-17.5 1.2 17.5 1.2 28.3 1.2 0 1.2-28.3 1.2-17.5 1.2 17.5 1.2 28.3 1.2 0 1.2-28.3 1.2-17.5 1.2 17.5 1.2 28.3 1.2 0 1.2-28.3 1.2-17.5 1.2 17.5 1.2 28.3 1.2 0 1.2-28.3 1.2-17.5 1.2 17.5 1.2 28.3 1.2 0 1.2-28.3 1.2-17.5 1.2 17.5 1.2 28.3 1.2 0 1.2-28.3 1.3-17.5 1.2 17.5 1.2 28.3 1.2 0 1.2-28.3 1.2-17.5 1.2 17.5 1.2 28.3 1.2 0 1.2-28.3 1.2-17.5 1.2 17.5 1.2 28.3 1.2 0 1.2-28.3 1.2-17.5 1.2 17.5 1.2 28.3 1.2 0 1.2-28.3 1.2-17.5 1.2 17.5 1.2 28.3 1.2 0 1.2-28.3 1.2-17.5 1.2 17.5 1.2 28.3 1.2 0 1.2-28.3 1.2-17.5 1.2 17.5 .6 13.5" stroke="#f27a1e" stroke-width="1.65" fill="none"/>
<path d="M728.2 1349.3l1.3 3.3 1.3 9.3 1.2 12.7 1.3 12.6 1.2 9.3 1.3 3.4 1.3-3.4 1.2-9.3 1.3-12.6 1.2-12.7 1.3-9.3 1.3-3.3 1.2 3.3 1.3 9.3 1.2 12.7 1.3 12.6 1.3 9.3 1.2 3.4 1.3-3.4 1.2-9.3 1.3-12.6 1.3-12.7 1.2-9.3 1.3-3.3 1.2 3.3 1.3 9.3 1.3 12.7 1.2 12.6 1.3 9.3 1.2 3.4 1.3-3.4 1.3-9.3 1.2-12.6 1.3-12.7 1.2-9.3 1.3-3.3 1.3 3.3 1.2 9.3 1.3 12.7 1.2 12.6 1.3 9.3 1.3 3.4 1.2-3.4 1.3-9.3 1.2-12.6 1.3-12.7 1.3-9.3 1.2-3.3 1.3 3.3 1.2 9.3 1.3 12.7 1.3 12.6 1.2 9.3 1.3 3.4 1.2-3.4 1.3-9.3 1.3-12.6 1.2-12.7 1.3-9.3 1.2-3.3 1.3 3.3 1.3 9.3 1.2 12.7 1.3 12.6 1.2 9.3 1.3 3.4 1.3-3.4 1.2-9.3 1.3-12.6 1.3-12.7 1.2-9.3 1.3-3.3 1.2 3.3 1.3 9.3 1.3 12.7 1.2 12.6 1.3 9.3 1.2 3.4 1.3-3.4 1.3-9.3 1.2-12.6 1.3-12.7 1.2-9.3 1.3-3.3 1.3 3.3 1.2 9.3 1.3 12.7 1.2 12.6 1.3 9.3 1.3 3.4 1.2-3.4 1.3-9.3 1.2-12.6 1.3-12.7 1.3-9.3 1.2-3.3 1.3 3.3 1.2 9.3 1.3 12.7 1.3 12.6 1.2 9.3 1.3 3.4 1.2-3.4 1.3-9.3 1.3-12.6 1.2-12.7 1.3-9.3 1.2-3.3 1.3 3.3 1.3 9.3 1.2 12.7 1.3 12.6 1.2 9.3 1.3 3.4 1.3-3.4 1.2-9.3 1.3-12.6 1.2-12.7 1.3-9.3 1.3-3.3 1.2 3.3 1.3 9.3 1.2 12.7 1.3 12.6 1.3 9.3 1.2 3.4 1.3-3.4 1.2-9.3 1.3-12.6 1.3-12.7 1.2-9.3 1.3-3.3 1.2 3.3 1.3 9.3 1.3 12.7 1.2 12.6 1.3 9.3 1.2 3.4 1.3-3.4 1.3-9.3 1.2-12.6 1.3-12.7 1.2-9.3 1.3-3.3 1.3 3.3 1.2 9.3 1.3 12.7 1.2 12.6 1.3 9.3 1.3 3.4 1.2-3.4 1.3-9.3 1.2-12.6 1.3-12.7 1.3-9.3 1.2-3.3 1.3 3.3 1.2 9.3 1.3 12.7 1.3 12.6 1.2 9.3 1.3 3.4 1.2-3.4 1.3-9.3 1.3-12.6 1.2-12.7 1.3-9.3 1.2-3.3 1.3 3.3 1.3 9.3 1.2 12.7 1.3 12.6 1.3 9.3 1.2 3.4 1.3-3.4 1.2-9.3 1.3-12.6 1.3-12.7 1.2-9.3 1.3-3.3 1.2 3.3 1.3 9.3 1.3 12.7 1.2 12.6 1.3 9.3 1.2 3.4 1.3-3.4 1.3-9.3 1.2-12.6 1.3-12.7 1.2-9.3 1.3-3.3 1.3 3.3 1.2 9.3 1.3 12.7 1.2 12.6 1.3 9.3 1.3 3.4 1.2-3.4 1.3-9.3 1.2-12.6 1.3-12.7 1.3-9.3 1.2-3.3 1.3 3.3 1.2 9.3 1.3 12.7 1.3 12.6 1.2 9.3 1.3 3.4 1.2-3.4 1.3-9.3 1.3-12.6 1.2-12.7 1.3-9.3 1.2-3.3 1.3 3.3 1.3 9.3 1.2 12.7 1.3 12.6 1.2 9.3 1.3 3.4 1.3-3.4 1.2-9.3 1.3-12.6 1.2-12.7 1.3-9.3 1.3-3.3 1.2 3.3 1.3 9.3 1.2 12.7 1.3 12.6 1.3 9.3 1.2 3.4 1.3-3.4 1.2-9.3 1.3-12.6 1.3-12.7 1.2-9.3 1.3-3.3 1.2 3.3 1.3 9.3 1.3 12.7 1.2 12.6 1.3 9.3 1.2 3.4 1.3-3.4 1.3-9.3 1.2-12.6 1.3-12.7 1.2-9.3 1.3-3.3 1.3 3.3 1.2 9.3 1.3 12.7 1.2 12.6 1.3 9.3 1.3 3.4 1.2-3.4 1.3-9.3 1.2-12.6 1.3-12.7 1.3-9.3 1.2-3.3 1.3 3.3 1.2 9.3 1.3 12.7 1.3 12.6 1.2 9.3 1.3 3.4 1.3-3.4 1.2-9.3 1.3-12.6 1.2-12.7 1.3-9.3 1.3-3.3 1.2 3.3 1.3 9.3 1.2 12.7 1.3 12.6 1.3 9.3 1.2 3.4 1.3-3.4 1.2-9.3 1.3-12.6 1.3-12.7 1.2-9.3 1.3-3.3 1.2 3.3 1.3 9.3 1.3 12.7 1.2 12.6 1.3 9.3 1.2 3.4 1.3-3.4 1.3-9.3 1.2-12.6 1.3-12.7 1.2-9.3 1.3-3.3 1.3 3.3 1.2 9.3 1.3 12.7 1.2 12.6 1.3 9.3 1.3 3.4 1.2-3.4 1.3-9.3 1.2-12.6 1.3-12.7 1.3-9.3 .8-2.9" stroke="#c4561a" stroke-width="1.65" fill="none"/>
<path d="M728.2 1285.9l1.3 .6 1.4 1.8 1.3 2.8 1.3 3.8 1.3 4.5 1.3 5.1 1.3 5.4 1.3 5.5 1.3 5.2 1.3 4.9 1.4 4.2 1.3 3.3 1.3 2.3 1.3 1.1 1.3 0 1.3-1.1 1.3-2.3 1.3-3.3 1.3-4.2 1.4-4.9 1.3-5.2 1.3-5.5 1.3-5.4 1.3-5.1 1.3-4.5 1.3-3.8 1.3-2.8 1.3-1.8 1.4-.6 1.3 .6 1.3 1.8 1.3 2.8 1.3 3.8 1.3 4.5 1.3 5.1 1.3 5.4 1.3 5.5 1.4 5.2 1.3 4.9 1.3 4.2 1.3 3.3 1.3 2.3 1.3 1.1 1.3 0 1.3-1.1 1.3-2.3 1.3-3.3 1.4-4.2 1.3-4.9 1.3-5.2 1.3-5.5 1.3-5.4 1.3-5.1 1.3-4.5 1.3-3.8 1.3-2.8 1.4-1.8 1.3-.6 1.3 .6 1.3 1.8 1.3 2.8 1.3 3.8 1.3 4.5 1.3 5.1 1.3 5.4 1.4 5.5 1.3 5.2 1.3 4.9 1.3 4.2 1.3 3.3 1.3 2.3 1.3 1.1 1.3 0 1.3-1.1 1.4-2.3 1.3-3.3 1.3-4.2 1.3-4.9 1.3-5.2 1.3-5.5 1.3-5.4 1.3-5.1 1.3-4.5 1.4-3.8 1.3-2.8 1.3-1.8 1.3-.6 1.3 .6 1.3 1.8 1.3 2.8 1.3 3.8 1.3 4.5 1.4 5.1 1.3 5.4 1.3 5.5 1.3 5.2 1.3 4.9 1.3 4.2 1.3 3.3 1.3 2.3 1.3 1.1 1.3 0 1.4-1.1 1.3-2.3 1.3-3.3 1.3-4.2 1.3-4.9 1.3-5.2 1.3-5.5 1.3-5.4 1.3-5.1 1.4-4.5 1.3-3.8 1.3-2.8 1.3-1.8 1.3-.6 1.3 .6 1.3 1.8 1.3 2.8 1.3 3.8 1.4 4.5 1.3 5.1 1.3 5.4 1.3 5.5 1.3 5.2 1.3 4.9 1.3 4.2 1.3 3.3 1.3 2.3 1.4 1.1 1.3 0 1.3-1.1 1.3-2.3 1.3-3.3 1.3-4.2 1.3-4.9 1.3-5.2 1.3-5.5 1.4-5.4 1.3-5.1 1.3-4.5 1.3-3.8 1.3-2.8 1.3-1.8 1.3-.6 1.3 .6 1.3 1.8 1.4 2.8 1.3 3.8 1.3 4.5 1.3 5.1 1.3 5.4 1.3 5.5 1.3 5.2 1.3 4.9 1.3 4.2 1.3 3.3 1.4 2.3 1.3 1.1 1.3 0 1.3-1.1 1.3-2.3 1.3-3.3 1.3-4.2 1.3-4.9 1.3-5.2 1.4-5.5 1.3-5.4 1.3-5.1 1.3-4.5 1.3-3.8 1.3-2.8 1.3-1.8 1.3-.6 1.3 .6 1.4 1.8 1.3 2.8 1.3 3.8 1.3 4.5 1.3 5.1 1.3 5.4 1.3 5.5 1.3 5.2 1.3 4.9 1.4 4.2 1.3 3.3 1.3 2.3 1.3 1.1 1.3 0 1.3-1.1 1.3-2.3 1.3-3.3 1.3-4.2 1.4-4.9 1.3-5.2 1.3-5.5 1.3-5.4 1.3-5.1 1.3-4.5 1.3-3.8 1.3-2.8 1.3-1.8 1.3-.6 1.4 .6 1.3 1.8 1.3 2.8 1.3 3.8 1.3 4.5 1.3 5.1 1.3 5.4 1.3 5.5 1.3 5.2 1.4 4.9 1.3 4.2 1.3 3.3 1.3 2.3 1.3 1.1 1.3 0 1.3-1.1 1.3-2.3 1.3-3.3 1.4-4.2 1.3-4.9 1.3-5.2 1.3-5.5 1.3-5.4 1.3-5.1 1.3-4.5 1.3-3.8 1.3-2.8 1.4-1.8 1.3-.6 1.3 .6 1.3 1.8 1.3 2.8 1.3 3.8 1.3 4.5 1.3 5.1 1.3 5.4 1.4 5.5 1.3 5.2 1.3 4.9 1.3 4.2 1.3 3.3 1.3 2.3 1.3 1.1 1.3 0 1.3-1.1 1.4-2.3 1.3-3.3 1.3-4.2 1.3-4.9 1.3-5.2 1.3-5.5 1.3-5.4 1.3-5.1 1.3-4.5 1.3-3.8 1.4-2.8 1.3-1.8 1.3-.6 1.3 .6 1.3 1.8 1.3 2.8 1.3 3.8 1.3 4.5 1.3 5.1 1.4 5.4 1.3 5.5 1.3 5.2 1.3 4.9 1.3 4.2 1.3 3.3 1.3 2.3 1.3 1.1 1.3 0 1.4-1.1 1.3-2.3 1.3-3.3 1.3-4.2 1.3-4.9 1.3-5.2 1.3-5.5 1.3-5.4 1.3-5.1 1.4-4.5 1.3-3.8 1.3-2.8 1.3-1.8 1.3-.6 1.3 .6 1.3 1.8 1.3 2.8 1.3 3.8 1.4 4.5 1.3 5.1 1.3 5.4 1.3 5.5 1.3 5.2 .8 2.9" stroke="#7f3012" stroke-width="1.65" fill="none"/>
<path d="M728.2 1222.6l1.3 .5 1.3 1.3 1.3 2.2 1.3 3 1.3 3.6 1.4 4.2 1.3 4.6 1.3 4.7 1.3 4.8 1.3 4.7 1.3 4.4 1.3 3.9 1.3 3.3 1.3 2.7 1.3 1.7 1.3 1 1.3 0 1.3-1 1.3-1.7 1.3-2.7 1.3-3.3 1.3-3.9 1.3-4.4 1.3-4.7 1.3-4.8 1.3-4.7 1.3-4.6 1.3-4.2 1.3-3.6 1.3-3 1.3-2.2 1.3-1.3 1.3-.5 1.3 .5 1.3 1.3 1.3 2.2 1.3 3 1.3 3.6 1.3 4.2 1.3 4.6 1.3 4.7 1.3 4.8 1.4 4.7 1.3 4.4 1.3 3.9 1.3 3.3 1.3 2.7 1.3 1.7 1.3 1 1.3 0 1.3-1 1.3-1.7 1.3-2.7 1.3-3.3 1.3-3.9 1.3-4.4 1.3-4.7 1.3-4.8 1.3-4.7 1.3-4.6 1.3-4.2 1.3-3.6 1.3-3 1.3-2.2 1.3-1.3 1.3-.5 1.3 .5 1.3 1.3 1.3 2.2 1.3 3 1.3 3.6 1.3 4.2 1.3 4.6 1.3 4.7 1.3 4.8 1.3 4.7 1.3 4.4 1.3 3.9 1.3 3.3 1.4 2.7 1.3 1.7 1.3 1 1.3 0 1.3-1 1.3-1.7 1.3-2.7 1.3-3.3 1.3-3.9 1.3-4.4 1.3-4.7 1.3-4.8 1.3-4.7 1.3-4.6 1.3-4.2 1.3-3.6 1.3-3 1.3-2.2 1.3-1.3 1.3-.5 1.3 .5 1.3 1.3 1.3 2.2 1.3 3 1.3 3.6 1.3 4.2 1.3 4.6 1.3 4.7 1.3 4.8 1.3 4.7 1.3 4.4 1.3 3.9 1.3 3.3 1.3 2.7 1.3 1.7 1.3 1 1.3 0 1.3-1 1.4-1.7 1.3-2.7 1.3-3.3 1.3-3.9 1.3-4.4 1.3-4.7 1.3-4.8 1.3-4.7 1.3-4.6 1.3-4.2 1.3-3.6 1.3-3 1.3-2.2 1.3-1.3 1.3-.5 1.3 .5 1.3 1.3 1.3 2.2 1.3 3 1.3 3.6 1.3 4.2 1.3 4.6 1.3 4.7 1.3 4.8 1.3 4.7 1.3 4.4 1.3 3.9 1.3 3.3 1.3 2.7 1.3 1.7 1.3 1 1.3 0 1.3-1 1.3-1.7 1.3-2.7 1.3-3.3 1.3-3.9 1.4-4.4 1.3-4.7 1.3-4.8 1.3-4.7 1.3-4.6 1.3-4.2 1.3-3.6 1.3-3 1.3-2.2 1.3-1.3 1.3-.5 1.3 .5 1.3 1.3 1.3 2.2 1.3 3 1.3 3.6 1.3 4.2 1.3 4.6 1.3 4.7 1.3 4.8 1.3 4.7 1.3 4.4 1.3 3.9 1.3 3.3 1.3 2.7 1.3 1.7 1.3 1 1.3 0 1.3-1 1.3-1.7 1.3-2.7 1.3-3.3 1.3-3.9 1.3-4.4 1.3-4.7 1.3-4.8 1.3-4.7 1.3-4.6 1.4-4.2 1.3-3.6 1.3-3 1.3-2.2 1.3-1.3 1.3-.5 1.3 .5 1.3 1.3 1.3 2.2 1.3 3 1.3 3.6 1.3 4.2 1.3 4.6 1.3 4.7 1.3 4.8 1.3 4.7 1.3 4.4 1.3 3.9 1.3 3.3 1.3 2.7 1.3 1.7 1.3 1 1.3 0 1.3-1 1.3-1.7 1.3-2.7 1.3-3.3 1.3-3.9 1.3-4.4 1.3-4.7 1.3-4.8 1.3-4.7 1.3-4.6 1.3-4.2 1.3-3.6 1.3-3 1.3-2.2 1.4-1.3 1.3-.5 1.3 .5 1.3 1.3 1.3 2.2 1.3 3 1.3 3.6 1.3 4.2 1.3 4.6 1.3 4.7 1.3 4.8 1.3 4.7 1.3 4.4 1.3 3.9 1.3 3.3 1.3 2.7 1.3 1.7 1.3 1 1.3 0 1.3-1 1.3-1.7 1.3-2.7 1.3-3.3 1.3-3.9 1.3-4.4 1.3-4.7 1.3-4.8 1.3-4.7 1.3-4.6 1.3-4.2 1.3-3.6 1.3-3 1.3-2.2 1.3-1.3 1.3-.5 1.3 .5 1.3 1.3 1.3 2.2 1.4 3 1.3 3.6 1.3 4.2 1.3 4.6 1.3 4.7 1.3 4.8 1.3 4.7 1.3 4.4 1.3 3.9 1.3 3.3 1.3 2.7 1.3 1.7 1.3 1 1.3 0 1.3-1 1.3-1.7 1.3-2.7 1.3-3.3 1.3-3.9 1.3-4.4 1.3-4.7 1.3-4.8 1.3-4.7 1.3-4.6 1.3-4.2 1.3-3.6 1.3-3 1.3-2.2 1.3-1.3 1.3-.5 1.3 .5 1.3 1.3 1.3 2.2 1.3 3 .7 1.7" stroke="#6e3616" stroke-width="1.65" fill="none" stroke-dasharray="6.1 2.6"/>
<path d="M728.2 1159.3l2.4 .2 2.4 .6 2.4 1.1 2.4 1.5 2.4 1.8 2.4 2.2 2.4 2.5 2.4 2.8 2.4 2.9 2.4 3.2 2.4 3.2 2.4 3.3 2.4 3.3 2.4 3.3 2.3 3.1 2.4 3 2.4 2.7 2.4 2.5 2.4 2.2 2.4 1.9 2.4 1.4 2.4 1.1 2.4 .6 2.4 .2 2.4-.2 2.4-.6 2.4-1.1 2.4-1.4 2.4-1.9 2.4-2.2 2.4-2.5 2.3-2.7 2.4-3 2.4-3.1 2.4-3.3 2.4-3.3 2.4-3.3 2.4-3.2 2.4-3.2 2.4-2.9 2.4-2.8 2.4-2.5 2.4-2.2 2.4-1.8 2.4-1.5 2.4-1.1 2.4-.6 2.4-.2 2.3 .2 2.4 .6 2.4 1.1 2.4 1.5 2.4 1.8 2.4 2.2 2.4 2.5 2.4 2.8 2.4 2.9 2.4 3.2 2.4 3.2 2.4 3.3 2.4 3.3 2.4 3.3 2.4 3.1 2.4 3 2.4 2.7 2.3 2.5 2.4 2.2 2.4 1.9 2.4 1.4 2.4 1.1 2.4 .6 2.4 .2 2.4-.2 2.4-.6 2.4-1.1 2.4-1.4 2.4-1.9 2.4-2.2 2.4-2.5 2.4-2.7 2.4-3 2.4-3.1 2.3-3.3 2.4-3.3 2.4-3.3 2.4-3.2 2.4-3.2 2.4-2.9 2.4-2.8 2.4-2.5 2.4-2.2 2.4-1.8 2.4-1.5 2.4-1.1 2.4-.6 2.4-.2 2.4 .2 2.4 .6 2.4 1.1 2.3 1.5 2.4 1.8 2.4 2.2 2.4 2.5 2.4 2.8 2.4 2.9 2.4 3.2 2.4 3.2 2.4 3.3 2.4 3.3 2.4 3.3 2.4 3.1 2.4 3 2.4 2.7 2.4 2.5 2.4 2.2 2.4 1.9 2.3 1.4 2.4 1.1 2.4 .6 2.4 .2 2.4-.2 2.4-.6 2.4-1.1 2.4-1.4 2.4-1.9 2.4-2.2 2.4-2.5 2.4-2.7 2.4-3 2.4-3.1 2.4-3.3 2.4-3.3 2.4-3.3 2.3-3.2 2.4-3.2 2.4-2.9 2.4-2.8 2.4-2.5 2.4-2.2 2.4-1.8 2.4-1.5 2.4-1.1 2.4-.6 2.4-.2 2.4 .2 2.4 .6 2.4 1.1 2.4 1.5 2.4 1.8 2.4 2.2 2.3 2.5 2.4 2.8 2.4 2.9 2.4 3.2 2.4 3.2 2.4 3.3 2.4 3.3 2.4 3.3 2.4 3.1 2.4 3 2.4 2.7 2.4 2.5 2.4 2.2 2.4 1.9 .1 0" stroke="#a85a22" stroke-width="1.65" fill="none" stroke-dasharray="6.1 2.6"/>
<path d="M728.2 1096l6.6 .1 6.5 .6 6.6 .8 6.5 1.3 6.6 1.5 6.5 1.8 6.6 2.1 6.5 2.3 6.5 2.5 6.6 2.7 6.5 2.9 6.6 2.9 6.5 3 6.6 3 6.5 3 6.6 2.8 6.5 2.8 6.6 2.7 6.5 2.4 6.5 2.2 6.6 2 6.5 1.7 6.6 1.3 6.5 1.1 6.6 .7 6.5 .4 6.6 0 6.5-.4 6.6-.6 6.5-1.1 6.5-1.3 6.6-1.7 6.5-1.9 6.6-2.2 6.5-2.5 6.6-2.6 6.5-2.8 6.6-2.8 6.5-3 6.6-3 6.5-3 6.5-2.9 6.6-2.9 6.5-2.7 6.6-2.5 6.5-2.4 6.6-2.1 6.5-1.8 6.6-1.5 6.5-1.3 6.6-.9 6.5-.5 6.5-.2 6.6 .1 6.5 .5 6.6 .9 6.5 1.2 6.6 1.5 6.5 1.7 6.6 2.1" stroke="#e08a34" stroke-width="1.65" fill="none" stroke-dasharray="6.1 2.6"/>
<path d="M826.4 1077.6V1481.6" stroke="#000" stroke-width="2.8" stroke-dasharray="17.1 5 2.7 5"/>
<rect x="977.3" y="1084.5" width="156.4" height="133.7" rx="2.7" fill="#fff" fill-opacity="0.97" stroke="#ccc" stroke-width="1.2"/>
<path d="M982 1096.7h29" stroke="#f27a1e" stroke-width="1.65"/>
<text x="1021.6" y="1101.7" font-size="14.0" fill="#000" text-anchor="start" ><tspan font-style="italic">cos</tspan>(<tspan font-style="italic">θ</tspan><tspan font-style="italic" font-size="9.8" dy="3.1">n</tspan><tspan font-style="italic" dy="-3.1">t</tspan>) n=60</text>
<path d="M982 1118.4h29" stroke="#c4561a" stroke-width="1.65"/>
<text x="1021.6" y="1123.4" font-size="14.0" fill="#000" text-anchor="start" ><tspan font-style="italic">cos</tspan>(<tspan font-style="italic">θ</tspan><tspan font-style="italic" font-size="9.8" dy="3.1">n</tspan><tspan font-style="italic" dy="-3.1">t</tspan>) n=75</text>
<path d="M982 1140h29" stroke="#7f3012" stroke-width="1.65"/>
<text x="1021.6" y="1145" font-size="14.0" fill="#000" text-anchor="start" ><tspan font-style="italic">cos</tspan>(<tspan font-style="italic">θ</tspan><tspan font-style="italic" font-size="9.8" dy="3.1">n</tspan><tspan font-style="italic" dy="-3.1">t</tspan>) n=90</text>
<path d="M982 1161.7h29" stroke="#6e3616" stroke-width="1.65" stroke-dasharray="6.1 2.6"/>
<text x="1021.6" y="1166.7" font-size="14.0" fill="#000" text-anchor="start" ><tspan font-style="italic">cos</tspan>(<tspan font-style="italic">θ</tspan><tspan font-style="italic" font-size="9.8" dy="3.1">n</tspan><tspan font-style="italic" dy="-3.1">t</tspan>) n=92</text>
<path d="M982 1183.3h29" stroke="#a85a22" stroke-width="1.65" stroke-dasharray="6.1 2.6"/>
<text x="1021.6" y="1188.3" font-size="14.0" fill="#000" text-anchor="start" ><tspan font-style="italic">cos</tspan>(<tspan font-style="italic">θ</tspan><tspan font-style="italic" font-size="9.8" dy="3.1">n</tspan><tspan font-style="italic" dy="-3.1">t</tspan>) n=108</text>
<path d="M982 1205h29" stroke="#e08a34" stroke-width="1.65" stroke-dasharray="6.1 2.6"/>
<text x="1021.6" y="1210" font-size="14.0" fill="#000" text-anchor="start" ><tspan font-style="italic">cos</tspan>(<tspan font-style="italic">θ</tspan><tspan font-style="italic" font-size="9.8" dy="3.1">n</tspan><tspan font-style="italic" dy="-3.1">t</tspan>) n=126</text>
<path d="M728.2 1354.2 L728.6 1393.5 L729 1414.5 L729.3 1427.3 L729.7 1435.7 L730.1 1442.7 L730.4 1448.3 L730.8 1452.3 L731.2 1455 L731.6 1456.7 L731.9 1457.7 L732.3 1458.5 L732.7 1459.1 L733 1459.6 L733.4 1459.9 L733.8 1460.1 L734.1 1460.2 L734.5 1460.2 L734.9 1460.2 L735.2 1460.2 L735.6 1460.1 L736 1460.1 L736.3 1460 L736.7 1460 L737.1 1459.9 L737.5 1459.8 L737.8 1459.8 L738.2 1459.7 L738.6 1459.6 L738.9 1459.6 L739.3 1459.5 L739.7 1459.4 L740 1459.3 L740.4 1459.3 L740.8 1459.2 L741.1 1459.1 L741.5 1459 L741.9 1458.9 L742.3 1458.9 L742.6 1458.8 L743 1458.7 L743.4 1458.6 L743.9 1458.5 L744.3 1458.5 L744.8 1458.4 L745.2 1458.3 L745.7 1458.2 L746.2 1458.1 L746.7 1458 L747.2 1457.9 L747.8 1457.8 L748.3 1457.7 L748.9 1457.6 L749.5 1457.5 L750.1 1457.4 L750.7 1457.4 L751.3 1457.3 L752 1457.2 L752.6 1457.1 L753.3 1457 L754 1456.9 L754.7 1456.8 L755.5 1456.6 L756.3 1456.5 L757 1456.4 L757.9 1456.3 L758.7 1456.2 L759.6 1456 L760.4 1455.9 L761.3 1455.7 L762.3 1455.6 L763.2 1455.4 L764.2 1455.3 L765.2 1455.1 L766.3 1455 L767.4 1454.8 L768.5 1454.7 L769.6 1454.5 L770.8 1454.3 L772 1454.2 L773.2 1454 L774.4 1453.8 L775.8 1453.6 L777.1 1453.4 L778.5 1453.3 L779.9 1453.1 L781.3 1452.9 L782.8 1452.7 L784.4 1452.5 L786 1452.3 L787.6 1452.1 L789.3 1452 L791 1451.8 L792.7 1451.6 L794.6 1451.4 L796.4 1451.2 L798.4 1451 L800.3 1450.8 L802.4 1450.7 L804.4 1450.5 L806.6 1450.3 L808.8 1450 L811.1 1449.8 L813.4 1449.6 L815.8 1449.4 L818.3 1449.1 L820.8 1448.8 L823.4 1448.5 L826.1 1448.2 L828.9 1447.9 L831.7 1447.5 L834.6 1447.2 L837.6 1446.7 L840.7 1446.3 L843.9 1445.8 L847.1 1445.3 L850.5 1444.7 L853.9 1444.2 L857.5 1443.5 L861.1 1442.9 L864.8 1442.2 L868.7 1441.5 L872.7 1440.7 L876.7 1439.9 L880.9 1438.9 L885.2 1437.9 L889.6 1436.9 L894.2 1435.7 L898.9 1434.4 L903.7 1433 L908.6 1431.4 L913.7 1429.8 L918.9 1428 L924.3 1426 L929.8 1423.6 L935.5 1420.9 L941.3 1417.6 L947.3 1414 L953.5 1410 L959.9 1405.7 L966.4 1401.1 L973.1 1396.2 L980 1391.3 L987.1 1386.5 L994.4 1381.5 L1001.9 1376.3 L1009.6 1370.8 L1017.5 1365.2 L1025.7 1359.5 L1034.1 1353.8 L1042.7 1348.2 L1051.6 1342.9 L1060.7 1338.1 L1070 1333.8 L1079.7 1329.8 L1089.6 1325.7 L1099.8 1321.4 L1110.2 1316.5 L1121 1310.7" stroke="#741c98" stroke-width="2.9" fill="none" stroke-linejoin="round"/>
<rect x="708.6" y="1077.6" width="432" height="404" fill="none" stroke="#000" stroke-width="1.5"/>
<path d="M728.2 1481.6v4.8M788.2 1481.6v4.8M848.1 1481.6v4.8M908 1481.6v4.8M968 1481.6v4.8M1027.9 1481.6v4.8M1087.8 1481.6v4.8M708.6 1437.9h-4.8M708.6 1374.6h-4.8M708.6 1311.3h-4.8M708.6 1247.9h-4.8M708.6 1184.6h-4.8M708.6 1121.3h-4.8M1140.6 1473.8h4.8M1140.6 1396.1h4.8M1140.6 1318.4h4.8M1140.6 1240.8h4.8M1140.6 1163.1h4.8M1140.6 1085.4h4.8" stroke="#000" stroke-width="1.3" fill="none"/>
<text x="728.2" y="1502.2" font-size="13.5" fill="#000" text-anchor="middle" >0</text>
<text x="788.2" y="1502.2" font-size="13.5" fill="#000" text-anchor="middle" >2500</text>
<text x="848.1" y="1502.2" font-size="13.5" fill="#000" text-anchor="middle" >5000</text>
<text x="908" y="1502.2" font-size="13.5" fill="#000" text-anchor="middle" >7500</text>
<text x="968" y="1502.2" font-size="13.5" fill="#000" text-anchor="middle" >10000</text>
<text x="1027.9" y="1502.2" font-size="13.5" fill="#000" text-anchor="middle" >12500</text>
<text x="1087.8" y="1502.2" font-size="13.5" fill="#000" text-anchor="middle" >15000</text>
<text x="1150.9" y="1478.7" font-size="13.5" fill="#681c94" text-anchor="start" >0</text>
<text x="1150.9" y="1401" font-size="13.5" fill="#681c94" text-anchor="start" >20</text>
<text x="1150.9" y="1323.3" font-size="13.5" fill="#681c94" text-anchor="start" >40</text>
<text x="1150.9" y="1245.7" font-size="13.5" fill="#681c94" text-anchor="start" >60</text>
<text x="1150.9" y="1168" font-size="13.5" fill="#681c94" text-anchor="start" >80</text>
<text x="1150.9" y="1090.3" font-size="13.5" fill="#681c94" text-anchor="start" >100</text>
<text x="924.6" y="1068.4" font-size="25.3" fill="#000" text-anchor="middle" >cos of <tspan font-style="italic">θ</tspan><tspan font-style="italic" font-size="17.7" dy="4.5">n</tspan><tspan dy="-4.5"> for base=2608</tspan></text>
<text transform="translate(688.7,1279.6) rotate(-90)" font-size="22.4" fill="#8c564b" text-anchor="middle">Cos wave</text>
<text transform="translate(1200.6,1281.1) rotate(-90)" font-size="22.4" fill="#681c94" text-anchor="middle">Perplexity</text>
<rect x="1315.5" y="91" width="62.8" height="404" fill="#fdebcb"/>
<path d="M1705.4 214.5l-3-3-10 18-10 8-7 19-3 1-3-4-2 0-2 2-2 7-4 3-2-2-4-13-8-9-8-32-8-18-4-1-5 4-3-3-4-9-2-1-3 3-10 22-8 6-6 19-3 2-5-3-8 15-3-2-4-7-7 8-4-4-6-13-7-30-9-25-3-3-2 0-3 4-5 13-4 5-6 5-6 1-6 19-3 3-4-4-3 2-3 13-3 6-3-1-5-10-7 3-5-3-6 0-8-11-3 0-8-5-10 5-3 4-5 14-2 2-5-1-6 7-4-3-4-8-5 9-3 2-7-17-4 3-4 6-3 0-8-6-3 0-3 5-5 15-13 6-3-3-4-8-6-4-3-9-2-2-3 23 0 80 1 1 1 26 5 22 3 4 5 3 6 10 2 0 5-4 5-1 5-14 4-7 3 0 6 5 5 1 7-9 3 3 5 14 2 0 3-8 3-3 5 9 3 2 6-7 5 1 2-2 3-10 5-8 11-5 5 4 5 1 8 11 7 0 2 2 9-2 7 12 2-2 5-18 2-2 4 4 2 0 3-6 4-15 12-6 6-8 3-9 5-7 4 4 4 8 10 40 10 23 2 1 4-6 3-2 3 3 2 5 3 1 3-9 4-6 4 3 3-1 7-20 7-5 10-22 4-4 4 4 5 9 5-4 3 0 2 2 9 23 6 26 7 7 4 12 4 6 7-13 2 0 3 4 3-1 7-19 9-7 8-16 3-3 3 0 2-5 1-21 1-1 0-80-1-1-1-24z" fill="url(#po0)" fill-rule="evenodd"/><path d="M1705.4 223.5l-3-3-4 5-7 14-9 7-6 17-3 3-5-5-2 1-4 10-3 2-2-2-5-15-7-7-8-32-6-15-4-5-5 4-3 0-6-11-3-1-11 23-3 4-6 4-7 20-2 1-3-3-3 0-3 9-4 6-2-1-4-8-2 0-6 8-4-4-6-13-12-46-4-9-4-4-3 3-6 15-9 9-5 0-2 2-6 19-3 3-4-4-3 2-3 13-3 6-3-1-3-8-3-3-4 3-3 0-3-2-6 0-9-11-5-1-4-4-3 0-3 3-6 2-3 4-5 14-2 2-4-1-3 1-2 4-3 2-7-11-5 9-3 2-7-17-2 0-6 9-3 0-6-5-5-1-3 5-4 13-4 4-4 0-4 4-2 0-3-3-3-7-7-5-3-9-2-1-2 13 0 83 1 1 1 20 4 16 9 9 4 8 3 0 5-4 4 0 2-2 4-13 4-7 3 0 7 6 3 1 8-10 3 3 5 14 2 0 5-10 3 1 3 7 3 2 5-6 6 0 2-2 4-12 5-6 10-5 6 5 5 1 5 8 4 3 4-1 6 3 6-3 7 12 2-2 5-18 3-1 3 3 3-1 4-15 3-6 8-2 5-5 5-8 4-11 4-2 3 3 5 11 9 37 7 18 4 6 2 0 6-8 7 10 8-16 4 3 3-1 7-20 8-6 9-21 4-4 4 4 5 9 5-4 3 0 3 4 8 21 6 26 3 5 5 4 3 10 4 6 7-13 5 4 3-1 7-19 9-7 9-17 2-2 3 0 1-2 2-15 0-83z" fill="url(#po1)" fill-rule="evenodd"/><path d="M1704.4 228.5l-2-1-2 2-8 16-10 8-7 19-3 1-3-4-2 0-7 13-4-5-5-14-6-5-7-29-9-22-4-1-5 4-9-13-3 3-10 22-8 6-6 19-4 2-4-3-2 2-5 13-4-2-4-7-8 8-10-19-9-38-9-18-3 1-10 20-5 5-8 2-7 21-3 1-2-3-2-1-6 18-3 4-7-12-6 3-6-3-6 0-8-11-3 0-7-5-12 6-7 17-2 2-5-1-6 7-4-3-4-8-4 8-4 3-2-2-3-11-3-4-7 9-3 0-8-6-3 0-8 20-2 2-4 0-5 4-2 0-3-3-4-8-6-4-4-10-2 6 0 16-1 1 0 48 1 1 1 29 4 17 2 4 6 4 6 10 2 0 5-4 5-1 6-17 3-4 3 0 6 5 5 1 7-9 4 5 4 12 3-2 2-6 3-3 3 3 2 6 3 2 6-7 2 1 4-1 4-11 5-8 11-5 5 4 5 1 8 11 7 0 2 2 9-2 6 11 2 0 6-19 3-2 5 4 7-21 4-3 2 1 10-9 7-16 3-3 3 2 7 15 10 41 7 15 3 3 4-6 3-2 3 3 2 5 3 1 4-12 3-3 2 0 3 3 2-1 6-19 8-6 10-22 5-4 8 13 5-4 3 0 2 2 9 22 6 26 2 4 5 4 6 16 3 1 6-12 2 0 3 4 2 0 7-19 10-8 8-16 3-3 2 0 2-3 1-23 1-1 0-49-1-1 0-18z" fill="url(#po2)" fill-rule="evenodd"/><path d="M1704.4 235.5l-2-1-2 2-8 16-10 8-7 19-3 1-3-4-2 0-7 13-4-5-5-14-5-4-2-4-6-26-9-22-4-1-5 4-3-3-5-10-4 3-10 22-8 6-6 19-3 2-5-3-2 2-5 13-4-2-4-7-7 8-4-4-7-15-9-38-7-16-3-3-9 18-5 6-6 4-2-1-3 2-7 21-3 1-3-4-2 1-7 20-3-1-5-10-5 2-4 0-2-2-7 0-8-11-3 0-7-5-11 5-8 18-2 2-5-1-6 7-4-3-4-8-4 8-4 3-2-2-3-11-3-4-7 9-3 0-8-6-3 0-8 20-8 3-3 3-2 0-3-3-4-8-6-4-4-9-2 10 0 61 4 29 3 7 6 4 6 10 2 0 5-4 5-1 6-17 3-4 3 0 6 5 5 1 7-9 4 5 4 12 3-2 2-6 3-3 3 3 2 6 3 2 6-7 2 1 4-1 4-11 5-8 11-5 5 4 5 1 8 11 6 0 5 3 7-3 7 12 7-20 2-2 4 4 2 0 7-21 2-2 5 0 6-5 10-20 4-2 3 3 6 13 9 38 9 20 2 1 4-6 3-2 3 3 2 5 3 1 4-12 3-3 4 3 3-1 6-19 8-6 10-22 4-4 3 2 6 11 5-4 3 0 2 2 9 22 7 29 6 5 5 14 3 4 7-13 2 0 3 4 2 0 7-19 10-8 8-16 6-4 2-13 0-62z" fill="url(#po3)" fill-rule="evenodd"/><path d="M1705.4 246.5l-3-5-2 2-8 16-5 5-3 1-3 4-5 16-4 2-3-4-2 0-7 13-5-7-3-10-7-7-8-32-8-19-4-1-5 4-9-13-3 3-8 19-5 6-4 2-7 20-4 2-4-3-7 15-4-2-4-7-8 8-10-19-12-46-4-8-4-2-4 7-2 7-5 7-7 6-6 1-7 21-3 1-2-3-2-1-1 1-4 15-4 6-3-3-4-9-5 2-4 0-3-2-6 0-8-11-3 0-7-5-11 5-8 18-2 2-5-1-6 7-4-3-4-8-5 10-3 1-3-4-2-9-3-4-7 9-3 0-8-6-3 0-8 20-2 2-6 1-3 3-2 0-3-3-4-8-7-5-3-7-2 41 1 1 0 24 2 15 4 11 4 2 6 10 4 2 3-3 7-2 5-15 4-6 3 0 6 5 5 1 3-5 5-4 7 17 2-1 5-10 4 3 2 6 3 2 6-7 2 1 4-1 5-14 4-5 11-5 5 4 5 1 8 11 6 0 3 2 9-2 3 3 3 8 2 0 6-19 2-2 5 4 2-2 6-19 4-3 2 1 5-3 5-6 6-15 4-4 5 5 4 9 12 46 6 13 3 3 4-6 3-2 3 3 2 5 2 1 2-2 3-10 3-3 2 0 3 3 2-1 6-19 8-6 10-22 5-4 8 13 5-4 3 0 2 2 10 25 5 23 2 4 7 7 4 13 3 1 3-9 3-3 2 0 3 4 2 0 7-19 10-8 8-16 6-5 1-25 1-1z" fill="url(#po4)" fill-rule="evenodd"/><path d="M1705.4 256.5l-2-6-2 0-9 17-9 7-7 19-4 2-5-4-5 11-3 2-3-4-4-13-6-5-2-4-6-26-8-21-2-3-3 0-5 4-4-4-2-6-4-2-4 6-7 17-8 6-7 20-4 2-4-3-8 16-7-10-4 6-4 2-4-5-5-11-12-46-5-11-4-2-9 19-7 7-7 1-7 21-4 2-3-3-2 0-5 18-3 3-3-3-4-9-6 3-6-3-4 1-5-4-4-7-5-1-6-5-10 5-4 5-4 12-3 3-6 0-5 6-3-1-4-9-2 0-6 11-3-3-4-13-2-2-5 8-3 2-3-1-7-6-2 0-4 6-4 13-3 3-4 0-6 5-3-2-4-8-8-7-3-5-1 40 1 1 1 21 4 12 7 5 5 9 2 0 4-4 4 0 3-3 4-13 5-7 10 7 3 0 4-7 4-2 3 4 3 11 2 2 6-11 4 3 4 8 6-7 6 1 7-17 12-8 3 0 4 4 5 1 9 11 6 0 3 2 3 0 4-3 4 4 4 8 2-3 4-15 3-3 5 4 2-2 6-19 3-3 5 0 8-8 6-15 5-4 7 11 5 15 6 28 5 13 5 8 2 0 3-5 4-2 6 9 7-15 3 0 3 3 2-2 6-18 4-4 3-1 6-11 4-11 4-5 2 0 4 5 3 7 3 0 4-4 5 4 8 20 7 29 7 7 5 15 2 1 6-12 2-1 5 5 2-2 6-17 9-7 8-16 6-5 2-14z" fill="url(#po5)" fill-rule="evenodd"/><path d="M1704.4 269.5l-1-4-2 0-9 17-9 7-7 19-4 2-5-4-4 10-4 3-3-4-4-13-8-9-7-29-7-18-2-3-3 0-5 4-4-4-2-6-3-3-3 3-9 21-8 6-6 19-3 3-6-3-5 13-3 3-7-10-8 8-4-5-6-13-7-26 0-4-6-19-3-6-4-2-10 20-8 7-5 0-7 21-2 2-2 0-3-3-2 1-4 15-4 5-3-3-4-9-5 2-4 0-3-2-6 0-8-11-3 0-8-5-8 4-4 4-5 14-3 3-5-1-6 7-4-3-3-7-3 1-3 8-3 1-3-4-2-8-3-5-7 9-3 0-8-6-3 0-7 19-3 3-4 0-5 4-2 0-4-4-2-5-10-9 0 25 4 16 7 5 5 9 2 0 5-4 3 0 3-3 3-11 5-8 3 0 6 5 5 1 5-8 3-1 3 4 3 11 2 2 6-11 4 3 3 7 2 1 4-6 2-1 5 1 7-17 3-3 10-5 8 5 3 0 8 11 6 0 3 2 9-2 3 3 4 8 2-3 4-15 3-3 5 4 7-20 3-3 5 0 9-9 6-15 4-4 5 5 5 11 9 37 5 14 6 9 4-6 4-2 6 9 7-15 3 0 4 3 7-20 8-6 9-21 3-4 3-1 8 13 5-4 3 0 3 3 9 23 6 26 7 7 4 12 3 4 6-12 3 0 3 4 3-2 6-17 9-7 7-14 6-7 1-3z" fill="url(#po6)" fill-rule="evenodd"/><path d="M1317 111h0m1 58h0m0 47h0m0 5h0m2 159h0m0 14h0m2-183h0m0 193h0m1-171h0m0 156h0m1 56h0m2-59h0m1-148h0m0 148h0m1-210h0m0 36h0m2 31h0m1-4h0m1 175h0m0 39h0m4-218h0m0 161h0m0 4h0m1-203h0m1 48h0m1-17h0m0 170h0m1-153h0m2 151h0m1-237h0m0 8h0m0 75h0m1 152h0m0 1h0m0 15h0m0 28h0m3-204h0m0 165h0m1-157h0m1-32h0m0 183h0m1-157h0m1-16h0m0 195h0m1-185h0m2-77h0m0 68h0m3 2h0m1-8h0m1-12h0m4 177h0m0 16h0m1-172h0m1-13h0m0 14h0m1-2h0m4-7h0m0 9h0m0 151h0m1-212h0m0 49h0m0 182h0m0 69h0m1-267h0m2 14h0m2-22h0m2 30h0m1 4h0m0 166h0m1-13h0m1-183h0m2-76h0m1 87h0m3 217h0m1-234h0m0 205h0m1-155h0m1-23h0m2 199h0m1-15h0m1-11h0m1-168h0m0 2h0m1 176h0m1-9h0m2-184h0m0 198h0m1 81h0m1-96h0m1 0h0m0 4h0m1 24h0m2-36h0m1 6h0m1 3h0m1-8h0m1-268h0m4 282h0m0 89h0m1-42h0m1-248h0m0 184h0m0 5h0m0 8h0m1-17h0m0 1h0m1-164h0m2-7h0m1 186h0m2-193h0m0 1h0m1-59h0m1 56h0m4 176h0m0 38h0m1-196h0m0 149h0m1-168h0m0 10h0m0 161h0m1-158h0m0 153h0m1-156h0m0 1h0m1 199h0m1-48h0m0 137h0m2-115h0m3-166h0m1-3h0m0 167h0m3-174h0m3 4h0m0 3h0m5 197h0m1-280h0m0 82h0m0 8h0m0 178h0m0 26h0m4-39h0m1-166h0m1 2h0m1 9h0m2-108h0m2 58h0m0 198h0m1-158h0m0 168h0m0 7h0m3-18h0m1 4h0m0 3h0m1-160h0m0 6h0m4-1h0m0 161h0m1 32h0m1-200h0m0 7h0m2 172h0m0 1h0m1-198h0m0 188h0m1-6h0m1-2h0m2-172h0m1 160h0m2 0h0m2-242h0m0 83h0m1 156h0m3-146h0m2-14h0m1-8h0m1-39h0m1 41h0m1 151h0m1-165h0m1 160h0m1 144h0m1-148h0m2-175h0m1 1h0m0 179h0m1 33h0m1 35h0m2-223h0m0 159h0m0 20h0m1-238h0m0 212h0m2-164h0m0 158h0m3-215h0m0 58h0m0 153h0m1-194h0m3 189h0m0 5h0m1-176h0m2 12h0m1-3h0m1-22h0m0 180h0m1-186h0m0 27h0m0 150h0m2-162h0m1 11h0m1-17h0m2 185h0m3-167h0m1-44h0m3 256h0m1-26h0m1-157h0m1 197h0m3-221h0m0 287h0m1-26h0m2-54h0m0 12h0m1-240h0m1 82h0m0 2h0m3-3h0m2 179h0m2-192h0m0 177h0m1-152h0m2-43h0m0 31h0m0 154h0m1 1h0m1 13h0m1-163h0m1-5h0m0 154h0m1-152h0m1-12h0m1 10h0m0 12h0m2 1h0m0 146h0m2 1h0m1-175h0m0 178h0m1 84h0m2-94h0m2-194h0m0 194h0m2-164h0m1-3h0m1 8h0m0 156h0m0 77h0m2-245h0m0 181h0m1-195h0m0 182h0m1-157h0m1 215h0m1-56h0m1-10h0m4-174h0m0 174h0m1-169h0m3 162h0m1 9h0m0 16h0m1-22h0m1-10h0m0 34h0m0 20h0m1-218h0m1 165h0m2-175h0m1 7h0m0 187h0m1-191h0m0 154h0m1 11h0m1-8h0m2 2h0m2-165h0m0 309h0m1-160h0m2-150h0m7 172h0m0 6h0m0 13h0m1-20h0m4-9h0m1 13h0m2-174h0m0 6h0m1 0h0m3 8h0m1-8h0m2 169h0m0 7h0m2 19h0m2-17h0m1-152h0m0 146h0m1-177h0m0 244h0m2-38h0m1-164h0m0 156h0m0 8h0m1-158h0m3 165h0m1-3h0m1-150h0m6-32h0m0 272h0m2-231h0m0 4h0m0 173h0m1-169h0m0 1h0m0 155h0m0 17h0m1-15h0m0 12h0m1-167h0m0 167h0m3-167h0m0 182h0m3-37h0m0 15h0m1-19h0m2-160h0m3 177h0m0 57h0m1-65h0m2-182h0m2 183h0m1-13h0m1-174h0m0 3h0m2 174h0m1-182h0m0 175h0m2-162h0m2-9h0m1 179h0m1-180h0m0 161h0m2-1h0m0 11h0m2-182h0m0 5h0m0 5h0m1 207h0m2-207h0m6-18h0m1 1h0m2-17h0m3 190h0m1-153h0m0 128h0" stroke="#a8561a" stroke-width="2.7" stroke-linecap="round"/><path d="M1706.4 231.5l-2-2-5 1-13 12-10 22-5 5-13 1-6-5-4-8-9-25-7-25-3-4-5-3-6-2-6 0-5 3-10 12-11 22-16 16-5 3-7 0-6-3-5-7-7-27-11-28-3-3-5 0-12 12-10 18-9 12-12 11-23 1-11-16-2-1-7 2-10-3-5 5-7 16-7 6-15-3-21-7-11 0-4 4-5 11-5 5-7 0-8-2-6-6-4-8-3-2-3 14 0 24-1 1 1 58 3 19 9 17 3 3 6 2 11 0 3-3 7-14 5-3 8 0 24 8 15 2 4-4 9-19 3-3 5 0 4 2 10-1 5 5 2 5 6 7 8-2 15 0 9-8 8-10 14-24 10-10 5-1 5 5 4 9 12 42 3 6 7 6 6 1 10-5 13-13 11-22 6-8 7-7 4-2 4 0 10 4 4 4 4 10 7 26 11 25 8 4 9-1 5-4 12-25 10-9 7-3 3-5 2-14 1-56-1-1 0-26z" fill="url(#pr0)" fill-rule="evenodd"/><path d="M1706.4 237.5l-1-2-4 0-8 5-6 6-6 11-4 11-5 6-6 2-10-1-4-4-6-13-15-47-6-5-11-3-5 2-10 11-14 26-14 14-5 3-7 1-5-2-6-6-4-11-4-18-9-25-4-6-4-1-3 1-9 9-15 25-8 10-9 8-14 0-9 2-5-5-6-11-2-1-11 1-4-2-4 0-4 5-8 17-4 4-12-1-20-7-14-2-6 3-5 11-5 6-12 0-5-2-4-4-5-9-3-2-3 21 0 56 3 27 8 16 5 5 10 2 6-1 3-3 5-11 5-5 4-1 12 2 20 7 13 1 4-4 8-17 5-5 6 2 12-1 4 4 8 13 11-2 11 1 3-1 14-15 18-29 7-7 5-2 6 5 10 27 7 27 5 7 6 3 6 0 6-3 15-15 10-20 9-12 7-6 8 0 9 4 5 7 9 32 10 24 6 5 13-1 6-7 8-19 11-11 7-3 3-3 3-24 0-57z" fill="url(#pr1)" fill-rule="evenodd"/><path d="M1706.4 242.5l-2-3-2 0-6 3-10 10-10 22-5 5-13 1-6-5-3-5-7-18-7-26-6-13-5-3-6-2-6 0-6 4-6 7-14 26-19 18-10 1-8-6-3-6-6-24-11-29-3-3-5 0-12 12-14 24-10 12-7 5-23 1-11-16-9 1-10-3-4 4-10 20-5 3-15-3-21-7-11 0-4 4-5 11-5 5-8 0-7-2-6-6-5-9-2 0-2 10 0 69 3 19 10 16 7 3 11 0 4-5 5-11 5-4 9 0 24 8 14 2 6-6 6-14 5-6 5 0 4 2 6-1 6 1 7 12 4 4 8-2 15 0 8-7 8-10 15-25 10-10 5-1 4 3 4 8 7 20 7 27 6 8 9 3 10-5 12-12 17-30 8-8 4-2 4 0 10 4 4 4 4 9 8 29 10 23 4 3 5 1 8-1 5-4 11-24 8-8 10-5 2-3 2-13 0-69z" fill="url(#pr2)" fill-rule="evenodd"/><path d="M1706.4 246.5l-2-3-2 0-6 3-10 10-10 22-5 5-13 1-7-6-3-6-17-52-2-3-5-3-6-2-6 0-5 3-7 8-14 26-16 16-5 3-7 0-6-3-5-6-7-27-11-29-3-3-5 0-12 12-14 24-10 12-7 5-9-1-14 2-11-16-2-1-1 1-10 0-6-2-4 4-10 20-5 3-15-3-20-7-12 0-4 4-5 11-5 5-7 0-8-2-6-6-6-9-2 5 0 11-1 1 0 47 1 1 1 20 2 7 7 12 5 4 4 1 11 0 4-5 5-11 6-4 8 0 24 8 15 2 5-6 6-14 5-6 5 0 4 2 6-1 6 1 7 12 4 4 8-2 15 0 8-7 8-10 15-25 10-10 5-1 4 3 5 10 13 45 2 4 7 6 6 1 10-5 12-12 17-30 8-8 4-2 4 0 10 4 4 4 5 12 6 23 11 26 8 4 9-1 5-4 11-24 8-8 10-5 2-4 2-19 0-47z" fill="url(#pr3)" fill-rule="evenodd"/><path d="M1706.4 251.5l-2-4-3 0-5 3-10 10-10 22-5 5-13 1-6-5-4-7-18-54-11-6-8 0-11 11-14 26-16 16-6 3-6 0-6-3-5-6-8-30-7-20-3-6-5-4-5 2-6 6-19 30-14 15-3 1-10-1-6 2-6 0-5-6-3-7-4-4-12 1-6-2-4 4-8 17-5 5-13-1-24-8-12 0-4 4-5 11-6 5-5 0-9-2-6-6-6-9-2 7 0 61 2 13 8 15 3 3 5 2 12 0 4-5 5-11 6-4 7 0 28 9 12 1 5-6 6-14 5-6 4 0 4 2 8-1 5 1 7 12 4 4 9-2 14 0 8-7 8-10 15-25 10-10 5-1 4 3 5 10 6 17 7 28 7 9 9 2 9-5 12-12 12-23 6-8 7-7 7-2 9 3 6 5 6 15 4 17 12 29 3 3 10 1 6-2 3-3 11-24 11-10 7-3 2-5 1-7z" fill="url(#pr4)" fill-rule="evenodd"/><path d="M1706.4 257.5l-2-6-3 0-5 3-10 10-9 21-6 6-13 1-7-6-12-30-8-28-2-3-7-4-10-1-5 3-7 8-13 25-17 17-6 3-6 0-6-3-6-8-8-31-9-23-5-4-5 2-6 6-18 29-11 13-7 4-10-1-6 2-6 0-11-16-2-1-11 1-6-2-4 4-8 17-5 5-13-1-24-8-12 0-4 4-5 11-6 5-5 0-9-2-12-14-2 14 1 52 3 11 4 7 5 6 5 2 12 0 4-5 5-11 6-4 12 1 20 7 15 2 3-3 9-19 4-4 4 0 4 2 8-1 5 1 7 12 4 4 8-2 15 0 8-7 8-10 15-25 10-10 5-1 4 3 3 5 9 25 5 22 3 7 5 5 9 2 9-5 12-12 9-18 8-12 8-8 7-2 11 4 5 5 12 39 8 19 5 5 8 1 5-1 4-3 12-25 8-8 8-4 3-3 2-18z" fill="url(#pr5)" fill-rule="evenodd"/><path d="M1705.4 260.5l-2-3-2 0-12 9-7 12-4 11-7 8-4 1-11-1-5-5-6-13-14-45-3-4-6-3-11-1-11 11-14 26-15 15-7 4-5 0-8-4-4-5-14-47-4-9-4-4-6 2-6 6-19 30-15 15-14 0-9 2-4-3-4-8-5-6-11 1-7-2-4 4-8 17-5 5-12-1-24-8-10-1-3 1-4 4-5 11-4 4-13 0-9-7-5-8-2 7 1 51 2 7 6 10 7 5 8 1 5-1 4-5 5-11 7-4 10 1 28 9 8 0 3-3 8-17 6-6 7 2 11-1 5 5 4 8 4 4 10-2 10 1 5-2 11-12 18-29 9-9 6-2 4 3 3 5 10 28 6 24 6 7 4 2 6 0 7-4 13-13 9-18 9-13 9-8 8 0 9 4 4 4 5 13 7 26 9 21 6 4 8 0 4-1 5-6 4-11 6-11 11-10 5-2 3-4 1-9z" fill="url(#pr6)" fill-rule="evenodd"/><path d="M1316 111h0m0 253h0m2-130h0m0 132h0m0 31h0m1-193h0m1 200h0m1-207h0m0 171h0m3 5h0m1 7h0m1-132h0m1-4h0m3-46h0m0 248h0m1-233h0m0 200h0m1-13h0m1-246h0m1 230h0m0 35h0m1-165h0m0 128h0m3 29h0m2-25h0m2-191h0m0 46h0m1 145h0m3-171h0m0 33h0m0 7h0m1 130h0m1 30h0m1-165h0m3 169h0m0 9h0m4-254h0m0 53h0m0 12h0m2-88h0m2 283h0m1-214h0m1-9h0m0 26h0m0 126h0m1-213h0m0 67h0m3-83h0m0 105h0m0 212h0m0 6h0m5-273h0m0 46h0m1-35h0m0 44h0m0 126h0m1-1h0m1-207h0m0 71h0m1 12h0m0 234h0m1-236h0m0 207h0m2-76h0m2-129h0m0 138h0m4-161h0m3 26h0m3-1h0m0 126h0m3 1h0m2-212h0m0 257h0m2-30h0m0 1h0m7-187h0m0 175h0m0 75h0m3-205h0m3 151h0m0 100h0m1-253h0m2 138h0m4-209h0m0 233h0m1-237h0m0 272h0m1-342h0m1 76h0m0 54h0m1-45h0m0 40h0m0 190h0m1-202h0m1-7h0m0 15h0m1 153h0m2-155h0m1-1h0m2 183h0m1-17h0m0 88h0m1-260h0m2 147h0m1 2h0m1-167h0m1-7h0m3 35h0m1-29h0m0 23h0m1-87h0m0 37h0m0 41h0m0 162h0m0 75h0m1-217h0m0 136h0m3-8h0m0 42h0m1-171h0m1-49h0m0 51h0m1 150h0m1-183h0m2 214h0m5-175h0m1 7h0m0 126h0m0 9h0m1-136h0m1 231h0m0 8h0m1-279h0m0 166h0m0 9h0m1-146h0m2 4h0m0 158h0m0 52h0m1-237h0m1 161h0m1 34h0m1-188h0m1-87h0m0 17h0m0 82h0m2 199h0m2-188h0m0 135h0m1-133h0m0 131h0m1 66h0m0 49h0m5-243h0m2 192h0m1-214h0m2 19h0m0 130h0m1-163h0m0 156h0m0 64h0m1-280h0m1 10h0m0 79h0m1-3h0m3 123h0m2-197h0m1 209h0m0 3h0m1-241h0m1 235h0m0 7h0m1-230h0m0 210h0m2-137h0m0 136h0m1 23h0m2-202h0m4 168h0m1 104h0m1-296h0m0 57h0m1-55h0m3-49h0m0 93h0m2 0h0m3-85h0m2 213h0m8-202h0m1 49h0m2 172h0m1-6h0m5-140h0m1 5h0m0 140h0m0 29h0m0 11h0m1-31h0m4 23h0m1-13h0m0 24h0m2-187h0m2 177h0m1-125h0m0 129h0m2-145h0m0 16h0m2 139h0m0 97h0m1-43h0m1 15h0m1-70h0m1-166h0m0 36h0m1-1h0m0 185h0m1-185h0m0 2h0m2-6h0m0 2h0m1-17h0m1-6h0m1 155h0m1-2h0m3-177h0m0 45h0m4 129h0m2-128h0m1-12h0m2-50h0m1 212h0m2-156h0m2-5h0m1 1h0m0 140h0m1-166h0m0 177h0m3-22h0m4 95h0m1-266h0m0 20h0m2-3h0m1 130h0m0 42h0m3-171h0m1 124h0m1-2h0m2 2h0m0 3h0m1-134h0m1 130h0m1 108h0m1-108h0m1-136h0m2 2h0m3-8h0m1 186h0m4 47h0m2-61h0m3-15h0m4-26h0m1 2h0m0 1h0m0 58h0m2-202h0m3 16h0m3 10h0m1 139h0m0 9h0m0 3h0m0 55h0m1 20h0m1 3h0m2 27h0m1-240h0m2 152h0m4-136h0m0 6h0m0 127h0m5-141h0m0 179h0m0 76h0m2-19h0m2-252h0m0 15h0m1 27h0m0 7h0m0 130h0m5 5h0m0 54h0m2-61h0m1 4h0m0 7h0m1-10h0m2 8h0m1-153h0m0 14h0m1-2h0m0 217h0m1-213h0m0 157h0m1-158h0m0 143h0m2-147h0m0 142h0m2-138h0m4-34h0m0 21h0m1-11h0m1 13h0m3 118h0m1-150h0m1 193h0m1-48h0m0 2h0m1-132h0m0 147h0m1-12h0m1-138h0m0 224h0m1-37h0m3-35h0m1 14h0m1 51h0m1-222h0m1-2h0m1 152h0m0 5h0m0 87h0m2-375h0m0 126h0m0 1h0m2 134h0m1-138h0m1-5h0m1 7h0m0 132h0m0 94h0" stroke="#c0101e" stroke-width="2.7" stroke-linecap="round"/><path d="M1316.4 242.5l-2 14 0 58 2 17 2 7 4 5 4-3 3 0 5 7 3 0 4-4 6 0 8-6 10 9 4 1 3-3 2-5 4-3 7 14 2-1 3-9 3-3 2 1 2 5 3 3 6-7 2 0 6 6 6-3 3 2 3 0 5-5 4 0 6 5 8 1 8-7 5 4 7-2 5 10 3 1 5-14 2-2 3 3 4 8 2-1 3-7 4-2 6 10 3 2 6 0 9-12 5 3 5 1 6 6 3 0 4-3 6 3 3-3 2-5 4-2 6 11 2-1 2-5 3-3 3 2 4 7 3-2 4-6 2 0 3 5 4 3 11-11 2 0 8 12 2 0 6-7 7 1 4-3 6 6 2 0 4-6 3-1 4 9 3 2 7-12 7 7 7-4 7 7 2 0 11-11 5 0 3-16 0-58-2-17-4-9-2 0-6 8-6 4-7-7-3 0-3 3-3 0-3-5-3-2-7 12-3-2-4-9-8 8-6-6-2 0-4 3-7-1-6 7-4-4-4-8-5 1-8 9-2 0-7-8-8 8-6-9-3 2-2 5-3 2-6-11-3 1-5 9-8-2-6 3-4-5-10-5-3 0-5 8-4 4-6-1-4-4-4-8-3 1-3 7-3 2-7-11-2 2-5 14-3-1-5-10-7 2-4-3-4 1-6 6-6-1-8-6-2 0-6 6-5-2-8 2-5-6-2 0-6 7-3-3-2-5-3-1-4 11-2 2-3-2-3-10-2-2-3 2-5 9-4 0-10-9-3 0-5 5-6 0-5 5-2 0-7-8-5 3-2 0-3-3z" fill="url(#pb0)" fill-rule="evenodd"/><path d="M1316.4 250.5l-1 26-1 1 2 46 2 8 4 5 7-3 6 8 7-5 6 0 5-5 3 0 9 8 5 1 4-8 4-3 7 14 2-1 3-9 4-3 6 9 6-7 2 0 5 6 5-2 9 1 4-5 3 0 6 5 10 1 5-6 3 0 4 3 7-2 7 12 4-7 1-6 3-4 3 3 4 8 2-1 3-7 4-2 5 9 4 3 6 0 8-11 3 0 9 4 6 6 6-4 6 3 2-1 5-9 3 1 5 10 2-1 2-5 3-3 3 2 4 7 3-2 4-6 8 8 2 0 9-10 3-1 9 13 7-8 6 2 4-3 3 0 4 5 2 0 5-7 3 1 3 8 4 2 6-12 7 7 2 0 3-3 3 0 4 5 5 1 10-11 4 0 2-3 1-26 1-1-1-38-2-12-3-6-2 0-10 11-4 0-5-6-3 0-3 3-2 0-7-7-7 12-3-2-4-9-2 0-5 7-2 0-4-5-3 0-4 3-5-2-8 8-4-4-3-7-3-2-11 11-2 0-7-8-8 8-6-9-3 2-2 5-3 2-6-11-3 1-5 9-6-3-7 4-6-6-5-1-4-3-3 0-5 8-3 3-4 1-6-4-5-9-3 1-3 7-3 2-7-11-7 16-3-1-5-10-7 2-4-3-3 0-7 7-8-2-6-5-2 0-7 6-4-2-8 2-5-6-2 0-6 7-3-3-2-5-3-1-4 11-2 2-3-2-5-12-3 2-5 9-5-1-9-8-3 0-5 5-6 0-6 5-4-3-3-5-6 3-2 0-3-3z" fill="url(#pb1)" fill-rule="evenodd"/><path d="M1316.4 257.5l-1 46 2 18 4 9 3 0 4-3 6 8 3 0 6-5 3 1 8-6 3 1 7 7 5 2 3-3 3-7 3-2 7 15 2-1 2-7 4-6 6 9 2 0 3-5 3-2 6 6 3 0 3-2 7 2 7-6 6 5 10 2 7-7 2 0 5 4 5-3 3 3 4 9 2 0 4-12 3-4 2 1 5 10 8-11 3 3 2 5 6 5 4 0 4-4 3-6 3-2 10 4 6 6 3 0 3-3 8 2 7-10 3 3 4 9 2-1 4-8 2 0 5 8 2 1 6-8 2 0 5 7 3 0 10-10 2 0 8 12 2 0 6-7 7 1 4-3 8 6 3-5 4-2 5 10 2 1 7-13 3 2 4 6 7-4 7 7 2 0 12-12 2 1 3-6 1-45-3-22-3-3-12 12-2 0-7-7-7 4-4-6-3-2-7 13-3-2-5-10-6 8-8-6-4 3-8-1-3 5-4 2-8-12-2 0-10 10-3 0-6-8-2 1-3 6-3 2-6-9-2 0-2 5-3 3-2 0-6-11-7 10-8-2-3 3-3 0-6-6-10-4-10 12-6-1-9-12-8 11-5-10-3-1-4 13-3 3-8-12-5 3-5-4-2 0-7 7-8-1-8-6-7 6-3 0-3-2-7 2-4-5-3-1-3 5-4 2-6-9-7 13-3-2-5-12-3 2-3 7-3 3-5-2-9-8-8 6-3-1-3 1-4 4-2 0-7-8-4 3-3 0-3-2z" fill="url(#pb2)" fill-rule="evenodd"/><path d="M1316.4 265.5l0 42 2 12 4 7 6-4 6 8 3 0 4-4 6 0 7-6 3 1 7 7 5 2 3-3 3-7 3-2 3 4 4 11 8-14 6 9 2 0 3-5 3-2 6 6 3 0 3-2 7 2 7-6 6 5 6 2 4 0 7-7 7 4 5-3 4 4 3 8 2 0 3-10 4-6 3 2 4 9 8-11 6 9 5 4 6-1 5-9 3-2 5 3 5 1 6 6 3 0 3-3 8 2 3-6 4-4 3 3 4 9 2-1 4-8 2 0 3 3 3 6 3-2 4-6 2 0 4 6 3 2 11-11 2 0 4 4 4 8 2 0 6-7 7 1 4-3 6 6 2 0 3-5 4-2 5 10 2 1 7-13 3 2 4 6 7-4 7 7 2 0 12-12 2 1 3-8 0-42-2-12-3-4-12 12-2 0-7-7-6 4-8-8-7 13-3-2-5-10-6 8-8-6-4 3-8-1-3 5-4 2-8-12-2 0-10 10-3 0-6-8-2 1-3 6-3 2-7-10-3 6-3 3-2 0-6-11-7 10-8-2-3 3-3 0-6-6-10-4-10 12-6-1-9-12-8 11-5-10-3-1-4 13-3 3-8-12-3 2-4 0-3-3-2 0-7 7-10-2-6-5-7 6-5-2-8 2-4-5-3-1-3 5-4 2-6-9-2 2-3 9-3 2-7-14-2 1-2 5-5 6-6-3-7-7-4 1-6 5-2-1-3 1-4 4-2 0-7-8-4 3-3 0-3-2z" fill="url(#pb3)" fill-rule="evenodd"/><path d="M1317.4 266.5l-1 30 2 18 4 7 4-3 3 0 5 7 3 0 4-4 6 0 7-6 3 1 7 7 5 2 3-3 3-7 3-2 3 4 4 11 8-14 6 9 2 0 6-7 7 7 5-3 7 2 7-6 6 5 6 2 4 0 7-7 7 4 3-2 3 0 3 3 3 8 2 0 4-13 3-3 3 2 4 9 8-11 10 13 7-1 5-9 3-2 5 3 5 1 6 6 3 0 4-3 7 2 3-6 4-4 3 3 4 9 6-9 2 0 3 3 3 6 3-2 4-6 2 0 4 6 3 2 11-11 2 0 4 4 4 8 2 0 6-7 7 1 4-3 6 6 2 0 3-5 4-2 5 10 2 1 7-13 3 2 4 6 7-4 7 7 2 0 12-12 3 0 1-3 0-10 1-1-1-32-1-5-3-4-12 12-3-1-6-6-2 0-3 3-3 0-3-5-3-2-7 13-3-2-5-10-6 8-7-6-2 0-3 3-8-1-3 5-4 2-7-12-3 0-10 10-3 0-6-8-2 1-3 6-3 2-7-10-3 6-3 3-2 0-6-11-7 10-8-2-3 3-3 0-6-6-11-4-4 7-5 5-6-1-9-12-8 11-5-10-2-1-3 5-1 6-4 5-8-12-3 2-4 0-3-3-2 0-7 7-10-2-5-5-2 0-6 6-5-2-8 2-5-6-2 0-3 5-4 2-6-9-5 11-3 3-3-4-4-11-2 1-3 7-5 4-12-10-4 1-4 4-7 1-4 4-2 0-7-8-4 3-3 0-2-2z" fill="url(#pb4)" fill-rule="evenodd"/><path d="M1317.4 277.5l0 21 3 15 4 1 4-3 7 8 2 0 4-4 6 0 7-6 3 1 7 7 5 2 5-9 4-3 7 14 2-1 2-7 4-5 6 9 2 0 5-7 3 1 4 5 3 0 3-2 7 2 7-6 6 5 6 2 4 0 7-7 2 0 5 4 5-3 4 4 4 8 2-2 2-9 3-5 4 2 4 9 5-9 3-2 6 9 5 4 4 0 4-4 3-6 3-2 5 3 5 1 6 6 3 0 3-3 8 2 4-8 3-2 3 3 4 8 2-1 3-6 3-1 6 9 2-1 3-6 3-2 6 8 3 0 10-10 2 0 4 4 4 8 2 0 5-7 8 1 4-3 8 6 6-8 8 12 4-10 3-3 4 3 3 5 7-4 7 7 2 0 12-12 3-1 1-7 0-21-2-12-2-2-12 12-2 0-7-7-7 4-7-8-7 13-3-2-4-9-2 0-5 7-3-1-5-5-4 3-7-1-6 7-2 0-8-12-2 0-10 10-3 0-4-6-3-1-6 8-4-3-2-5-3-1-3 7-3 2-7-12-7 10-8-2-3 3-3 0-6-6-10-4-10 12-6-1-5-5-4-7-5 9-3 2-7-11-7 16-3-1-6-11-3 2-4 0-3-3-2 0-7 7-10-2-6-5-7 6-5-2-8 2-6-6-6 7-2 0-6-9-5 12-3 2-3-4-4-11-2 1-3 7-4 4-5-2-7-7-3-1-4 4-4 2-3-1-6 5-3 0-6-8-4 3-5-1z" fill="url(#pb5)" fill-rule="evenodd"/><path d="M1319.4 283.5l0 15 2 5 2 1 3-3 3 0 7 8 4-4 7-1 6-5 5 1 7 7 4 1 5-9 4-3 7 14 2-1 2-7 4-5 4 4 3 6 4-6 3-2 7 7 4-2 8 1 5-5 3 0 6 5 4 1 7-1 4-5 4 0 3 3 7-2 3 3 4 8 6-15 3-1 6 11 4-7 3-3 2 0 7 11 5 2 4-2 3-6 4-4 3 0 9 4 7 6 5-4 6 3 5-9 3-2 3 3 4 9 6-9 2 0 3 3 3 6 7-8 2 0 4 6 3 2 11-11 2 0 4 4 4 8 2 0 6-7 6 2 4-3 3 0 4 5 2 0 3-5 4-2 7 11 4-10 3-3 4 3 3 5 6-4 8 7 3 0 13-14 0-15-2-4-11 11-4 0-5-6-3 0-3 3-3 0-6-7-4 10-3 3-3-2-5-10-4 6-3 2-6-6-6 3-5-2-3 2-3 5-3 1-3-3-4-9-2-1-11 11-2 0-8-8-6 9-4-3-4-7-5 9-4-1-5-10-7 10-4-2-4 0-5 3-8-7-10-3-4 7-6 5-5-1-5-5-4-7-5 9-3 2-3-3-4-8-4 12-3 4-3-1-6-11-6 2-4-3-2 0-6 6-10-1-6-5-2 0-7 6-4-2-8 2-5-6-2 0-2 4-3 3-2 0-6-9-7 14-3-2-5-13-2 1-3 7-3 3-4 0-10-9-3 0-5 5-6 0-5 5-2 0-7-8z" fill="url(#pb6)" fill-rule="evenodd"/><path d="M1316 245h0m1-9h0m1 114h0m1-116h0m2 4h0m0 169h0m3-178h0m2 166h0m5-290h0m0 127h0m0 124h0m3-112h0m2-23h0m1 24h0m4-23h0m5 179h0m0 16h0m3-270h0m1 217h0m2 110h0m1-237h0m0 1h0m0 141h0m3-5h0m2-26h0m1 134h0m2-242h0m1-19h0m2 15h0m3-77h0m2 17h0m1 25h0m1 45h0m0 118h0m1-2h0m1-124h0m1 111h0m1-2h0m1-199h0m0 83h0m0 5h0m0 104h0m1 1h0m4 37h0m3-28h0m0 10h0m2-114h0m1-9h0m1-79h0m0 217h0m0 39h0m2-21h0m4-179h0m0 16h0m5 117h0m0 6h0m1-6h0m0 11h0m1-162h0m0 47h0m2-109h0m0 326h0m5-105h0m4-225h0m2 74h0m1 34h0m0 174h0m5-231h0m0 244h0m9-78h0m3-4h0m3-107h0m2 111h0m2-124h0m0 20h0m4-22h0m0 157h0m1-22h0m1 28h0m1-30h0m2-112h0m2 112h0m1-110h0m1-71h0m0 177h0m1 0h0m0 20h0m5-207h0m0 7h0m0 64h0m0 115h0m3-129h0m1-34h0m0 54h0m0 106h0m3 114h0m1-90h0m1-133h0m0 109h0m0 54h0m2-164h0m4 115h0m1 16h0m4-189h0m1 39h0m1 25h0m1-22h0m0 124h0m5-5h0m0 8h0m0 3h0m0 10h0m1-169h0m1 184h0m2 21h0m1-45h0m2-129h0m3 122h0m4 1h0m4 15h0m8-121h0m0 132h0m1-125h0m1 118h0m5-164h0m0 35h0m2-33h0m5 140h0m3-134h0m2 140h0m2-118h0m4 12h0m1-8h0m2 12h0m0 110h0m1-115h0m0 5h0m2-77h0m1 75h0m0 108h0m8 7h0m1-11h0m0 15h0m5-131h0m0 116h0m1-122h0m6 191h0m9-72h0m5-110h0m1 6h0m0 114h0m1-120h0m2 11h0m6-27h0m1-37h0m2 39h0m1-10h0m0 22h0m1 116h0m2-121h0m0 122h0m0 24h0m4-5h0m4 19h0m1-45h0m1 2h0m3-115h0m2-25h0m0 139h0m3 99h0m6-257h0m1 18h0m0 146h0m2-116h0m0 121h0m0 4h0m1-5h0m0 9h0m3-15h0m3-3h0m3 29h0m0 101h0m1-236h0m3-4h0m7 7h0m1 112h0m1-111h0m2-15h0m0 132h0m3-125h0m1-14h0m1 144h0m2-128h0m2-9h0m3 124h0m0 57h0m2-60h0m1-2h0m3-110h0m2-1h0m1-7h0m0 7h0m0 117h0m0 18h0m4-14h0m4-119h0m0 109h0m0 11h0m2-3h0m4-128h0m0 120h0m2-109h0m1 108h0m0 3h0m1-106h0m1-149h0m0 263h0m1-8h0m2 8h0m2 21h0m1-21h0m8-149h0m0 131h0" stroke="#12309e" stroke-width="2.7" stroke-linecap="round"/>
<path d="M1331.2 91V495" stroke="#000" stroke-width="2.8" stroke-dasharray="17.1 5 2.7 5"/>
<path d="M1361.6 91V495" stroke="#000" stroke-width="2.8" stroke-dasharray="17.1 5 2.7 5"/>
<rect x="1548.8" y="98.8" width="170.8" height="78" rx="3.3" fill="#fff" fill-opacity="0.97" stroke="#ccc" stroke-width="1.3"/>
<circle cx="1572.1" cy="114" r="4.9" fill="#0b44de"/>
<text x="1602.2" y="119.1" font-size="16.7" fill="#725757" text-anchor="start" >First 92 Dims</text>
<circle cx="1572.1" cy="138.5" r="4.9" fill="#e20808"/>
<text x="1602.2" y="143.6" font-size="16.7" fill="#725757" text-anchor="start" >Last 36 Dims</text>
<circle cx="1572.1" cy="163" r="4.9" fill="#c65a12"/>
<text x="1602.2" y="168.1" font-size="16.7" fill="#725757" text-anchor="start" >Overall Dims</text>
<clipPath id="cp20"><rect x="1295.9" y="91" width="432" height="404"/></clipPath>
<path d="M1315.5 299.2 L1315.6 364.4 L1315.7 401.9 L1315.7 423.9 L1315.8 437.9 L1315.8 449.4 L1315.9 458.2 L1315.9 464.2 L1316 468.1 L1316.1 470.5 L1316.1 472 L1316.2 473.1 L1316.2 474 L1316.3 474.7 L1316.4 475.1 L1316.4 475.4 L1316.5 475.6 L1316.5 475.6 L1316.6 475.5 L1316.7 475.5 L1316.7 475.5 L1316.8 475.4 L1316.8 475.3 L1316.9 475.2 L1317 475.2 L1317 475.1 L1317.1 475 L1317.1 474.9 L1317.2 474.8 L1317.2 474.7 L1317.3 474.6 L1317.4 474.5 L1317.4 474.4 L1317.5 474.3 L1317.5 474.2 L1317.6 474.1 L1317.7 474 L1317.7 473.9 L1317.8 473.8 L1317.8 473.7 L1317.9 473.6 L1318 473.5 L1318.1 473.4 L1318.1 473.2 L1318.2 473.1 L1318.3 473 L1318.4 472.9 L1318.5 472.8 L1318.6 472.6 L1318.7 472.5 L1318.8 472.4 L1318.9 472.3 L1319 472.1 L1319.1 472 L1319.2 471.9 L1319.3 471.8 L1319.4 471.7 L1319.5 471.5 L1319.7 471.4 L1319.8 471.3 L1319.9 471.2 L1320.1 471 L1320.2 470.9 L1320.3 470.7 L1320.5 470.6 L1320.6 470.5 L1320.8 470.3 L1321 470.2 L1321.1 470 L1321.3 469.9 L1321.5 469.7 L1321.7 469.5 L1321.9 469.4 L1322.1 469.2 L1322.3 469.1 L1322.5 468.9 L1322.7 468.7 L1322.9 468.5 L1323.1 468.4 L1323.4 468.2 L1323.6 468 L1323.9 467.8 L1324.1 467.7 L1324.4 467.5 L1324.7 467.3 L1325 467.1 L1325.3 467 L1325.6 466.8 L1325.9 466.6 L1326.2 466.3 L1326.5 466.1 L1326.9 465.9 L1327.2 465.7 L1327.6 465.4 L1327.9 465.2 L1328.3 465 L1328.7 464.8 L1329.1 464.6 L1329.6 464.4 L1330 464.3 L1330.5 464.1 L1330.9 464 L1331.4 463.9 L1331.9 463.8 L1332.4 463.7 L1332.9 463.7 L1333.5 463.6 L1334 463.5 L1334.6 463.5 L1335.2 463.4 L1335.8 463.3 L1336.4 463.3 L1337.1 463.2 L1337.8 463.2 L1338.4 463.1 L1339.2 463.1 L1339.9 463.1 L1340.7 463 L1341.4 463 L1342.2 462.9 L1343.1 462.9 L1343.9 462.9 L1344.8 462.8 L1345.7 462.8 L1346.7 462.7 L1347.6 462.7 L1348.6 462.7 L1349.7 462.7 L1350.7 462.7 L1351.8 462.6 L1352.9 462.6 L1354.1 462.6 L1355.3 462.6 L1356.5 462.6 L1357.8 462.5 L1359.1 462.5 L1360.5 462.4 L1361.9 462.2 L1363.3 461 L1364.8 459 L1366.4 456.4 L1367.9 452.5 L1369.6 447.6 L1371.2 441.8 L1373 435 L1374.8 426.6 L1376.6 415.6 L1378.5 401.1 L1380.5 378.1 L1382.5 343.1 L1384.6 304 L1386.7 262.6 L1388.9 219.5 L1391.2 183 L1393.6 154.7 L1396 128.3 L1398.5 95.2 L1401.1 46.5" stroke="#741c98" stroke-width="2.5" fill="none" stroke-linejoin="round" clip-path="url(#cp20)"/>
<rect x="1295.9" y="91" width="432" height="404" fill="none" stroke="#000" stroke-width="1.5"/>
<path d="M1315.5 495v4.8M1392.2 495v4.8M1468.9 495v4.8M1545.7 495v4.8M1622.4 495v4.8M1699.1 495v4.8M1295.9 466.1h-4.8M1295.9 408.4h-4.8M1295.9 350.7h-4.8M1295.9 293h-4.8M1295.9 235.3h-4.8M1295.9 177.6h-4.8M1295.9 119.9h-4.8M1727.9 487.2h4.8M1727.9 409.5h4.8M1727.9 331.8h4.8M1727.9 254.2h4.8M1727.9 176.5h4.8M1727.9 98.8h4.8" stroke="#000" stroke-width="1.3" fill="none"/>
<text x="1315.5" y="515.6" font-size="13.5" fill="#000" text-anchor="middle" >0</text>
<text x="1392.2" y="515.6" font-size="13.5" fill="#000" text-anchor="middle" >20000</text>
<text x="1468.9" y="515.6" font-size="13.5" fill="#000" text-anchor="middle" >40000</text>
<text x="1545.7" y="515.6" font-size="13.5" fill="#000" text-anchor="middle" >60000</text>
<text x="1622.4" y="515.6" font-size="13.5" fill="#000" text-anchor="middle" >80000</text>
<text x="1699.1" y="515.6" font-size="13.5" fill="#000" text-anchor="middle" >100000</text>
<text x="1285.4" y="471" font-size="13.5" fill="#8c564b" text-anchor="end" >−15</text>
<text x="1285.4" y="413.3" font-size="13.5" fill="#8c564b" text-anchor="end" >−10</text>
<text x="1285.4" y="355.6" font-size="13.5" fill="#8c564b" text-anchor="end" >−5</text>
<text x="1285.4" y="297.9" font-size="13.5" fill="#8c564b" text-anchor="end" >0</text>
<text x="1285.4" y="240.2" font-size="13.5" fill="#8c564b" text-anchor="end" >5</text>
<text x="1285.4" y="182.5" font-size="13.5" fill="#8c564b" text-anchor="end" >10</text>
<text x="1285.4" y="124.8" font-size="13.5" fill="#8c564b" text-anchor="end" >15</text>
<text x="1738.2" y="492.1" font-size="13.5" fill="#681c94" text-anchor="start" >0</text>
<text x="1738.2" y="414.4" font-size="13.5" fill="#681c94" text-anchor="start" >20</text>
<text x="1738.2" y="336.7" font-size="13.5" fill="#681c94" text-anchor="start" >40</text>
<text x="1738.2" y="259.1" font-size="13.5" fill="#681c94" text-anchor="start" >60</text>
<text x="1738.2" y="181.4" font-size="13.5" fill="#681c94" text-anchor="start" >80</text>
<text x="1738.2" y="103.7" font-size="13.5" fill="#681c94" text-anchor="start" >100</text>
<text x="1511.9" y="81.6" font-size="25.3" fill="#000" text-anchor="middle" >mean of <tspan font-style="italic">q</tspan><tspan font-style="italic" font-size="17.7" dy="7.1">t</tspan><tspan font-style="italic" font-size="17.7" dx="-4.7" dy="-16.5">T</tspan><tspan font-style="italic" dy="9.4" dx="1.2">k</tspan><tspan font-size="17.7" dy="4.5">0</tspan><tspan dy="-4.5"> for base=40000</tspan></text>
<text transform="translate(1246.4,293) rotate(-90)" font-size="22.4" fill="#8c564b" text-anchor="middle">Attention score</text>
<text transform="translate(1786.4,294.5) rotate(-90)" font-size="22.4" fill="#681c94" text-anchor="middle">Perplexity</text>
<rect x="1315.5" y="584.3" width="392.8" height="404" fill="#fdebcb"/>
<path d="M1318.4 715.8l-3 14 0 14-1 1 0 71 1 1 1 21 3 8 81-6 5 4 9 19 7 8 16 5 22 4 15 1 22-3 14-5 15-30 7-6 13 2 43 1 11 2 11 4 31 3 62 0 3-4 3-27 0-70-1-1-1-22-4-8-72 0-19-2-20-6-52-2-16-4-75 1-27 7-24-3-22 3-52 3z" fill="url(#po0)" fill-rule="evenodd"/><path d="M1706.4 729.8l-3-4-79-1-14-2-16-5-50-2-17-4-74 1-29 7-8 0-9-3-13 0-36 4-38 2-3 5-2 16 0 74 2 15 2 4 16 0 1-1 13 0 50-5 7 4 9 16 6 7 14 4 33 5 24-2 17-5 12-23 5-6 6-3 23 3 38 1 20 6 20 2 71 0 2-4 2-16 0-74z" fill="url(#po1)" fill-rule="evenodd"/><path d="M1706.4 737.8l-3-5-66 0-1-1-21-1-21-6-8-1-43-1-11-3-79 1-30 7-5 0-12-4-12 0-23 3-50 3-2 1-2 5-1 24-1 1 0 39 1 1 1 24 2 5 16 0 1-1 12 0 1-1 12 0 40-4 4 2 6 6 6 10 6 5 39 5 19 0 24-4 5-3 9-16 6-6 5-2 26 3 37 1 20 6 20 1 1 1 69 0 3-5 1-24 1-1 0-40-1-1z" fill="url(#po2)" fill-rule="evenodd"/><path d="M1706.4 745.8l-2-6-75-1-18-2-21-6-41-1-21-4-12 1-5 2-59 0-30 7-6-1-9-4-17 0-12 2-58 4-3 7-1 10 1 63 3 7 58-4 12-2 14 0 5 3 13 13 9 0 18-3 58-1 14-13 7-3 20 3 42 1 21 6 17 2 73 1 3-1 3-16z" fill="url(#po3)" fill-rule="evenodd"/><path d="M1706.4 755.8l-1-6-3-4-71 0-19-2-20-6-41-1-24-4-7 1-11 4-57 0-26 6-7 0-17-7-38 4-40 2-5 2-2 8 0 55 1 6 2 3 36-2 36-4 13 0 14 8 7 0 29-13 28-1 21 4 29-2 13 3 43 1 21 6 17 2 75 1 2-1 2-9z" fill="url(#po4)" fill-rule="evenodd"/><path d="M1705.4 759.8l-3-6-71 0-19-2-20-6-41-1-1-1-10 0-6-2-10 0-19 9-54 0-27 5-5-1-8-6-10-4-37 4-40 2-4 1-2 5 0 12-1 1 1 34 2 5 36-2 36-4 23 0 2 1 7-2 23-14 9-3 20-1 30 4 15 9 25 5 43 1 21 6 17 2 14 0 1 1 60 0 3-6 0-11 1-1z" fill="url(#po5)" fill-rule="evenodd"/><path d="M1409.4 769.8l-2-4-6-5-79 6-3 6 0 15 2 5 14 0 1-1 13 0 52-5 4-2 4-5zM1523.4 765.8l0 7 3 6 8 5 8 2 51 2 20 6 20 1 1 1 68 0 2-5 0-16-2-5-65 0-1-1-21-1-21-6-8-1-43-1-7-2-8 1-4 4z" fill="url(#po6)" fill-rule="evenodd"/><path d="M1316 878h0m1 14h0m1 69h0m1-88h0m1-178h0m0 187h0m1-179h0m0 163h0m1-153h0m0 143h0m3-244h0m1 258h0m1-174h0m2-61h0m0 249h0m1-33h0m0 97h0m2-247h0m1-43h0m0 48h0m0 191h0m2-218h0m1-45h0m0 32h0m0 184h0m1 41h0m2-278h0m0 95h0m0 2h0m0 176h0m1 45h0m1-302h0m0 345h0m2-268h0m0 1h0m1-43h0m0 185h0m1-143h0m0 5h0m1 178h0m1-198h0m0 18h0m1 2h0m1 0h0m1 152h0m1-183h0m0 168h0m1-140h0m1-16h0m1 273h0m1 1h0m1-366h0m2 66h0m0 33h0m0 219h0m1-212h0m1 4h0m0 144h0m2-223h0m2 226h0m1-169h0m0 160h0m1-170h0m0 31h0m2-40h0m0 188h0m0 9h0m1-179h0m0 22h0m1 139h0m1-149h0m0 152h0m0 101h0m1-296h0m0 250h0m1-62h0m2-145h0m0 238h0m1-78h0m1-262h0m1 110h0m1 177h0m0 65h0m1-99h0m2-215h0m0 73h0m0 144h0m3-152h0m1-33h0m0 10h0m0 174h0m1-151h0m0 8h0m1-67h0m0 326h0m1-125h0m1 8h0m1-159h0m0 155h0m1-3h0m1-155h0m0 172h0m1-19h0m3-215h0m1 81h0m2-62h0m0 198h0m1 26h0m0 38h0m1-60h0m1-146h0m1-97h0m0 245h0m0 89h0m3-25h0m1-218h0m1-43h0m2 233h0m1-217h0m0 210h0m1-174h0m0 159h0m1 9h0m1-166h0m0 162h0m1-232h0m0 38h0m1-4h0m0 11h0m0 247h0m1-57h0m2-179h0m2 180h0m1-166h0m1 169h0m1 1h0m0 2h0m1-185h0m2 191h0m0 9h0m1-12h0m1-5h0m0 9h0m0 14h0m0 18h0m2-221h0m0 179h0m1-259h0m2 15h0m0 298h0m2-269h0m0 293h0m2-348h0m0 65h0m0 3h0m0 221h0m1-194h0m2-24h0m0 26h0m0 3h0m1-62h0m1 263h0m1-251h0m0 242h0m1-12h0m0 19h0m1-201h0m2 186h0m1 16h0m0 6h0m1-18h0m3 28h0m2-241h0m1-48h0m1 61h0m1-13h0m0 205h0m0 10h0m4-197h0m0 264h0m1-359h0m1 89h0m1-79h0m1 64h0m2 258h0m1-23h0m1-23h0m0 15h0m2-215h0m1 204h0m1-194h0m0 185h0m2-184h0m1-44h0m0 30h0m0 11h0m1-7h0m1 219h0m0 44h0m1-258h0m1 225h0m2-40h0m0 43h0m1-253h0m0 21h0m1 207h0m3 54h0m1-296h0m0 37h0m0 256h0m2-253h0m1 222h0m2-34h0m1-270h0m0 264h0m2-180h0m0 181h0m2-194h0m2 256h0m1-291h0m1-19h0m0 68h0m2 4h0m1 212h0m1-2h0m0 16h0m3-232h0m1 178h0m0 8h0m1 28h0m1-256h0m0 275h0m1-30h0m0 24h0m1-224h0m0 234h0m1-18h0m1-53h0m1-161h0m1 233h0m1-82h0m1-155h0m1 155h0m1 37h0m1-258h0m4 230h0m0 70h0m0 32h0m2-271h0m0 151h0m0 125h0m1-346h0m0 74h0m0 146h0m1-234h0m0 229h0m0 5h0m0 100h0m2-98h0m1-193h0m2-38h0m0 72h0m1-29h0m2 33h0m1 161h0m0 110h0m2-347h0m1 31h0m0 57h0m2 142h0m1 8h0m1 132h0m1-300h0m0 223h0m1-63h0m0 42h0m2-189h0m0 1h0m1 186h0m1 27h0m2-69h0m3 87h0m1-88h0m1 4h0m2 8h0m0 1h0m1-174h0m0 162h0m2 2h0m2 7h0m1-167h0m0 173h0m2-184h0m0 174h0m2-161h0m0 5h0m0 10h0m0 219h0m2-23h0m1-40h0m1-8h0m2 42h0m2-184h0m0 136h0m0 21h0m3-16h0m1 27h0m1-195h0m0 164h0m1 4h0m1-176h0m1 34h0m0 136h0m0 31h0m1-165h0m3-27h0m7 228h0m2-207h0m0 159h0m1-5h0m0 1h0m1-11h0m0 1h0m0 113h0m2-106h0m2-143h0m0 152h0m1 7h0m1-158h0m1 151h0m1-186h0m0 175h0m0 2h0m0 4h0m0 16h0m0 43h0m4-240h0m0 18h0m0 171h0m0 70h0m1-234h0m1 4h0m1-5h0m0 13h0m1 231h0m3-21h0m3-75h0m2-138h0m2 162h0m1 60h0m1-225h0m0 142h0m1-134h0m1-1h0m0 155h0m1-20h0m0 15h0m1 50h0m1-200h0m2 142h0m1-155h0m0 217h0m1-247h0m0 40h0m0 143h0m0 26h0m4-167h0m2 139h0m2 87h0m0 28h0m1-270h0m2 9h0m1 7h0m1-18h0m0 157h0m0 5h0m2-4h0m0 8h0m2-168h0m1 157h0m1-141h0m0 191h0m1-208h0m0 170h0m1-148h0m0 135h0m0 54h0m3-196h0m1 159h0m3-176h0m2 166h0m1-5h0m2-151h0m0 9h0m1-11h0m0 151h0m0 114h0m1-261h0m1 157h0m1-170h0m3 168h0m2-142h0m2 144h0m0 31h0m3 21h0m1-217h0m0 167h0m3 6h0m0 5h0m1 5h0m1-174h0m0 6h0m3 161h0m2-179h0m3 166h0m1-159h0m0 17h0m1 159h0m1-28h0m0 3h0m1 2h0m1 1h0m0 4h0" stroke="#a8561a" stroke-width="2.7" stroke-linecap="round"/><path d="M1315.4 739.8l-2 20 0 41 1 1 0 13 4 12 12 0 1-1 13 0 1-1 54-4 4 5 3 21 6 13 11 8 23 6 18 3 15 0 29-6 9-10 8-17 5-20 6-6 9 2 43 1 11 2 11 4 30 3 64 0 4-7 2-19 0-42-2-19-2-5-3-2-71 0-19-2-21-6-51-2-17-5-13-2-55 0-18 3-17 5-23 0-35 4-40 2-5 1z" fill="url(#pr0)" fill-rule="evenodd"/><path d="M1315.4 744.8l-1 62 1 9 3 7 29-1 52-5 5 5 5 25 8 12 7 4 30 7 29 1 20-4 7-3 10-15 9-30 4-4 61 3 20 6 21 1 1 1 68 0 4-8 1-62-2-12-3-4-69 0-1-1-20-1-20-6-52-2-17-5-13-2-57 0-13 2-21 6-26 0-35 4-39 2-4 2z" fill="url(#pr1)" fill-rule="evenodd"/><path d="M1315.4 749.8l0 25-1 1 1 35 3 9 30-1 48-5 6 1 4 6 4 22 5 9 6 5 5 2 26 6 25 2 20-3 12-4 6-7 5-10 6-23 3-6 5-3 8 2 51 2 21 6 20 1 1 1 69 0 3-4 2-41-1-1 0-24-2-8-2-2-68 0-1-1-21-1-20-6-9-1-42-1-18-5-15-2-53 0-14 2-22 6-26 0-36 4-39 2-2 1z" fill="url(#pr2)" fill-rule="evenodd"/><path d="M1316.4 748.8l-1 56 1 8 3 5 83-6 5 6 5 23 8 11 7 3 27 6 30 1 24-6 5-5 5-9 7-26 2-4 4-3 18 2 42 1 20 6 18 2 19 0 1 1 52 0 4-1 2-5 1-56-1-8-3-5-76-1-17-2-21-6-42-1-34-7-60 0-34 8-19-1-23 3-59 4z" fill="url(#pr3)" fill-rule="evenodd"/><path d="M1316.4 752.8l0 56 3 6 15 0 1-1 12 0 1-1 12 0 41-4 6 4 3 7 3 17 8 11 8 3 27 6 24 1 13-2 16-5 8-13 6-24 2-4 6-4 11 2 52 2 20 6 20 1 1 1 69 0 3-7 0-56-3-7-68 0-1-1-21-1-20-6-51-2-25-6-67 0-28 7-28 0-48 5-26 1-4 3z" fill="url(#pr4)" fill-rule="evenodd"/><path d="M1317.4 751.8l-1 50 3 11 59-4 12-2 14 0 6 5 5 22 7 9 11 4 25 5 19 1 15-2 15-4 5-5 3-6 6-27 4-4 5-2 18 3 42 1 21 6 17 2 18 0 1 1 55 0 4-4 1-51-1-7-2-3-75-1-18-2-21-6-51-2-18-5-72 0-27 7-22-1-22 3-59 4zM1454.4 803.8l0-2 3-3 13-2 13 1 8 4-3 4-8 3-17 0z" fill="url(#pr5)" fill-rule="evenodd"/><path d="M1317.4 757.8l0 45 2 6 15 0 1-1 13 0 1-1 56-4 5 2 5 5 3 16 2 5 3 3 12 4 26 5 21 0 24-5 5-6 2-7 0-7-4-4-15 5-11 2-23 0-16-4-8-4-4-4 0-6 6-6 15-6 9-1 36 1 11 2 6 5 5 2 10-1 12 3 51 2 21 6 20 1 1 1 68 0 3-6 0-46-3-6-67 0-1-1-21-1-20-6-51-2-20-5-74 0-27 7-27-1-36 4-38 2-2 1z" fill="url(#pr6)" fill-rule="evenodd"/><path d="M1321 870h0m1-184h0m0 44h0m3 169h0m5-217h0m0 174h0m1-137h0m4 6h0m2-11h0m0 113h0m3 2h0m3-238h0m0 258h0m1-135h0m0 14h0m0 101h0m1 5h0m3-109h0m1 174h0m3-235h0m1 162h0m1-124h0m0 18h0m2 142h0m2-134h0m1-6h0m0 103h0m0 11h0m0 10h0m1-20h0m0 9h0m2-107h0m0 97h0m6-172h0m2 253h0m1-45h0m1-37h0m2-104h0m1 4h0m0 110h0m3-108h0m0 132h0m3-24h0m1 18h0m1-159h0m2 148h0m3-122h0m1 161h0m1-154h0m3-90h0m0 37h0m0 51h0m4-25h0m1-11h0m0 141h0m1 12h0m1-120h0m1 5h0m1-16h0m1 118h0m3 44h0m1-12h0m3-2h0m1-133h0m1 167h0m0 23h0m3 51h0m3-308h0m0 68h0m1-9h0m2-36h0m2 29h0m0 13h0m1 2h0m3 151h0m0 36h0m2-190h0m9 152h0m4 1h0m1-200h0m2-28h0m1 35h0m2 208h0m3-173h0m2-9h0m1-5h0m0 11h0m1-11h0m0 11h0m1 3h0m1 206h0m4-27h0m2-179h0m0 170h0m1-203h0m1-15h0m0 47h0m1-2h0m0 2h0m3-38h0m0 32h0m2-89h0m0 263h0m1-2h0m1 27h0m1-25h0m2 59h0m3-59h0m3-5h0m2-230h0m0 250h0m1-20h0m1-177h0m1-66h0m0 71h0m1-4h0m0 4h0m7-11h0m3 188h0m4-220h0m1 209h0m1-227h0m0 51h0m2 21h0m4-47h0m7 201h0m1-158h0m0 189h0m1-32h0m7-18h0m1-1h0m1 4h0m2-159h0m0 5h0m0 16h0m0 164h0m2-60h0m1 11h0m6 9h0m2-130h0m1-15h0m0 177h0m1-54h0m1-181h0m0 34h0m5 47h0m0 101h0m1 0h0m3-98h0m1-43h0m1-8h0m1 151h0m0 16h0m3-123h0m2 107h0m0 2h0m2 42h0m3-193h0m1 23h0m1 138h0m1-10h0m0 17h0m4-17h0m1-103h0m0 125h0m2-122h0m0 107h0m2-9h0m4-133h0m1 135h0m1 76h0m1-180h0m1 210h0m1-97h0m1-116h0m0 4h0m0 4h0m4 97h0m1-96h0m0 1h0m1-2h0m4 136h0m1-31h0m3 31h0m0 50h0m0 4h0m1-87h0m0 28h0m1-132h0m2 151h0m0 15h0m1-162h0m1-24h0m1 142h0m1-126h0m0 258h0m3-86h0m1-172h0m2 144h0m3-34h0m2-136h0m0 34h0m0 4h0m1 101h0m5-147h0m0 37h0m0 119h0m0 45h0m1-30h0m2-132h0m2-51h0m0 45h0m0 5h0m1-4h0m0 8h0m0 104h0m0 29h0m3-132h0m1 2h0m0 108h0m2-9h0m4-155h0m3 58h0m0 162h0m1-40h0m4-20h0m1-1h0m0 84h0m3-1h0m4-187h0m1-13h0m0 115h0m6 18h0m1-130h0m0 110h0m2 27h0m1-125h0m4-47h0m0 47h0m0 169h0m5-167h0m2-6h0m2-45h0m0 37h0m0 5h0m0 124h0m1-16h0m0 52h0m1-155h0m1 103h0m1 11h0m3 6h0m1-170h0m1 150h0m1 21h0m3-4h0m1 96h0m1-209h0m3 97h0m1 6h0m1-123h0m3 118h0m0 14h0" stroke="#c0101e" stroke-width="2.7" stroke-linecap="round"/><path d="M1706.4 737.8l-3-4-3-1-12 0-11 5-24 16-8 2-8-1-20-10-6-6-15-34-3-3-6-1-14 4-13 1-7-1-11-4-8 0-10 6-45 49-12 6-7 0-20-5-23 0-7-4-19-16-35-14-10-2-10 0-12 2-6 3-3 14-1 64 1 1 1 23 2 6 2 1 11-3 19 0 11 3 31 13 16 14 11 6 18-1 21 5 10 0 9-4 5-4 28-32 19-18 7-3 5 0 16 5 12 0 21-5 4 2 3 4 9 22 6 12 3 3 18 10 6 2 9 0 10-4 23-16 9-3 15 1 1-2 3-28 0-47z" fill="url(#pb0)" fill-rule="evenodd"/><path d="M1706.4 748.8l-2-5-2-1-12-1-14 6-22 15-6 2-9 0-16-7-11-8-6-11-7-19-5-8-10-1-14 4-14 0-12-4-8-1-10 5-15 15-30 34-12 7-12 0-21-5-9 1-11-1-8-5-16-14-34-14-8-2-24 1-8 4-2 9 0 11-1 1 1 59 3 9 16-3 12 0 18 5 14 7 8 2 6 3 17 15 7 4 24 0 19 5 6 0 13-6 13-13 23-27 9-9 10-6 9 0 7 3 11 2 11-1 14-4 6 0 5 5 11 27 8 11 21 11 13 0 12-6 20-14 6-2 13 0 1 1 3-1 3-20 0-47z" fill="url(#pb1)" fill-rule="evenodd"/><path d="M1706.4 757.8l-1-4-3-3-12-1-9 3-27 18-6 2-9 0-16-7-11-8-6-11-7-19-5-8-10-1-14 4-14 0-15-5-5 0-10 5-25 26-12 15-12 11-8 4-12 0-20-5-18 1-11-6-13-12-7-4-5-1-28-12-23-1-12 3-3 6-1 9 1 55 2 5 17-3 11 0 18 5 14 7 12 4 19 16 7 4 24 0 19 5 7 0 12-6 13-13 23-27 9-9 10-6 9 0 7 3 10 2 6 0 21-5 5 0 5 5 15 34 10 8 12 6 10 2 6-1 9-4 18-13 11-5 15 1 2-2 2-11z" fill="url(#pb2)" fill-rule="evenodd"/><path d="M1706.4 768.8l-1-6-3-4-13-1-10 4-18 13-10 5-4 1-11-1-11-5-13-9-6-11-7-19-6-9-5-1-20 5-11 0-15-5-7 0-8 4-18 18-26 30-8 6-7 3-10 0-19-5-13 0-1 1-8-1-10-6-15-13-37-15-15-2-19 3-3 4-1 6 0 42 2 8 19-3 14 1 10 3 19 9 8 2 10 7 12 11 10 4 18-1 20 5 8 0 11-5 15-15 30-34 9-6 10-1 16 5 10 0 23-5 7 7 13 31 6 6 19 10 10 1 13-5 18-13 12-5 14 1 2-2z" fill="url(#pb3)" fill-rule="evenodd"/><path d="M1705.4 773.8l-1-4-4-3-11 0-12 5-16 12-10 5-5 1-10-1-11-5-13-9-7-13-7-19-5-7-5-1-14 4-16 1-16-5-7 0-5 2-9 7-37 42-9 7-7 3-9 0-20-5-14 0-1 1-7-1-6-3-22-18-8-2-22-10-15-3-14 1-9 2-2 2-1 36 2 4 20-3 19 3 35 15 17 15 9 4 19-1 19 5 10 0 10-5 15-15 24-28 15-12 10-1 16 5 10 0 23-5 7 7 12 29 7 8 16 9 7 2 7 0 14-6 13-10 9-5 6-2 14 1 2-4z" fill="url(#pb4)" fill-rule="evenodd"/><path d="M1317 717h0m0 112h0m1-130h0m0 140h0m1 134h0m1-339h0m0 245h0m4-35h0m0 38h0m2-32h0m2-174h0m1 168h0m2-4h0m1-144h0m2 159h0m7-172h0m2 179h0m1-150h0m1 2h0m1 130h0m1-167h0m0 201h0m2-172h0m0 226h0m1-90h0m2 2h0m4 80h0m3-251h0m2 22h0m3 28h0m1 2h0m1-10h0m1 138h0m1-157h0m4 147h0m2 3h0m2-2h0m1 6h0m1-121h0m2 178h0m2-9h0m2-262h0m1 211h0m1-121h0m0 5h0m1 3h0m1-91h0m0 248h0m2-26h0m1-130h0m1-10h0m2 125h0m0 47h0m2-43h0m1-124h0m1-48h0m0 172h0m3 19h0m1-154h0m0 154h0m3-12h0m0 17h0m1-143h0m2 4h0m0 138h0m2-127h0m2 136h0m1-143h0m1-1h0m0 12h0m1-4h0m0 1h0m0 3h0m1-31h0m8 25h0m1-12h0m6 143h0m2-2h0m1-149h0m0 140h0m0 14h0m1-126h0m1-7h0m3 232h0m1-234h0m0 6h0m2-8h0m1 3h0m3 127h0m0 9h0m1-143h0m2 12h0m3 5h0m2 115h0m1-131h0m0 154h0m1-147h0m1-85h0m0 88h0m1-11h0m2 19h0m3-56h0m2 236h0m1-59h0m0 3h0m1 28h0m2-193h0m1 38h0m0 2h0m0 122h0m4-144h0m1 234h0m2-94h0m0 6h0m2-132h0m1 202h0m0 4h0m1-213h0m0 6h0m1 115h0m3-197h0m0 267h0m1-46h0m2-10h0m1-176h0m0 41h0m0 160h0m3-187h0m0 145h0m1-7h0m2-150h0m0 26h0m0 122h0m1-120h0m2-16h0m0 9h0m0 10h0m5 119h0m1 40h0m2-56h0m2 3h0m1 139h0m1-263h0m3 149h0m6-35h0m1-123h0m1-3h0m3 135h0m0 28h0m1-48h0m1-119h0m2 126h0m4-128h0m3 113h0m3-136h0m2 13h0m0 3h0m1-27h0m0 17h0m0 133h0m5 2h0m2-144h0m1 148h0m2-135h0m0 10h0m0 126h0m2-123h0m1-11h0m0 135h0m1-127h0m1 130h0m2-155h0m1 13h0m2 166h0m1-163h0m0 3h0m0 12h0m0 136h0m0 106h0m1-113h0m3-143h0m0 131h0m0 13h0m3 134h0m8-270h0m1-21h0m2 5h0m0 154h0m1-8h0m2 119h0m1-103h0m1-24h0m1 2h0m1-123h0m1-1h0m1-4h0m1-7h0m1 6h0m0 199h0m1-70h0m4-132h0m0 129h0m3-129h0m2 17h0m0 6h0m2 3h0m1 2h0m2-21h0m0 26h0m3-21h0m0 2h0m1 18h0m3 18h0m3 118h0m0 9h0m2-171h0m1-4h0m0 165h0m1-183h0m1 69h0m2-63h0m2 186h0m1-127h0m0 2h0m0 3h0m0 152h0m0 3h0m1-160h0m3 0h0m4-18h0m1 11h0m9 136h0m0 14h0m2 1h0m2-178h0m2 234h0m1-200h0m1 15h0m2-5h0m2-20h0m0 196h0m1-181h0m0 122h0m5-185h0m1 188h0m0 7h0m1-4h0m4-160h0m0 30h0m2 119h0m1-178h0m0 171h0m1 69h0m4-213h0m1 142h0m1-125h0m2 126h0m3-266h0m0 88h0m0 54h0m1 122h0m2 30h0m1-33h0m0 5h0m2-120h0m1 112h0m2 31h0m2-147h0m0 190h0m4-215h0m2 20h0m0 130h0m1-130h0m1 4h0m0 152h0m2-23h0m1-134h0m2 14h0" stroke="#12309e" stroke-width="2.7" stroke-linecap="round"/>
<path d="M1413.7 584.3V988.3" stroke="#000" stroke-width="2.8" stroke-dasharray="17.1 5 2.7 5"/>
<path d="M1603.2 584.3V988.3" stroke="#000" stroke-width="2.8" stroke-dasharray="17.1 5 2.7 5"/>
<rect x="1548.8" y="592.1" width="170.8" height="78" rx="3.3" fill="#fff" fill-opacity="0.97" stroke="#ccc" stroke-width="1.3"/>
<circle cx="1572.1" cy="607.3" r="4.9" fill="#0b44de"/>
<text x="1602.2" y="612.4" font-size="16.7" fill="#725757" text-anchor="start" >First 92 Dims</text>
<circle cx="1572.1" cy="631.8" r="4.9" fill="#e20808"/>
<text x="1602.2" y="636.9" font-size="16.7" fill="#725757" text-anchor="start" >Last 36 Dims</text>
<circle cx="1572.1" cy="656.3" r="4.9" fill="#c65a12"/>
<text x="1602.2" y="661.4" font-size="16.7" fill="#725757" text-anchor="start" >Overall Dims</text>
<path d="M1315.5 792.5 L1315.9 857.7 L1316.3 895.2 L1316.6 917.2 L1317 931.2 L1317.4 942.7 L1317.7 951.5 L1318.1 957.5 L1318.5 961.4 L1318.9 963.8 L1319.2 965.3 L1319.6 966.4 L1320 967.3 L1320.3 968 L1320.7 968.4 L1321.1 968.7 L1321.4 968.9 L1321.8 968.9 L1322.2 968.8 L1322.5 968.8 L1322.9 968.8 L1323.3 968.7 L1323.6 968.6 L1324 968.5 L1324.4 968.5 L1324.8 968.4 L1325.1 968.3 L1325.5 968.2 L1325.9 968.1 L1326.2 968 L1326.6 967.9 L1327 967.8 L1327.3 967.7 L1327.7 967.6 L1328.1 967.5 L1328.4 967.4 L1328.8 967.3 L1329.2 967.2 L1329.6 967.1 L1329.9 967 L1330.3 966.9 L1330.7 966.8 L1331.2 966.7 L1331.6 966.6 L1332.1 966.5 L1332.5 966.4 L1333 966.3 L1333.5 966.1 L1334 966 L1334.5 965.9 L1335.1 965.8 L1335.6 965.7 L1336.2 965.6 L1336.8 965.5 L1337.4 965.4 L1338 965.2 L1338.6 965.1 L1339.3 965 L1339.9 964.9 L1340.6 964.8 L1341.3 964.7 L1342 964.6 L1342.8 964.5 L1343.6 964.4 L1344.3 964.2 L1345.2 964.1 L1346 964 L1346.9 963.9 L1347.7 963.7 L1348.6 963.6 L1349.6 963.4 L1350.5 963.3 L1351.5 963.2 L1352.5 963 L1353.6 962.9 L1354.7 962.7 L1355.8 962.6 L1356.9 962.4 L1358.1 962.3 L1359.3 962.1 L1360.5 962 L1361.7 961.8 L1363.1 961.7 L1364.4 961.5 L1365.8 961.4 L1367.2 961.2 L1368.6 961 L1370.1 960.9 L1371.7 960.7 L1373.3 960.5 L1374.9 960.4 L1376.6 960.2 L1378.3 960 L1380 959.9 L1381.9 959.7 L1383.7 959.5 L1385.7 959.3 L1387.6 959.1 L1389.7 958.9 L1391.7 958.7 L1393.9 958.5 L1396.1 958.3 L1398.4 958.1 L1400.7 957.9 L1403.1 957.7 L1405.6 957.6 L1408.1 957.4 L1410.7 957.3 L1413.4 957.2 L1416.2 957.2 L1419 957.1 L1421.9 957 L1424.9 956.9 L1428 956.9 L1431.2 956.8 L1434.4 956.8 L1437.8 956.7 L1441.2 956.7 L1444.8 956.6 L1448.4 956.6 L1452.1 956.5 L1456 956.5 L1460 956.4 L1464 956.4 L1468.2 956.3 L1472.5 956.3 L1476.9 956.3 L1481.5 956.2 L1486.2 956.2 L1491 956.2 L1495.9 956.1 L1501 956.1 L1506.2 956.1 L1511.6 956 L1517.1 956 L1522.8 956 L1528.6 956 L1534.6 956 L1540.8 955.9 L1547.2 955.9 L1553.7 955.9 L1560.4 955.9 L1567.3 955.9 L1574.4 955.8 L1581.7 955.8 L1589.2 955.8 L1596.9 955.7 L1604.8 955.6 L1613 954.5 L1621.4 952.8 L1630 950.7 L1638.9 947.6 L1648 943.5 L1657.3 938.7 L1667 933.2 L1676.9 926.7 L1687.1 918.7 L1697.5 908.7 L1708.3 895.5" stroke="#741c98" stroke-width="2.5" fill="none" stroke-linejoin="round"/>
<rect x="1295.9" y="584.3" width="432" height="404" fill="none" stroke="#000" stroke-width="1.5"/>
<path d="M1315.5 988.3v4.8M1375.5 988.3v4.8M1435.4 988.3v4.8M1495.3 988.3v4.8M1555.3 988.3v4.8M1615.2 988.3v4.8M1675.1 988.3v4.8M1295.9 959.4h-4.8M1295.9 901.7h-4.8M1295.9 844h-4.8M1295.9 786.3h-4.8M1295.9 728.6h-4.8M1295.9 670.9h-4.8M1295.9 613.2h-4.8M1727.9 980.5h4.8M1727.9 902.8h4.8M1727.9 825.1h4.8M1727.9 747.5h4.8M1727.9 669.8h4.8M1727.9 592.1h4.8" stroke="#000" stroke-width="1.3" fill="none"/>
<text x="1315.5" y="1008.9" font-size="13.5" fill="#000" text-anchor="middle" >0</text>
<text x="1375.5" y="1008.9" font-size="13.5" fill="#000" text-anchor="middle" >2500</text>
<text x="1435.4" y="1008.9" font-size="13.5" fill="#000" text-anchor="middle" >5000</text>
<text x="1495.3" y="1008.9" font-size="13.5" fill="#000" text-anchor="middle" >7500</text>
<text x="1555.3" y="1008.9" font-size="13.5" fill="#000" text-anchor="middle" >10000</text>
<text x="1615.2" y="1008.9" font-size="13.5" fill="#000" text-anchor="middle" >12500</text>
<text x="1675.1" y="1008.9" font-size="13.5" fill="#000" text-anchor="middle" >15000</text>
<text x="1285.4" y="964.3" font-size="13.5" fill="#8c564b" text-anchor="end" >−15</text>
<text x="1285.4" y="906.6" font-size="13.5" fill="#8c564b" text-anchor="end" >−10</text>
<text x="1285.4" y="848.9" font-size="13.5" fill="#8c564b" text-anchor="end" >−5</text>
<text x="1285.4" y="791.2" font-size="13.5" fill="#8c564b" text-anchor="end" >0</text>
<text x="1285.4" y="733.5" font-size="13.5" fill="#8c564b" text-anchor="end" >5</text>
<text x="1285.4" y="675.8" font-size="13.5" fill="#8c564b" text-anchor="end" >10</text>
<text x="1285.4" y="618.1" font-size="13.5" fill="#8c564b" text-anchor="end" >15</text>
<text x="1738.2" y="985.4" font-size="13.5" fill="#681c94" text-anchor="start" >0</text>
<text x="1738.2" y="907.7" font-size="13.5" fill="#681c94" text-anchor="start" >20</text>
<text x="1738.2" y="830" font-size="13.5" fill="#681c94" text-anchor="start" >40</text>
<text x="1738.2" y="752.4" font-size="13.5" fill="#681c94" text-anchor="start" >60</text>
<text x="1738.2" y="674.7" font-size="13.5" fill="#681c94" text-anchor="start" >80</text>
<text x="1738.2" y="597" font-size="13.5" fill="#681c94" text-anchor="start" >100</text>
<text x="1511.9" y="575" font-size="25.3" fill="#000" text-anchor="middle" >in first 16k</text>
<text transform="translate(1246.4,786.3) rotate(-90)" font-size="22.4" fill="#8c564b" text-anchor="middle">Attention score</text>
<text transform="translate(1786.4,787.8) rotate(-90)" font-size="22.4" fill="#681c94" text-anchor="middle">Perplexity</text>
<path d="M1315.5 1412.6l1.3 1.7 1.3 4.9 1.3 7.4 1.2 9 1.3 9.2 1.3 8.4 1.2 6.2 1.3 3.4 1.3 0 1.3-3.4 1.2-6.2 1.3-8.4 1.3-9.2 1.3-9 1.2-7.4 1.3-4.9 1.3-1.7 1.2 1.7 1.3 4.9 1.3 7.4 1.3 9 1.2 9.2 1.3 8.4 1.3 6.2 1.2 3.4 1.3 0 1.3-3.4 1.3-6.2 1.2-8.4 1.3-9.2 1.3-9 1.3-7.4 1.2-4.9 1.3-1.7 1.3 1.7 1.2 4.9 1.3 7.4 1.3 9 1.3 9.2 1.2 8.4 1.3 6.2 1.3 3.4 1.3 0 1.2-3.4 1.3-6.2 1.3-8.4 1.2-9.2 1.3-9 1.3-7.4 1.3-4.9 1.2-1.7 1.3 1.7 1.3 4.9 1.2 7.4 1.3 9 1.3 9.2 1.3 8.4 1.2 6.2 1.3 3.4 1.3 0 1.3-3.4 1.2-6.2 1.3-8.4 1.3-9.2 1.2-9 1.3-7.4 1.3-4.9 1.3-1.7 1.2 1.7 1.3 4.9 1.3 7.4 1.3 9 1.2 9.2 1.3 8.4 1.3 6.2 1.2 3.4 1.3 0 1.3-3.4 1.3-6.2 1.2-8.4 1.3-9.2 1.3-9 1.3-7.4 1.2-4.9 1.3-1.7 1.3 1.7 1.2 4.9 1.3 7.4 1.3 9 1.3 9.2 1.2 8.4 1.3 6.2 1.3 3.4 1.2 0 1.3-3.4 1.3-6.2 1.3-8.4 1.2-9.2 1.3-9 1.3-7.4 1.3-4.9 1.2-1.7 1.3 1.7 1.3 4.9 1.2 7.4 1.3 9 1.3 9.2 1.3 8.4 1.2 6.2 1.3 3.4 1.3 0 1.3-3.4 1.2-6.2 1.3-8.4 1.3-9.2 1.2-9 1.3-7.4 1.3-4.9 1.3-1.7 1.2 1.7 1.3 4.9 1.3 7.4 1.2 9 1.3 9.2 1.3 8.4 1.3 6.2 1.2 3.4 1.3 0 1.3-3.4 1.3-6.2 1.2-8.4 1.3-9.2 1.3-9 1.2-7.4 1.3-4.9 1.3-1.7 1.3 1.7 1.2 4.9 1.3 7.4 1.3 9 1.3 9.2 1.2 8.4 1.3 6.2 1.3 3.4 1.2 0 1.3-3.4 1.3-6.2 1.3-8.4 1.2-9.2 1.3-9 1.3-7.4 1.3-4.9 1.2-1.7 1.3 1.7 1.3 4.9 1.2 7.4 1.3 9 1.3 9.2 1.3 8.4 1.2 6.2 1.3 3.4 1.3 0 1.2-3.4 1.3-6.2 1.3-8.4 1.3-9.2 1.2-9 1.3-7.4 1.3-4.9 1.3-1.7 1.2 1.7 1.3 4.9 1.3 7.4 1.2 9 1.3 9.2 1.3 8.4 1.3 6.2 1.2 3.4 1.3 0 1.3-3.4 1.3-6.2 1.2-8.4 1.3-9.2 1.3-9 1.2-7.4 1.3-4.9 1.3-1.7 1.3 1.7 1.2 4.9 1.3 7.4 1.3 9 1.2 9.2 1.3 8.4 1.3 6.2 1.3 3.4 1.2 0 1.3-3.4 1.3-6.2 1.3-8.4 1.2-9.2 1.3-9 1.3-7.4 1.2-4.9 1.3-1.7 1.3 1.7 1.3 4.9 1.2 7.4 1.3 9 1.3 9.2 1.3 8.4 1.2 6.2 1.3 3.4 1.3 0 1.2-3.4 1.3-6.2 1.3-8.4 1.3-9.2 1.2-9 1.3-7.4 1.3-4.9 1.3-1.7 1.2 1.7 1.3 4.9 1.3 7.4 1.2 9 1.3 9.2 1.3 8.4 1.3 6.2 1.2 3.4 1.3 0 1.3-3.4 1.2-6.2 1.3-8.4 1.3-9.2 1.3-9 1.2-7.4 1.3-4.9 1.3-1.7 1.3 1.7 1.2 4.9 1.3 7.4 1.3 9 1.2 9.2 1.3 8.4 1.3 6.2 1.3 3.4 1.2 0 1.3-3.4 1.3-6.2 1.3-8.4 1.2-9.2 1.3-9 1.3-7.4 1.2-4.9 1.3-1.7 1.3 1.7 1.3 4.9 1.2 7.4 1.3 9 1.3 9.2 1.2 8.4 1.3 6.2 1.3 3.4 1.3 0 1.2-3.4 1.3-6.2 1.3-8.4 1.3-9.2 1.2-9 1.3-7.4 1.3-4.9 1.2-1.7 1.3 1.7 1.3 4.9 1.3 7.4 1.2 9 1.3 9.2 1.3 8.4 1.3 6.2 1.2 3.4 1.3 0 1.3-3.4 1.2-6.2 1.3-8.4 1.3-9.2 1.3-9 1.2-7.4 1.3-4.9 1.3-1.7 1.2 1.7 1.3 4.9 1.3 7.4 1.3 9 1.2 9.2 1.3 8.4 1.3 6.2 1.3 3.4 1.2 0 1.3-3.4 1.3-6.2 1.2-8.4 1.3-9.2 1.3-9 1.3-7.4 1.2-4.9 1.3-1.7 1.3 1.7 1.3 4.9 .8 4.5" stroke="#f27a1e" stroke-width="1.65" fill="none"/>
<path d="M1315.5 1349.3l1.6 .2 1.6 .6 1.5 1.1 1.6 1.4 1.5 1.9 1.6 2.2 1.6 2.5 1.5 2.7 1.6 3 1.5 3.1 1.6 3.3 1.6 3.3 1.5 3.3 1.6 3.2 1.5 3.2 1.6 2.9 1.6 2.8 1.5 2.5 1.6 2.2 1.5 1.8 1.6 1.5 1.6 1.1 1.5 .6 1.6 .2 1.5-.2 1.6-.6 1.6-1.1 1.5-1.5 1.6-1.8 1.5-2.2 1.6-2.5 1.6-2.8 1.5-2.9 1.6-3.2 1.5-3.2 1.6-3.3 1.6-3.3 1.5-3.3 1.6-3.1 1.5-3 1.6-2.7 1.6-2.5 1.5-2.2 1.6-1.9 1.5-1.4 1.6-1.1 1.6-.6 1.5-.2 1.6 .2 1.5 .6 1.6 1.1 1.6 1.4 1.5 1.9 1.6 2.2 1.5 2.5 1.6 2.7 1.6 3 1.5 3.1 1.6 3.3 1.5 3.3 1.6 3.3 1.6 3.2 1.5 3.2 1.6 2.9 1.5 2.8 1.6 2.5 1.6 2.2 1.5 1.8 1.6 1.5 1.5 1.1 1.6 .6 1.6 .2 1.5-.2 1.6-.6 1.5-1.1 1.6-1.5 1.6-1.8 1.5-2.2 1.6-2.5 1.5-2.8 1.6-2.9 1.6-3.2 1.5-3.2 1.6-3.3 1.5-3.3 1.6-3.3 1.6-3.1 1.5-3 1.6-2.7 1.5-2.5 1.6-2.2 1.6-1.9 1.5-1.4 1.6-1.1 1.5-.6 1.6-.2 1.6 .2 1.5 .6 1.6 1.1 1.5 1.4 1.6 1.9 1.6 2.2 1.5 2.5 1.6 2.7 1.5 3 1.6 3.1 1.6 3.3 1.5 3.3 1.6 3.3 1.5 3.2 1.6 3.2 1.6 2.9 1.5 2.8 1.6 2.5 1.5 2.2 1.6 1.8 1.6 1.5 1.5 1.1 1.6 .6 1.5 .2 1.6-.2 1.6-.6 1.5-1.1 1.6-1.5 1.6-1.8 1.5-2.2 1.6-2.5 1.5-2.8 1.6-2.9 1.6-3.2 1.5-3.2 1.6-3.3 1.5-3.3 1.6-3.3 1.6-3.1 1.5-3 1.6-2.7 1.5-2.5 1.6-2.2 1.6-1.9 1.5-1.4 1.6-1.1 1.5-.6 1.6-.2 1.6 .2 1.5 .6 1.6 1.1 1.5 1.4 1.6 1.9 1.6 2.2 1.5 2.5 1.6 2.7 1.5 3 1.6 3.1 1.6 3.3 1.5 3.3 1.6 3.3 1.5 3.2 1.6 3.2 1.6 2.9 1.5 2.8 1.6 2.5 1.5 2.2 1.6 1.8 1.6 1.5 1.5 1.1 1.6 .6 1.5 .2 1.6-.2 1.6-.6 1.5-1.1 1.6-1.5 1.5-1.8 1.6-2.2 1.6-2.5 1.5-2.8 1.6-2.9 1.5-3.2 1.6-3.2 1.6-3.3 1.5-3.3 1.6-3.3 1.5-3.1 1.6-3 1.6-2.7 1.5-2.5 1.6-2.2 1.5-1.9 1.6-1.4 1.6-1.1 1.5-.6 1.6-.2 1.5 .2 1.6 .6 1.6 1.1 1.5 1.4 1.6 1.9 1.5 2.2 1.6 2.5 1.6 2.7 1.5 3 1.6 3.1 1.5 3.3 1.6 3.3 1.6 3.3 1.5 3.2 1.6 3.2 1.5 2.9 1.6 2.8 1.6 2.5 1.5 2.2 1.6 1.8 1.5 1.5 1.6 1.1 1.6 .6 1.5 .2 1.6-.2 1.5-.6 1.6-1.1 1.6-1.5 1.5-1.8 1.6-2.2 1.5-2.5 1.6-2.8 1.6-2.9 1.5-3.2 1.6-3.2 1.5-3.3 1.6-3.3 1.6-3.3 1.5-3.1 1.6-3 1.5-2.7 1.6-2.5 1.6-2.2 1.5-1.9 1.6-1.4 1.5-1.1 1.6-.6 1.6-.2 1.5 .2 1.6 .6 1.5 1.1 1.6 1.4 1.6 1.9 1.5 2.2 1.6 2.5 1.5 2.7 1.6 3 1.6 3.1 1.5 3.3 1.2 2.4" stroke="#c4561a" stroke-width="1.65" fill="none"/>
<path d="M1315.5 1285.9l5.4 .2 5.4 .7 5.4 1.1 5.4 1.4 5.4 1.9 5.4 2.2 5.4 2.4 5.4 2.8 5.4 3 5.4 3.1 5.4 3.3 5.4 3.3 5.4 3.3 5.4 3.2 5.4 3.2 5.4 2.9 5.5 2.8 5.4 2.5 5.4 2.2 5.4 1.8 5.4 1.5 5.4 1 5.4 .7 5.4 .2 5.4-.2 5.4-.7 5.4-1 5.4-1.5 5.4-1.8 5.4-2.2 5.4-2.5 5.4-2.8 5.4-2.9 5.4-3.2 5.4-3.2 5.4-3.3 5.4-3.3 5.4-3.3 5.4-3.1 5.4-3 5.4-2.8 5.4-2.4 5.4-2.2 5.4-1.9 5.4-1.4 5.4-1.1 5.4-.7 5.4-.2 5.4 .2 5.4 .7 5.4 1.1 5.4 1.4 5.4 1.9 5.4 2.2 5.4 2.4 5.4 2.8 5.4 3 5.4 3.1 5.4 3.3 5.4 3.3 5.4 3.3 5.4 3.2 5.4 3.2 5.4 2.9 5.4 2.8 5.4 2.5 5.4 2.2 5.4 1.8 5.4 1.5 5.4 1 5.4 .7 5.4 .2 3.9-.1" stroke="#7f3012" stroke-width="1.65" fill="none"/>
<path d="M1315.5 1222.6l6.4 .2 6.4 .7 6.4 1 6.3 1.5 6.4 1.8 6.4 2.2 6.3 2.5 6.4 2.8 6.4 2.9 6.4 3.2 6.3 3.2 6.4 3.3 6.4 3.3 6.4 3.3 6.3 3.1 6.4 3 6.4 2.8 6.4 2.4 6.3 2.2 6.4 1.9 6.4 1.4 6.3 1.1 6.4 .7 6.4 .2 6.4-.2 6.3-.7 6.4-1.1 6.4-1.4 6.4-1.9 6.3-2.2 6.4-2.4 6.4-2.8 6.4-3 6.3-3.1 6.4-3.3 6.4-3.3 6.3-3.3 6.4-3.2 6.4-3.2 6.4-2.9 6.3-2.8 6.4-2.5 6.4-2.2 6.4-1.8 6.3-1.5 6.4-1 6.4-.7 6.4-.2 6.3 .2 6.4 .7 6.4 1 6.3 1.5 6.4 1.8 6.4 2.2 6.4 2.5 6.3 2.8 6.4 2.9 6.4 3.2 6.4 3.2 6.3 3.3 6.4 3.3 4 2.1" stroke="#6e3616" stroke-width="1.65" fill="none" stroke-dasharray="6.1 2.6"/>
<path d="M1315.5 1159.3l6.6 0 6.5 .1 6.6 0 6.5 .1 6.6 .2 6.5 .2 6.6 .2 6.5 .2 6.5 .3 6.6 .3 6.5 .3 6.6 .4 6.5 .4 6.6 .4 6.5 .4 6.6 .5 6.5 .5 6.6 .6 6.5 .5 6.5 .6 6.6 .6 6.5 .6 6.6 .7 6.5 .7 6.6 .6 6.5 .8 6.6 .7 6.5 .8 6.6 .7 6.5 .8 6.5 .8 6.6 .8 6.5 .9 6.6 .8 6.5 .9 6.6 .8 6.5 .9 6.6 .9 6.5 .9 6.6 .9 6.5 .9 6.5 .9 6.6 .9 6.5 .9 6.6 .9 6.5 .9 6.6 .9 6.5 .9 6.6 .9 6.5 .9 6.6 .8 6.5 .9 6.5 .9 6.6 .8 6.5 .9 6.6 .8 6.5 .8 6.6 .8 6.5 .8 6.6 .8" stroke="#a85a22" stroke-width="1.65" fill="none" stroke-dasharray="6.1 2.6"/>
<path d="M1315.5 1096l6.6 0 6.5 0 6.6 0 6.5 0 6.6 0 6.5 0 6.6 0 6.5 0 6.5 0 6.6 0 6.5 .1 6.6 0 6.5 0 6.6 0 6.5 0 6.6 .1 6.5 0 6.6 0 6.5 .1 6.5 0 6.6 0 6.5 .1 6.6 0 6.5 0 6.6 .1 6.5 0 6.6 .1 6.5 0 6.6 .1 6.5 0 6.5 0 6.6 .1 6.5 .1 6.6 0 6.5 .1 6.6 0 6.5 .1 6.6 0 6.5 .1 6.6 .1 6.5 0 6.5 .1 6.6 .1 6.5 0 6.6 .1 6.5 .1 6.6 .1 6.5 0 6.6 .1 6.5 .1 6.6 .1 6.5 .1 6.5 0 6.6 .1 6.5 .1 6.6 .1 6.5 .1 6.6 .1 6.5 .1 6.6 .1" stroke="#e08a34" stroke-width="1.65" fill="none" stroke-dasharray="6.1 2.6"/>
<path d="M1413.7 1077.6V1481.6" stroke="#000" stroke-width="2.8" stroke-dasharray="17.1 5 2.7 5"/>
<path d="M1603.2 1077.6V1481.6" stroke="#000" stroke-width="2.8" stroke-dasharray="17.1 5 2.7 5"/>
<rect x="1564.6" y="1084.5" width="156.4" height="133.7" rx="2.7" fill="#fff" fill-opacity="0.97" stroke="#ccc" stroke-width="1.2"/>
<path d="M1569.3 1096.7h29" stroke="#f27a1e" stroke-width="1.65"/>
<text x="1608.9" y="1101.7" font-size="14.0" fill="#000" text-anchor="start" ><tspan font-style="italic">cos</tspan>(<tspan font-style="italic">θ</tspan><tspan font-style="italic" font-size="9.8" dy="3.1">n</tspan><tspan font-style="italic" dy="-3.1">t</tspan>) n=60</text>
<path d="M1569.3 1118.4h29" stroke="#c4561a" stroke-width="1.65"/>
<text x="1608.9" y="1123.4" font-size="14.0" fill="#000" text-anchor="start" ><tspan font-style="italic">cos</tspan>(<tspan font-style="italic">θ</tspan><tspan font-style="italic" font-size="9.8" dy="3.1">n</tspan><tspan font-style="italic" dy="-3.1">t</tspan>) n=75</text>
<path d="M1569.3 1140h29" stroke="#7f3012" stroke-width="1.65"/>
<text x="1608.9" y="1145" font-size="14.0" fill="#000" text-anchor="start" ><tspan font-style="italic">cos</tspan>(<tspan font-style="italic">θ</tspan><tspan font-style="italic" font-size="9.8" dy="3.1">n</tspan><tspan font-style="italic" dy="-3.1">t</tspan>) n=90</text>
<path d="M1569.3 1161.7h29" stroke="#6e3616" stroke-width="1.65" stroke-dasharray="6.1 2.6"/>
<text x="1608.9" y="1166.7" font-size="14.0" fill="#000" text-anchor="start" ><tspan font-style="italic">cos</tspan>(<tspan font-style="italic">θ</tspan><tspan font-style="italic" font-size="9.8" dy="3.1">n</tspan><tspan font-style="italic" dy="-3.1">t</tspan>) n=92</text>
<path d="M1569.3 1183.3h29" stroke="#a85a22" stroke-width="1.65" stroke-dasharray="6.1 2.6"/>
<text x="1608.9" y="1188.3" font-size="14.0" fill="#000" text-anchor="start" ><tspan font-style="italic">cos</tspan>(<tspan font-style="italic">θ</tspan><tspan font-style="italic" font-size="9.8" dy="3.1">n</tspan><tspan font-style="italic" dy="-3.1">t</tspan>) n=108</text>
<path d="M1569.3 1205h29" stroke="#e08a34" stroke-width="1.65" stroke-dasharray="6.1 2.6"/>
<text x="1608.9" y="1210" font-size="14.0" fill="#000" text-anchor="start" ><tspan font-style="italic">cos</tspan>(<tspan font-style="italic">θ</tspan><tspan font-style="italic" font-size="9.8" dy="3.1">n</tspan><tspan font-style="italic" dy="-3.1">t</tspan>) n=126</text>
<path d="M1315.5 1285.8 L1315.9 1351 L1316.3 1388.5 L1316.6 1410.5 L1317 1424.5 L1317.4 1436 L1317.7 1444.8 L1318.1 1450.8 L1318.5 1454.7 L1318.9 1457.1 L1319.2 1458.6 L1319.6 1459.7 L1320 1460.6 L1320.3 1461.3 L1320.7 1461.7 L1321.1 1462 L1321.4 1462.2 L1321.8 1462.2 L1322.2 1462.1 L1322.5 1462.1 L1322.9 1462.1 L1323.3 1462 L1323.6 1461.9 L1324 1461.8 L1324.4 1461.8 L1324.8 1461.7 L1325.1 1461.6 L1325.5 1461.5 L1325.9 1461.4 L1326.2 1461.3 L1326.6 1461.2 L1327 1461.1 L1327.3 1461 L1327.7 1460.9 L1328.1 1460.8 L1328.4 1460.7 L1328.8 1460.6 L1329.2 1460.5 L1329.6 1460.4 L1329.9 1460.3 L1330.3 1460.2 L1330.7 1460.1 L1331.2 1460 L1331.6 1459.9 L1332.1 1459.8 L1332.5 1459.7 L1333 1459.6 L1333.5 1459.4 L1334 1459.3 L1334.5 1459.2 L1335.1 1459.1 L1335.6 1459 L1336.2 1458.9 L1336.8 1458.8 L1337.4 1458.7 L1338 1458.5 L1338.6 1458.4 L1339.3 1458.3 L1339.9 1458.2 L1340.6 1458.1 L1341.3 1458 L1342 1457.9 L1342.8 1457.8 L1343.6 1457.7 L1344.3 1457.5 L1345.2 1457.4 L1346 1457.3 L1346.9 1457.2 L1347.7 1457 L1348.6 1456.9 L1349.6 1456.7 L1350.5 1456.6 L1351.5 1456.5 L1352.5 1456.3 L1353.6 1456.2 L1354.7 1456 L1355.8 1455.9 L1356.9 1455.7 L1358.1 1455.6 L1359.3 1455.4 L1360.5 1455.3 L1361.7 1455.1 L1363.1 1455 L1364.4 1454.8 L1365.8 1454.7 L1367.2 1454.5 L1368.6 1454.3 L1370.1 1454.2 L1371.7 1454 L1373.3 1453.8 L1374.9 1453.7 L1376.6 1453.5 L1378.3 1453.3 L1380 1453.2 L1381.9 1453 L1383.7 1452.8 L1385.7 1452.6 L1387.6 1452.4 L1389.7 1452.2 L1391.7 1452 L1393.9 1451.8 L1396.1 1451.6 L1398.4 1451.4 L1400.7 1451.2 L1403.1 1451 L1405.6 1450.9 L1408.1 1450.7 L1410.7 1450.6 L1413.4 1450.5 L1416.2 1450.5 L1419 1450.4 L1421.9 1450.3 L1424.9 1450.2 L1428 1450.2 L1431.2 1450.1 L1434.4 1450.1 L1437.8 1450 L1441.2 1450 L1444.8 1449.9 L1448.4 1449.9 L1452.1 1449.8 L1456 1449.8 L1460 1449.7 L1464 1449.7 L1468.2 1449.6 L1472.5 1449.6 L1476.9 1449.6 L1481.5 1449.5 L1486.2 1449.5 L1491 1449.5 L1495.9 1449.4 L1501 1449.4 L1506.2 1449.4 L1511.6 1449.3 L1517.1 1449.3 L1522.8 1449.3 L1528.6 1449.3 L1534.6 1449.3 L1540.8 1449.2 L1547.2 1449.2 L1553.7 1449.2 L1560.4 1449.2 L1567.3 1449.2 L1574.4 1449.1 L1581.7 1449.1 L1589.2 1449.1 L1596.9 1449 L1604.8 1448.9 L1613 1447.8 L1621.4 1446.1 L1630 1444 L1638.9 1440.9 L1648 1436.8 L1657.3 1432 L1667 1426.5 L1676.9 1420 L1687.1 1412 L1697.5 1402 L1708.3 1388.8" stroke="#741c98" stroke-width="2.9" fill="none" stroke-linejoin="round"/>
<rect x="1295.9" y="1077.6" width="432" height="404" fill="none" stroke="#000" stroke-width="1.5"/>
<path d="M1315.5 1481.6v4.8M1375.5 1481.6v4.8M1435.4 1481.6v4.8M1495.3 1481.6v4.8M1555.3 1481.6v4.8M1615.2 1481.6v4.8M1675.1 1481.6v4.8M1295.9 1437.9h-4.8M1295.9 1374.6h-4.8M1295.9 1311.3h-4.8M1295.9 1247.9h-4.8M1295.9 1184.6h-4.8M1295.9 1121.3h-4.8M1727.9 1473.8h4.8M1727.9 1396.1h4.8M1727.9 1318.4h4.8M1727.9 1240.8h4.8M1727.9 1163.1h4.8M1727.9 1085.4h4.8" stroke="#000" stroke-width="1.3" fill="none"/>
<text x="1315.5" y="1502.2" font-size="13.5" fill="#000" text-anchor="middle" >0</text>
<text x="1375.5" y="1502.2" font-size="13.5" fill="#000" text-anchor="middle" >2500</text>
<text x="1435.4" y="1502.2" font-size="13.5" fill="#000" text-anchor="middle" >5000</text>
<text x="1495.3" y="1502.2" font-size="13.5" fill="#000" text-anchor="middle" >7500</text>
<text x="1555.3" y="1502.2" font-size="13.5" fill="#000" text-anchor="middle" >10000</text>
<text x="1615.2" y="1502.2" font-size="13.5" fill="#000" text-anchor="middle" >12500</text>
<text x="1675.1" y="1502.2" font-size="13.5" fill="#000" text-anchor="middle" >15000</text>
<text x="1738.2" y="1478.7" font-size="13.5" fill="#681c94" text-anchor="start" >0</text>
<text x="1738.2" y="1401" font-size="13.5" fill="#681c94" text-anchor="start" >20</text>
<text x="1738.2" y="1323.3" font-size="13.5" fill="#681c94" text-anchor="start" >40</text>
<text x="1738.2" y="1245.7" font-size="13.5" fill="#681c94" text-anchor="start" >60</text>
<text x="1738.2" y="1168" font-size="13.5" fill="#681c94" text-anchor="start" >80</text>
<text x="1738.2" y="1090.3" font-size="13.5" fill="#681c94" text-anchor="start" >100</text>
<text x="1511.9" y="1068.4" font-size="25.3" fill="#000" text-anchor="middle" >cos of <tspan font-style="italic">θ</tspan><tspan font-style="italic" font-size="17.7" dy="4.5">n</tspan><tspan dy="-4.5"> for base=40000</tspan></text>
<text transform="translate(1276,1279.6) rotate(-90)" font-size="22.4" fill="#8c564b" text-anchor="middle">Cos wave</text>
<text transform="translate(1787.9,1281.1) rotate(-90)" font-size="22.4" fill="#681c94" text-anchor="middle">Perplexity</text>
<rect x="1902.8" y="91" width="62.8" height="404" fill="#fdebcb"/>
<path d="M1904.7 234.5l-3 24 0 85 1 1 1 20 3 7 6 0 8-3 6-4 12-12 8-5 10 0 9 3 11 1 6 3 13 15 8 6 18-1 14 9 7 0 12-11 5-3 3 0 4 2 11 11 5 1 4-2 10-13 9-8 9 0 8 2 8-2 19-10 12 0 7 4 5 5 7 11 8 9 9 1 5-2 5 0 4 2 15 17 4 2 5 0 12-5 9 1 5-4 8-16 8-23 5-5 6 3 4 8 2-3 2-18-1-100-5-24-3-5-3-2-2 0-4 4-10 27-6 12-5 5-9-1-12 5-7 0-3-2-10-12-7-6-6-1-9 3-5-1-7-7-11-16-6-5-5-2-13 1-22 11-19-2-4 2-11 14-8 7-6-1-13-12-8 1-9 9-7 4-3 0-17-10-14 2-7-3-11-13-8-7-25-6-11 1-7 5-12 12-9 5-10 2z" fill="url(#po0)" fill-rule="evenodd"/><path d="M1904.7 242.5l-2 15-1 57 1 1 1 39 3 9 6 0 8-3 6-4 12-12 8-5 10 0 9 3 11 1 6 3 14 16 7 5 18-1 14 9 7 0 12-11 5-3 3 0 4 2 10 10 6 2 4-2 9-12 10-9 9 0 8 2 8-2 19-10 12 0 7 4 5 5 7 11 8 9 9 1 5-2 5 0 4 2 15 17 4 2 5 0 12-5 9 1 5-4 10-21 5-16 4-6 2-1 4 1 5 8 2 1 2-12 0-28 1-1-1-58-3-23-3-8-5-5-6 4-9 25-7 14-5 5-8-1-13 5-9-1-11-13-7-6-6-1-9 3-5-1-8-8-10-15-6-5-5-2-13 1-22 11-19-2-4 2-11 14-8 7-6-1-13-12-8 1-9 9-7 4-3 0-17-10-14 2-7-3-11-13-8-7-25-6-11 1-19 17-9 5-10 2z" fill="url(#po1)" fill-rule="evenodd"/><path d="M1904.7 250.5l-1 20-1 1 0 59 1 1 1 20 2 5 2 1 11-3 22-19 6-3 7 0 9 3 11 1 7 3 7 6 11 13 6 3 15-2 17 10 4 0 5-3 10-10 7-1 14 12 6 1 8-7 6-9 9-7 19 2 22-11 13-1 6 3 9 9 7 11 7 7 5 1 10-3 5 1 7 6 11 13 10 1 12-5 8 1 5-5 9-20 4-13 6-9 2-1 6 5 1 3 2 2 1-1 2-18-1-75-2-14-4-10-3-3-3 0-3 2-8 22-9 19-6 5-10-1-11 5-5 0-5-3-7-9-7-7-4-2-6 0-4 2-9-1-21-26-11-4-10 2-19 10-11 0-6-2-5 1-9 8-6 9-8 6-6-2-10-10-4-2-7 2-13 12-6 0-15-9-18 1-21-21-6-3-10-1-10-3-10 0-4 2-19 17-11 5-5 0z" fill="url(#po2)" fill-rule="evenodd"/><path d="M1904.7 257.5l-1 78 3 15 7 0 9-4 22-19 11-1 25 6 9 8 9 11 8 4 14-2 5 2 8 6 7 2 7-4 9-9 8-1 13 12 6 1 7-6 6-9 6-6 4-2 18 2 20-10 6-2 10 0 5 2 7 6 10 15 6 6 5 2 10-3 6 1 8 7 9 11 3 2 7 0 12-5 9 1 4-4 7-14 8-23 6-7 2 0 6 6 1 3 2-1 1-7 0-69-3-21-4-8-3-2-4 1-2 3-9 25-7 14-5 5-10-1-11 5-6 0-4-2-15-17-4-2-5 0-5 2-9-1-6-6-10-15-11-8-11 0-20 10-7 2-9-2-9 0-9 8-5 8-8 7-6-1-10-10-7-3-6 3-10 10-5 2-6-2-12-8-8 1-12-1-6-5-12-14-7-4-11-1-9-3-10 0-8 5-12 12-6 4-7 3-7 1z" fill="url(#po3)" fill-rule="evenodd"/><path d="M1904.7 266.5l-1 55 1 1 0 14 3 8 5 0 8-3 7-5 12-12 7-4 10 0 9 3 11 1 6 3 21 21 18-1 14 9 7 0 12-11 5-3 3 0 4 2 10 10 6 2 4-2 9-12 10-9 9 0 8 2 10-3 17-9 12 0 6 3 7 7 9 14 5 5 9 1 5-2 5 0 4 2 14 16 5 3 5 0 12-5 9 1 5-4 9-19 5-16 5-8 2-1 4 1 5 7 2-3 0-12 1-1-1-56-3-15-6-8-5 3-16 39-6 6-9-1-12 5-9-1-11-13-7-6-6-1-9 3-5-1-8-8-11-16-10-6-13 1-22 11-19-2-4 2-5 5-5 8-9 8-6-1-13-12-6 0-15 13-6 1-17-10-11 2-7-1-9-8-9-11-6-4-14-2-9-3-8 0-6 3-19 17-6 3-9 2z" fill="url(#po4)" fill-rule="evenodd"/><path d="M1904.7 277.5l0 47 1 9 2 4 5 0 8-3 7-5 12-12 7-4 10 0 9 3 11 1 6 3 21 21 18-1 14 9 7 0 12-11 8-3 4 2 10 10 6 2 4-2 9-12 10-9 9 0 9 2 7-2 16-9 15-1 6 3 7 7 9 14 5 5 9 1 5-2 5 0 4 2 14 16 5 3 5 0 12-5 6 1 5-1 3-3 6-12 11-29 6-3 5 4 2 4 2-7-1-57-2-9-6-8-5 3-16 39-6 6-9-1-12 5-9-1-12-14-6-5-6-1-9 3-5-1-8-8-11-16-10-6-13 1-22 11-19-2-4 2-10 13-9 8-6-1-13-12-6 0-15 13-6 1-17-10-14 2-7-3-12-14-9-7-14-2-9-3-8 0-6 3-19 17-6 3-9 2-2 4z" fill="url(#po5)" fill-rule="evenodd"/><path d="M1905.7 285.5l0 31 1 7 2 3 13-4 22-19 5-2 5 0 9 3 11 1 8 3 19 20 4 2 18-1 14 9 5 0 4-2 11-11 7-1 15 13 6 0 7-7 6-9 7-6 8-1 5 2 9 0 19-10 7-2 7 0 7 3 9 9 11 16 5 3 5 0 4-2 8 0 5 3 14 16 5 2 13-5 14-1 9-17 9-25 4-4 4 0 6 6 1-5-1-38-1-5-5-8-4 0-3 4-6 18-10 21-4 4-12 0-12 5-6-1-20-20-8 0-4 2-5 0-4-2-14-19-6-6-9-4-10 1-22 11-9 0-6-2-7 1-8 8-6 9-6 5-8-1-11-11-6-1-4 2-10 10-4 2-5 0-14-9-18 1-4-2-19-20-4-2-29-5-8 4-12 12-13 8-7 1-2 3z" fill="url(#po6)" fill-rule="evenodd"/><path d="M1903 392h0m1-14h0m1-195h0m0 214h0m1-170h0m0 145h0m4-144h0m1 159h0m4-5h0m0 108h0m1-283h0m1 176h0m0 6h0m1 90h0m1-253h0m1-2h0m1 145h0m1 13h0m1-4h0m1-159h0m1 153h0m2-157h0m0 6h0m4 189h0m1-50h0m1-152h0m1-3h0m0 157h0m0 8h0m1 11h0m1-25h0m0 4h0m1-3h0m0 16h0m1-219h0m1 45h0m0 158h0m5-163h0m3 4h0m2 164h0m2-11h0m1-175h0m0 172h0m3-218h0m0 69h0m1 153h0m0 36h0m0 102h0m1-142h0m1-142h0m0 171h0m2-26h0m2-155h0m0 2h0m0 5h0m0 248h0m1-254h0m1 186h0m2-179h0m1 0h0m0 265h0m1-274h0m0 168h0m1 17h0m5-170h0m3 0h0m0 1h0m0 146h0m1 35h0m1-246h0m0 218h0m1-159h0m0 180h0m2-179h0m1 190h0m2-191h0m2 155h0m1 12h0m1-4h0m1-5h0m1-167h0m1 171h0m0 110h0m1-260h0m1 157h0m0 2h0m2-187h0m2 26h0m3-12h0m0 184h0m1-183h0m1-21h0m0 200h0m4-152h0m1 155h0m1-153h0m1-6h0m1 155h0m1-3h0m2-237h0m6 89h0m4-3h0m1 153h0m1 9h0m2-156h0m5 162h0m0 41h0m2-206h0m0 154h0m1-159h0m1 10h0m1 2h0m1-80h0m1 80h0m0 156h0m0 17h0m0 81h0m1-252h0m1 148h0m5-151h0m1 147h0m0 28h0m1-191h0m1 9h0m0 227h0m3-225h0m1-139h0m0 84h0m5 48h0m1 2h0m0 158h0m2-156h0m2-121h0m0 106h0m0 2h0m1 2h0m0 155h0m1-249h0m0 253h0m0 6h0m2-172h0m1-38h0m3 50h0m0 160h0m4-166h0m0 167h0m1-152h0m0 165h0m2-13h0m0 2h0m3-147h0m0 157h0m1 5h0m1-179h0m0 10h0m2 156h0m1 1h0m1-167h0m0 9h0m0 164h0m2-187h0m0 182h0m0 13h0m0 18h0m2-326h0m0 129h0m0 7h0m0 146h0m3-3h0m1-181h0m0 34h0m1-2h0m1-2h0m1 152h0m2-7h0m1 4h0m2 1h0m1-8h0m3 76h0m1-223h0m1-47h0m1 200h0m1-157h0m1-24h0m0 227h0m1-48h0m0 2h0m1-225h0m2 74h0m2-4h0m1 166h0m2-19h0m2-215h0m0 47h0m1 190h0m3-184h0m1 262h0m3-246h0m5 218h0m3-230h0m1-10h0m0 170h0m2-177h0m1 16h0m2 187h0m1-37h0m0 27h0m3-177h0m2-1h0m1 166h0m2-161h0m0 147h0m2-151h0m0 149h0m2-161h0m0 6h0m0 6h0m4 167h0m9 20h0m1-174h0m1 160h0m2-162h0m1 157h0m3-152h0m1 184h0m1-23h0m1-158h0m0 3h0m0 192h0m1-40h0m0 87h0m1-25h0m1-208h0m6 155h0m4-150h0m1-24h0m1 8h0m0 165h0m1 85h0m1-76h0m1 41h0m2-200h0m0 146h0m1-3h0m2-161h0m3-33h0m0 201h0m4-161h0m0 10h0m0 174h0m2-13h0m1 66h0m1-223h0m0 158h0m3 6h0m1-10h0m0 53h0m0 37h0m1-250h0m3 9h0m1 172h0m1-191h0m0 178h0m1 15h0m1-195h0m0 12h0m1-55h0m0 75h0m2 210h0m1-209h0m0 158h0m2 62h0m3-71h0m0 14h0m1-167h0m2 151h0m1 18h0m2-197h0m0 31h0m0 149h0m1 14h0m3-166h0m2-1h0m0 158h0m1-164h0m1 9h0m3 148h0m1-159h0m1 187h0m1-184h0m1 174h0m1-13h0m1-7h0m1-176h0m0 185h0m2-166h0m2-22h0m1 14h0m0 172h0m1 23h0m1-198h0m1-18h0m4 156h0m0 41h0m2-39h0m2-177h0m2 175h0m3-17h0m0 21h0m3 86h0m1-102h0m0 49h0m2-32h0m1-160h0m2-6h0m1 170h0m1-14h0m1-142h0" stroke="#a8561a" stroke-width="2.7" stroke-linecap="round"/><path d="M1901.7 238.5l-1 71 1 1 1 28 3 8 31-7 10-1 21 1 14 4 31 14 21 7 24 5 27 0 18-3 37-9 16-2 22 0 20 3 37 12 23 5 34 1 2-2 3-15 1-70-1-1-1-29-2-7-2-2-13 1-27-3-17-4-29-10-29-5-30 1-61 13-28 0-24-5-26-9-26-12-22-5-29 2-21 5-4 2z" fill="url(#pr0)" fill-rule="evenodd"/><path d="M1904.7 229.5l-3 21 0 68 2 18 3 5 28-7 28-1 17 4 31 14 17 6 32 7 31-1 38-9 24-4 27 0 19 3 37 12 24 5 32 1 2-3 3-21 0-68-1-1 0-12-3-10-19 0-23-3-54-16-23-3-32 2-54 12-10 0-1 1-21-1-23-5-28-10-21-10-18-5-34 1-24 6z" fill="url(#pr1)" fill-rule="evenodd"/><path d="M1904.7 233.5l-2 12 0 79 3 12 5 0 13-4 18-3 22 0 19 5 26 12 23 8 30 6 28-1 38-9 24-4 30 0 22 4 36 12 21 4 30 1 3-3 2-12 0-79-2-11-2-2-20 0-22-3-13-3-36-12-31-4-33 3-48 11-10 1-24-1-35-9-39-17-15-4-26 0-13 2-19 5z" fill="url(#pr2)" fill-rule="evenodd"/><path d="M1904.7 237.5l-2 17 0 60 1 1 0 11 3 7 30-7 9-1 22 1 14 4 26 12 23 8 28 6 26 0 18-3 37-9 16-2 22 0 20 3 41 13 20 4 33 1 2-4 2-16 0-60-1-1 0-11-4-8-13 1-26-3-17-4-29-10-29-5-30 1-61 13-28 0-34-8-42-18-14-4-9-1-22 1-27 6z" fill="url(#pr3)" fill-rule="evenodd"/><path d="M1903.7 248.5l0 72 1 6 2 3 33-7 25 0 16 4 26 12 19 7 18 5 20 3 25-1 48-11 32-3 27 3 41 13 25 5 28 1 3-2 2-9 0-72-3-10-22 0-21-3-16-4-29-10-22-4-30 0-24 4-38 9-28 1-30-6-23-8-26-12-19-5-22 0-14 2-21 6z" fill="url(#pr4)" fill-rule="evenodd"/><path d="M1905.7 243.5l-2 15 0 53 1 10 3 5 27-7 28-1 17 4 31 14 17 6 32 7 31-1 54-12 35-1 27 5 41 13 20 3 23 0 2-2 2-15 0-53-1-10-2-5-18 0-23-3-54-16-23-3-32 2-54 12-11 0-1 1-20-1-23-5-18-6-31-14-17-5-35 1-24 6z" fill="url(#pr5)" fill-rule="evenodd"/><path d="M1905.7 249.5l-1 63 2 8 36-7 21 0 19 5 26 12 23 8 29 6 30-1 42-10 20-3 28 0 26 5 26 9 21 5 15 2 22 0 2-3 1-63-2-9-19 0-23-3-49-15-29-4-29 2-55 12-10 1-22-1-23-5-21-7-31-14-15-4-26 0-13 2-16 4z" fill="url(#pr6)" fill-rule="evenodd"/><path d="M1903 218h0m0 129h0m1-2h0m1-227h0m0 233h0m1-159h0m4-16h0m0 181h0m7-5h0m1-2h0m1 95h0m3-30h0m4-204h0m2 142h0m1-190h0m2 42h0m1-42h0m1 29h0m0 14h0m0 140h0m1 72h0m2-77h0m0 2h0m0 68h0m1-70h0m4-131h0m2-2h0m0 134h0m0 92h0m5-50h0m3-212h0m3 207h0m1-208h0m1 31h0m0 138h0m1-193h0m1 199h0m1 65h0m2-201h0m0 130h0m1-129h0m1 133h0m0 17h0m1 3h0m1-24h0m0 2h0m1-140h0m1-76h0m1 214h0m3-189h0m2-9h0m0 202h0m0 75h0m2-1h0m2-204h0m1 130h0m2-200h0m1 64h0m2 2h0m0 3h0m1 140h0m1-216h0m0 220h0m1-183h0m3-45h0m1 83h0m0 1h0m0 173h0m2 65h0m1-100h0m0 42h0m3-35h0m0 23h0m1-167h0m3 168h0m0 77h0m1-106h0m2-180h0m0 43h0m1 5h0m1 3h0m1-5h0m0 145h0m2 21h0m1-168h0m0 8h0m1-44h0m0 179h0m1-132h0m0 142h0m2-223h0m0 12h0m0 205h0m2-138h0m0 1h0m0 158h0m1-15h0m3-180h0m3 27h0m5-28h0m0 185h0m1-147h0m1 144h0m2-211h0m2 207h0m1 6h0m1 96h0m2-287h0m0 288h0m1-232h0m1 144h0m1 94h0m2-237h0m1-59h0m0 196h0m0 39h0m2-176h0m1 142h0m0 34h0m1-261h0m0 59h0m1 169h0m0 62h0m1-70h0m0 5h0m1-195h0m1 189h0m1-3h0m3 13h0m1-239h0m2 328h0m1-98h0m1-137h0m0 162h0m1-25h0m0 68h0m1-22h0m1-200h0m2 0h0m3 264h0m1-108h0m1-227h0m0 93h0m1-7h0m0 154h0m1 6h0m1-179h0m1 158h0m2 4h0m5-139h0m0 180h0m1-44h0m3 7h0m1-235h0m0 223h0m2-181h0m0 224h0m0 29h0m0 22h0m1-235h0m0 12h0m3-20h0m1 244h0m2-228h0m1-20h0m3 22h0m5-2h0m0 146h0m4 1h0m4-12h0m1-203h0m0 222h0m3 71h0m1-234h0m1-4h0m0 144h0m2 1h0m0 15h0m1-220h0m4 65h0m1 4h0m2 130h0m2-182h0m0 11h0m1 7h0m3 28h0m2-132h0m1 280h0m4-159h0m0 14h0m5-31h0m0 169h0m4-5h0m0 78h0m1-236h0m4 20h0m0 141h0m0 53h0m1-46h0m6-17h0m0 2h0m1-138h0m1 137h0m0 12h0m3-13h0m3 31h0m0 42h0m5-53h0m1-151h0m0 139h0m3-145h0m0 2h0m0 141h0m0 29h0m2-167h0m0 144h0m4-147h0m0 231h0m2-253h0m0 12h0m0 147h0m1-142h0m2 10h0m1 0h0m4-2h0m0 7h0m1-1h0m1-7h0m4 138h0m0 1h0m4 5h0m7-132h0m2 135h0m2-4h0m1-135h0m0 161h0m0 53h0m2-221h0m4 7h0m0 137h0m0 6h0m1-7h0m2-174h0m1 36h0m1 9h0m0 152h0m0 38h0m3-47h0m1 12h0m3-165h0m0 11h0m1-5h0m1 10h0m1 131h0m1-135h0m0 1h0m0 139h0m4-145h0m0 201h0m6-196h0m0 146h0m3 18h0m1-176h0m1 163h0m1-10h0m2-5h0m2-135h0m4-25h0m0 169h0m1-8h0m1-139h0m0 4h0m0 7h0m3 140h0m1-7h0m0 17h0m2-156h0m2 136h0m1 8h0m1-146h0m2 6h0m4-63h0m1 49h0m1 232h0m1-75h0m2-163h0m1 20h0m2-6h0m0 140h0m1-146h0m1 161h0m2-8h0m1-138h0" stroke="#c0101e" stroke-width="2.7" stroke-linecap="round"/><path d="M2292.7 226.5l-4-9-3-3-4 0-4 5-9 26-9 17-3 2-10 1-15 9-7-2-13-11-7 0-7 4-8 1-8-7-12-16-6-4-8-2-13 2-12 5-9 0-10-5-8 0-19 18-7-1-11-11-8-1-15 16-4 2-5 0-9-4-7 0-12 7-7 0-14-10-5-2-18 1-6-2-10 0-5 2-12 10-9 5-5 1-10-1-1 1-3 17 0 43 2 16 3 6 12 1 9-4 15-12 6-2 11 2 22 0 20 12 6-1 14-7 16 5 5-2 14-15 4-2 5 1 11 11 7 2 4-2 17-17 5 0 10 5 9 1 16-6 14-1 9 4 7 7 9 13 7 5 3 0 10-5 6-1 7 4 7 7 4 2 6 0 12-8 12-2 4-4 10-22 5-16 5-7 2-1 2 1 5 6 2 5 2-1 2-13 0-42z" fill="url(#pb0)" fill-rule="evenodd"/><path d="M2292.7 233.5l-4-9-5-4-2 1-4 5-7 21-9 19-4 4-10 1-14 9-8-1-10-9-6-3-3 0-10 5-6 1-11-10-5-8-7-7-9-4-10 0-20 7-5 0-14-6-5 0-5 3-9 11-7 5-5-1-13-12-5-1-4 2-16 16-3 1-16-5-17 8-8-2-10-8-5-2-22 0-6-2-6 0-5 2-12 10-12 6-12-1-2 2-2 11 0 42 2 12 3 4 4 1 9-1 8-4 9-8 9-5 10 0 6 2 18-1 5 2 14 10 7 0 13-7 6 0 9 4 5 0 4-2 16-16 5 0 13 12 7 1 19-18 8 0 10 5 9 0 16-6 9-1 8 2 7 5 11 15 8 7 6 0 9-5 7 0 13 11 7 2 7-3 8-6 10-1 4-3 7-14 9-26 4-6 2-1 4 1 5 9 2 1 2-8 0-42z" fill="url(#pb1)" fill-rule="evenodd"/><path d="M2292.7 239.5l-4-10-3-3-4 0-5 8-5 16-9 20-6 6-8 0-12 8-6 2-7-3-12-10-8 0-9 5-5 0-8-7-8-12-5-5-11-5-12 1-15 6-9 0-10-5-5-1-5 2-17 17-5 0-13-12-8-1-5 4-9 11-5 3-4 0-9-4-8 0-13 7-8-1-10-8-7-3-17 1-13-3-5 1-23 16-17 1-2 7 0 15-1 1 2 32 4 5 11 0 7-3 12-10 10-5 17 3 16-1 19 12 5 0 13-7 8 0 6 3 6 1 7-4 10-12 6-3 5 2 10 10 7 2 4-2 15-16 3-1 9 2 8 4 7 0 16-6 12-1 11 5 6 6 9 13 7 5 4 0 9-5 5-1 8 4 10 9 7 0 15-9 7 0 6-5 11-25 3-11 6-9 4 0 4 4 2 5 2 1 2-27z" fill="url(#pb2)" fill-rule="evenodd"/><path d="M2292.7 245.5l-5-12-2-2-4 0-5 8-6 19-10 20-4 3-8 0-12 8-6 2-6-2-13-11-7 0-10 5-5 0-8-7-13-17-7-4-5-1-11 1-15 6-9 0-10-5-5-1-5 2-17 17-7-1-11-11-8-1-14 15-5 3-4 0-9-4-8 0-13 7-8-1-12-9-5-2-17 1-7-2-11 0-23 16-17 2-2 11 1 31 1 4 3 3 11 0 11-6 11-9 7-3 17 3 16-1 19 12 5 0 13-7 8 0 6 3 6 1 3-1 15-16 5-2 5 2 10 10 7 2 4-2 15-16 3-1 9 2 8 4 7 0 20-7 9 0 9 4 7 7 9 13 7 5 4 0 9-5 5-1 8 4 7 7 4 2 6 0 15-9 7 0 6-5 9-20 5-16 6-9 4 0 4 4 2 5 2-1 1-28z" fill="url(#pb3)" fill-rule="evenodd"/><path d="M2292.7 251.5l-4-11-2-3-4-1-4 4-9 26-8 16-5 4-9 1-15 9-4 0-4-2-14-11-6 0-9 5-6 0-9-8-6-9-8-8-6-3-13 0-16 6-11 0-10-5-7 0-18 18-6 0-14-12-6-1-19 18-7 0-8-4-6 0-13 7-7 0-13-9-7-3-18 1-6-2-9 0-6 3-17 13-7 2-10-1-2 7 1 29 4 4 12-1 6-3 13-11 7-3 7 0 6 2 14 0 1-1 7 1 14 10 6 2 5-1 13-7 4 0 9 4 7 0 19-18 6 1 13 12 4 1 3-1 15-16 4-2 6 0 7 4 10 2 21-7 11 0 7 3 10 10 5 8 7 7 4 1 10-5 8-1 4 2 11 10 7 1 15-9 10-1 3-3 12-27 3-11 7-9 2 0 8 9 1-3z" fill="url(#pb4)" fill-rule="evenodd"/><path d="M2291.7 256.5l-4-10-2-2-4 0-3 4-12 33-6 10-5 3-7 0-15 9-7 0-13-11-5-2-5 1-9 5-4 0-9-7-13-17-7-4-11-1-21 7-7 0-11-5-6-1-4 2-17 17-4 0-4-2-10-10-5-2-7 4-6 8-7 6-6 1-9-4-8 0-13 7-5 0-19-12-16 1-17-3-7 3-12 10-7 4-15 1-2 5 0 12 3 7 11 0 10-5 12-10 9-3 13 3 17-1 7 3 7 6 6 3 8-1 10-6 8 0 9 4 4 0 6-4 6-8 7-6 6 0 15 13 5 0 17-17 5-2 5 1 10 5 9 0 15-6 12-1 11 5 6 6 9 13 6 5 5 0 9-5 8 0 12 10 7 3 6-2 12-8 8 0 4-4 6-12 11-30 4-4 4 0 6 7 1-4z" fill="url(#pb5)" fill-rule="evenodd"/><path d="M1903 270h0m0 73h0m0 11h0m1-114h0m4 119h0m1-142h0m1 26h0m2-57h0m0 210h0m3-13h0m1-27h0m1-90h0m3 97h0m1-119h0m6-36h0m3 141h0m0 3h0m1-90h0m2-49h0m10 36h0m5 1h0m1-7h0m0 107h0m2-11h0m1-92h0m1-53h0m0 55h0m0 89h0m2-92h0m0 93h0m4-87h0m0 106h0m7 84h0m0 18h0m2-222h0m2 11h0m4 2h0m3-30h0m1 155h0m5 18h0m2-141h0m1 1h0m4 89h0m3-93h0m2 164h0m3-170h0m3 20h0m1 94h0m2-217h0m0 216h0m0 18h0m2-184h0m6 6h0m0 55h0m5 2h0m6 2h0m1-19h0m0 10h0m3-7h0m2-3h0m0 18h0m0 3h0m0 1h0m6-2h0m0 118h0m1-29h0m0 16h0m1-4h0m1-7h0m1 8h0m2-2h0m1-99h0m2-2h0m1 93h0m0 93h0m1-93h0m1-242h0m2 233h0m0 21h0m6-127h0m1 99h0m4-1h0m1-152h0m3 19h0m1 12h0m2 229h0m7-35h0m5-56h0m3-3h0m1-111h0m0 169h0m1-54h0m1 2h0m2-101h0m2 111h0m6-115h0m1 84h0m4 6h0m3-162h0m3 60h0m1 120h0m1-28h0m1-1h0m1 3h0m0 83h0m4-189h0m4 107h0m1-89h0m1-40h0m0 31h0m11 12h0m1-56h0m1 44h0m5-4h0m0 108h0m5 8h0m0 63h0m1-170h0m1 202h0m2-240h0m2 138h0m0 16h0m2-18h0m1-12h0m3-109h0m0 123h0m7-109h0m7 106h0m2-2h0m7 9h0m0 1h0m1-90h0m0 164h0m1-62h0m1-104h0m0 202h0m10-101h0m0 2h0m0 2h0m1-3h0m2 0h0m1-94h0m3-7h0m0 127h0m6-164h0m4 176h0m1 33h0m1-61h0m2-155h0m0 153h0m3-10h0m1-87h0m0 92h0m3-94h0m1-20h0m2 123h0m7-91h0m1-5h0m1 93h0m1-172h0m3 183h0m1-109h0m3 1h0m2 114h0m1-152h0m3 37h0m0 108h0m4-12h0m0 22h0m3-22h0m1-137h0m0 42h0m3 85h0m3 29h0m5-134h0m1-15h0m0 112h0m0 7h0m2-109h0m8 79h0m6-3h0m1-103h0m1 94h0m2-101h0m0 97h0m2 8h0m0 94h0m5-75h0m1-18h0m1 14h0m1-106h0m0 97h0" stroke="#12309e" stroke-width="2.7" stroke-linecap="round"/>
<path d="M1918.5 91V495" stroke="#000" stroke-width="2.8" stroke-dasharray="17.1 5 2.7 5"/>
<path d="M2075.4 91V495" stroke="#000" stroke-width="2.8" stroke-dasharray="17.1 5 2.7 5"/>
<rect x="2136.1" y="98.8" width="170.8" height="78" rx="3.3" fill="#fff" fill-opacity="0.97" stroke="#ccc" stroke-width="1.3"/>
<circle cx="2159.4" cy="114" r="4.9" fill="#0b44de"/>
<text x="2189.5" y="119.1" font-size="16.7" fill="#725757" text-anchor="start" >First 92 Dims</text>
<circle cx="2159.4" cy="138.5" r="4.9" fill="#e20808"/>
<text x="2189.5" y="143.6" font-size="16.7" fill="#725757" text-anchor="start" >Last 36 Dims</text>
<circle cx="2159.4" cy="163" r="4.9" fill="#c65a12"/>
<text x="2189.5" y="168.1" font-size="16.7" fill="#725757" text-anchor="start" >Overall Dims</text>
<clipPath id="cp30"><rect x="1883.2" y="91" width="432" height="404"/></clipPath>
<path d="M1902.8 312.4 L1902.9 375.6 L1903 409.4 L1903 429.1 L1903.1 441.7 L1903.1 451.7 L1903.2 459.4 L1903.2 464.8 L1903.3 468.3 L1903.4 470.6 L1903.4 472 L1903.5 473.1 L1903.5 474 L1903.6 474.6 L1903.7 475.1 L1903.7 475.4 L1903.8 475.6 L1903.8 475.6 L1903.9 475.5 L1904 475.5 L1904 475.4 L1904.1 475.3 L1904.1 475.2 L1904.2 475.1 L1904.3 475 L1904.3 474.9 L1904.4 474.8 L1904.4 474.7 L1904.5 474.5 L1904.5 474.4 L1904.6 474.3 L1904.7 474.2 L1904.7 474 L1904.8 473.9 L1904.8 473.8 L1904.9 473.6 L1905 473.5 L1905 473.4 L1905.1 473.2 L1905.1 473.1 L1905.2 472.9 L1905.3 472.7 L1905.5 472.5 L1905.6 472.3 L1905.7 472 L1905.8 471.8 L1905.9 471.6 L1906.1 471.4 L1906.2 471.1 L1906.4 470.9 L1906.5 470.7 L1906.7 470.5 L1906.8 470.3 L1907 470.1 L1907.2 469.9 L1907.4 469.7 L1907.6 469.5 L1907.8 469.3 L1908 469 L1908.2 468.8 L1908.5 468.6 L1908.7 468.3 L1909 468.1 L1909.2 467.8 L1909.5 467.6 L1909.8 467.3 L1910.1 467.1 L1910.4 466.8 L1910.7 466.6 L1911.1 466.3 L1911.4 466.1 L1911.8 465.8 L1912.2 465.6 L1912.6 465.4 L1913 465.1 L1913.5 464.8 L1913.9 464.6 L1914.4 464.3 L1914.9 464 L1915.5 463.7 L1916 463.5 L1916.6 463.3 L1917.2 463.1 L1917.8 462.9 L1918.5 462.8 L1919.1 462.7 L1919.8 462.6 L1920.6 462.5 L1921.4 462.4 L1922.2 462.3 L1923 462.3 L1923.9 462.2 L1924.8 462.1 L1925.7 462.1 L1926.7 462 L1927.8 462 L1928.9 461.9 L1930 461.9 L1931.2 461.8 L1932.4 461.8 L1933.7 461.7 L1935 461.7 L1936.4 461.7 L1937.9 461.6 L1939.4 461.6 L1941 461.6 L1942.7 461.6 L1944.4 461.6 L1946.2 461.5 L1948.1 461.5 L1950.1 461.5 L1952.1 461.5 L1954.3 461.5 L1956.5 461.5 L1958.8 461.5 L1961.3 461.4 L1963.8 461.4 L1966.5 461.4 L1969.2 461.4 L1972.1 461.4 L1975.1 461.4 L1978.3 461.4 L1981.6 461.4 L1985 461.4 L1988.6 461.3 L1992.3 461.3 L1996.2 461.3 L2000.2 461.3 L2004.5 461.3 L2008.9 461.3 L2013.5 461.2 L2018.3 461.2 L2023.3 461.2 L2028.6 461.1 L2034 461.1 L2039.7 461 L2045.7 461 L2051.9 460.9 L2058.4 460.8 L2065.1 460.7 L2072.2 460.5 L2079.6 460 L2087.2 457.6 L2095.3 453.9 L2103.6 449.6 L2112.4 444.4 L2121.5 437.6 L2131 429 L2140.9 417.6 L2151.2 402.7 L2162 384.5 L2173.3 362.3 L2185.1 334.7 L2197.3 299.9 L2210.2 253.9 L2223.5 199.3 L2237.5 144.8 L2252 83.5 L2267.2 1.7" stroke="#741c98" stroke-width="2.5" fill="none" stroke-linejoin="round" clip-path="url(#cp30)"/>
<rect x="1883.2" y="91" width="432" height="404" fill="none" stroke="#000" stroke-width="1.5"/>
<path d="M1902.8 495v4.8M1979.5 495v4.8M2056.2 495v4.8M2133 495v4.8M2209.7 495v4.8M2286.4 495v4.8M1883.2 466.1h-4.8M1883.2 408.4h-4.8M1883.2 350.7h-4.8M1883.2 293h-4.8M1883.2 235.3h-4.8M1883.2 177.6h-4.8M1883.2 119.9h-4.8M2315.2 487.2h4.8M2315.2 409.5h4.8M2315.2 331.8h4.8M2315.2 254.2h4.8M2315.2 176.5h4.8M2315.2 98.8h4.8" stroke="#000" stroke-width="1.3" fill="none"/>
<text x="1902.8" y="515.6" font-size="13.5" fill="#000" text-anchor="middle" >0</text>
<text x="1979.5" y="515.6" font-size="13.5" fill="#000" text-anchor="middle" >20000</text>
<text x="2056.2" y="515.6" font-size="13.5" fill="#000" text-anchor="middle" >40000</text>
<text x="2133" y="515.6" font-size="13.5" fill="#000" text-anchor="middle" >60000</text>
<text x="2209.7" y="515.6" font-size="13.5" fill="#000" text-anchor="middle" >80000</text>
<text x="2286.4" y="515.6" font-size="13.5" fill="#000" text-anchor="middle" >100000</text>
<text x="1872.7" y="471" font-size="13.5" fill="#8c564b" text-anchor="end" >−15</text>
<text x="1872.7" y="413.3" font-size="13.5" fill="#8c564b" text-anchor="end" >−10</text>
<text x="1872.7" y="355.6" font-size="13.5" fill="#8c564b" text-anchor="end" >−5</text>
<text x="1872.7" y="297.9" font-size="13.5" fill="#8c564b" text-anchor="end" >0</text>
<text x="1872.7" y="240.2" font-size="13.5" fill="#8c564b" text-anchor="end" >5</text>
<text x="1872.7" y="182.5" font-size="13.5" fill="#8c564b" text-anchor="end" >10</text>
<text x="1872.7" y="124.8" font-size="13.5" fill="#8c564b" text-anchor="end" >15</text>
<text x="2325.5" y="492.1" font-size="13.5" fill="#681c94" text-anchor="start" >0</text>
<text x="2325.5" y="414.4" font-size="13.5" fill="#681c94" text-anchor="start" >20</text>
<text x="2325.5" y="336.7" font-size="13.5" fill="#681c94" text-anchor="start" >40</text>
<text x="2325.5" y="259.1" font-size="13.5" fill="#681c94" text-anchor="start" >60</text>
<text x="2325.5" y="181.4" font-size="13.5" fill="#681c94" text-anchor="start" >80</text>
<text x="2325.5" y="103.7" font-size="13.5" fill="#681c94" text-anchor="start" >100</text>
<text x="2099.2" y="81.6" font-size="25.3" fill="#000" text-anchor="middle" >mean of <tspan font-style="italic">q</tspan><tspan font-style="italic" font-size="17.7" dy="7.1">t</tspan><tspan font-style="italic" font-size="17.7" dx="-4.7" dy="-16.5">T</tspan><tspan font-style="italic" dy="9.4" dx="1.2">k</tspan><tspan font-size="17.7" dy="4.5">0</tspan><tspan dy="-4.5"> for base=240000</tspan></text>
<text transform="translate(1833.7,293) rotate(-90)" font-size="22.4" fill="#8c564b" text-anchor="middle">Attention score</text>
<text transform="translate(2373.7,294.5) rotate(-90)" font-size="22.4" fill="#681c94" text-anchor="middle">Perplexity</text>
<rect x="1902.8" y="584.3" width="392.8" height="404" fill="#fdebcb"/>
<path d="M2292.7 659.8l-7-1-1 1-48 3-146 15-31 5-57 16-69 9-26 2-4 8-1 20-1 1 0 95 1 1 1 20 3 7 15-1 85-11 56-16 26-4 123-13 79-6 4-8 1-20 1-1 0-95-1-1-1-20z" fill="url(#po0)" fill-rule="evenodd"/><path d="M2293.7 670.8l-3-4-3 0-1 1-48 3-122 12-52 7-61 17-60 8-35 3-3 2-2 8-1 35-1 1 0 45 1 1 0 25 2 15 3 4 92-11 26-6 36-11 50-7 120-12 58-4 3-2 2-8 1-35 1-1 0-45-1-1 0-25z" fill="url(#po1)" fill-rule="evenodd"/><path d="M2292.7 675.8l-2-2-7 0-1 1-36 2-157 16-31 5-39 12-18 4-69 9-25 2-3 5-1 20-1 1 0 71 3 23 2 2 6 0 88-11 18-4 39-12 31-5 113-12 88-7 3-5 1-20 1-1 0-71z" fill="url(#po2)" fill-rule="evenodd"/><path d="M2292.7 681.8l-2-2-5 0-1 1-48 3-146 15-31 5-57 16-60 8-35 3-2 3-2 12 0 34-1 1 1 46 2 12 2 2 93-11 22-5 40-12 26-4 123-13 79-6 2-3 2-12 0-34 1-1-1-46z" fill="url(#po3)" fill-rule="evenodd"/><path d="M2292.7 688.8l-1-2-4-1-1 1-48 3-130 13-44 6-61 17-60 8-35 3-2 1-3 21 0 55 2 18 1 2 3 1 90-11 26-6 36-11 26-4 133-14 69-5 2-1 3-21 0-54z" fill="url(#po4)" fill-rule="evenodd"/><path d="M2291.7 693.8l-7-1-1 1-36 2-157 16-27 4-56 16-66 9-33 3-3 4-1 8 0 61 2 10 1 1 15-1 84-11 56-16 34-5 105-11 88-7 3-4 1-8 0-61z" fill="url(#po5)" fill-rule="evenodd"/><path d="M2290.7 703.8l-25 1-179 18-25 4-57 16-67 9-27 2-3 1-2 8 0 47 2 7 9 0 81-10 23-5 40-12 32-5 114-12 81-6 3-1 2-8 0-47z" fill="url(#po6)" fill-rule="evenodd"/><path d="M1903 713h0m1 148h0m1 4h0m1-161h0m0 267h0m2-262h0m0 159h0m1-168h0m1-11h0m0 20h0m2 170h0m1-198h0m0 4h0m0 179h0m0 20h0m0 13h0m2-22h0m1-169h0m0 161h0m0 11h0m1-3h0m1-167h0m0 171h0m3-14h0m2-164h0m0 7h0m0 177h0m3-263h0m0 54h0m0 190h0m3-171h0m0 167h0m1 22h0m2-181h0m0 158h0m1-162h0m1-12h0m2-58h0m1 250h0m1-5h0m0 40h0m2-208h0m0 156h0m1-204h0m0 206h0m2-192h0m0 4h0m0 185h0m0 2h0m1-185h0m0 27h0m0 154h0m0 13h0m2-13h0m6 3h0m4-262h0m0 100h0m3 157h0m1-182h0m0 17h0m4-42h0m1 20h0m0 193h0m0 7h0m1-14h0m0 60h0m1-57h0m2 1h0m0 26h0m2-214h0m1 14h0m0 255h0m1-86h0m0 4h0m0 1h0m2 13h0m2-8h0m1-175h0m2-8h0m0 199h0m1-232h0m0 44h0m1 5h0m1-19h0m0 10h0m0 181h0m1 1h0m2-215h0m0 22h0m0 238h0m2-43h0m1-282h0m0 265h0m3-163h0m0 239h0m1-260h0m1 8h0m1 18h0m1-8h0m0 4h0m0 161h0m1-170h0m2-83h0m2 95h0m1-9h0m0 169h0m1 0h0m1-189h0m1 27h0m1 176h0m1-186h0m3 168h0m1-164h0m0 187h0m2-2h0m3-193h0m0 11h0m0 160h0m0 11h0m0 74h0m1-64h0m2-189h0m1 4h0m0 180h0m4 13h0m1-202h0m0 9h0m1-31h0m1 195h0m0 101h0m2-106h0m2-172h0m1 7h0m0 5h0m0 160h0m2-157h0m0 156h0m3-220h0m2 38h0m0 178h0m0 140h0m1-109h0m2 8h0m2-40h0m4-200h0m2 31h0m0 195h0m1-194h0m2-29h0m0 3h0m0 297h0m1-303h0m0 43h0m1-1h0m0 158h0m0 25h0m1 8h0m0 46h0m1-261h0m2 222h0m2-39h0m1-163h0m2 156h0m1 6h0m3-5h0m0 8h0m1-182h0m3 192h0m4 69h0m1-266h0m0 189h0m1 49h0m1-240h0m3-8h0m0 215h0m0 63h0m1-83h0m1-172h0m4-2h0m0 165h0m0 12h0m1-178h0m0 201h0m1-192h0m1-3h0m1-1h0m2-1h0m1-19h0m0 185h0m0 3h0m1-204h0m0 250h0m1-52h0m0 21h0m3-204h0m0 182h0m0 5h0m1-220h0m0 43h0m0 7h0m0 2h0m0 160h0m0 22h0m0 108h0m1-128h0m1-247h0m0 244h0m0 8h0m3 33h0m1-197h0m0 164h0m2-189h0m0 242h0m2-57h0m0 31h0m3-209h0m1 175h0m1 10h0m1 5h0m1-186h0m0 14h0m3-4h0m0 3h0m2 0h0m1-9h0m0 172h0m2-178h0m0 197h0m0 114h0m4-299h0m0 316h0m1-368h0m0 29h0m0 24h0m7 164h0m0 16h0m2 30h0m1-47h0m0 55h0m3-50h0m1 0h0m2-2h0m3 7h0m3 2h0m0 2h0m2-18h0m3 7h0m1 22h0m1-34h0m1 19h0m1-17h0m5-1h0m1 5h0m2-3h0m2 21h0m3-21h0m0 26h0m2-31h0m2 1h0m0 64h0m5-63h0m2 148h0m6-42h0m1-67h0m1-24h0m1-10h0m1 52h0m8-51h0m2-5h0m0 53h0m2-39h0m1-8h0m0 2h0m0 16h0m3 67h0m1-99h0m0 6h0m0 12h0m5-17h0m0 3h0m0 5h0m0 75h0m3-83h0m1 153h0m3-139h0m0 8h0m8-17h0m0 105h0m2-96h0m5-16h0m0 5h0m0 7h0m11-5h0m0 14h0m2-20h0m0 1h0m0 95h0m6-96h0m2 58h0m1-31h0m6-11h0m1-18h0m1 141h0m11-136h0m1-4h0m0 73h0m3-73h0m4-4h0m1 40h0m4-21h0m0 3h0m1-18h0" stroke="#a8561a" stroke-width="2.7" stroke-linecap="round"/><path d="M2293.7 697.8l-2-2-22 0-1 1-30 0-1 1-27 0-1 1-117 4-1 1-32 2-34 8-25 4-59 2-1 1-34 0-2 2-2 7-1 28-1 1 0 43 1 1 0 21 2 12 3 4 62-1 1-1 40-2 50-11 20-2 54-2 1-1 25 0 1-1 131-4 2-2 2-7 1-28 1-1-1-64z" fill="url(#pr0)" fill-rule="evenodd"/><path d="M2294.7 705.8l-3-5-18 0-1 1-31 0-1 1-129 4-1 1-16 0-1 1-34 2-29 7-29 5-56 2-1 1-37 0-2 1-2 5-2 17 0 63 2 18 3 5 59-1 1-1 43-2 44-10 24-3 53-2 1-1 25 0 1-1 52-1 1-1 81-2 3-6 2-17 0-63z" fill="url(#pr1)" fill-rule="evenodd"/><path d="M2294.7 710.8l-3-6-179 6-1 1-17 0-1 1-34 2-38 9-19 3-57 2-1 1-37 0-3 3-2 11 0 73 1 8 3 6 59-1 1-1 43-2 44-10 24-3 53-2 1-1 24 0 1-1 52-1 1-1 81-2 3-3 2-11 0-73z" fill="url(#pr2)" fill-rule="evenodd"/><path d="M2293.7 711.8l-2-3-32 0-1 1-29 0-1 1-124 4-1 1-40 2-50 11-17 2-90 3-2 3-2 16 0 55 2 16 4 4 66-2 1-1 36-2 44-10 28-3 208-8 2-3 2-16 0-55z" fill="url(#pr3)" fill-rule="evenodd"/><path d="M2293.7 715.8l-3-4-16 0-1 1-31 0-1 1-129 4-1 1-17 0-1 1-34 2-38 9-19 3-57 2-1 1-37 0-3 4-1 7 0 66 1 6 2 4 78-2 1-1 24-1 44-10 24-3 53-2 1-1 24 0 1-1 52-1 1-1 81-2 3-4 1-6 0-67z" fill="url(#pr4)" fill-rule="evenodd"/><path d="M2293.7 720.8l-2-5-32 0-1 1-29 0-1 1-124 4-1 1-40 2-50 11-17 2-89 3-3 5 0 10-1 1 1 58 1 4 3 2 66-2 1-1 36-2 44-10 28-3 208-8 2-5 0-10 1-1z" fill="url(#pr5)" fill-rule="evenodd"/><path d="M2292.7 723.8l-2-3-31 0-1 1-29 0-1 1-125 4-1 1-39 2-50 11-17 2-89 3-2 3-1 6 1 58 3 3 84-3 25-3 28-7 25-4 47-2 1-1 22 0 1-1 149-5 2-3 1-6z" fill="url(#pr6)" fill-rule="evenodd"/><path d="M1903 728h0m1-15h0m0 126h0m2-141h0m2-23h0m1 231h0m1-311h0m2 266h0m1-148h0m1 139h0m0 1h0m2 8h0m1-150h0m0 176h0m0 12h0m4 42h0m1-276h0m1 52h0m0 187h0m2-229h0m0 169h0m0 11h0m2-157h0m0 17h0m2 266h0m4-376h0m0 101h0m0 140h0m1 4h0m2 31h0m1-178h0m0 17h0m1-42h0m0 164h0m2-253h0m4 36h0m0 241h0m2-20h0m1-129h0m1 1h0m1 138h0m3-138h0m1 124h0m1 5h0m1-4h0m2-126h0m1 1h0m1-46h0m1 231h0m1-46h0m1-237h0m2 343h0m1-322h0m1 199h0m0 2h0m2 0h0m1-173h0m0 46h0m2 0h0m3-73h0m1 29h0m0 44h0m0 130h0m2-139h0m1 152h0m1-19h0m0 1h0m0 22h0m1-15h0m1-152h0m3 150h0m1-4h0m1 4h0m1-136h0m1 165h0m1-271h0m0 324h0m0 51h0m1-344h0m0 78h0m0 252h0m1-283h0m0 163h0m3-157h0m1 233h0m3-80h0m0 22h0m1-202h0m1 182h0m5-144h0m1 157h0m0 25h0m1-35h0m0 8h0m2-146h0m0 156h0m1-14h0m1-145h0m1-14h0m1 18h0m2 232h0m1-230h0m0 129h0m1-153h0m0 151h0m5 17h0m1-148h0m0 6h0m2-1h0m1 123h0m0 1h0m0 1h0m1-1h0m0 1h0m1-124h0m3 125h0m1-133h0m0 230h0m1-48h0m2-49h0m0 10h0m2-16h0m1-125h0m0 1h0m0 126h0m2-127h0m1 1h0m1-60h0m1 187h0m1-133h0m3 128h0m0 37h0m1-18h0m3 25h0m1-166h0m1-29h0m1 11h0m2 233h0m1-266h0m0 191h0m0 10h0m0 55h0m5-80h0m0 5h0m1-191h0m0 183h0m3-162h0m1 36h0m0 123h0m1-128h0m2-26h0m0 154h0m1-129h0m2-6h0m0 181h0m1-201h0m2 268h0m1-111h0m4-132h0m0 155h0m3-23h0m1-137h0m0 211h0m1-57h0m1-17h0m0 144h0m2-278h0m1-6h0m1 152h0m1-14h0m2 32h0m1 40h0m1-72h0m1-204h0m3 56h0m0 23h0m0 122h0m0 24h0m1-166h0m3 1h0m0 12h0m0 3h0m0 128h0m0 67h0m1-241h0m1 234h0m2-53h0m2 85h0m1-218h0m2 2h0m2-2h0m1 129h0m1 28h0m0 80h0m1-236h0m1-3h0m0 128h0m1-135h0m2 8h0m0 127h0m2-133h0m2-52h0m0 273h0m2-76h0m0 19h0m2-166h0m0 152h0m0 133h0m1-94h0m1-57h0m1 26h0m1-254h0m1 230h0m2 78h0m2-67h0m6-159h0m1 143h0m1-136h0m1 8h0m0 132h0m0 72h0m0 45h0m2-121h0m2 8h0m1 24h0m2-31h0m1-1h0m2-124h0m2-12h0m3 6h0m2 268h0m3-128h0m4-155h0m3 22h0m0 122h0m0 6h0m2 5h0m2-145h0m2 237h0m2-229h0m1 143h0m0 3h0m1-15h0m0 22h0m1-157h0m1 132h0m1-235h0m2 239h0m3-7h0m1 1h0m1-149h0m0 20h0m0 2h0m0 5h0m3 196h0m2-74h0m0 29h0m2-151h0m3 121h0m0 33h0m0 20h0m1 13h0m3-39h0m0 18h0m1-182h0m2-4h0m0 163h0m2-145h0m0 123h0m3-129h0m2 6h0m1 173h0m2-41h0m1-134h0m3-1h0m1 195h0m1-63h0m2-130h0m2-5h0m2 133h0m0 63h0m1 88h0m2-287h0m2 155h0m1 17h0m0 13h0m0 91h0m2-285h0m1 172h0m0 86h0m9-247h0m2 6h0m0 146h0m0 54h0m1-210h0m9 133h0m1 26h0m3-27h0m0 4h0m2 21h0m1-158h0m1 9h0m2-4h0m0 209h0m1-205h0m2 127h0m2-133h0m2 131h0m1 40h0m1-169h0m2 170h0m2 56h0m3-18h0m1 4h0m1-209h0m0 135h0m3-10h0" stroke="#c0101e" stroke-width="2.7" stroke-linecap="round"/><path d="M1904.7 700.8l-3 21 0 58 2 18 3 6 10 3 5 5 8 26 5 7 39 3 59 9 31 3 49 0 1-1 36-1 1-1 37 0 37 4 66 11 3-3 3-21 0-58-2-17-2-6-2-1-13-1-48-9-32-4-40-1-1 1-21 0-19 2-57 0-29-3-59-9-35-2-6-5-5-18-5-12-4-4-5-2-6 0z" fill="url(#pb0)" fill-rule="evenodd"/><path d="M1904.7 708.8l-2 13 0 58 2 13 2 3 11 4 4 4 8 26 4 7 38 3 59 9 29 3 58 0 19-2 43-1 1 1 17 0 18 2 70 12 6 0 2-3 2-13 0-58-1-8-3-8-90-14-52-1-1 1-18 0-19 2-47 0-39-4-51-8-40-3-3-3-3-6-5-19-4-8-11-5-2 0z" fill="url(#pb1)" fill-rule="evenodd"/><path d="M1904.7 715.8l-2 20 0 29 1 1 1 20 2 4 10 3 5 5 4 10 3 13 3 7 3 3 47 4 50 8 30 3 53 0 1-1 36-1 1-1 32 0 46 5 56 10 4 0 3-4 2-20 0-29-1-1 0-14-2-8-2-2-19-2-24-5-48-7-46-1-1 1-19 0-19 2-53 0-30-3-59-9-35-2-3-1-5-6-9-28-4-4-9-3z" fill="url(#pb2)" fill-rule="evenodd"/><path d="M1904.7 722.8l-1 9 1 47 2 5 11 4 4 4 11 32 3 2 35 2 59 9 29 3 36 1 1-1 81-3 1 1 19 0 18 2 70 12 7 0 2-5 1-47-2-12-4-3-8 0-55-10-36-4-42 0-1 1-18 0-19 2-44 0-1-1-31-2-59-9-40-3-5-6-4-15-6-15-10-5-2 0z" fill="url(#pb3)" fill-rule="evenodd"/><path d="M1905.7 726.8l-1 5 1 44 1 2 11 4 4 4 11 32 3 2 34 2 87 12 43 1 1-1 21 0 19-2 54 0 27 3 62 11 7 0 2-2 1-44-2-7-3-2-14-1-48-9-35-4-47 0-1 1-36 1-1 1-38 0-1-1-33-2-67-10-33-2-5-6-4-15-6-15-10-5-2 0z" fill="url(#pb4)" fill-rule="evenodd"/><path d="M1905.7 735.8l0 30 2 5 11 4 4 5 8 26 4 6 40 3 59 9 31 2 1 1 44 0 1-1 36-1 1-1 42 0 36 4 55 10 10 0 2-4 0-30-3-5-93-14-34-1-1 1-83 3-1-1-19 0-1-1-20-1-67-10-35-2-6-6-5-18-5-12-9-5-3 0z" fill="url(#pb5)" fill-rule="evenodd"/><path d="M1903 687h0m3 232h0m5-99h0m5-123h0m0 115h0m1-129h0m1-16h0m1 159h0m1 26h0m2-27h0m1-229h0m1 243h0m0 27h0m1-171h0m0 17h0m3 11h0m2 123h0m1 24h0m1 6h0m3-26h0m1 26h0m1-27h0m1-123h0m0 2h0m0 125h0m1-115h0m2-1h0m2-59h0m0 169h0m0 21h0m1-197h0m4 22h0m1 28h0m0 14h0m2-60h0m0 256h0m2-196h0m5-6h0m2 173h0m2-299h0m2 252h0m1-123h0m0 135h0m1-17h0m1-124h0m0 153h0m2-139h0m2 113h0m5 7h0m2-1h0m1-200h0m4 197h0m0 19h0m1-134h0m2-20h0m1 17h0m2 133h0m1-18h0m0 79h0m1-221h0m0 20h0m0 132h0m5-125h0m0 1h0m2-8h0m5-51h0m0 299h0m1-243h0m0 126h0m0 58h0m1-58h0m0 105h0m2-276h0m0 183h0m0 17h0m2-151h0m1-12h0m0 237h0m1-109h0m2-109h0m0 109h0m3-145h0m2 19h0m4 131h0m2-130h0m0 13h0m2 113h0m2-148h0m1-15h0m2 46h0m1-27h0m2 15h0m1 20h0m0 125h0m4-126h0m0 112h0m0 76h0m5-295h0m0 82h0m1-26h0m3-72h0m1 73h0m1 264h0m1-98h0m1-113h0m2 165h0m1-51h0m1 10h0m1-127h0m0 115h0m2-145h0m0 19h0m0 141h0m2-141h0m0 17h0m2-21h0m5 138h0m4-119h0m0 113h0m13-167h0m1 52h0m4 164h0m0 25h0m1-66h0m1 2h0m1-10h0m0 2h0m1 15h0m2-9h0m3-129h0m2-8h0m1 164h0m2 51h0m1-201h0m0 115h0m3-114h0m0 116h0m3 23h0m3-225h0m1 80h0m0 131h0m3-7h0m1 75h0m1-220h0m0 23h0m3-7h0m0 127h0m0 42h0m1-38h0m2-124h0m1-5h0m0 123h0m7-123h0m1-9h0m3 10h0m1 131h0m2-156h0m1 149h0m3-121h0m1 149h0m2-206h0m2 54h0m4 157h0m10-39h0m0 4h0m4-145h0m5 156h0m1-16h0m1-118h0m2 8h0m0 155h0m1-34h0m1-134h0m1 154h0m1-161h0m0 147h0m2-128h0m0 114h0m0 23h0m2-22h0m1-121h0m3 123h0m2-121h0m2 140h0m1-203h0m1 61h0m1 224h0m1-266h0m0 160h0m0 18h0m1-15h0m1-1h0m2 3h0m0 60h0m1-228h0m1 188h0m4-23h0m0 79h0m2-201h0m3-25h0m1 24h0m0 10h0m2-66h0m1 40h0m5 27h0m0 1h0m0 119h0m1 44h0m2-52h0m0 15h0m4-126h0m0 204h0m6-200h0m1-36h0m1 153h0m4-127h0m0 127h0m3-115h0m1 157h0m1-46h0m3-140h0m0 137h0m1-113h0m0 137h0m2 64h0m1-73h0m2-12h0m4-108h0m3 115h0m2-3h0m0 14h0m7-127h0m0 137h0m1-18h0m1-127h0m4 122h0m1-117h0m1 7h0m0 112h0m1-130h0m0 8h0m0 4h0m3 126h0m4 19h0m3-138h0m0 122h0m2-125h0m3 154h0" stroke="#12309e" stroke-width="2.7" stroke-linecap="round"/>
<path d="M2001 584.3V988.3" stroke="#000" stroke-width="2.8" stroke-dasharray="17.1 5 2.7 5"/>
<rect x="2136.1" y="592.1" width="170.8" height="78" rx="3.3" fill="#fff" fill-opacity="0.97" stroke="#ccc" stroke-width="1.3"/>
<circle cx="2159.4" cy="607.3" r="4.9" fill="#0b44de"/>
<text x="2189.5" y="612.4" font-size="16.7" fill="#725757" text-anchor="start" >First 92 Dims</text>
<circle cx="2159.4" cy="631.8" r="4.9" fill="#e20808"/>
<text x="2189.5" y="636.9" font-size="16.7" fill="#725757" text-anchor="start" >Last 36 Dims</text>
<circle cx="2159.4" cy="656.3" r="4.9" fill="#c65a12"/>
<text x="2189.5" y="661.4" font-size="16.7" fill="#725757" text-anchor="start" >Overall Dims</text>
<path d="M1902.8 805.7 L1903.2 868.9 L1903.6 902.7 L1903.9 922.4 L1904.3 935 L1904.7 945 L1905 952.7 L1905.4 958.1 L1905.8 961.6 L1906.2 963.9 L1906.5 965.3 L1906.9 966.4 L1907.3 967.3 L1907.6 967.9 L1908 968.4 L1908.4 968.7 L1908.7 968.9 L1909.1 968.9 L1909.5 968.8 L1909.8 968.8 L1910.2 968.7 L1910.6 968.6 L1910.9 968.5 L1911.3 968.4 L1911.7 968.3 L1912.1 968.2 L1912.4 968.1 L1912.8 968 L1913.2 967.8 L1913.5 967.7 L1913.9 967.6 L1914.3 967.5 L1914.6 967.3 L1915 967.2 L1915.4 967.1 L1915.7 966.9 L1916.1 966.8 L1916.5 966.7 L1916.9 966.5 L1917.2 966.4 L1917.6 966.3 L1918 966.1 L1918.5 966 L1918.9 965.9 L1919.4 965.7 L1919.8 965.6 L1920.3 965.4 L1920.8 965.3 L1921.3 965.1 L1921.8 965 L1922.4 964.8 L1922.9 964.7 L1923.5 964.6 L1924.1 964.4 L1924.7 964.3 L1925.3 964.1 L1925.9 964 L1926.6 963.9 L1927.2 963.7 L1927.9 963.6 L1928.6 963.5 L1929.3 963.3 L1930.1 963.2 L1930.9 963.1 L1931.6 962.9 L1932.5 962.8 L1933.3 962.6 L1934.2 962.5 L1935 962.3 L1935.9 962.2 L1936.9 962 L1937.8 961.9 L1938.8 961.7 L1939.8 961.6 L1940.9 961.4 L1942 961.3 L1943.1 961.1 L1944.2 960.9 L1945.4 960.8 L1946.6 960.6 L1947.8 960.4 L1949 960.3 L1950.4 960.1 L1951.7 960 L1953.1 959.8 L1954.5 959.6 L1955.9 959.5 L1957.4 959.3 L1959 959.1 L1960.6 959 L1962.2 958.8 L1963.9 958.7 L1965.6 958.5 L1967.3 958.3 L1969.2 958.2 L1971 958 L1973 957.8 L1974.9 957.6 L1977 957.4 L1979 957.3 L1981.2 957.1 L1983.4 956.9 L1985.7 956.8 L1988 956.6 L1990.4 956.5 L1992.9 956.3 L1995.4 956.2 L1998 956.1 L2000.7 956.1 L2003.5 956 L2006.3 955.9 L2009.2 955.9 L2012.2 955.8 L2015.3 955.8 L2018.5 955.7 L2021.7 955.7 L2025.1 955.6 L2028.5 955.6 L2032.1 955.5 L2035.7 955.5 L2039.4 955.4 L2043.3 955.4 L2047.3 955.4 L2051.3 955.3 L2055.5 955.3 L2059.8 955.3 L2064.2 955.2 L2068.8 955.2 L2073.5 955.2 L2078.3 955.1 L2083.2 955.1 L2088.3 955.1 L2093.5 955.1 L2098.9 955 L2104.4 955 L2110.1 955 L2115.9 955 L2121.9 954.9 L2128.1 954.9 L2134.5 954.9 L2141 954.9 L2147.7 954.9 L2154.6 954.9 L2161.7 954.9 L2169 954.8 L2176.5 954.8 L2184.2 954.8 L2192.1 954.8 L2200.3 954.8 L2208.7 954.8 L2217.3 954.8 L2226.2 954.8 L2235.3 954.8 L2244.6 954.8 L2254.3 954.7 L2264.2 954.7 L2274.4 954.7 L2284.8 954.7 L2295.6 954.7" stroke="#741c98" stroke-width="2.5" fill="none" stroke-linejoin="round"/>
<rect x="1883.2" y="584.3" width="432" height="404" fill="none" stroke="#000" stroke-width="1.5"/>
<path d="M1902.8 988.3v4.8M1962.8 988.3v4.8M2022.7 988.3v4.8M2082.6 988.3v4.8M2142.6 988.3v4.8M2202.5 988.3v4.8M2262.4 988.3v4.8M1883.2 959.4h-4.8M1883.2 901.7h-4.8M1883.2 844h-4.8M1883.2 786.3h-4.8M1883.2 728.6h-4.8M1883.2 670.9h-4.8M1883.2 613.2h-4.8M2315.2 980.5h4.8M2315.2 902.8h4.8M2315.2 825.1h4.8M2315.2 747.5h4.8M2315.2 669.8h4.8M2315.2 592.1h4.8" stroke="#000" stroke-width="1.3" fill="none"/>
<text x="1902.8" y="1008.9" font-size="13.5" fill="#000" text-anchor="middle" >0</text>
<text x="1962.8" y="1008.9" font-size="13.5" fill="#000" text-anchor="middle" >2500</text>
<text x="2022.7" y="1008.9" font-size="13.5" fill="#000" text-anchor="middle" >5000</text>
<text x="2082.6" y="1008.9" font-size="13.5" fill="#000" text-anchor="middle" >7500</text>
<text x="2142.6" y="1008.9" font-size="13.5" fill="#000" text-anchor="middle" >10000</text>
<text x="2202.5" y="1008.9" font-size="13.5" fill="#000" text-anchor="middle" >12500</text>
<text x="2262.4" y="1008.9" font-size="13.5" fill="#000" text-anchor="middle" >15000</text>
<text x="1872.7" y="964.3" font-size="13.5" fill="#8c564b" text-anchor="end" >−15</text>
<text x="1872.7" y="906.6" font-size="13.5" fill="#8c564b" text-anchor="end" >−10</text>
<text x="1872.7" y="848.9" font-size="13.5" fill="#8c564b" text-anchor="end" >−5</text>
<text x="1872.7" y="791.2" font-size="13.5" fill="#8c564b" text-anchor="end" >0</text>
<text x="1872.7" y="733.5" font-size="13.5" fill="#8c564b" text-anchor="end" >5</text>
<text x="1872.7" y="675.8" font-size="13.5" fill="#8c564b" text-anchor="end" >10</text>
<text x="1872.7" y="618.1" font-size="13.5" fill="#8c564b" text-anchor="end" >15</text>
<text x="2325.5" y="985.4" font-size="13.5" fill="#681c94" text-anchor="start" >0</text>
<text x="2325.5" y="907.7" font-size="13.5" fill="#681c94" text-anchor="start" >20</text>
<text x="2325.5" y="830" font-size="13.5" fill="#681c94" text-anchor="start" >40</text>
<text x="2325.5" y="752.4" font-size="13.5" fill="#681c94" text-anchor="start" >60</text>
<text x="2325.5" y="674.7" font-size="13.5" fill="#681c94" text-anchor="start" >80</text>
<text x="2325.5" y="597" font-size="13.5" fill="#681c94" text-anchor="start" >100</text>
<text x="2099.2" y="575" font-size="25.3" fill="#000" text-anchor="middle" >in first 16k</text>
<text transform="translate(1833.7,786.3) rotate(-90)" font-size="22.4" fill="#8c564b" text-anchor="middle">Attention score</text>
<text transform="translate(2373.7,787.8) rotate(-90)" font-size="22.4" fill="#681c94" text-anchor="middle">Perplexity</text>
<path d="M1902.8 1412.6l1.3 .3 1.3 1 1.3 1.6 1.3 2.2 1.3 2.7 1.2 3.1 1.3 3.5 1.3 3.9 1.3 4 1.3 4 1.3 4.1 1.3 3.9 1.2 3.7 1.3 3.3 1.3 3 1.3 2.4 1.3 1.9 1.3 1.3 1.2 .7 1.3 0 1.3-.7 1.3-1.3 1.3-1.9 1.3-2.4 1.3-3 1.2-3.3 1.3-3.7 1.3-3.9 1.3-4.1 1.3-4 1.3-4 1.2-3.9 1.3-3.5 1.3-3.1 1.3-2.7 1.3-2.2 1.3-1.6 1.3-1 1.2-.3 1.3 .3 1.3 1 1.3 1.6 1.3 2.2 1.3 2.7 1.2 3.1 1.3 3.5 1.3 3.9 1.3 4 1.3 4 1.3 4.1 1.3 3.9 1.2 3.7 1.3 3.3 1.3 3 1.3 2.4 1.3 1.9 1.3 1.3 1.2 .7 1.3 0 1.3-.7 1.3-1.3 1.3-1.9 1.3-2.4 1.3-3 1.2-3.3 1.3-3.7 1.3-3.9 1.3-4.1 1.3-4 1.3-4 1.2-3.9 1.3-3.5 1.3-3.1 1.3-2.7 1.3-2.2 1.3-1.6 1.3-1 1.2-.3 1.3 .3 1.3 1 1.3 1.6 1.3 2.2 1.3 2.7 1.2 3.1 1.3 3.5 1.3 3.9 1.3 4 1.3 4 1.3 4.1 1.3 3.9 1.2 3.7 1.3 3.3 1.3 3 1.3 2.4 1.3 1.9 1.3 1.3 1.2 .7 1.3 0 1.3-.7 1.3-1.3 1.3-1.9 1.3-2.4 1.3-3 1.2-3.3 1.3-3.7 1.3-3.9 1.3-4.1 1.3-4 1.3-4 1.2-3.9 1.3-3.5 1.3-3.1 1.3-2.7 1.3-2.2 1.3-1.6 1.3-1 1.2-.3 1.3 .3 1.3 1 1.3 1.6 1.3 2.2 1.3 2.7 1.2 3.1 1.3 3.5 1.3 3.9 1.3 4 1.3 4 1.3 4.1 1.3 3.9 1.2 3.7 1.3 3.3 1.3 3 1.3 2.4 1.3 1.9 1.3 1.3 1.2 .7 1.3 0 1.3-.7 1.3-1.3 1.3-1.9 1.3-2.4 1.3-3 1.2-3.3 1.3-3.7 1.3-3.9 1.3-4.1 1.3-4 1.3-4 1.3-3.9 1.2-3.5 1.3-3.1 1.3-2.7 1.3-2.2 1.3-1.6 1.3-1 1.2-.3 1.3 .3 1.3 1 1.3 1.6 1.3 2.2 1.3 2.7 1.3 3.1 1.2 3.5 1.3 3.9 1.3 4 1.3 4 1.3 4.1 1.3 3.9 1.2 3.7 1.3 3.3 1.3 3 1.3 2.4 1.3 1.9 1.3 1.3 1.3 .7 1.2 0 1.3-.7 1.3-1.3 1.3-1.9 1.3-2.4 1.3-3 1.2-3.3 1.3-3.7 1.3-3.9 1.3-4.1 1.3-4 1.3-4 1.3-3.9 1.2-3.5 1.3-3.1 1.3-2.7 1.3-2.2 1.3-1.6 1.3-1 1.2-.3 1.3 .3 1.3 1 1.3 1.6 1.3 2.2 1.3 2.7 1.3 3.1 1.2 3.5 1.3 3.9 1.3 4 1.3 4 1.3 4.1 1.3 3.9 1.2 3.7 1.3 3.3 1.3 3 1.3 2.4 1.3 1.9 1.3 1.3 1.3 .7 1.2 0 1.3-.7 1.3-1.3 1.3-1.9 1.3-2.4 1.3-3 1.2-3.3 1.3-3.7 1.3-3.9 1.3-4.1 1.3-4 1.3-4 1.3-3.9 1.2-3.5 1.3-3.1 1.3-2.7 1.3-2.2 1.3-1.6 1.3-1 1.2-.3 1.3 .3 1.3 1 1.3 1.6 1.3 2.2 1.3 2.7 1.3 3.1 1.2 3.5 1.3 3.9 1.3 4 1.3 4 1.3 4.1 1.3 3.9 1.2 3.7 1.3 3.3 1.3 3 1.3 2.4 1.3 1.9 1.3 1.3 1.3 .7 1.2 0 1.3-.7 1.3-1.3 1.3-1.9 1.3-2.4 1.3-3 1.2-3.3 1.3-3.7 1.3-3.9 1.3-4.1 1.3-4 1.3-4 1.3-3.9 1.2-3.5 1.3-3.1 1.3-2.7 1.3-2.2 1.3-1.6 1.3-1 1.2-.3 1.3 .3 1.3 1 1.3 1.6 1.3 2.2 1.3 2.7 1.3 3.1 1.2 3.5 1.3 3.9 1.3 4 1.3 4 1.3 4.1 1.3 3.9 1.2 3.7 1.3 3.3 1.3 3 1.3 2.4 1.3 1.9 1.3 1.3 1.3 .7 1.2 0 1.3-.7 1.3-1.3 1.3-1.9 1.3-2.4 1.3-3 1.2-3.3 1.3-3.7 1.3-3.9 1.3-4.1 1.3-4 1.3-4 1.3-3.9 .9-2.5" stroke="#f27a1e" stroke-width="1.65" fill="none"/>
<path d="M1902.8 1349.3l4.5 .2 4.5 .6 4.4 1.1 4.5 1.4 4.4 1.9 4.5 2.2 4.4 2.5 4.5 2.7 4.5 3 4.4 3.1 4.5 3.3 4.4 3.3 4.5 3.3 4.4 3.2 4.5 3.2 4.5 2.9 4.4 2.8 4.5 2.5 4.4 2.2 4.5 1.8 4.4 1.5 4.5 1.1 4.5 .6 4.4 .2 4.5-.2 4.4-.6 4.5-1.1 4.4-1.5 4.5-1.8 4.5-2.2 4.4-2.5 4.5-2.8 4.4-2.9 4.5-3.2 4.5-3.2 4.4-3.3 4.5-3.3 4.4-3.3 4.5-3.1 4.4-3 4.5-2.7 4.5-2.5 4.4-2.2 4.5-1.9 4.4-1.4 4.5-1.1 4.4-.6 4.5-.2 4.5 .2 4.4 .6 4.5 1.1 4.4 1.4 4.5 1.9 4.4 2.2 4.5 2.5 4.5 2.7 4.4 3 4.5 3.1 4.4 3.3 4.5 3.3 4.5 3.3 4.4 3.2 4.5 3.2 4.4 2.9 4.5 2.8 4.4 2.5 4.5 2.2 4.5 1.8 4.4 1.5 4.5 1.1 4.4 .6 4.5 .2 4.4-.2 4.5-.6 4.5-1.1 4.4-1.5 4.5-1.8 4.4-2.2 4.5-2.5 4.4-2.8 4.5-2.9 4.5-3.2 4.4-3.2 4.5-3.3 4.4-3.3 4.5-3.3 4.4-3.1 4.5-3 .5-.3" stroke="#c4561a" stroke-width="1.65" fill="none"/>
<path d="M1902.8 1285.9l6.6 .1 6.5 0 6.6 .2 6.5 .1 6.6 .3 6.5 .3 6.6 .3 6.5 .4 6.5 .4 6.6 .5 6.5 .5 6.6 .5 6.5 .6 6.6 .7 6.5 .7 6.6 .7 6.5 .8 6.6 .8 6.5 .8 6.5 .9 6.6 .9 6.5 1 6.6 .9 6.5 1 6.6 1 6.5 1.1 6.6 1 6.5 1.1 6.6 1.1 6.5 1.1 6.5 1.1 6.6 1.2 6.5 1.1 6.6 1.1 6.5 1.2 6.6 1.1 6.5 1.2 6.6 1.1 6.5 1.1 6.6 1.1 6.5 1.1 6.5 1.1 6.6 1.1 6.5 1 6.6 1.1 6.5 1 6.6 1 6.5 .9 6.6 1 6.5 .9 6.6 .8 6.5 .9 6.5 .8 6.6 .8 6.5 .7 6.6 .7 6.5 .6 6.6 .6 6.5 .6 6.6 .5" stroke="#7f3012" stroke-width="1.65" fill="none"/>
<path d="M1902.8 1222.6l6.6 0 6.5 .1 6.6 .1 6.5 .1 6.6 .1 6.5 .2 6.6 .3 6.5 .2 6.5 .3 6.6 .3 6.5 .4 6.6 .4 6.5 .4 6.6 .4 6.5 .5 6.6 .5 6.5 .6 6.6 .5 6.5 .6 6.5 .7 6.6 .6 6.5 .7 6.6 .7 6.5 .7 6.6 .7 6.5 .8 6.6 .8 6.5 .8 6.6 .8 6.5 .8 6.5 .9 6.6 .8 6.5 .9 6.6 .9 6.5 .9 6.6 .9 6.5 .9 6.6 1 6.5 .9 6.6 .9 6.5 1 6.5 .9 6.6 .9 6.5 1 6.6 .9 6.5 1 6.6 .9 6.5 .9 6.6 .9 6.5 .9 6.6 .9 6.5 .9 6.5 .9 6.6 .8 6.5 .9 6.6 .8 6.5 .8 6.6 .8 6.5 .8 6.6 .8" stroke="#6e3616" stroke-width="1.65" fill="none" stroke-dasharray="6.1 2.6"/>
<path d="M1902.8 1159.3l6.6 0 6.5 0 6.6 0 6.5 0 6.6 0 6.5 0 6.6 0 6.5 0 6.5 .1 6.6 0 6.5 0 6.6 0 6.5 0 6.6 0 6.5 .1 6.6 0 6.5 0 6.6 0 6.5 .1 6.5 0 6.6 0 6.5 .1 6.6 0 6.5 0 6.6 .1 6.5 0 6.6 .1 6.5 0 6.6 0 6.5 .1 6.5 0 6.6 .1 6.5 0 6.6 .1 6.5 0 6.6 .1 6.5 .1 6.6 0 6.5 .1 6.6 0 6.5 .1 6.5 .1 6.6 0 6.5 .1 6.6 .1 6.5 0 6.6 .1 6.5 .1 6.6 .1 6.5 0 6.6 .1 6.5 .1 6.5 .1 6.6 0 6.5 .1 6.6 .1 6.5 .1 6.6 .1 6.5 .1 6.6 .1" stroke="#a85a22" stroke-width="1.65" fill="none" stroke-dasharray="6.1 2.6"/>
<path d="M1902.8 1096l6.6 0 6.5 0 6.6 0 6.5 0 6.6 0 6.5 0 6.6 0 6.5 0 6.5 0 6.6 0 6.5 0 6.6 0 6.5 0 6.6 0 6.5 0 6.6 0 6.5 0 6.6 0 6.5 0 6.5 0 6.6 0 6.5 0 6.6 0 6.5 0 6.6 0 6.5 0 6.6 0 6.5 0 6.6 0 6.5 0 6.5 0 6.6 0 6.5 0 6.6 0 6.5 0 6.6 0 6.5 0 6.6 0 6.5 0 6.6 0 6.5 0 6.5 0 6.6 0 6.5 0 6.6 0 6.5 0 6.6 0 6.5 0 6.6 0 6.5 0 6.6 0 6.5 0 6.5 0 6.6 0 6.5 0 6.6 0 6.5 0 6.6 0 6.5 0 6.6 .1" stroke="#e08a34" stroke-width="1.65" fill="none" stroke-dasharray="6.1 2.6"/>
<path d="M2001 1077.6V1481.6" stroke="#000" stroke-width="2.8" stroke-dasharray="17.1 5 2.7 5"/>
<rect x="2151.9" y="1084.5" width="156.4" height="133.7" rx="2.7" fill="#fff" fill-opacity="0.97" stroke="#ccc" stroke-width="1.2"/>
<path d="M2156.6 1096.7h29" stroke="#f27a1e" stroke-width="1.65"/>
<text x="2196.2" y="1101.7" font-size="14.0" fill="#000" text-anchor="start" ><tspan font-style="italic">cos</tspan>(<tspan font-style="italic">θ</tspan><tspan font-style="italic" font-size="9.8" dy="3.1">n</tspan><tspan font-style="italic" dy="-3.1">t</tspan>) n=60</text>
<path d="M2156.6 1118.4h29" stroke="#c4561a" stroke-width="1.65"/>
<text x="2196.2" y="1123.4" font-size="14.0" fill="#000" text-anchor="start" ><tspan font-style="italic">cos</tspan>(<tspan font-style="italic">θ</tspan><tspan font-style="italic" font-size="9.8" dy="3.1">n</tspan><tspan font-style="italic" dy="-3.1">t</tspan>) n=75</text>
<path d="M2156.6 1140h29" stroke="#7f3012" stroke-width="1.65"/>
<text x="2196.2" y="1145" font-size="14.0" fill="#000" text-anchor="start" ><tspan font-style="italic">cos</tspan>(<tspan font-style="italic">θ</tspan><tspan font-style="italic" font-size="9.8" dy="3.1">n</tspan><tspan font-style="italic" dy="-3.1">t</tspan>) n=90</text>
<path d="M2156.6 1161.7h29" stroke="#6e3616" stroke-width="1.65" stroke-dasharray="6.1 2.6"/>
<text x="2196.2" y="1166.7" font-size="14.0" fill="#000" text-anchor="start" ><tspan font-style="italic">cos</tspan>(<tspan font-style="italic">θ</tspan><tspan font-style="italic" font-size="9.8" dy="3.1">n</tspan><tspan font-style="italic" dy="-3.1">t</tspan>) n=92</text>
<path d="M2156.6 1183.3h29" stroke="#a85a22" stroke-width="1.65" stroke-dasharray="6.1 2.6"/>
<text x="2196.2" y="1188.3" font-size="14.0" fill="#000" text-anchor="start" ><tspan font-style="italic">cos</tspan>(<tspan font-style="italic">θ</tspan><tspan font-style="italic" font-size="9.8" dy="3.1">n</tspan><tspan font-style="italic" dy="-3.1">t</tspan>) n=108</text>
<path d="M2156.6 1205h29" stroke="#e08a34" stroke-width="1.65" stroke-dasharray="6.1 2.6"/>
<text x="2196.2" y="1210" font-size="14.0" fill="#000" text-anchor="start" ><tspan font-style="italic">cos</tspan>(<tspan font-style="italic">θ</tspan><tspan font-style="italic" font-size="9.8" dy="3.1">n</tspan><tspan font-style="italic" dy="-3.1">t</tspan>) n=126</text>
<path d="M1902.8 1299 L1903.2 1362.2 L1903.6 1396 L1903.9 1415.7 L1904.3 1428.3 L1904.7 1438.3 L1905 1446 L1905.4 1451.4 L1905.8 1454.9 L1906.2 1457.2 L1906.5 1458.6 L1906.9 1459.7 L1907.3 1460.6 L1907.6 1461.2 L1908 1461.7 L1908.4 1462 L1908.7 1462.2 L1909.1 1462.2 L1909.5 1462.1 L1909.8 1462.1 L1910.2 1462 L1910.6 1461.9 L1910.9 1461.8 L1911.3 1461.7 L1911.7 1461.6 L1912.1 1461.5 L1912.4 1461.4 L1912.8 1461.3 L1913.2 1461.1 L1913.5 1461 L1913.9 1460.9 L1914.3 1460.8 L1914.6 1460.6 L1915 1460.5 L1915.4 1460.4 L1915.7 1460.2 L1916.1 1460.1 L1916.5 1460 L1916.9 1459.8 L1917.2 1459.7 L1917.6 1459.6 L1918 1459.4 L1918.5 1459.3 L1918.9 1459.2 L1919.4 1459 L1919.8 1458.9 L1920.3 1458.7 L1920.8 1458.6 L1921.3 1458.4 L1921.8 1458.3 L1922.4 1458.1 L1922.9 1458 L1923.5 1457.9 L1924.1 1457.7 L1924.7 1457.6 L1925.3 1457.4 L1925.9 1457.3 L1926.6 1457.2 L1927.2 1457 L1927.9 1456.9 L1928.6 1456.8 L1929.3 1456.6 L1930.1 1456.5 L1930.9 1456.4 L1931.6 1456.2 L1932.5 1456.1 L1933.3 1455.9 L1934.2 1455.8 L1935 1455.6 L1935.9 1455.5 L1936.9 1455.3 L1937.8 1455.2 L1938.8 1455 L1939.8 1454.9 L1940.9 1454.7 L1942 1454.6 L1943.1 1454.4 L1944.2 1454.2 L1945.4 1454.1 L1946.6 1453.9 L1947.8 1453.7 L1949 1453.6 L1950.4 1453.4 L1951.7 1453.3 L1953.1 1453.1 L1954.5 1452.9 L1955.9 1452.8 L1957.4 1452.6 L1959 1452.4 L1960.6 1452.3 L1962.2 1452.1 L1963.9 1452 L1965.6 1451.8 L1967.3 1451.6 L1969.2 1451.5 L1971 1451.3 L1973 1451.1 L1974.9 1450.9 L1977 1450.7 L1979 1450.6 L1981.2 1450.4 L1983.4 1450.2 L1985.7 1450.1 L1988 1449.9 L1990.4 1449.8 L1992.9 1449.6 L1995.4 1449.5 L1998 1449.4 L2000.7 1449.4 L2003.5 1449.3 L2006.3 1449.2 L2009.2 1449.2 L2012.2 1449.1 L2015.3 1449.1 L2018.5 1449 L2021.7 1449 L2025.1 1448.9 L2028.5 1448.9 L2032.1 1448.8 L2035.7 1448.8 L2039.4 1448.7 L2043.3 1448.7 L2047.3 1448.7 L2051.3 1448.6 L2055.5 1448.6 L2059.8 1448.6 L2064.2 1448.5 L2068.8 1448.5 L2073.5 1448.5 L2078.3 1448.4 L2083.2 1448.4 L2088.3 1448.4 L2093.5 1448.4 L2098.9 1448.3 L2104.4 1448.3 L2110.1 1448.3 L2115.9 1448.3 L2121.9 1448.2 L2128.1 1448.2 L2134.5 1448.2 L2141 1448.2 L2147.7 1448.2 L2154.6 1448.2 L2161.7 1448.2 L2169 1448.1 L2176.5 1448.1 L2184.2 1448.1 L2192.1 1448.1 L2200.3 1448.1 L2208.7 1448.1 L2217.3 1448.1 L2226.2 1448.1 L2235.3 1448.1 L2244.6 1448.1 L2254.3 1448 L2264.2 1448 L2274.4 1448 L2284.8 1448 L2295.6 1448" stroke="#741c98" stroke-width="2.9" fill="none" stroke-linejoin="round"/>
<rect x="1883.2" y="1077.6" width="432" height="404" fill="none" stroke="#000" stroke-width="1.5"/>
<path d="M1902.8 1481.6v4.8M1962.8 1481.6v4.8M2022.7 1481.6v4.8M2082.6 1481.6v4.8M2142.6 1481.6v4.8M2202.5 1481.6v4.8M2262.4 1481.6v4.8M1883.2 1437.9h-4.8M1883.2 1374.6h-4.8M1883.2 1311.3h-4.8M1883.2 1247.9h-4.8M1883.2 1184.6h-4.8M1883.2 1121.3h-4.8M2315.2 1473.8h4.8M2315.2 1396.1h4.8M2315.2 1318.4h4.8M2315.2 1240.8h4.8M2315.2 1163.1h4.8M2315.2 1085.4h4.8" stroke="#000" stroke-width="1.3" fill="none"/>
<text x="1902.8" y="1502.2" font-size="13.5" fill="#000" text-anchor="middle" >0</text>
<text x="1962.8" y="1502.2" font-size="13.5" fill="#000" text-anchor="middle" >2500</text>
<text x="2022.7" y="1502.2" font-size="13.5" fill="#000" text-anchor="middle" >5000</text>
<text x="2082.6" y="1502.2" font-size="13.5" fill="#000" text-anchor="middle" >7500</text>
<text x="2142.6" y="1502.2" font-size="13.5" fill="#000" text-anchor="middle" >10000</text>
<text x="2202.5" y="1502.2" font-size="13.5" fill="#000" text-anchor="middle" >12500</text>
<text x="2262.4" y="1502.2" font-size="13.5" fill="#000" text-anchor="middle" >15000</text>
<text x="2325.5" y="1478.7" font-size="13.5" fill="#681c94" text-anchor="start" >0</text>
<text x="2325.5" y="1401" font-size="13.5" fill="#681c94" text-anchor="start" >20</text>
<text x="2325.5" y="1323.3" font-size="13.5" fill="#681c94" text-anchor="start" >40</text>
<text x="2325.5" y="1245.7" font-size="13.5" fill="#681c94" text-anchor="start" >60</text>
<text x="2325.5" y="1168" font-size="13.5" fill="#681c94" text-anchor="start" >80</text>
<text x="2325.5" y="1090.3" font-size="13.5" fill="#681c94" text-anchor="start" >100</text>
<text x="2099.2" y="1068.4" font-size="25.3" fill="#000" text-anchor="middle" >cos of <tspan font-style="italic">θ</tspan><tspan font-style="italic" font-size="17.7" dy="4.5">n</tspan><tspan dy="-4.5"> for base=240000</tspan></text>
<text transform="translate(1863.3,1279.6) rotate(-90)" font-size="22.4" fill="#8c564b" text-anchor="middle">Cos wave</text>
<text transform="translate(2375.2,1281.1) rotate(-90)" font-size="22.4" fill="#681c94" text-anchor="middle">Perplexity</text>
<rect x="2490.1" y="91" width="62.8" height="404" fill="#fdebcb"/>
<path d="M2493 203.5l-2 7-1 27-1 1 0 65 1 1 1 28 2 7 4 3 31 4 45 0 21-6 33-15 15-4 8 0 11 3 30 16 18 4 29-1 24-4 7-3 15-10 10-4 8 0 6 2 24 13 12 3 35 0 2-4 2-14 0-18 1-1 0-65-1-1-1-27-1-5-3-4-40-1-32-16-13-1-11 5-20 12-25 4-26 1-20-4-30-16-11-3-8 0-18 5-33 15-19 5-43 0-20-2-13-3z" fill="url(#po0)" fill-rule="evenodd"/><path d="M2492 217.5l-2 19 0 69 1 1 1 20 4 6 29 4 49 0 18-5 33-15 20-5 9 1 9 3 25 14 19 5 22 0 30-4 12-5 15-10 9-3 6 0 7 2 26 14 8 2 33 1 4-1 2-5 2-20 0-69-2-20-3-5-39-1-30-15-6-2-10 0-6 2-17 11-9 4-26 4-21 1-20-3-38-19-16-1-14 4-23 11-26 9-44 1-1-1-22-1-16-3z" fill="url(#po1)" fill-rule="evenodd"/><path d="M2492 226.5l-1 81 2 13 2 3 37 5 39 0 20-5 28-13 22-7 10 0 8 2 35 18 18 3 24-1 25-4 32-17 10 0 6 2 19 11 11 4 39 1 3-7 1-80-3-15-2-1-40-1-29-15-7-2-7 0-6 2-19 12-10 4-31 4-20 0-12-2-33-17-9-3-10-1-14 3-41 18-15 4-48 0-32-4z" fill="url(#po2)" fill-rule="evenodd"/><path d="M2491 252.5l1 53 2 8 5 3 37 4 40-1 17-5 28-13 19-6 12 0 10 3 30 16 12 3 30 0 27-4 31-17 15 1 32 16 38 1 2-1 2-8 1-53-1-1 0-15-3-8-41-2-10-4-17-10-10-3-9 1-20 12-11 5-29 4-32-1-9-3-30-16-7-2-15 0-13 4-33 15-17 5-19 0-1 1-31-1-25-4-5 0z" fill="url(#po3)" fill-rule="evenodd"/><path d="M2493 242.5l-1 49 2 13 5 3 12 2 24 1 1 1 40-1 17-5 28-13 19-6 12 0 10 3 30 16 12 3 30 0 27-4 31-17 15 1 32 16 38 1 3-5 1-49-2-13-1-1-41-2-10-4-17-10-10-3-9 1-20 12-11 5-29 4-32-1-9-3-30-16-7-2-15 0-13 4-33 15-17 5-51 0-18-2-6-2-5 0z" fill="url(#po4)" fill-rule="evenodd"/><path d="M2493 259.5l0 24 2 10 8 3 28 3 47-1 23-8 28-13 12-3 10 0 8 2 35 18 18 3 24-1 26-4 20-12 11-5 10 0 14 6 13 8 8 3 9 1 30 0 2-3 1-7 0-25-1-7-2-3-40-1-29-15-7-2-7 0-6 2-19 12-10 4-31 4-20 0-15-3-32-17-12-3-6 0-16 4-28 13-25 8-47 0-32-4z" fill="url(#po5)" fill-rule="evenodd"/><path d="M2492 349h0m1-156h0m1 1h0m0 154h0m1 65h0m1-294h0m0 56h0m1-4h0m1 173h0m0 3h0m1-157h0m0 175h0m1-262h0m1 263h0m2-18h0m3-205h0m0 57h0m0 145h0m0 3h0m1-146h0m1-25h0m0 27h0m2-23h0m1 194h0m1-4h0m1 123h0m2-301h0m0 154h0m0 139h0m2-116h0m1-171h0m1 1h0m0 3h0m0 160h0m1-10h0m1-2h0m0 59h0m1-56h0m3-151h0m0 145h0m1-175h0m0 13h0m1 1h0m2 168h0m2 24h0m3-176h0m0 170h0m1-173h0m3-23h0m0 175h0m1 24h0m0 15h0m2-185h0m0 156h0m1-177h0m0 175h0m2-157h0m0 146h0m1-163h0m0 163h0m0 18h0m3-168h0m0 162h0m2-1h0m3 9h0m3-190h0m1 182h0m1-164h0m1 151h0m1-154h0m0 157h0m1-145h0m1 0h0m0 255h0m2-264h0m0 1h0m2 158h0m1-150h0m1-4h0m0 155h0m0 92h0m3-269h0m0 21h0m1 160h0m2-156h0m0 154h0m2 3h0m1-12h0m3 37h0m2-184h0m1-16h0m0 13h0m1 145h0m2 1h0m0 5h0m7-154h0m0 3h0m0 165h0m1-20h0m1-165h0m5 172h0m2-161h0m1 2h0m2 144h0m1-175h0m6 220h0m2-26h0m0 24h0m0 69h0m2-117h0m1 14h0m1-206h0m1 4h0m0 190h0m0 6h0m1-10h0m0 132h0m1-282h0m1 177h0m2-175h0m0 172h0m1-25h0m1-143h0m0 163h0m1-169h0m0 248h0m1-96h0m0 126h0m3-292h0m0 258h0m1-249h0m1-69h0m1 66h0m1-3h0m0 155h0m0 21h0m1-206h0m0 207h0m1-19h0m0 1h0m0 16h0m1-167h0m1-3h0m5 4h0m1-11h0m1 157h0m0 10h0m0 9h0m3-168h0m0 167h0m1-161h0m1 147h0m1-187h0m0 29h0m0 7h0m0 2h0m1-42h0m0 191h0m1 9h0m1 35h0m2-273h0m2 231h0m0 28h0m3-178h0m0 146h0m2-158h0m1-47h0m0 210h0m0 2h0m1 5h0m1 14h0m1-169h0m0 152h0m0 19h0m1-209h0m2 186h0m0 20h0m2-175h0m0 2h0m1 4h0m2 179h0m1-173h0m1-4h0m3-33h0m0 191h0m1-153h0m1-5h0m2 9h0m0 145h0m0 5h0m0 83h0m1-251h0m1 173h0m4-155h0m1 7h0m1-55h0m1 53h0m0 155h0m2 78h0m3-242h0m0 10h0m1 0h0m1 149h0m1 17h0m2-164h0m0 3h0m0 145h0m1-173h0m0 189h0m1-166h0m2 2h0m1-5h0m1-11h0m0 8h0m1 161h0m1-216h0m0 50h0m0 183h0m1-172h0m0 159h0m3-12h0m1-143h0m0 149h0m1-154h0m0 149h0m2-224h0m0 79h0m1 273h0m1-273h0m1 169h0m1-171h0m0 160h0m0 11h0m2-2h0m1-1h0m1-179h0m0 173h0m0 2h0m1-176h0m0 170h0m2 10h0m0 4h0m1-190h0m0 178h0m1-165h0m1-13h0m0 164h0m0 1h0m3-148h0m0 2h0m0 168h0m6-167h0m2-13h0m1 163h0m0 6h0m0 6h0m1-164h0m1 146h0m0 26h0m1-180h0m1 4h0m2-5h0m0 5h0m0 182h0m1-183h0m0 162h0m1-12h0m0 10h0m0 55h0m3-212h0m1 153h0m1-6h0m1-147h0m0 1h0m1 154h0m0 12h0m1-169h0m0 171h0m4-174h0m1-1h0m0 3h0m3 156h0m2-4h0m1-169h0m0 172h0m0 130h0m4-288h0m0 295h0m3-112h0m1-186h0m0 166h0m1-20h0m1 4h0m0 40h0m1-198h0m0 4h0m1 146h0m7 8h0m1-4h0m1-155h0m7 150h0m1-149h0m0 302h0m1-132h0m2-19h0m1-2h0m3 45h0m1-196h0m2-1h0m1 153h0m2 1h0m4-145h0m0 152h0m0 122h0m1-121h0m2 5h0m0 17h0m1-176h0m5-7h0m0 5h0m1 168h0m0 17h0m1-32h0m1 140h0m3-112h0m1-183h0m0 161h0m1-163h0m1 1h0m3 230h0m0 25h0m1-83h0m0 1h0m4-172h0m0 3h0m3 3h0m0 161h0m1-6h0m0 12h0m1 12h0m1-167h0m2-19h0m0 197h0m2-27h0m4 6h0m0 1h0m1-178h0m0 263h0m1 3h0m1-258h0m1 166h0m1-156h0m2 209h0m2-36h0m1-23h0m2-155h0m1-4h0m5 153h0m2 8h0m1 9h0m1-163h0m0 6h0m1 5h0m0 245h0" stroke="#a8561a" stroke-width="2.7" stroke-linecap="round"/><path d="M2491 216.5l-2 14 0 22-1 1 0 46 1 1 1 31 2 8 2 2 13 0 1 1 100-1 35-4 30 0 38 6 24 0 1-1 13 0 39-4 58 0 1 1 17 0 14 2 2-1 2-4 2-13 0-23 1-1 0-46-1-1-1-31-2-8-2-2-18-2-18 0-1-1-51 0-1 1-14 0-38 4-29 0-37-6-27 0-34 4-118 1z" fill="url(#pr0)" fill-rule="evenodd"/><path d="M2491 223.5l-2 19 0 68 2 20 2 5 2 1 94 0 1-1 25 0 35-4 28 1 28 5 36 0 1-1 12 0 25-3 18 0 1-1 35 0 1 1 21 0 23 2 2-2 3-23 0-68-3-23-3-3-25-1-1-1-69 0-38 4-30 1-39-6-21-1-1 1-14 0-11 2-29 1-1 1-105 0z" fill="url(#pr1)" fill-rule="evenodd"/><path d="M2491 228.5l-1 8 0 80 2 12 2 3 74 1 1-1 41 0 34-4 29 0 37 6 26 0 1-1 13 0 39-4 56 0 1 1 17 0 14 2 3-1 3-14 0-80-2-12-2-3-17-2-17 0-1-1-54 0-1 1-14 0-39 4-26 0-38-6-27 0-35 4-39 0-1 1-69 0-5-1-3 2z" fill="url(#pr2)" fill-rule="evenodd"/><path d="M2492 229.5l-2 18 0 59 2 18 2 3 4 1 113-1 34-4 27 0 37 6 28 0 1-1 13 0 40-4 52 0 1 1 17 0 17 2 3-4 2-17 0-59-3-21-4-2-29-1-1-1-58 0-1 1-13 0-39 4-24 0-38-6-30 0-35 4-44 0-1 1-68-1z" fill="url(#pr3)" fill-rule="evenodd"/><path d="M2492 234.5l-1 6 0 72 1 7 3 5 90 0 1-1 28 0 34-4 22 0 37 6 34 0 1-1 12 0 25-3 16 0 1-1 41 0 1 1 20 0 20 2 3-4 1-7 0-72-2-10-3-2-25-1-1-1-67 0-37 4-34 1-30-5-24-2-1 1-17 0-39 4-107 0z" fill="url(#pr4)" fill-rule="evenodd"/><path d="M2492 239.5l-1 63 1 1 0 11 3 6 93 0 1-1 26 0 34-4 20 0 37 6 36 0 1-1 12 0 24-3 18 0 1-1 36 0 1 1 22 0 1 1 20 1 3-6 1-62-2-16-3-3-24-1-1-1-68 0-38 4-32 1-38-6-21-1-1 1-14 0-40 4-105 0z" fill="url(#pr5)" fill-rule="evenodd"/><path d="M2493 242.5l-1 61 1 8 2 3 20 0 1 1 90-1 36-4 32 0 38 6 21 0 1-1 14 0 38-4 62 0 1 1 30 1 1-3 1-61-2-10-6-2-32-1-1-1-47 0-1 1-15 0-38 4-31 0-37-6-24 0-34 4-118 1z" fill="url(#pr6)" fill-rule="evenodd"/><path d="M2491 215h0m3-16h0m0 200h0m0 6h0m0 29h0m0 27h0m2-255h0m2-5h0m0 236h0m1-249h0m1 15h0m3-43h0m1-5h0m1 48h0m0 145h0m1-155h0m0 185h0m1-12h0m0 67h0m1-89h0m1-167h0m3 25h0m1 146h0m1 1h0m2-142h0m0 147h0m1 8h0m4-173h0m1 165h0m0 66h0m4 38h0m2-113h0m2-137h0m2-91h0m0 228h0m0 4h0m2 32h0m1-25h0m1-198h0m0 195h0m0 8h0m4-164h0m0 171h0m1-157h0m1 135h0m1-135h0m1 0h0m2 136h0m1-178h0m0 231h0m3-45h0m4 125h0m1-135h0m3-151h0m1-7h0m1 250h0m1-78h0m1-168h0m1 158h0m3 20h0m1-173h0m1 16h0m0 210h0m2-79h0m2-148h0m0 207h0m1-59h0m3-218h0m0 224h0m2 27h0m2-270h0m1 100h0m2-6h0m1-64h0m4 72h0m0 1h0m2 151h0m2-177h0m1 20h0m1 140h0m0 13h0m1-162h0m0 15h0m5 244h0m1-242h0m3 143h0m5 17h0m0 123h0m1-308h0m0 19h0m0 143h0m0 16h0m1-155h0m4-7h0m0 162h0m0 83h0m1-305h0m0 201h0m0 115h0m5-255h0m0 5h0m0 148h0m0 83h0m3-297h0m0 201h0m1 121h0m1-270h0m0 151h0m1 60h0m6-197h0m1 179h0m1-44h0m2 20h0m0 40h0m1-24h0m2-219h0m0 45h0m0 139h0m1 12h0m1-14h0m2-135h0m1 183h0m3 41h0m3-263h0m0 229h0m1-30h0m2 0h0m1-164h0m0 141h0m1-146h0m0 153h0m3-158h0m2 8h0m0 145h0m2-141h0m0 151h0m0 107h0m5-115h0m2-146h0m0 161h0m5-222h0m1 296h0m1-235h0m1-22h0m0 20h0m1 5h0m2-8h0m0 143h0m0 88h0m2-267h0m1 189h0m1-185h0m1 177h0m1-206h0m1 45h0m0 21h0m2-9h0m1 12h0m3 148h0m1 72h0m1-78h0m2 47h0m0 97h0m3-283h0m1-5h0m2-53h0m4 35h0m0 23h0m1-12h0m1 187h0m3-194h0m0 12h0m0 144h0m1 15h0m0 29h0m4-177h0m3-28h0m0 196h0m1-168h0m0 189h0m3-45h0m3 26h0m1-173h0m1 147h0m0 5h0m3 4h0m2-3h0m2-9h0m0 139h0m1-97h0m1 96h0m2-141h0m0 109h0m1-113h0m1 15h0m1-13h0m1-1h0m1-150h0m0 171h0m1 20h0m1-208h0m0 15h0m0 157h0m7 3h0m4-152h0m0 1h0m3 141h0m1 11h0m1-12h0m3 0h0m0 16h0m2-175h0m2 176h0m4-154h0m0 164h0m3-166h0m0 144h0m2 142h0m2-148h0m1 75h0m2-210h0m4 139h0m2-5h0m1 71h0m2-211h0m2-5h0m1 175h0m0 120h0m1-49h0m3-257h0m0 156h0m1-158h0m0 8h0m0 160h0m2-144h0m3 141h0m1-144h0m4 1h0m0 170h0m3-182h0m1 3h0m1 251h0m1-248h0m0 144h0m1-158h0m3 11h0m0 204h0m3 50h0m1-92h0m1-172h0m1 163h0m1-154h0m0 10h0m1 168h0m0 97h0m1-268h0m5 142h0m1 11h0m0 100h0m3-110h0m1-141h0m4 142h0m1 16h0m2-154h0m0 263h0m1-265h0m0 141h0m4 67h0m4-13h0m2-217h0m0 163h0m2 83h0m1-229h0m1 154h0m1 126h0m3-131h0m14 13h0m0 58h0" stroke="#c0101e" stroke-width="2.7" stroke-linecap="round"/><path d="M2491 262.5l-2 17 0 49 3 20 5 3 7 0 15 3 23 0 14-2 14 1 13 4 22 10 10 2 13-1 32-11 18 1 29 9 17 0 19-5 14-2 41 1 31-8 22 1 25 9 4 0 2-5 2-16 0-49-2-17-3-6-29-10-19-1-26 7-16 2-39-1-25 6-20 0-28-9-15-1-38 12-16-1-28-12-12-3-51 1-15-3-8 0z" fill="url(#pb0)" fill-rule="evenodd"/><path d="M2491 271.5l-1 57 2 12 2 3 11 1 16 3 43-2 11 2 25 11 17 4 14-2 28-10 15 0 29 9 19 1 33-7 42 1 31-8 19 0 32 10 3-7 1-56-3-15-23-9-13-3-18 1-21 6-13 2-41-1-33 7-14-1-20-7-14-3-17 2-28 10-13 0-8-2-22-10-15-4-19 0-20 2-34-4z" fill="url(#pb1)" fill-rule="evenodd"/><path d="M2491 279.5l0 15-1 1 1 33 2 8 4 2 7 0 15 3 23 0 14-2 14 1 13 4 22 10 10 2 13-1 32-11 18 1 29 9 17 0 19-5 14-2 41 1 31-8 17 0 33 10 2-3 1-6 1-32-1-1 0-15-3-10-34-11-14 0-26 7-16 2-39-1-25 6-20 0-28-9-15-1-38 12-16-1-28-12-12-3-51 1-15-3-8 0z" fill="url(#pb2)" fill-rule="evenodd"/><path d="M2492 280.5l-1 38 2 12 2 2 30 4 41-2 13 3 17 8 15 5 19-1 20-8 16-3 10 1 20 7 14 3 17-1 25-6 42 1 39-9 16 1 29 10 3-5 1-37-2-13-4-3-28-9-7-1-13 1-33 8-41-1-33 7-18-1-28-9-17 0-32 11-16 0-29-12-16-4-42 2-28-4z" fill="url(#pb3)" fill-rule="evenodd"/><path d="M2492 289.5l0 29 3 8 26 4 19 0 13-2 18 1 15 5 14 7 18 4 13-2 28-10 15 0 29 9 19 1 33-7 41 1 32-8 19 0 31 10 2-2 1-6 0-29-2-7-2-2-33-10-18 1-16 5-17 3-42-1-32 7-15-1-17-6-17-4-17 2-28 10-18-1-25-11-15-4-19 0-1 1-20 1-32-4z" fill="url(#pb4)" fill-rule="evenodd"/><path d="M2493 294.5l0 19 1 4 3 2 7 0 16 3 21 0 14-2 15 1 8 2 22 10 16 4 15-2 29-10 18 1 29 9 16 0 33-7 41 1 32-8 18 0 29 10 3-1 1-4 0-18-1-5-2-2-23-8-10-2-13 0-26 7-14 2-40-1-34 7-12-1-28-9-15-1-38 12-16-1-26-11-14-4-51 1-15-3-7 0z" fill="url(#pb5)" fill-rule="evenodd"/><path d="M2491 350h0m1 6h0m3-150h0m2 150h0m2-188h0m0 80h0m0 121h0m2 24h0m1-182h0m0 161h0m2-118h0m0 4h0m0 104h0m1-107h0m0 99h0m0 17h0m3-117h0m1 102h0m4-120h0m1 17h0m0 5h0m2 96h0m1 3h0m2-101h0m3 143h0m1-145h0m1 102h0m2-100h0m8-9h0m0 116h0m2-156h0m0 42h0m2 1h0m0 110h0m1-5h0m1-152h0m0 192h0m2-136h0m0 113h0m1-15h0m4-136h0m0 34h0m0 126h0m10-22h0m1-102h0m2 97h0m2 0h0m3 0h0m1-168h0m4 32h0m2 24h0m0 12h0m1-4h0m1 110h0m4 6h0m3-2h0m0 6h0m4-179h0m0 72h0m4 119h0m5-15h0m0 13h0m1 42h0m1-41h0m0 41h0m1-218h0m1 2h0m1 202h0m1 1h0m2-41h0m2 0h0m1-107h0m2-86h0m0 56h0m1 142h0m2-3h0m2-100h0m2 0h0m2-16h0m2 119h0m1 97h0m4-86h0m0 13h0m0 8h0m1-130h0m1-13h0m1 112h0m3-108h0m3 121h0m3-17h0m2 8h0m0 77h0m1-88h0m0 8h0m3-113h0m1 7h0m3-1h0m0 190h0m2-26h0m1-11h0m2-35h0m1 87h0m1-111h0m0 4h0m1 3h0m1-3h0m3 1h0m1-8h0m3-102h0m1-81h0m1 45h0m0 138h0m2-226h0m0 130h0m0 100h0m0 4h0m2-9h0m0 7h0m1-106h0m0 111h0m1-10h0m3-113h0m1 13h0m1-1h0m5 4h0m2 101h0m1 10h0m1-120h0m1 128h0m0 34h0m1-152h0m1 109h0m1-106h0m1-41h0m1 175h0m1 3h0m2-142h0m0 1h0m4 115h0m0 67h0m1-183h0m0 129h0m1-13h0m3 0h0m5-5h0m2-107h0m2 3h0m3 105h0m1-4h0m2-101h0m0 101h0m3-100h0m1 116h0m4-10h0m0 12h0m3-135h0m2-30h0m2 147h0m3 119h0m1-92h0m4-27h0m1-153h0m0 168h0m1 48h0m10-179h0m0 11h0m5-2h0m1-5h0m1 107h0m1 2h0m0 2h0m1-104h0m1-7h0m2-7h0m3 114h0m4-128h0m1 133h0m3 0h0m3-6h0m0 10h0m1 2h0m0 31h0m1-42h0m0 2h0m1 0h0m1 64h0m6-206h0m5 41h0m1 101h0m0 3h0m5-5h0m1-111h0m0 125h0m2-114h0m1-13h0m4 115h0m2-108h0m0 171h0m2-69h0m3 18h0m1-116h0m4-73h0m1 45h0m3 26h0m1-9h0m1-4h0m1 2h0m1-7h0m0 142h0m1-26h0m6 2h0m5-112h0m0 106h0m2-114h0m1 12h0m3 108h0m0 9h0m3-116h0m2 114h0m2-3h0m3-183h0m1 181h0m2-110h0m1 8h0m2 1h0m3 115h0m2 78h0m6-238h0m1 159h0m2-113h0m1 106h0m1 8h0m1-11h0m2-99h0m3 9h0" stroke="#12309e" stroke-width="2.7" stroke-linecap="round"/>
<path d="M2505.8 91V495" stroke="#000" stroke-width="2.8" stroke-dasharray="17.1 5 2.7 5"/>
<rect x="2723.4" y="98.8" width="170.8" height="78" rx="3.3" fill="#fff" fill-opacity="0.97" stroke="#ccc" stroke-width="1.3"/>
<circle cx="2746.7" cy="114" r="4.9" fill="#0b44de"/>
<text x="2776.8" y="119.1" font-size="16.7" fill="#725757" text-anchor="start" >First 92 Dims</text>
<circle cx="2746.7" cy="138.5" r="4.9" fill="#e20808"/>
<text x="2776.8" y="143.6" font-size="16.7" fill="#725757" text-anchor="start" >Last 36 Dims</text>
<circle cx="2746.7" cy="163" r="4.9" fill="#c65a12"/>
<text x="2776.8" y="168.1" font-size="16.7" fill="#725757" text-anchor="start" >Overall Dims</text>
<clipPath id="cp40"><rect x="2470.5" y="91" width="432" height="404"/></clipPath>
<path d="M2490.1 312.4 L2490.2 375.6 L2490.3 409.4 L2490.3 429.1 L2490.4 441.7 L2490.4 451.7 L2490.5 459.4 L2490.5 464.8 L2490.6 468.3 L2490.7 470.6 L2490.7 472 L2490.8 473.1 L2490.8 474 L2490.9 474.6 L2491 475.1 L2491 475.4 L2491.1 475.6 L2491.1 475.6 L2491.2 475.5 L2491.3 475.5 L2491.3 475.4 L2491.4 475.3 L2491.4 475.2 L2491.5 475.1 L2491.6 475 L2491.6 474.9 L2491.7 474.8 L2491.7 474.7 L2491.8 474.5 L2491.8 474.4 L2491.9 474.3 L2492 474.2 L2492 474 L2492.1 473.9 L2492.1 473.8 L2492.2 473.6 L2492.3 473.5 L2492.3 473.4 L2492.4 473.2 L2492.4 473.1 L2492.5 472.9 L2492.6 472.7 L2492.8 472.5 L2492.9 472.2 L2493 472 L2493.1 471.8 L2493.3 471.6 L2493.4 471.3 L2493.5 471.1 L2493.7 470.9 L2493.8 470.7 L2494 470.5 L2494.2 470.3 L2494.3 470.1 L2494.5 469.9 L2494.7 469.6 L2494.9 469.4 L2495.1 469.2 L2495.4 469 L2495.6 468.7 L2495.8 468.5 L2496.1 468.2 L2496.4 468 L2496.6 467.7 L2496.9 467.5 L2497.2 467.2 L2497.5 467 L2497.8 466.7 L2498.2 466.5 L2498.5 466.2 L2498.9 466 L2499.3 465.7 L2499.7 465.5 L2500.1 465.2 L2500.6 465 L2501 464.7 L2501.5 464.4 L2502 464.1 L2502.5 463.9 L2503.1 463.6 L2503.7 463.3 L2504.3 463.1 L2504.9 463 L2505.5 462.8 L2506.2 462.7 L2506.9 462.6 L2507.7 462.5 L2508.4 462.5 L2509.2 462.4 L2510.1 462.3 L2511 462.3 L2511.9 462.2 L2512.8 462.2 L2513.8 462.1 L2514.9 462.1 L2516 462 L2517.1 462 L2518.3 461.9 L2519.6 461.9 L2520.9 461.8 L2522.2 461.8 L2523.6 461.8 L2525.1 461.7 L2526.6 461.7 L2528.3 461.6 L2529.9 461.5 L2531.7 461.5 L2533.5 461.4 L2535.4 461.4 L2537.4 461.3 L2539.5 461.3 L2541.7 461.2 L2544 461.2 L2546.4 461.1 L2548.9 461.1 L2551.4 461 L2554.2 461 L2557 460.9 L2559.9 460.8 L2563 460.8 L2566.2 460.7 L2569.6 460.7 L2573.1 460.6 L2576.7 460.5 L2580.6 460.5 L2584.6 460.4 L2588.7 460.3 L2593.1 460.3 L2597.6 460.2 L2602.4 460.1 L2607.3 460 L2612.5 459.9 L2617.9 459.8 L2623.5 459.7 L2629.4 459.6 L2635.6 459.4 L2642 459.3 L2648.7 459.2 L2655.7 459 L2663 458.9 L2670.6 458.7 L2678.6 458.5 L2686.9 458.4 L2695.6 458.2 L2704.7 458 L2714.1 457.8 L2724 457.6 L2734.3 457.4 L2745.1 457.2 L2756.4 457 L2768.1 456.8 L2780.4 456.5 L2793.2 456.3 L2806.6 456 L2820.6 455.8 L2835.1 455.5 L2850.4 455.2 L2866.3 454.9 L2882.9 454.6" stroke="#741c98" stroke-width="2.5" fill="none" stroke-linejoin="round" clip-path="url(#cp40)"/>
<rect x="2470.5" y="91" width="432" height="404" fill="none" stroke="#000" stroke-width="1.5"/>
<path d="M2490.1 495v4.8M2566.8 495v4.8M2643.5 495v4.8M2720.3 495v4.8M2797 495v4.8M2873.7 495v4.8M2470.5 466.1h-4.8M2470.5 408.4h-4.8M2470.5 350.7h-4.8M2470.5 293h-4.8M2470.5 235.3h-4.8M2470.5 177.6h-4.8M2470.5 119.9h-4.8M2902.5 487.2h4.8M2902.5 409.5h4.8M2902.5 331.8h4.8M2902.5 254.2h4.8M2902.5 176.5h4.8M2902.5 98.8h4.8" stroke="#000" stroke-width="1.3" fill="none"/>
<text x="2490.1" y="515.6" font-size="13.5" fill="#000" text-anchor="middle" >0</text>
<text x="2566.8" y="515.6" font-size="13.5" fill="#000" text-anchor="middle" >20000</text>
<text x="2643.5" y="515.6" font-size="13.5" fill="#000" text-anchor="middle" >40000</text>
<text x="2720.3" y="515.6" font-size="13.5" fill="#000" text-anchor="middle" >60000</text>
<text x="2797" y="515.6" font-size="13.5" fill="#000" text-anchor="middle" >80000</text>
<text x="2873.7" y="515.6" font-size="13.5" fill="#000" text-anchor="middle" >100000</text>
<text x="2460" y="471" font-size="13.5" fill="#8c564b" text-anchor="end" >−15</text>
<text x="2460" y="413.3" font-size="13.5" fill="#8c564b" text-anchor="end" >−10</text>
<text x="2460" y="355.6" font-size="13.5" fill="#8c564b" text-anchor="end" >−5</text>
<text x="2460" y="297.9" font-size="13.5" fill="#8c564b" text-anchor="end" >0</text>
<text x="2460" y="240.2" font-size="13.5" fill="#8c564b" text-anchor="end" >5</text>
<text x="2460" y="182.5" font-size="13.5" fill="#8c564b" text-anchor="end" >10</text>
<text x="2460" y="124.8" font-size="13.5" fill="#8c564b" text-anchor="end" >15</text>
<text x="2912.8" y="492.1" font-size="13.5" fill="#681c94" text-anchor="start" >0</text>
<text x="2912.8" y="414.4" font-size="13.5" fill="#681c94" text-anchor="start" >20</text>
<text x="2912.8" y="336.7" font-size="13.5" fill="#681c94" text-anchor="start" >40</text>
<text x="2912.8" y="259.1" font-size="13.5" fill="#681c94" text-anchor="start" >60</text>
<text x="2912.8" y="181.4" font-size="13.5" fill="#681c94" text-anchor="start" >80</text>
<text x="2912.8" y="103.7" font-size="13.5" fill="#681c94" text-anchor="start" >100</text>
<text x="2686.5" y="81.6" font-size="25.3" fill="#000" text-anchor="middle" >mean of <tspan font-style="italic">q</tspan><tspan font-style="italic" font-size="17.7" dy="7.1">t</tspan><tspan font-style="italic" font-size="17.7" dx="-4.7" dy="-16.5">T</tspan><tspan font-style="italic" dy="9.4" dx="1.2">k</tspan><tspan font-size="17.7" dy="4.5">0</tspan><tspan dy="-4.5"> for base=1000000</tspan></text>
<text transform="translate(2421,293) rotate(-90)" font-size="22.4" fill="#8c564b" text-anchor="middle">Attention score</text>
<text transform="translate(2961,294.5) rotate(-90)" font-size="22.4" fill="#681c94" text-anchor="middle">Perplexity</text>
<rect x="2490.1" y="584.3" width="392.8" height="404" fill="#fdebcb"/>
<path d="M2881 696.8l-3-3-21 0-1 1-47 0-1 1-48 0-1 1-265 5-3 7-2 20 0 89 3 24 2 3 47 0 1-1 335-6 4-4 3-24 0-89z" fill="url(#po0)" fill-rule="evenodd"/><path d="M2881 705.8l-2-4-28 0-1 1-48 0-1 1-48 0-1 1-47 0-1 1-48 0-1 1-161 3-3 9-1 34-1 1 1 66 2 14 2 3 5 1 1-1 378-7 3-4 1-5 1-35 1-1 0-39-1-1 0-25z" fill="url(#po1)" fill-rule="evenodd"/><path d="M2881 712.8l-2-4-7-1-1 1-376 7-3 5-2 20 0 65 2 20 2 5 32 0 1-1 48 0 1-1 48 0 1-1 47 0 1-1 48 0 1-1 157-3 3-11 0-13 1-1 0-65z" fill="url(#po2)" fill-rule="evenodd"/><path d="M2881 719.8l-2-5-10-1-1 1-373 7-3 6-1 9 0 74 2 12 2 2 34 0 1-1 48 0 1-1 47 0 1-1 48 0 1-1 48 0 1-1 47 0 1-1 48 0 1-1 57-1 3-14 0-75z" fill="url(#po3)" fill-rule="evenodd"/><path d="M2880 722.8l-3-3-8 0-1 1-48 0-1 1-324 6-3 8 0 12-1 1 0 49 2 18 2 3 35 0 1-1 47 0 1-1 48 0 1-1 48 0 1-1 47 0 1-1 48 0 1-1 47 0 1-1 56-1 3-8 0-12 1-1 0-49z" fill="url(#po4)" fill-rule="evenodd"/><path d="M2880 730.8l-2-4-29 0-1 1-47 0-1 1-48 0-1 1-48 0-1 1-47 0-1 1-48 0-1 1-110 2-3 11 1 63 3 4 5 0 1-1 375-7 3-4 1-8z" fill="url(#po5)" fill-rule="evenodd"/><path d="M2880 744.8l-3-8-381 8-2 2-1 6 0 41 2 8 376-7 7-1 2-7z" fill="url(#po6)" fill-rule="evenodd"/><path d="M2491 703h0m0 256h0m1-265h0m0 10h0m3-3h0m2 166h0m0 11h0m1-17h0m1-13h0m1 5h0m1-181h0m0 182h0m1-156h0m0 152h0m1-4h0m2 22h0m4 2h0m2-174h0m3-93h0m1 70h0m1 16h0m0 173h0m0 122h0m1-133h0m1-154h0m1-35h0m0 2h0m0 185h0m1-201h0m2 209h0m1-258h0m0 99h0m0 148h0m1 1h0m0 23h0m1-23h0m2-176h0m0 17h0m0 173h0m0 16h0m1-200h0m1 4h0m0 168h0m0 23h0m2-263h0m1 52h0m3-64h0m2 255h0m4-5h0m1-155h0m3 8h0m0 229h0m3-61h0m2-204h0m2 226h0m1-235h0m0 38h0m0 5h0m1 166h0m2-6h0m1-161h0m1-2h0m0 160h0m0 14h0m2-6h0m2-6h0m1-191h0m1 181h0m1 1h0m2-156h0m0 6h0m0 202h0m1-214h0m0 11h0m0 158h0m2 1h0m1-160h0m4 174h0m6-174h0m1-99h0m0 29h0m0 67h0m0 167h0m1-14h0m0 3h0m3 3h0m1 23h0m1-204h0m0 20h0m0 7h0m1-5h0m5-17h0m1 191h0m1-173h0m3 200h0m1-206h0m2 157h0m3-206h0m0 8h0m1 45h0m1 0h0m0 157h0m0 52h0m1-31h0m1-16h0m3-216h0m1 226h0m2-180h0m0 180h0m1-241h0m0 68h0m0 196h0m1-209h0m0 12h0m0 162h0m0 44h0m1-34h0m1-173h0m1 156h0m1 18h0m2-170h0m1 154h0m1-153h0m0 259h0m2-257h0m2-7h0m1 4h0m1 172h0m2-173h0m1-56h0m1 62h0m0 157h0m1-175h0m1 16h0m1-3h0m0 166h0m1-14h0m1 4h0m1-4h0m2-150h0m1-35h0m3 195h0m1-11h0m5-157h0m0 191h0m1-194h0m1 177h0m1-167h0m0 159h0m2 8h0m1-165h0m0 150h0m2 122h0m0 5h0m2-278h0m1-3h0m1 5h0m0 236h0m2-247h0m0 176h0m1-196h0m0 22h0m0 155h0m0 14h0m3 4h0m0 1h0m2-176h0m0 161h0m4 11h0m1-161h0m0 160h0m3-11h0m0 96h0m2-254h0m0 205h0m1-49h0m2-1h0m0 5h0m1-163h0m1 164h0m1 57h0m1-61h0m1-3h0m0 6h0m0 5h0m1 24h0m1-11h0m1-2h0m2-183h0m0 174h0m1-13h0m0 3h0m1-149h0m1-16h0m0 170h0m0 13h0m1-166h0m1-103h0m0 70h0m1 2h0m2-35h0m1 327h0m1-263h0m0 192h0m1-191h0m0 153h0m1-152h0m2 145h0m1 6h0m6-2h0m1 62h0m1-216h0m2 176h0m3-25h0m4 2h0m2 17h0m1-181h0m0 170h0m2-159h0m0 190h0m1-192h0m0 190h0m2-185h0m1 153h0m1 18h0m0 86h0m1-88h0m1-175h0m5 190h0m1 13h0m3 70h0m2-101h0m1-182h0m0 175h0m1-173h0m0 6h0m0 8h0m0 1h0m2-6h0m0 159h0m1 18h0m1-176h0m0 199h0m2-195h0m0 1h0m4-10h0m0 162h0m2-157h0m1-17h0m0 12h0m4 178h0m3-172h0m1-1h0m0 209h0m2 8h0m1-218h0m0 164h0m0 2h0m5-164h0m1 157h0m1-166h0m1 165h0m2 0h0m1-156h0m2-17h0m1 170h0m1-161h0m1 171h0m2-177h0m0 250h0m1-75h0m4-164h0m0 1h0m2-1h0m0 3h0m1-2h0m4 5h0m1 153h0m3-7h0m0 8h0m3-3h0m3 42h0m4-199h0m1 253h0m2 15h0m2-264h0m0 154h0m2-162h0m0 8h0m1-2h0m1 0h0m1 170h0m1-167h0m2 155h0m0 84h0m2-254h0m0 170h0m1 33h0m4-194h0m0 180h0m2-17h0m1 22h0m1-26h0m1-8h0m1-164h0m1 16h0m0 155h0m1-158h0m0 156h0m0 8h0m3-168h0m0 4h0m0 285h0m1-293h0m0 172h0m0 103h0m2-268h0m2-14h0m3 14h0m0 168h0m1 6h0m1-172h0m2 1h0m2 259h0m1-256h0m2-20h0m0 170h0m4-164h0m2 161h0m4-164h0m3 12h0m0 156h0m0 34h0" stroke="#a8561a" stroke-width="2.7" stroke-linecap="round"/><path d="M2882 718.8l-3-4-36 0-1 1-48 0-1 1-48 0-1 1-47 0-1 1-48 0-1 1-47 0-1 1-48 0-1 1-56 1-4 8-1 24-1 1 0 43 3 29 4 4 9 0 1-1 374-7 4-8 1-24 1-1 0-43z" fill="url(#pr0)" fill-rule="evenodd"/><path d="M2882 723.8l-2-4-2-1-8 0-1 1-374 7-3 2-3 19 1 70 2 7 2 2 385-8 3-5 2-15 0-60z" fill="url(#pr1)" fill-rule="evenodd"/><path d="M2882 727.8l-3-5-30 0-1 1-47 0-1 1-48 0-1 1-47 0-1 1-48 0-1 1-160 3-2 2-2 10 0 69 3 11 4 1 1-1 380-7 3-3 2-9 0-69z" fill="url(#pr2)" fill-rule="evenodd"/><path d="M2882 732.8l-3-7-22 0-1 1-47 0-1 1-48 0-1 1-48 0-1 1-216 4-3 7-1 10 1 63 3 6 44 0 1-1 47 0 1-1 290-5 4-4 2-13z" fill="url(#pr3)" fill-rule="evenodd"/><path d="M2880 729.8l-2-1-20 0-1 1-47 0-1 1-48 0-1 1-266 5-3 9 0 62 1 6 2 3 42 0 1-1 339-6 4-2 2-8 0-62z" fill="url(#pr4)" fill-rule="evenodd"/><path d="M2881 736.8l-3-5-13 0-1 1-48 0-1 1-320 6-3 5-1 9 1 56 2 4 36 0 1-1 48 0 1-1 48 0 1-1 47 0 1-1 48 0 1-1 47 0 1-1 48 0 1-1 56-1 2-4 1-9z" fill="url(#pr5)" fill-rule="evenodd"/><path d="M2881 744.8l-2-8-383 7-3 3-1 6 0 49 3 8 383-8 3-8z" fill="url(#pr6)" fill-rule="evenodd"/><path d="M2491 647h0m2 282h0m3-296h0m1 204h0m1-2h0m2-218h0m1 22h0m0 200h0m0 41h0m2-161h0m0 144h0m0 2h0m3-18h0m1 44h0m1-171h0m0 138h0m1-150h0m1-84h0m0 209h0m1-115h0m1 193h0m1-197h0m2-53h0m0 33h0m0 141h0m0 9h0m1-124h0m2-15h0m0 10h0m0 120h0m0 102h0m2-220h0m4 150h0m1-15h0m8-172h0m1-23h0m0 56h0m1 225h0m1-238h0m0 233h0m2-58h0m4-158h0m1 168h0m1-203h0m0 38h0m1-6h0m1-8h0m2 0h0m0 129h0m1 18h0m2-190h0m1 47h0m0 146h0m4-194h0m0 3h0m0 183h0m0 109h0m1-243h0m3 118h0m0 8h0m0 64h0m3-311h0m1 287h0m4-161h0m4 1h0m1 112h0m0 2h0m1-128h0m2 14h0m2-30h0m1 141h0m0 10h0m1-5h0m2-119h0m2-1h0m1 3h0m0 127h0m3 32h0m2 51h0m1-337h0m2 93h0m1 277h0m4-95h0m1-165h0m0 133h0m4 68h0m3-211h0m2 143h0m1-4h0m0 6h0m2 53h0m1-171h0m1 115h0m1-179h0m0 178h0m1 23h0m3-159h0m0 140h0m4 6h0m0 123h0m1-83h0m1-50h0m1 13h0m0 136h0m2-132h0m4-132h0m3 112h0m1-114h0m2-65h0m2 248h0m1-54h0m6-7h0m5-144h0m0 140h0m1-191h0m0 241h0m4-54h0m0 4h0m1 62h0m1-222h0m1 157h0m2-149h0m1 155h0m2-120h0m2-7h0m2-88h0m0 22h0m2-10h0m0 55h0m0 140h0m0 4h0m2 43h0m1 48h0m1-77h0m3-16h0m4-181h0m2 67h0m0 112h0m3-113h0m2-42h0m0 38h0m1 244h0m1-244h0m1-19h0m0 25h0m3-25h0m1 20h0m1-25h0m0 170h0m0 15h0m1-212h0m0 22h0m0 31h0m0 156h0m1-246h0m8 61h0m0 143h0m0 14h0m0 47h0m1-175h0m0 125h0m1-162h0m1-10h0m0 218h0m1-45h0m2-8h0m2-3h0m0 94h0m1-283h0m1 23h0m1 170h0m2-4h0m0 57h0m2-58h0m3 65h0m4-186h0m0 10h0m1-1h0m1 125h0m1-3h0m0 23h0m1-145h0m0 113h0m2-131h0m0 132h0m0 19h0m1-138h0m0 119h0m1 57h0m1-172h0m1-2h0m0 142h0m3 2h0m3-148h0m0 123h0m0 57h0m1-178h0m9 5h0m0 251h0m3-256h0m1 116h0m2-111h0m1 115h0m1-148h0m6 154h0m0 101h0m1-112h0m3-118h0m1 137h0m0 15h0m0 41h0m1-17h0m1-57h0m4 0h0m1-122h0m1 128h0m1-126h0m1 6h0m0 226h0m1-230h0m3-16h0m0 15h0m0 131h0m1 61h0m1-63h0m4-127h0m0 154h0m1 65h0m3-221h0m1 4h0m3-5h0m1 7h0m0 119h0m1 43h0m1-191h0m0 202h0m2-61h0m0 64h0m1-177h0m1 113h0m1 16h0m1-130h0m3-3h0m1-36h0m2 29h0m1 128h0m1 2h0m2-132h0m0 204h0m1-72h0m4-149h0m1 31h0m0 186h0m1-63h0m0 55h0m1-201h0m0 214h0m1-201h0m2 134h0m1-123h0m1-17h0m0 196h0m1-32h0m1-176h0m0 143h0m1-114h0m1 115h0m1-3h0m0 64h0m1-7h0m2 79h0m1-131h0m0 20h0m0 52h0m0 32h0m1-80h0m1-151h0m5 9h0m1-29h0m1 211h0m2-65h0m1 91h0m2-213h0m1-4h0m5 0h0m1 198h0m2-230h0m0 156h0m1 99h0m1-92h0m0 1h0m2-127h0m1 118h0m1-128h0m2 12h0m0 1h0m1-3h0m2 158h0m1-157h0m1 3h0m2 0h0m2 147h0" stroke="#c0101e" stroke-width="2.7" stroke-linecap="round"/><path d="M2491 738.8l-2 16 0 56 2 16 3 5 46 0 1 1 22 0 19 2 17 20 6 1 148 1 1-1 123-1 4-3 3-18 0-57-2-15-2-5-2-1-71 1-1 1-185 0-1-1-20 0-6-5-6-10-5-5-3-1-29-1-1-1-56 0z" fill="url(#pb0)" fill-rule="evenodd"/><path d="M2491 746.8l-2 40 1 1 0 23 2 11 2 3 42 0 1 1 23 0 1 1 21 1 7 7 4 7 6 6 4 1 164 1 1-1 110-1 3-3 1-4 1-31 1-1-1-32-2-11-3-3-79 1-1 1-197-1-3-1-4-4-6-10-5-5-3-1-26-1-1-1-59 0z" fill="url(#pb1)" fill-rule="evenodd"/><path d="M2492 749.8l-2 16 0 33 2 17 3 4 54 0 1 1 30 1 8 6 6 10 6 5 19 0 1 1 245-1 1-1 13 0 3-8 1-45-1-1 0-11-3-8-127 1-1 1-145-1-7-1-6-6-9-13-7-2-35-1-1-1-46 0z" fill="url(#pb2)" fill-rule="evenodd"/><path d="M2492 755.8l-1 47 1 7 3 5 54 0 1 1 30 1 8 6 6 10 6 5 18 0 1 1 246-1 1-1 13 0 2-5 1-47-3-11-128 1-1 1-144-1-7-1-6-6-8-12-8-3-35-1-1-1-46 0z" fill="url(#pb3)" fill-rule="evenodd"/><path d="M2492 762.8l-1 27 1 1 0 12 2 6 2 1 54 0 1 1 29 1 3 1 5 5 7 11 5 4 20 0 1 1 243-1 1-1 13 0 3-6 1-28-1-1 0-12-2-6-124 1-1 1-149-1-6-1-7-7-7-11-8-3-36-1-1-1-45 0z" fill="url(#pb4)" fill-rule="evenodd"/><path d="M2493 765.8l-1 26 1 8 2 3 62 1 1 1 23 1 8 7 7 11 5 3 36 0 1 1 209-1 1-1 30 0 2-4 1-25-1-8-2-4-95 1-1 1-181-1-7-5-7-11-6-5-23-1-1-1-61-1z" fill="url(#pb5)" fill-rule="evenodd"/><path d="M2494 777.8l0 10 1 3 2 1 55 0 31 3 6 6 7 11 4 3 24 0 1 1 235-1 1-1 16 0 2-4 0-9-2-4-114 1-1 1-159-1-6-2-15-19-20-1-1-1-23 0-1-1-41 0z" fill="url(#pb6)" fill-rule="evenodd"/><path d="M2491 892h0m1-49h0m4-166h0m1 24h0m1 132h0m2-100h0m1 105h0m0 45h0m1-153h0m3 105h0m2 21h0m0 13h0m1-141h0m4 119h0m4 11h0m0 11h0m1-158h0m0 125h0m0 77h0m1-72h0m3-115h0m4-102h0m0 95h0m0 7h0m1 111h0m1-107h0m2 2h0m0 111h0m0 5h0m0 40h0m2-160h0m4-29h0m1 216h0m3-190h0m1-51h0m2-38h0m2 284h0m1-72h0m3-3h0m3-128h0m0 17h0m5 161h0m3-57h0m1 12h0m3-131h0m0 12h0m2-128h0m3 237h0m1 127h0m2-236h0m0 118h0m1-167h0m1 28h0m0 272h0m2-259h0m0 7h0m0 137h0m1-138h0m3-86h0m5 197h0m2 13h0m1-10h0m1-167h0m4 180h0m5-1h0m1-222h0m0 121h0m2 109h0m1 16h0m4-128h0m4-26h0m0 139h0m2 0h0m3-110h0m0 124h0m1-8h0m4 23h0m1-141h0m0 111h0m1-112h0m3 3h0m2-4h0m1-5h0m0 136h0m0 29h0m6-160h0m1-85h0m0 82h0m0 173h0m2-175h0m5 116h0m5-202h0m2 202h0m5-104h0m1-13h0m0 123h0m3-127h0m0 16h0m2-98h0m1 202h0m2-120h0m1 12h0m0 106h0m0 5h0m1-112h0m0 116h0m5-120h0m1-2h0m2 113h0m2 12h0m3-7h0m0 18h0m0 33h0m2-56h0m2 115h0m1-235h0m0 125h0m9 57h0m2-194h0m1-57h0m0 85h0m1-5h0m2 110h0m0 7h0m1-178h0m5 208h0m5-153h0m1 7h0m2 111h0m2-106h0m1 0h0m0 102h0m0 10h0m0 24h0m1-136h0m2-8h0m2 8h0m0 122h0m3-143h0m2-5h0m0 199h0m2-177h0m0 166h0m1-49h0m2-2h0m1-8h0m2-102h0m0 110h0m1 43h0m2-158h0m6 139h0m1-140h0m1-6h0m0 129h0m1-166h0m0 12h0m0 36h0m2 2h0m0 146h0m1-196h0m4 29h0m2 124h0m2-106h0m1 113h0m2-128h0m2 120h0m3-105h0m1-43h0m0 12h0m3 11h0m0 130h0m1-4h0m2-163h0m1 212h0m1-52h0m1-106h0m1 111h0m3-4h0m3-135h0m0 18h0m1-58h0m0 73h0m3-3h0m2-22h0m1 20h0m1 109h0m1-107h0m0 135h0m7-185h0m1 22h0m2 205h0m3-175h0m5 109h0m1-8h0m5 1h0m4-101h0m2 139h0m2-149h0m3 118h0m1 93h0m1-224h0m1 128h0m2 0h0m4 1h0m4-7h0m4-111h0m0 117h0m0 8h0m1-117h0m2 231h0m1-237h0m0 1h0m1 122h0m1-11h0m0 9h0m3-124h0m0 125h0m1-132h0m3-17h0m2 17h0m4-4h0m3 10h0m0 137h0m3-157h0m3 21h0m2 128h0m4 81h0m5-210h0m0 119h0m0 2h0m1-113h0m1 166h0" stroke="#12309e" stroke-width="2.7" stroke-linecap="round"/>
<path d="M2588.3 584.3V988.3" stroke="#000" stroke-width="2.8" stroke-dasharray="17.1 5 2.7 5"/>
<rect x="2723.4" y="592.1" width="170.8" height="78" rx="3.3" fill="#fff" fill-opacity="0.97" stroke="#ccc" stroke-width="1.3"/>
<circle cx="2746.7" cy="607.3" r="4.9" fill="#0b44de"/>
<text x="2776.8" y="612.4" font-size="16.7" fill="#725757" text-anchor="start" >First 92 Dims</text>
<circle cx="2746.7" cy="631.8" r="4.9" fill="#e20808"/>
<text x="2776.8" y="636.9" font-size="16.7" fill="#725757" text-anchor="start" >Last 36 Dims</text>
<circle cx="2746.7" cy="656.3" r="4.9" fill="#c65a12"/>
<text x="2776.8" y="661.4" font-size="16.7" fill="#725757" text-anchor="start" >Overall Dims</text>
<path d="M2490.1 805.7 L2490.5 868.9 L2490.9 902.7 L2491.2 922.4 L2491.6 935 L2492 945 L2492.3 952.7 L2492.7 958.1 L2493.1 961.6 L2493.5 963.9 L2493.8 965.3 L2494.2 966.4 L2494.6 967.3 L2494.9 967.9 L2495.3 968.4 L2495.7 968.7 L2496 968.9 L2496.4 968.9 L2496.8 968.8 L2497.1 968.8 L2497.5 968.7 L2497.9 968.6 L2498.2 968.5 L2498.6 968.4 L2499 968.3 L2499.4 968.2 L2499.7 968.1 L2500.1 968 L2500.5 967.8 L2500.8 967.7 L2501.2 967.6 L2501.6 967.5 L2501.9 967.3 L2502.3 967.2 L2502.7 967.1 L2503 966.9 L2503.4 966.8 L2503.8 966.7 L2504.2 966.5 L2504.5 966.4 L2504.9 966.3 L2505.3 966.1 L2505.8 966 L2506.2 965.9 L2506.7 965.7 L2507.1 965.6 L2507.6 965.4 L2508.1 965.3 L2508.6 965.1 L2509.1 965 L2509.7 964.8 L2510.2 964.7 L2510.8 964.6 L2511.4 964.4 L2512 964.3 L2512.6 964.1 L2513.2 964 L2513.9 963.9 L2514.5 963.7 L2515.2 963.6 L2515.9 963.5 L2516.6 963.3 L2517.4 963.2 L2518.2 963.1 L2518.9 962.9 L2519.8 962.8 L2520.6 962.6 L2521.5 962.5 L2522.3 962.3 L2523.2 962.2 L2524.2 962 L2525.1 961.9 L2526.1 961.7 L2527.1 961.6 L2528.2 961.4 L2529.3 961.3 L2530.4 961.1 L2531.5 960.9 L2532.7 960.8 L2533.9 960.6 L2535.1 960.4 L2536.3 960.3 L2537.7 960.1 L2539 960 L2540.4 959.8 L2541.8 959.6 L2543.2 959.5 L2544.7 959.3 L2546.3 959.1 L2547.9 959 L2549.5 958.8 L2551.2 958.7 L2552.9 958.5 L2554.6 958.3 L2556.5 958.2 L2558.3 958 L2560.3 957.8 L2562.2 957.6 L2564.3 957.4 L2566.3 957.3 L2568.5 957.1 L2570.7 956.9 L2573 956.8 L2575.3 956.6 L2577.7 956.5 L2580.2 956.3 L2582.7 956.2 L2585.3 956.1 L2588 956.1 L2590.8 956 L2593.6 955.9 L2596.5 955.9 L2599.5 955.8 L2602.6 955.8 L2605.8 955.7 L2609 955.7 L2612.4 955.7 L2615.8 955.6 L2619.4 955.6 L2623 955.5 L2626.7 955.5 L2630.6 955.5 L2634.6 955.4 L2638.6 955.4 L2642.8 955.4 L2647.1 955.4 L2651.5 955.3 L2656.1 955.3 L2660.8 955.3 L2665.6 955.2 L2670.5 955.2 L2675.6 955.2 L2680.8 955.2 L2686.2 955.1 L2691.7 955.1 L2697.4 955.1 L2703.2 955 L2709.2 955 L2715.4 955 L2721.8 954.9 L2728.3 954.9 L2735 954.9 L2741.9 954.8 L2749 954.8 L2756.3 954.8 L2763.8 954.7 L2771.5 954.7 L2779.4 954.7 L2787.6 954.6 L2796 954.6 L2804.6 954.5 L2813.5 954.5 L2822.6 954.5 L2831.9 954.4 L2841.6 954.4 L2851.5 954.4 L2861.7 954.3 L2872.1 954.3 L2882.9 954.3" stroke="#741c98" stroke-width="2.5" fill="none" stroke-linejoin="round"/>
<rect x="2470.5" y="584.3" width="432" height="404" fill="none" stroke="#000" stroke-width="1.5"/>
<path d="M2490.1 988.3v4.8M2550.1 988.3v4.8M2610 988.3v4.8M2669.9 988.3v4.8M2729.9 988.3v4.8M2789.8 988.3v4.8M2849.7 988.3v4.8M2470.5 959.4h-4.8M2470.5 901.7h-4.8M2470.5 844h-4.8M2470.5 786.3h-4.8M2470.5 728.6h-4.8M2470.5 670.9h-4.8M2470.5 613.2h-4.8M2902.5 980.5h4.8M2902.5 902.8h4.8M2902.5 825.1h4.8M2902.5 747.5h4.8M2902.5 669.8h4.8M2902.5 592.1h4.8" stroke="#000" stroke-width="1.3" fill="none"/>
<text x="2490.1" y="1008.9" font-size="13.5" fill="#000" text-anchor="middle" >0</text>
<text x="2550.1" y="1008.9" font-size="13.5" fill="#000" text-anchor="middle" >2500</text>
<text x="2610" y="1008.9" font-size="13.5" fill="#000" text-anchor="middle" >5000</text>
<text x="2669.9" y="1008.9" font-size="13.5" fill="#000" text-anchor="middle" >7500</text>
<text x="2729.9" y="1008.9" font-size="13.5" fill="#000" text-anchor="middle" >10000</text>
<text x="2789.8" y="1008.9" font-size="13.5" fill="#000" text-anchor="middle" >12500</text>
<text x="2849.7" y="1008.9" font-size="13.5" fill="#000" text-anchor="middle" >15000</text>
<text x="2460" y="964.3" font-size="13.5" fill="#8c564b" text-anchor="end" >−15</text>
<text x="2460" y="906.6" font-size="13.5" fill="#8c564b" text-anchor="end" >−10</text>
<text x="2460" y="848.9" font-size="13.5" fill="#8c564b" text-anchor="end" >−5</text>
<text x="2460" y="791.2" font-size="13.5" fill="#8c564b" text-anchor="end" >0</text>
<text x="2460" y="733.5" font-size="13.5" fill="#8c564b" text-anchor="end" >5</text>
<text x="2460" y="675.8" font-size="13.5" fill="#8c564b" text-anchor="end" >10</text>
<text x="2460" y="618.1" font-size="13.5" fill="#8c564b" text-anchor="end" >15</text>
<text x="2912.8" y="985.4" font-size="13.5" fill="#681c94" text-anchor="start" >0</text>
<text x="2912.8" y="907.7" font-size="13.5" fill="#681c94" text-anchor="start" >20</text>
<text x="2912.8" y="830" font-size="13.5" fill="#681c94" text-anchor="start" >40</text>
<text x="2912.8" y="752.4" font-size="13.5" fill="#681c94" text-anchor="start" >60</text>
<text x="2912.8" y="674.7" font-size="13.5" fill="#681c94" text-anchor="start" >80</text>
<text x="2912.8" y="597" font-size="13.5" fill="#681c94" text-anchor="start" >100</text>
<text x="2686.5" y="575" font-size="25.3" fill="#000" text-anchor="middle" >in first 16k</text>
<text transform="translate(2421,786.3) rotate(-90)" font-size="22.4" fill="#8c564b" text-anchor="middle">Attention score</text>
<text transform="translate(2961,787.8) rotate(-90)" font-size="22.4" fill="#681c94" text-anchor="middle">Perplexity</text>
<path d="M2490.1 1412.6l2.1 .2 2 .6 2 1.1 2.1 1.5 2 1.8 2.1 2.2 2 2.5 2 2.7 2.1 3 2 3.2 2.1 3.2 2 3.3 2 3.3 2.1 3.3 2 3.1 2 3 2.1 2.7 2 2.5 2.1 2.2 2 1.8 2 1.5 2.1 1.1 2 .6 2 .2 2.1-.2 2-.6 2.1-1.1 2-1.5 2-1.8 2.1-2.2 2-2.5 2-2.7 2.1-3 2-3.1 2.1-3.3 2-3.3 2-3.3 2.1-3.2 2-3.2 2-3 2.1-2.7 2-2.5 2.1-2.2 2-1.8 2-1.5 2.1-1.1 2-.6 2-.2 2.1 .2 2 .6 2.1 1.1 2 1.5 2 1.8 2.1 2.2 2 2.5 2 2.7 2.1 3 2 3.2 2.1 3.2 2 3.3 2 3.3 2.1 3.3 2 3.1 2 3 2.1 2.7 2 2.5 2.1 2.2 2 1.8 2 1.5 2.1 1.1 2 .6 2 .2 2.1-.2 2-.6 2.1-1.1 2-1.5 2-1.8 2.1-2.2 2-2.5 2.1-2.7 2-3 2-3.1 2.1-3.3 2-3.3 2-3.3 2.1-3.2 2-3.2 2.1-3 2-2.7 2-2.5 2.1-2.2 2-1.8 2-1.5 2.1-1.1 2-.6 2.1-.2 2 .2 2 .6 2.1 1.1 2 1.5 2 1.8 2.1 2.2 2 2.5 2.1 2.7 2 3 2 3.2 2.1 3.2 2 3.3 2 3.3 2.1 3.3 2 3.1 2.1 3 2 2.7 2 2.5 2.1 2.2 2 1.8 2 1.5 2.1 1.1 2 .6 2.1 .2 2-.2 2-.6 2.1-1.1 2-1.5 2-1.8 2.1-2.2 2-2.5 2.1-2.7 2-3 2-3.1 2.1-3.3 2-3.3 2-3.3 2.1-3.2 2-3.2 2.1-3 2-2.7 2-2.5 2.1-2.2 2-1.8 2-1.5 2.1-1.1 2-.6 2.1-.2 2 .2 2 .6 2.1 1.1 2 1.5 2.1 1.8 2 2.2 2 2.5 2.1 2.7 2 3 2 3.2 2.1 3.2 2 3.3 2.1 3.3 2 3.3 2 3.1 2.1 3 2 2.7 2 2.5 2.1 2.2 2 1.8 2.1 1.5 2 1.1 2 .6 2.1 .2 2-.2 2-.6 2.1-1.1 2-1.5 2.1-1.8 2-2.2 2-2.5 2.1-2.7 2-3 2-3.1 2.1-3.3 2-3.3 2.1-3.3 2-3.2 2-3.2 2.1-3 2-2.7 2-2.5 2.1-2.2 2-1.8 2.1-1.5 2-1.1 2-.6 2.1-.2 1.5 .1" stroke="#f27a1e" stroke-width="1.65" fill="none"/>
<path d="M2490.1 1349.3l6.6 0 6.5 .3 6.6 .4 6.5 .6 6.6 .8 6.5 1 6.6 1 6.5 1.3 6.5 1.3 6.6 1.5 6.5 1.7 6.6 1.7 6.5 1.8 6.6 1.9 6.5 2 6.6 2 6.5 2.1 6.6 2.1 6.5 2.1 6.5 2.1 6.6 2.1 6.5 2 6.6 2.1 6.5 1.9 6.6 1.9 6.5 1.8 6.6 1.7 6.5 1.6 6.6 1.4 6.5 1.4 6.5 1.2 6.6 1 6.5 .9 6.6 .7 6.5 .6 6.6 .4 6.5 .2 6.6 0 6.5-.1 6.6-.3 6.5-.5 6.5-.7 6.6-.8 6.5-1 6.6-1.1 6.5-1.3 6.6-1.4 6.5-1.5 6.6-1.7 6.5-1.7 6.6-1.9 6.5-1.9 6.5-2 6.6-2 6.5-2.1 6.6-2.1 6.5-2.1 6.6-2.1 6.5-2.1 6.6-2" stroke="#c4561a" stroke-width="1.65" fill="none"/>
<path d="M2490.1 1285.9l6.6 0 6.5 0 6.6 .1 6.5 0 6.6 0 6.5 .1 6.6 0 6.5 .1 6.5 0 6.6 .1 6.5 0 6.6 .1 6.5 .1 6.6 .1 6.5 .1 6.6 .1 6.5 .1 6.6 .1 6.5 .2 6.5 .1 6.6 .1 6.5 .2 6.6 .1 6.5 .2 6.6 .2 6.5 .1 6.6 .2 6.5 .2 6.6 .2 6.5 .2 6.5 .2 6.6 .2 6.5 .2 6.6 .2 6.5 .2 6.6 .3 6.5 .2 6.6 .3 6.5 .2 6.6 .3 6.5 .2 6.5 .3 6.6 .2 6.5 .3 6.6 .3 6.5 .3 6.6 .3 6.5 .3 6.6 .3 6.5 .3 6.6 .3 6.5 .3 6.5 .3 6.6 .3 6.5 .4 6.6 .3 6.5 .3 6.6 .4 6.5 .3 6.6 .4" stroke="#7f3012" stroke-width="1.65" fill="none"/>
<path d="M2490.1 1222.6l6.6 0 6.5 0 6.6 0 6.5 0 6.6 .1 6.5 0 6.6 0 6.5 .1 6.5 0 6.6 0 6.5 .1 6.6 0 6.5 .1 6.6 0 6.5 .1 6.6 .1 6.5 .1 6.6 0 6.5 .1 6.5 .1 6.6 .1 6.5 .1 6.6 .1 6.5 .1 6.6 .1 6.5 .1 6.6 .1 6.5 .1 6.6 .2 6.5 .1 6.5 .1 6.6 .2 6.5 .1 6.6 .2 6.5 .1 6.6 .2 6.5 .1 6.6 .2 6.5 .1 6.6 .2 6.5 .2 6.5 .2 6.6 .1 6.5 .2 6.6 .2 6.5 .2 6.6 .2 6.5 .2 6.6 .2 6.5 .2 6.6 .2 6.5 .2 6.5 .2 6.6 .3 6.5 .2 6.6 .2 6.5 .2 6.6 .3 6.5 .2 6.6 .3" stroke="#6e3616" stroke-width="1.65" fill="none" stroke-dasharray="6.1 2.6"/>
<path d="M2490.1 1159.3l6.6 0 6.5 0 6.6 0 6.5 0 6.6 0 6.5 0 6.6 0 6.5 0 6.5 0 6.6 0 6.5 0 6.6 0 6.5 0 6.6 0 6.5 0 6.6 0 6.5 0 6.6 0 6.5 0 6.5 0 6.6 0 6.5 0 6.6 0 6.5 0 6.6 0 6.5 0 6.6 0 6.5 0 6.6 0 6.5 .1 6.5 0 6.6 0 6.5 0 6.6 0 6.5 0 6.6 0 6.5 0 6.6 0 6.5 0 6.6 0 6.5 0 6.5 0 6.6 0 6.5 0 6.6 0 6.5 0 6.6 0 6.5 0 6.6 .1 6.5 0 6.6 0 6.5 0 6.5 0 6.6 0 6.5 0 6.6 0 6.5 0 6.6 0 6.5 0 6.6 0" stroke="#a85a22" stroke-width="1.65" fill="none" stroke-dasharray="6.1 2.6"/>
<path d="M2490.1 1096l6.6 0 6.5 0 6.6 0 6.5 0 6.6 0 6.5 0 6.6 0 6.5 0 6.5 0 6.6 0 6.5 0 6.6 0 6.5 0 6.6 0 6.5 0 6.6 0 6.5 0 6.6 0 6.5 0 6.5 0 6.6 0 6.5 0 6.6 0 6.5 0 6.6 0 6.5 0 6.6 0 6.5 0 6.6 0 6.5 0 6.5 0 6.6 0 6.5 0 6.6 0 6.5 0 6.6 0 6.5 0 6.6 0 6.5 0 6.6 0 6.5 0 6.5 0 6.6 0 6.5 0 6.6 0 6.5 0 6.6 0 6.5 0 6.6 0 6.5 0 6.6 0 6.5 0 6.5 0 6.6 0 6.5 0 6.6 0 6.5 0 6.6 0 6.5 0 6.6 0" stroke="#e08a34" stroke-width="1.65" fill="none" stroke-dasharray="6.1 2.6"/>
<path d="M2588.3 1077.6V1481.6" stroke="#000" stroke-width="2.8" stroke-dasharray="17.1 5 2.7 5"/>
<rect x="2739.2" y="1084.5" width="156.4" height="133.7" rx="2.7" fill="#fff" fill-opacity="0.97" stroke="#ccc" stroke-width="1.2"/>
<path d="M2743.9 1096.7h29" stroke="#f27a1e" stroke-width="1.65"/>
<text x="2783.5" y="1101.7" font-size="14.0" fill="#000" text-anchor="start" ><tspan font-style="italic">cos</tspan>(<tspan font-style="italic">θ</tspan><tspan font-style="italic" font-size="9.8" dy="3.1">n</tspan><tspan font-style="italic" dy="-3.1">t</tspan>) n=60</text>
<path d="M2743.9 1118.4h29" stroke="#c4561a" stroke-width="1.65"/>
<text x="2783.5" y="1123.4" font-size="14.0" fill="#000" text-anchor="start" ><tspan font-style="italic">cos</tspan>(<tspan font-style="italic">θ</tspan><tspan font-style="italic" font-size="9.8" dy="3.1">n</tspan><tspan font-style="italic" dy="-3.1">t</tspan>) n=75</text>
<path d="M2743.9 1140h29" stroke="#7f3012" stroke-width="1.65"/>
<text x="2783.5" y="1145" font-size="14.0" fill="#000" text-anchor="start" ><tspan font-style="italic">cos</tspan>(<tspan font-style="italic">θ</tspan><tspan font-style="italic" font-size="9.8" dy="3.1">n</tspan><tspan font-style="italic" dy="-3.1">t</tspan>) n=90</text>
<path d="M2743.9 1161.7h29" stroke="#6e3616" stroke-width="1.65" stroke-dasharray="6.1 2.6"/>
<text x="2783.5" y="1166.7" font-size="14.0" fill="#000" text-anchor="start" ><tspan font-style="italic">cos</tspan>(<tspan font-style="italic">θ</tspan><tspan font-style="italic" font-size="9.8" dy="3.1">n</tspan><tspan font-style="italic" dy="-3.1">t</tspan>) n=92</text>
<path d="M2743.9 1183.3h29" stroke="#a85a22" stroke-width="1.65" stroke-dasharray="6.1 2.6"/>
<text x="2783.5" y="1188.3" font-size="14.0" fill="#000" text-anchor="start" ><tspan font-style="italic">cos</tspan>(<tspan font-style="italic">θ</tspan><tspan font-style="italic" font-size="9.8" dy="3.1">n</tspan><tspan font-style="italic" dy="-3.1">t</tspan>) n=108</text>
<path d="M2743.9 1205h29" stroke="#e08a34" stroke-width="1.65" stroke-dasharray="6.1 2.6"/>
<text x="2783.5" y="1210" font-size="14.0" fill="#000" text-anchor="start" ><tspan font-style="italic">cos</tspan>(<tspan font-style="italic">θ</tspan><tspan font-style="italic" font-size="9.8" dy="3.1">n</tspan><tspan font-style="italic" dy="-3.1">t</tspan>) n=126</text>
<path d="M2490.1 1299 L2490.5 1362.2 L2490.9 1396 L2491.2 1415.7 L2491.6 1428.3 L2492 1438.3 L2492.3 1446 L2492.7 1451.4 L2493.1 1454.9 L2493.5 1457.2 L2493.8 1458.6 L2494.2 1459.7 L2494.6 1460.6 L2494.9 1461.2 L2495.3 1461.7 L2495.7 1462 L2496 1462.2 L2496.4 1462.2 L2496.8 1462.1 L2497.1 1462.1 L2497.5 1462 L2497.9 1461.9 L2498.2 1461.8 L2498.6 1461.7 L2499 1461.6 L2499.4 1461.5 L2499.7 1461.4 L2500.1 1461.3 L2500.5 1461.1 L2500.8 1461 L2501.2 1460.9 L2501.6 1460.8 L2501.9 1460.6 L2502.3 1460.5 L2502.7 1460.4 L2503 1460.2 L2503.4 1460.1 L2503.8 1460 L2504.2 1459.8 L2504.5 1459.7 L2504.9 1459.6 L2505.3 1459.4 L2505.8 1459.3 L2506.2 1459.2 L2506.7 1459 L2507.1 1458.9 L2507.6 1458.7 L2508.1 1458.6 L2508.6 1458.4 L2509.1 1458.3 L2509.7 1458.1 L2510.2 1458 L2510.8 1457.9 L2511.4 1457.7 L2512 1457.6 L2512.6 1457.4 L2513.2 1457.3 L2513.9 1457.2 L2514.5 1457 L2515.2 1456.9 L2515.9 1456.8 L2516.6 1456.6 L2517.4 1456.5 L2518.2 1456.4 L2518.9 1456.2 L2519.8 1456.1 L2520.6 1455.9 L2521.5 1455.8 L2522.3 1455.6 L2523.2 1455.5 L2524.2 1455.3 L2525.1 1455.2 L2526.1 1455 L2527.1 1454.9 L2528.2 1454.7 L2529.3 1454.6 L2530.4 1454.4 L2531.5 1454.2 L2532.7 1454.1 L2533.9 1453.9 L2535.1 1453.7 L2536.3 1453.6 L2537.7 1453.4 L2539 1453.3 L2540.4 1453.1 L2541.8 1452.9 L2543.2 1452.8 L2544.7 1452.6 L2546.3 1452.4 L2547.9 1452.3 L2549.5 1452.1 L2551.2 1452 L2552.9 1451.8 L2554.6 1451.6 L2556.5 1451.5 L2558.3 1451.3 L2560.3 1451.1 L2562.2 1450.9 L2564.3 1450.7 L2566.3 1450.6 L2568.5 1450.4 L2570.7 1450.2 L2573 1450.1 L2575.3 1449.9 L2577.7 1449.8 L2580.2 1449.6 L2582.7 1449.5 L2585.3 1449.4 L2588 1449.4 L2590.8 1449.3 L2593.6 1449.2 L2596.5 1449.2 L2599.5 1449.1 L2602.6 1449.1 L2605.8 1449 L2609 1449 L2612.4 1449 L2615.8 1448.9 L2619.4 1448.9 L2623 1448.8 L2626.7 1448.8 L2630.6 1448.8 L2634.6 1448.7 L2638.6 1448.7 L2642.8 1448.7 L2647.1 1448.7 L2651.5 1448.6 L2656.1 1448.6 L2660.8 1448.6 L2665.6 1448.5 L2670.5 1448.5 L2675.6 1448.5 L2680.8 1448.5 L2686.2 1448.4 L2691.7 1448.4 L2697.4 1448.4 L2703.2 1448.3 L2709.2 1448.3 L2715.4 1448.3 L2721.8 1448.2 L2728.3 1448.2 L2735 1448.2 L2741.9 1448.1 L2749 1448.1 L2756.3 1448.1 L2763.8 1448 L2771.5 1448 L2779.4 1448 L2787.6 1447.9 L2796 1447.9 L2804.6 1447.8 L2813.5 1447.8 L2822.6 1447.8 L2831.9 1447.7 L2841.6 1447.7 L2851.5 1447.7 L2861.7 1447.6 L2872.1 1447.6 L2882.9 1447.6" stroke="#741c98" stroke-width="2.9" fill="none" stroke-linejoin="round"/>
<rect x="2470.5" y="1077.6" width="432" height="404" fill="none" stroke="#000" stroke-width="1.5"/>
<path d="M2490.1 1481.6v4.8M2550.1 1481.6v4.8M2610 1481.6v4.8M2669.9 1481.6v4.8M2729.9 1481.6v4.8M2789.8 1481.6v4.8M2849.7 1481.6v4.8M2470.5 1437.9h-4.8M2470.5 1374.6h-4.8M2470.5 1311.3h-4.8M2470.5 1247.9h-4.8M2470.5 1184.6h-4.8M2470.5 1121.3h-4.8M2902.5 1473.8h4.8M2902.5 1396.1h4.8M2902.5 1318.4h4.8M2902.5 1240.8h4.8M2902.5 1163.1h4.8M2902.5 1085.4h4.8" stroke="#000" stroke-width="1.3" fill="none"/>
<text x="2490.1" y="1502.2" font-size="13.5" fill="#000" text-anchor="middle" >0</text>
<text x="2550.1" y="1502.2" font-size="13.5" fill="#000" text-anchor="middle" >2500</text>
<text x="2610" y="1502.2" font-size="13.5" fill="#000" text-anchor="middle" >5000</text>
<text x="2669.9" y="1502.2" font-size="13.5" fill="#000" text-anchor="middle" >7500</text>
<text x="2729.9" y="1502.2" font-size="13.5" fill="#000" text-anchor="middle" >10000</text>
<text x="2789.8" y="1502.2" font-size="13.5" fill="#000" text-anchor="middle" >12500</text>
<text x="2849.7" y="1502.2" font-size="13.5" fill="#000" text-anchor="middle" >15000</text>
<text x="2912.8" y="1478.7" font-size="13.5" fill="#681c94" text-anchor="start" >0</text>
<text x="2912.8" y="1401" font-size="13.5" fill="#681c94" text-anchor="start" >20</text>
<text x="2912.8" y="1323.3" font-size="13.5" fill="#681c94" text-anchor="start" >40</text>
<text x="2912.8" y="1245.7" font-size="13.5" fill="#681c94" text-anchor="start" >60</text>
<text x="2912.8" y="1168" font-size="13.5" fill="#681c94" text-anchor="start" >80</text>
<text x="2912.8" y="1090.3" font-size="13.5" fill="#681c94" text-anchor="start" >100</text>
<text x="2686.5" y="1068.4" font-size="25.3" fill="#000" text-anchor="middle" >cos of <tspan font-style="italic">θ</tspan><tspan font-style="italic" font-size="17.7" dy="4.5">n</tspan><tspan dy="-4.5"> for base=1000000</tspan></text>
<text transform="translate(2450.6,1279.6) rotate(-90)" font-size="22.4" fill="#8c564b" text-anchor="middle">Cos wave</text>
<text transform="translate(2962.5,1281.1) rotate(-90)" font-size="22.4" fill="#681c94" text-anchor="middle">Perplexity</text>
<g font-family="'Noto Sans CJK SC', 'WenQuanYi Zen Hei', sans-serif">
<g font-size="86.5"><text x="2287" y="1425" fill="#fff" stroke="#fff" stroke-width="6" opacity="0.9">知乎</text><text x="2505" y="1425" fill="#fff" stroke="#fff" stroke-width="6" opacity="0.9">@河畔草lxr</text>
<text x="2287" y="1425" fill="#acacac">知乎</text><text x="2505" y="1425" fill="#acacac">@河畔草lxr</text>
<g fill="none" stroke="#fff" stroke-width="2.6" transform="translate(-7,5)"><text x="2287" y="1425">知乎</text><text x="2505" y="1425">@河畔草lxr</text></g></g>
<text x="3017.5" y="1502" font-size="17.8" font-weight="300" fill="#999" text-anchor="end">@稀土掘金技术社区</text>
</g>
</svg></body></html>
